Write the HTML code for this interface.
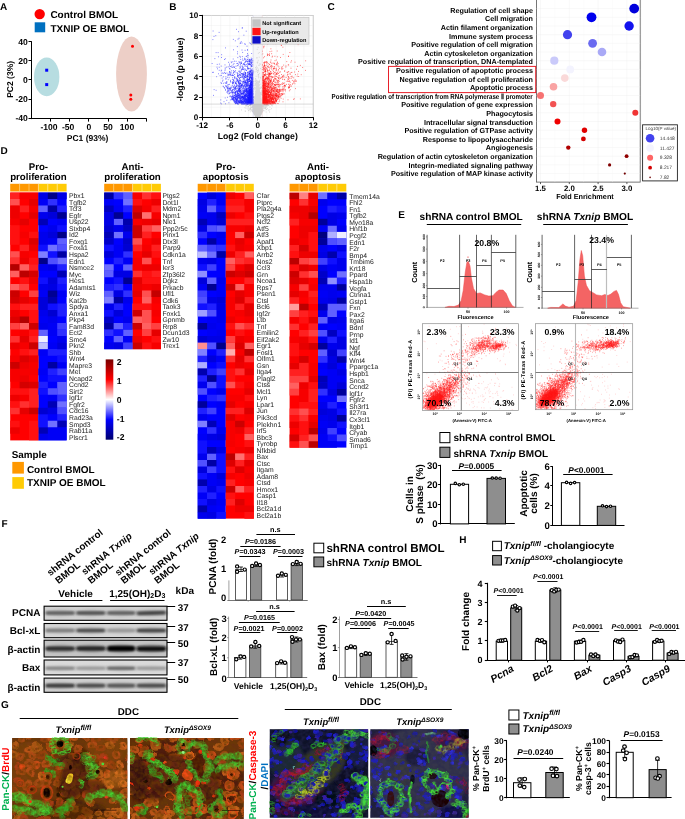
<!DOCTYPE html>
<html lang="en"><head><meta charset="utf-8"><title>Figure</title>
<style>
html,body{margin:0;padding:0;background:#fff;}
body{width:685px;height:819px;overflow:hidden;}
svg{display:block;font-family:"Liberation Sans",Arial,sans-serif;font-weight:bold;}
</style></head><body>
<svg width="685" height="819" viewBox="0 0 685 819" font-family="'Liberation Sans',Arial,sans-serif" font-weight="bold" text-rendering="geometricPrecision">
<rect width="685" height="819" fill="#fff"/>
<text x="0.0" y="10.0" font-size="10">A</text>
<circle cx="39.7" cy="14.1" r="5.2" fill="#FF0000"/>
<text x="50.4" y="17.9" font-size="10">Control BMOL</text>
<rect x="34.7" y="22.3" width="10.5" height="10.0" fill="#0070C0"/>
<text x="50.4" y="31.8" font-size="10">TXNIP OE BMOL</text>
<ellipse cx="46.7" cy="76.9" rx="12.7" ry="19.4" fill="#B7DDE1"/>
<ellipse cx="131.5" cy="74.0" rx="15.4" ry="37.6" fill="#EDCFC7"/>
<line x1="31.5" y1="41.2" x2="31.5" y2="119.1" stroke="#000" stroke-width="1"/>
<line x1="31.0" y1="118.5" x2="146.7" y2="118.5" stroke="#000" stroke-width="1"/>
<line x1="28.5" y1="41.5" x2="31.5" y2="41.5" stroke="#000" stroke-width="1"/>
<text x="27.8" y="44.7" font-size="8.6" text-anchor="end">40</text>
<line x1="28.5" y1="60.5" x2="31.5" y2="60.5" stroke="#000" stroke-width="1"/>
<text x="27.8" y="63.8" font-size="8.6" text-anchor="end">20</text>
<line x1="28.5" y1="79.5" x2="31.5" y2="79.5" stroke="#000" stroke-width="1"/>
<text x="27.8" y="82.9" font-size="8.6" text-anchor="end">0</text>
<line x1="28.5" y1="99.5" x2="31.5" y2="99.5" stroke="#000" stroke-width="1"/>
<text x="27.8" y="102.0" font-size="8.6" text-anchor="end">-20</text>
<line x1="28.5" y1="118.5" x2="31.5" y2="118.5" stroke="#000" stroke-width="1"/>
<text x="27.8" y="121.1" font-size="8.6" text-anchor="end">-40</text>
<line x1="50.5" y1="118.6" x2="50.5" y2="121.6" stroke="#000" stroke-width="1"/>
<text x="49.0" y="130.4" font-size="8.6" text-anchor="middle">-100</text>
<line x1="69.5" y1="118.6" x2="69.5" y2="121.6" stroke="#000" stroke-width="1"/>
<text x="68.1" y="130.4" font-size="8.6" text-anchor="middle">-50</text>
<line x1="88.5" y1="118.6" x2="88.5" y2="121.6" stroke="#000" stroke-width="1"/>
<text x="88.9" y="130.4" font-size="8.6" text-anchor="middle">0</text>
<line x1="108.5" y1="118.6" x2="108.5" y2="121.6" stroke="#000" stroke-width="1"/>
<text x="108.0" y="130.4" font-size="8.6" text-anchor="middle">50</text>
<line x1="127.5" y1="118.6" x2="127.5" y2="121.6" stroke="#000" stroke-width="1"/>
<text x="127.0" y="130.4" font-size="8.6" text-anchor="middle">100</text>
<line x1="146.5" y1="118.6" x2="146.5" y2="121.6" stroke="#000" stroke-width="1"/>
<text x="87.6" y="140.7" font-size="8.5" text-anchor="middle">PC1 (93%)</text>
<text x="12.8" y="79.4" font-size="8.5" text-anchor="middle" transform="rotate(-90 12.8 79.4)">PC2 (3%)</text>
<rect x="45.2" y="68.7" width="3.0" height="3.0" fill="#0000FF"/>
<rect x="45.2" y="83.1" width="3.0" height="3.0" fill="#0000FF"/>
<circle cx="132.5" cy="46.2" r="1.5" fill="#FF0000"/>
<circle cx="130.8" cy="95.1" r="1.5" fill="#FF0000"/>
<circle cx="130.8" cy="99.3" r="1.5" fill="#FF0000"/>
<text x="169.3" y="10.0" font-size="10">B</text>
<rect x="202.2" y="15.4" width="111.0" height="102.0" fill="#FFFFFF" stroke="#A8A8A8" stroke-width="0.7"/>
<line x1="202.2" y1="15.4" x2="202.2" y2="117.4" stroke="#EBEBEB" stroke-width="0.4"/>
<line x1="211.4" y1="15.4" x2="211.4" y2="117.4" stroke="#EBEBEB" stroke-width="0.4"/>
<line x1="220.7" y1="15.4" x2="220.7" y2="117.4" stroke="#EBEBEB" stroke-width="0.4"/>
<line x1="229.9" y1="15.4" x2="229.9" y2="117.4" stroke="#EBEBEB" stroke-width="0.4"/>
<line x1="239.2" y1="15.4" x2="239.2" y2="117.4" stroke="#EBEBEB" stroke-width="0.4"/>
<line x1="248.4" y1="15.4" x2="248.4" y2="117.4" stroke="#EBEBEB" stroke-width="0.4"/>
<line x1="257.7" y1="15.4" x2="257.7" y2="117.4" stroke="#EBEBEB" stroke-width="0.4"/>
<line x1="266.9" y1="15.4" x2="266.9" y2="117.4" stroke="#EBEBEB" stroke-width="0.4"/>
<line x1="276.2" y1="15.4" x2="276.2" y2="117.4" stroke="#EBEBEB" stroke-width="0.4"/>
<line x1="285.4" y1="15.4" x2="285.4" y2="117.4" stroke="#EBEBEB" stroke-width="0.4"/>
<line x1="294.7" y1="15.4" x2="294.7" y2="117.4" stroke="#EBEBEB" stroke-width="0.4"/>
<line x1="303.9" y1="15.4" x2="303.9" y2="117.4" stroke="#EBEBEB" stroke-width="0.4"/>
<line x1="313.2" y1="15.4" x2="313.2" y2="117.4" stroke="#EBEBEB" stroke-width="0.4"/>
<line x1="202.2" y1="117.4" x2="313.2" y2="117.4" stroke="#EBEBEB" stroke-width="0.4"/>
<line x1="202.2" y1="107.2" x2="313.2" y2="107.2" stroke="#EBEBEB" stroke-width="0.4"/>
<line x1="202.2" y1="97.0" x2="313.2" y2="97.0" stroke="#EBEBEB" stroke-width="0.4"/>
<line x1="202.2" y1="86.8" x2="313.2" y2="86.8" stroke="#EBEBEB" stroke-width="0.4"/>
<line x1="202.2" y1="76.6" x2="313.2" y2="76.6" stroke="#EBEBEB" stroke-width="0.4"/>
<line x1="202.2" y1="66.4" x2="313.2" y2="66.4" stroke="#EBEBEB" stroke-width="0.4"/>
<line x1="202.2" y1="56.2" x2="313.2" y2="56.2" stroke="#EBEBEB" stroke-width="0.4"/>
<line x1="202.2" y1="46.0" x2="313.2" y2="46.0" stroke="#EBEBEB" stroke-width="0.4"/>
<line x1="202.2" y1="35.8" x2="313.2" y2="35.8" stroke="#EBEBEB" stroke-width="0.4"/>
<line x1="202.2" y1="25.6" x2="313.2" y2="25.6" stroke="#EBEBEB" stroke-width="0.4"/>
<line x1="202.2" y1="15.4" x2="313.2" y2="15.4" stroke="#EBEBEB" stroke-width="0.4"/>
<rect x="253.1" y="15.4" width="9.2" height="102.0" fill="#F6F6F8"/>
<path d="M257.4 114.7h0M257.2 110.0h0M259.8 105.8h0M257.9 115.8h0M258.8 88.8h0M258.2 109.2h0M257.4 105.4h0M257.0 115.4h0M261.5 103.2h0M252.4 104.4h0M258.8 113.6h0M253.0 107.3h0M258.2 111.6h0M256.3 107.2h0M256.1 83.4h0M253.7 104.6h0M260.6 106.4h0M259.9 107.2h0M254.1 107.4h0M260.4 107.5h0M264.1 108.0h0M256.8 97.7h0M268.9 105.3h0M257.5 99.4h0M258.2 107.3h0M258.7 93.5h0M255.6 112.8h0M260.1 107.7h0M259.6 82.3h0M254.5 108.6h0M258.9 82.2h0M257.5 113.1h0M256.4 106.6h0M257.0 108.5h0M261.0 103.8h0M256.7 101.7h0M269.9 109.5h0M262.0 109.8h0M259.6 109.1h0M258.5 116.3h0M257.5 114.5h0M258.0 114.7h0M260.9 110.0h0M259.7 104.7h0M257.2 110.4h0M258.5 106.6h0M258.0 112.4h0M257.9 114.8h0M255.3 117.0h0M254.8 108.4h0M259.1 109.9h0M261.0 92.8h0M259.1 113.3h0M241.6 110.0h0M257.4 106.7h0M257.1 116.9h0M257.6 112.1h0M266.9 106.3h0M272.6 105.8h0M257.5 113.2h0M255.8 113.7h0M248.6 106.5h0M258.5 108.0h0M255.3 109.6h0M254.0 109.7h0M257.9 91.1h0M261.4 104.8h0M259.4 114.7h0M255.4 88.8h0M254.6 107.0h0M257.0 117.2h0M253.4 113.8h0M255.5 83.9h0M258.8 105.4h0M259.3 103.0h0M260.3 108.5h0M260.7 107.4h0M253.3 79.1h0M260.0 105.0h0M257.2 117.1h0M258.2 91.2h0M257.3 106.9h0M255.1 105.5h0M259.9 92.4h0M258.8 112.1h0M250.0 109.2h0M257.3 106.2h0M250.5 108.4h0M257.6 105.0h0M256.3 71.1h0M246.0 105.2h0M258.3 70.6h0M256.9 107.9h0M259.4 112.9h0M261.7 112.3h0M257.0 96.8h0M255.6 67.7h0M261.8 110.5h0M256.1 108.2h0M257.6 111.1h0M265.3 106.2h0M257.9 110.8h0M260.0 112.4h0M258.2 115.1h0M258.4 77.8h0M256.1 76.3h0M258.3 97.7h0M258.8 106.1h0M255.0 71.9h0M254.7 85.7h0M255.8 85.0h0M258.3 74.8h0M256.9 115.1h0M257.6 114.5h0M257.3 113.7h0M262.4 105.4h0M257.6 114.2h0M257.8 117.1h0M254.0 106.4h0M256.5 104.5h0M251.3 110.6h0M258.7 105.9h0M263.2 110.5h0M257.1 107.7h0M258.5 110.4h0M258.1 95.4h0M259.6 114.5h0M263.5 108.1h0M257.3 112.9h0M259.7 107.8h0M260.5 64.1h0M257.2 62.4h0M259.3 110.2h0M257.7 106.0h0M259.3 105.9h0M257.7 109.1h0M257.5 117.0h0M259.2 105.1h0M252.5 111.7h0M255.7 111.0h0M263.4 107.8h0M260.6 88.0h0M250.9 110.1h0M255.2 105.3h0M259.1 88.0h0M253.8 81.0h0M256.2 104.3h0M256.6 110.1h0M254.8 87.9h0M254.7 108.2h0M258.1 117.3h0M254.3 104.9h0M266.7 105.2h0M258.6 112.4h0M260.3 109.5h0M258.0 98.6h0M249.4 104.4h0M257.7 112.6h0M257.0 117.2h0M256.7 112.3h0M249.6 105.4h0M256.8 107.2h0M258.3 104.9h0M258.7 106.3h0M258.5 112.3h0M258.8 105.3h0M256.8 106.7h0M256.4 112.3h0M257.1 117.0h0M256.1 106.4h0M258.1 110.5h0M261.4 87.5h0M257.8 104.6h0M254.7 105.4h0M254.2 109.3h0M252.9 106.1h0M257.2 116.6h0M256.5 88.0h0M260.8 112.4h0M255.6 114.0h0M268.4 110.1h0M269.9 107.0h0M250.3 104.3h0M248.1 107.8h0M258.2 116.6h0M262.4 105.6h0M259.5 95.5h0M257.1 105.4h0M260.2 109.2h0M258.3 114.5h0M260.3 113.3h0M264.3 104.7h0M257.7 115.8h0M257.8 115.8h0M259.4 81.8h0M252.4 106.8h0M258.5 110.7h0M258.4 112.1h0M257.5 101.2h0M258.7 105.2h0M259.1 107.8h0M264.8 104.2h0M254.0 97.2h0M249.8 104.1h0M258.2 74.7h0M267.6 105.2h0M255.3 114.7h0M261.0 98.7h0M254.2 109.3h0M261.4 104.3h0M258.7 76.2h0M256.7 105.2h0M260.7 108.4h0M256.4 116.2h0M257.4 113.3h0M262.8 106.3h0M258.0 107.8h0M253.4 105.2h0M258.4 108.5h0M256.4 117.0h0M257.7 112.5h0M261.5 104.3h0M257.1 108.5h0M261.1 108.9h0M259.8 113.7h0M253.5 105.1h0M261.5 94.1h0M256.3 67.9h0M257.7 108.6h0M260.9 105.9h0M257.3 57.8h0M258.6 116.5h0M259.9 111.8h0M271.6 105.6h0M257.6 72.6h0M266.4 105.8h0M258.1 110.8h0M257.6 117.4h0M263.2 104.6h0M259.2 110.3h0M263.1 106.2h0M254.7 106.9h0M260.3 110.0h0M263.8 110.1h0M258.9 104.3h0M258.3 116.3h0M255.5 112.3h0M259.5 112.2h0M256.9 96.8h0M260.0 112.1h0M257.9 107.7h0M262.0 106.4h0M256.3 112.7h0M260.7 104.9h0M256.9 109.4h0M246.5 105.6h0M257.8 110.1h0M256.8 94.6h0M258.9 116.3h0M258.3 53.3h0M262.4 104.5h0M257.6 106.1h0M253.5 106.1h0M259.1 108.1h0M262.8 104.6h0M250.4 105.4h0M257.6 109.8h0M256.8 112.8h0M256.0 82.2h0M257.2 113.1h0M247.2 104.5h0M259.2 105.4h0M257.5 114.0h0M245.7 105.8h0M250.8 106.3h0M258.7 92.9h0M257.3 101.6h0M258.4 109.9h0M258.9 102.5h0M258.0 105.6h0M258.6 104.9h0M258.1 113.7h0M256.5 115.7h0M257.1 104.4h0M257.0 98.0h0M256.5 112.0h0M261.6 108.6h0M254.6 113.8h0M257.9 112.4h0M257.9 89.4h0M256.4 82.4h0M258.0 104.3h0M259.9 107.6h0M257.2 105.9h0M254.5 112.0h0M257.1 106.4h0M261.6 104.6h0M258.5 116.5h0M255.0 107.6h0M263.3 105.0h0M261.0 86.8h0M259.4 106.0h0M258.8 109.5h0M257.3 112.8h0M268.8 104.6h0M258.7 104.4h0M255.5 107.3h0M259.9 99.8h0M260.2 108.0h0M258.0 113.0h0M258.9 104.8h0M256.6 115.6h0M259.3 108.2h0M258.2 116.7h0M266.2 109.5h0M258.4 116.5h0M258.5 109.7h0M256.4 66.2h0M260.1 110.3h0M264.6 105.3h0M268.5 104.7h0M258.1 76.2h0M258.8 111.1h0M259.2 114.1h0M269.7 112.2h0M259.7 92.3h0M262.6 105.7h0M250.3 111.8h0M255.0 105.9h0M256.0 107.2h0M257.7 114.2h0M255.8 105.2h0M265.6 108.0h0M257.6 117.4h0M256.8 114.8h0M256.1 80.5h0M257.5 113.2h0M257.4 110.2h0M258.0 110.2h0M259.3 113.7h0M254.5 114.0h0M257.8 114.8h0M260.4 100.8h0M256.0 112.4h0M255.8 100.5h0M255.6 106.2h0M257.2 112.5h0M256.1 105.0h0M259.8 113.0h0M259.1 104.3h0M260.2 107.5h0M258.9 100.7h0M260.1 105.4h0M259.4 81.5h0M257.6 110.8h0M257.0 106.4h0M253.6 104.5h0M257.9 116.8h0M256.2 94.8h0M246.8 105.2h0M258.2 108.1h0M255.1 100.6h0M260.2 104.2h0M260.3 113.0h0M267.1 105.6h0M254.3 105.6h0M255.4 78.5h0M256.3 87.5h0M253.6 96.4h0M258.2 111.4h0M260.7 78.0h0M259.3 117.0h0M259.3 114.9h0M257.2 116.7h0M249.7 108.9h0M255.0 102.8h0M266.1 112.1h0M262.3 84.4h0M256.2 113.6h0M258.6 116.8h0M248.7 110.4h0M257.1 104.5h0M260.4 105.0h0M259.1 108.4h0M257.9 96.9h0M259.4 111.1h0M256.1 107.6h0M254.9 108.7h0M259.2 97.5h0M258.1 113.4h0M255.7 104.8h0M258.0 113.7h0M252.2 106.4h0M258.7 91.4h0M260.1 88.3h0M257.4 70.4h0M261.8 106.6h0M261.1 100.9h0M262.9 109.7h0M253.9 105.9h0M262.5 104.5h0M261.7 105.2h0M258.3 106.6h0M258.0 82.2h0M260.2 94.5h0M254.3 105.6h0M256.1 87.2h0M257.5 106.2h0M254.0 107.2h0M258.7 107.3h0M257.0 111.5h0M259.6 104.7h0M257.0 110.9h0M257.4 114.5h0M261.1 108.8h0M259.5 63.9h0M261.2 109.8h0M254.1 107.8h0M258.0 113.6h0M256.4 116.8h0M264.0 106.6h0M254.5 107.4h0M258.0 95.4h0M250.6 109.1h0M258.4 113.2h0M265.3 108.4h0M250.6 108.2h0M252.7 107.7h0M258.1 108.5h0M255.8 105.2h0M255.1 107.5h0M259.5 100.1h0M259.3 104.6h0M260.2 92.6h0M256.7 103.5h0M254.5 96.8h0M257.0 106.8h0M258.5 69.2h0M261.0 93.9h0M257.2 49.4h0M258.2 109.1h0M255.3 108.5h0M258.7 112.4h0M260.2 95.3h0M256.7 91.0h0M259.2 113.5h0M265.3 107.7h0M258.6 103.9h0M260.4 105.4h0M256.6 115.2h0M250.5 105.3h0M259.8 112.6h0M259.6 114.0h0M257.7 112.8h0M255.2 106.7h0M261.4 105.7h0M259.0 110.4h0M256.1 109.6h0M257.4 88.4h0M257.4 67.9h0M257.7 104.7h0M258.7 93.0h0M259.3 114.7h0M255.5 81.2h0M259.4 112.1h0M248.9 110.7h0M254.1 98.1h0M257.0 82.4h0M257.8 112.4h0M258.2 116.4h0M256.4 114.9h0M257.8 85.0h0M254.9 87.4h0M259.2 110.7h0M258.4 108.5h0M257.1 107.7h0M255.6 102.0h0M258.1 106.6h0M256.8 107.6h0M256.0 85.1h0M259.6 93.4h0M255.7 108.1h0M261.3 105.4h0M251.8 105.3h0M259.2 57.2h0M259.1 105.5h0M255.8 103.0h0M258.1 108.7h0M256.0 107.0h0M258.6 111.6h0M257.9 107.5h0M260.9 107.5h0M244.9 107.7h0M250.2 105.0h0M252.5 106.3h0M260.8 104.3h0M260.0 112.9h0M250.1 109.7h0M259.5 112.5h0M256.9 108.5h0M258.8 103.7h0M258.4 107.2h0M256.7 105.9h0M257.8 72.1h0M251.6 104.5h0M258.7 105.0h0M259.0 117.1h0M257.8 62.0h0M258.0 84.2h0M258.5 105.1h0M258.4 109.4h0M259.5 111.0h0M265.0 108.5h0M259.3 73.4h0M257.6 63.0h0M257.4 100.2h0M262.3 108.8h0M258.6 85.2h0M256.9 116.4h0M259.8 99.0h0M255.6 91.3h0M264.3 106.1h0M261.4 92.2h0M256.9 111.8h0M256.5 57.9h0M253.7 102.2h0M261.7 105.5h0M255.1 81.7h0M253.9 98.6h0M250.1 105.3h0M256.1 112.4h0M261.4 111.9h0M259.4 88.2h0M255.1 112.2h0M260.9 112.9h0M256.3 115.9h0M258.8 91.3h0M267.2 105.1h0M254.7 105.0h0M255.5 94.7h0M255.2 110.0h0M258.3 105.1h0M259.7 80.3h0M255.9 102.9h0M258.5 113.9h0M260.8 103.8h0M258.1 105.5h0M259.2 105.8h0M258.0 101.1h0M256.8 110.5h0M260.3 117.1h0M261.5 106.5h0M258.0 112.5h0M251.5 109.3h0M262.2 104.3h0M257.5 114.1h0M256.0 116.5h0M256.1 69.4h0M265.2 105.9h0M258.9 65.2h0M254.2 103.8h0M246.1 105.9h0M261.1 114.6h0M257.1 116.8h0M260.5 110.3h0M250.2 104.3h0M256.2 114.8h0M266.1 105.4h0M256.5 94.3h0M257.7 111.0h0M258.3 114.4h0M257.6 114.9h0M256.8 104.9h0M258.7 74.5h0M261.2 107.7h0M265.6 107.7h0M258.5 110.6h0M251.6 104.7h0M257.4 116.4h0M255.0 84.0h0M258.5 108.7h0M261.7 105.6h0M255.9 106.4h0M262.1 54.6h0M256.9 80.6h0M256.9 111.9h0M255.2 113.7h0M258.1 111.8h0M256.4 105.4h0M268.6 105.6h0M257.9 117.4h0M253.9 106.2h0M257.1 105.0h0M258.5 115.0h0M267.0 104.9h0M256.8 115.9h0M256.8 113.6h0M254.8 107.3h0M256.0 116.3h0M249.6 104.3h0M262.9 105.6h0M262.3 104.2h0M252.4 106.5h0M257.3 110.5h0M258.4 114.5h0M260.4 102.7h0M257.8 105.6h0M259.5 96.9h0M253.6 97.1h0M261.9 94.7h0M262.3 106.6h0M257.3 105.1h0M257.4 105.0h0M257.7 115.6h0M259.6 115.7h0M258.1 107.4h0M258.1 105.3h0M267.4 108.6h0M259.0 115.3h0M257.5 106.1h0M258.2 115.0h0M259.4 85.2h0M264.0 104.8h0M263.2 106.1h0M255.4 106.8h0M258.0 71.1h0M256.3 110.7h0M259.3 52.5h0M245.2 110.9h0M262.4 105.5h0M256.6 108.4h0M252.8 104.4h0M259.6 105.9h0M259.6 114.9h0M255.7 107.7h0M267.0 104.3h0M249.4 105.2h0M256.6 113.4h0M265.1 105.2h0M259.1 108.1h0M257.1 100.4h0M260.3 102.7h0M257.1 107.1h0M258.1 114.8h0M258.3 108.9h0M259.1 112.8h0M261.7 107.5h0M258.8 100.3h0M261.0 104.4h0M252.6 105.1h0M258.0 105.7h0M259.8 103.0h0M258.1 105.1h0M256.4 106.4h0M258.4 116.3h0M256.4 109.4h0M258.9 95.7h0M260.4 108.9h0M256.3 110.7h0M264.9 110.9h0M247.9 109.0h0M256.6 106.4h0M254.3 104.6h0M244.8 104.2h0M256.6 108.6h0M263.4 105.8h0M255.9 107.4h0M256.1 107.0h0M259.1 111.1h0M261.8 106.2h0M256.3 111.5h0M256.9 103.4h0M256.4 105.5h0M265.7 105.0h0M256.7 116.6h0M254.9 109.4h0M256.9 105.5h0M255.7 102.7h0M256.5 69.2h0M255.9 109.7h0M253.6 104.0h0M252.1 106.5h0M259.7 101.4h0M257.7 89.8h0M260.5 111.2h0M257.4 115.5h0M247.3 106.1h0M256.0 111.8h0M257.6 114.1h0M254.3 104.3h0M256.5 92.1h0M259.8 111.5h0M250.0 104.9h0M256.0 104.3h0M256.5 108.8h0M257.7 114.6h0M257.2 114.3h0M254.6 89.1h0M256.7 117.2h0M253.5 105.7h0M259.6 112.3h0M255.9 79.2h0M256.9 109.4h0M254.9 101.6h0M259.3 116.7h0M255.9 80.0h0M260.5 68.6h0M257.5 109.3h0M256.2 83.4h0M257.8 91.7h0M258.4 114.0h0M255.7 104.6h0M259.8 109.5h0M259.0 116.3h0M259.4 112.8h0M257.7 112.0h0M259.3 105.6h0M259.2 97.4h0M260.3 104.6h0M258.1 87.9h0M256.5 96.5h0M259.1 65.5h0M260.7 113.2h0M257.5 115.1h0M253.2 107.3h0M257.0 112.8h0M255.1 104.6h0M257.2 104.6h0M261.5 99.9h0M257.2 111.3h0M258.3 86.3h0M259.9 99.7h0M259.3 106.1h0M257.4 116.3h0M259.2 96.8h0M260.2 109.0h0M252.1 111.2h0M259.8 112.1h0M259.4 105.7h0M257.2 99.8h0M253.4 105.7h0M258.9 112.8h0M260.4 108.6h0M258.0 116.7h0M258.6 109.6h0M257.1 111.3h0M254.8 107.2h0M257.5 108.3h0M258.6 117.4h0M258.5 104.3h0M252.8 107.5h0M259.5 112.8h0M260.2 77.3h0M265.6 105.9h0M262.5 110.4h0M258.7 115.9h0M255.6 108.3h0M261.8 106.3h0M255.0 97.8h0M258.7 105.7h0M256.3 104.3h0M259.3 107.0h0M253.3 107.8h0M258.9 112.7h0M258.1 113.7h0M257.3 115.0h0M255.8 112.9h0M259.3 107.8h0M256.9 82.1h0M255.7 103.9h0M261.2 94.1h0M255.7 99.5h0M253.8 110.5h0M257.1 111.8h0M258.4 112.0h0M256.7 97.7h0M258.0 107.1h0M257.9 114.4h0M258.1 109.1h0M260.5 96.8h0M257.4 106.4h0M257.6 114.0h0M257.5 107.8h0M265.7 105.2h0M257.1 115.0h0M258.7 93.1h0M256.1 100.8h0M261.0 109.6h0M256.1 109.0h0M258.2 114.1h0M256.0 104.3h0M257.7 88.3h0M258.3 101.3h0M253.5 106.1h0M257.2 111.6h0M256.5 104.8h0M258.2 60.3h0M257.9 113.9h0M269.2 111.0h0M257.9 106.1h0M255.4 99.7h0M257.5 108.0h0M263.7 104.8h0M254.2 107.8h0M257.9 110.4h0M258.4 107.3h0M251.2 107.6h0M266.1 107.5h0M258.9 103.6h0M249.1 105.4h0M258.1 82.1h0M257.1 114.0h0M255.5 99.8h0M255.3 103.2h0M258.7 109.2h0M258.8 114.2h0M255.9 85.1h0M257.0 115.8h0M257.4 104.2h0M259.7 103.5h0M258.5 116.0h0M255.9 116.2h0M259.3 96.9h0M271.5 108.7h0M262.2 88.5h0M259.1 114.3h0M255.8 104.7h0M261.8 105.8h0M258.3 102.7h0M257.3 111.6h0M251.6 107.6h0M245.3 111.4h0M255.8 95.1h0M255.9 93.9h0M254.9 109.8h0M266.8 104.3h0M254.6 104.5h0M261.5 90.9h0M266.6 105.2h0M259.0 107.7h0M256.7 117.1h0M258.8 91.1h0M260.3 98.4h0M258.7 114.9h0M252.4 110.0h0M263.2 104.7h0M257.9 83.7h0M261.4 110.2h0M258.5 105.9h0M258.3 114.6h0M252.7 107.5h0M258.4 110.9h0M259.6 116.7h0M255.6 110.1h0M258.1 110.3h0M257.5 103.3h0M258.1 47.3h0M257.3 114.8h0M256.3 106.1h0M255.0 104.3h0M260.4 93.3h0M250.2 107.7h0M258.5 112.0h0M246.0 108.2h0M257.5 93.9h0M250.5 105.7h0M259.2 108.9h0M258.2 109.9h0M257.3 113.0h0M258.7 84.0h0M256.3 107.8h0M257.4 116.3h0M257.4 111.4h0M250.2 105.6h0M255.6 104.8h0M257.2 93.1h0M260.0 84.3h0M260.6 105.3h0M258.1 117.0h0M261.8 105.0h0M255.8 113.8h0M250.5 104.9h0M265.6 104.4h0M255.8 111.6h0M258.2 115.0h0M264.6 107.8h0M259.0 109.1h0M262.9 106.0h0M256.6 106.0h0M258.4 101.3h0M256.4 106.3h0M257.3 117.2h0M241.3 104.3h0M250.7 108.7h0M258.0 115.8h0M260.5 104.5h0M251.1 107.3h0M259.0 99.9h0M252.9 105.2h0M266.3 109.3h0" stroke="#CFCFCF" stroke-width="0.9" stroke-linecap="round" fill="none"/>
<path d="M253.1 104.1 L262.3 104.1 L263.2 111.3 L260.0 116.9 L255.4 116.9 L252.1 111.3Z" fill="#CDCDCD"/>
<path d="M254.0 104.1 L261.4 104.1 L258.9 80.7 L256.5 80.7Z" fill="#DADADC"/>
<path d="M234.4 97.3h0M249.0 91.7h0M245.0 85.8h0M234.5 95.9h0M249.8 80.6h0M251.9 103.7h0M251.3 103.1h0M244.4 90.1h0M251.1 100.9h0M252.7 79.5h0M240.5 96.7h0M232.9 92.7h0M248.2 64.7h0M251.7 82.4h0M252.2 87.1h0M246.7 70.2h0M252.3 90.5h0M246.5 61.3h0M249.5 99.1h0M246.0 99.6h0M250.2 80.5h0M240.2 97.9h0M250.0 90.1h0M250.9 71.2h0M231.5 97.9h0M248.0 92.9h0M241.7 93.5h0M242.3 66.6h0M250.1 68.3h0M247.5 78.5h0M248.7 103.7h0M251.8 101.1h0M238.7 102.4h0M247.9 61.8h0M237.3 65.6h0M252.7 99.8h0M233.5 82.5h0M252.6 92.6h0M249.8 94.7h0M251.7 103.8h0M248.3 68.6h0M251.5 93.1h0M251.3 94.9h0M250.6 85.0h0M251.1 82.0h0M244.4 102.1h0M247.6 92.5h0M226.3 78.8h0M249.1 100.9h0M249.2 102.9h0M252.5 92.5h0M246.5 90.3h0M247.5 104.0h0M238.5 85.2h0M243.3 90.3h0M238.4 31.7h0M237.3 94.9h0M248.3 95.0h0M247.0 95.9h0M246.5 101.5h0M253.0 88.9h0M247.2 99.5h0M250.3 102.1h0M229.9 75.2h0M248.2 86.6h0M243.1 97.5h0M253.1 81.8h0M229.1 90.6h0M249.7 87.6h0M236.1 95.5h0M237.5 95.1h0M243.7 87.7h0M239.0 97.2h0M240.7 90.3h0M249.9 88.3h0M249.2 64.1h0M245.1 82.1h0M243.9 92.9h0M250.0 101.6h0M243.7 75.0h0M249.7 101.0h0M231.5 92.6h0M240.3 73.0h0M225.0 64.9h0M252.5 96.3h0M230.8 72.2h0M251.4 101.4h0M249.5 102.3h0M247.6 76.6h0M243.9 93.7h0M251.9 95.9h0M238.2 93.4h0M244.9 76.6h0M235.3 101.2h0M238.8 96.0h0M243.9 99.4h0M247.3 97.1h0M247.1 103.8h0M250.3 90.1h0M252.3 100.9h0M237.3 98.3h0M248.2 99.5h0M233.4 86.4h0M247.3 103.4h0M245.8 96.3h0M237.5 97.8h0M246.5 86.3h0M232.3 96.1h0M247.0 89.5h0M220.8 99.9h0M237.5 95.7h0M239.4 97.0h0M252.2 81.0h0M247.1 91.5h0M244.5 64.2h0M235.4 103.7h0M241.9 93.2h0M245.3 72.7h0M246.4 93.2h0M244.1 74.0h0M239.2 80.1h0M246.7 103.4h0M238.9 89.7h0M234.8 77.2h0M251.5 100.0h0M252.1 76.2h0M251.7 102.6h0M235.6 89.0h0M252.4 85.4h0M237.6 92.3h0M252.4 84.9h0M246.3 89.2h0M231.9 65.8h0M251.1 97.4h0M244.0 104.0h0M249.1 99.0h0M248.4 99.2h0M228.6 88.7h0M244.1 94.7h0M252.4 98.2h0M227.9 73.2h0M252.4 91.5h0M247.2 93.6h0M244.7 89.0h0M247.4 76.7h0M250.3 62.3h0M242.9 103.2h0M248.4 91.3h0M246.5 90.0h0M248.2 98.8h0M233.2 97.8h0M237.6 74.9h0M241.9 93.5h0M252.3 94.8h0M240.3 103.3h0M250.6 61.7h0M242.8 76.0h0M244.5 84.8h0M239.0 97.9h0M250.1 73.8h0M251.1 62.8h0M250.2 102.4h0M251.8 78.9h0M249.4 64.6h0M238.6 101.1h0M252.3 84.6h0M252.5 74.5h0M248.7 99.7h0M242.2 97.4h0M242.8 101.2h0M251.0 77.6h0M246.9 103.6h0M247.1 86.8h0M249.9 91.0h0M251.8 93.9h0M236.8 94.0h0M238.9 102.0h0M247.7 80.7h0M244.5 58.3h0M251.9 93.2h0M228.2 86.8h0M243.4 102.5h0M251.2 98.9h0M225.2 67.9h0M249.9 61.0h0M252.7 89.2h0M247.8 55.3h0M252.4 97.5h0M245.6 99.3h0M236.1 100.6h0M233.7 97.6h0M252.2 90.7h0M251.8 90.9h0M233.7 87.4h0M245.3 103.6h0M244.1 102.4h0M240.1 101.6h0M242.3 96.5h0M247.2 85.7h0M250.8 101.1h0M227.3 91.6h0M251.1 102.5h0M243.5 102.0h0M245.2 101.1h0M243.5 91.9h0M247.4 100.4h0M246.6 100.3h0M251.4 99.6h0M227.5 90.8h0M225.4 103.8h0M244.7 77.1h0M242.5 83.7h0M249.8 81.0h0M251.0 99.1h0M252.7 96.0h0M244.0 98.2h0M249.7 89.0h0M233.9 81.3h0M252.3 99.5h0M241.0 83.4h0M232.0 96.3h0M232.3 92.6h0M221.4 103.9h0M246.4 95.2h0M251.9 99.5h0M236.5 83.5h0M251.0 97.2h0M251.2 100.5h0M250.0 97.4h0M233.5 92.1h0M244.5 78.1h0M223.3 76.8h0M240.4 100.2h0M240.8 71.1h0M247.7 101.1h0M239.1 79.7h0M251.3 75.0h0M218.5 56.8h0M230.8 73.7h0M241.9 94.1h0M231.3 75.4h0M227.5 97.3h0M233.7 98.8h0M245.4 99.5h0M244.6 62.9h0M238.6 81.9h0M246.9 78.1h0M233.4 82.9h0M217.6 68.8h0M246.6 102.6h0M239.9 72.0h0M247.9 88.9h0M230.5 74.5h0M253.0 93.2h0M252.9 102.2h0M232.2 94.0h0M241.5 93.4h0M248.0 100.1h0M247.6 72.6h0M241.0 98.0h0M251.9 98.9h0M238.0 93.6h0M239.6 74.8h0M251.5 85.2h0M252.5 75.8h0M250.5 98.9h0M225.5 85.9h0M214.1 89.6h0M250.5 74.6h0M250.9 91.7h0M253.1 101.0h0M249.5 96.9h0M251.7 90.9h0M228.3 90.4h0M247.2 59.3h0M225.1 82.8h0M252.1 88.1h0M239.6 86.3h0M247.2 91.6h0M239.0 61.7h0M244.5 96.3h0M252.3 74.6h0M238.7 89.5h0M245.7 80.3h0M225.4 78.9h0M235.8 103.5h0M248.2 101.7h0M214.9 58.6h0M251.1 89.5h0M242.3 103.3h0M246.9 80.7h0M240.3 98.3h0M235.1 97.8h0M243.3 94.6h0M240.0 75.1h0M239.0 95.6h0M249.0 101.2h0M242.4 73.6h0M233.4 96.3h0M251.2 92.1h0M250.7 97.9h0M252.4 98.3h0M247.0 46.2h0M250.5 98.0h0M245.9 102.2h0M249.3 95.8h0M250.2 64.3h0M245.6 73.0h0M240.4 77.4h0M248.4 101.4h0M235.4 92.5h0M242.9 84.8h0M235.6 98.3h0M247.4 61.9h0M243.7 98.2h0M240.7 98.8h0M242.6 96.5h0M252.2 91.1h0M235.6 83.5h0M246.4 76.0h0M251.6 98.1h0M240.2 43.4h0M238.4 77.4h0M246.8 56.2h0M247.9 95.7h0M232.6 96.1h0M250.5 70.1h0M243.6 91.4h0M239.3 62.8h0M251.3 97.3h0M252.2 95.4h0M244.4 71.1h0M239.3 88.8h0M246.6 89.6h0M249.1 72.9h0M233.7 70.5h0M251.0 85.7h0M235.6 91.5h0M224.5 59.5h0M236.1 72.8h0M240.0 66.7h0M251.3 84.0h0M237.9 87.1h0M249.1 103.0h0M241.5 73.6h0M249.1 100.1h0M249.9 102.5h0M239.0 38.3h0M247.5 83.8h0M252.1 74.2h0M248.2 104.1h0M240.7 101.5h0M249.1 103.1h0M245.7 90.3h0M251.6 100.0h0M240.7 96.8h0M248.1 90.0h0M250.0 77.9h0M250.1 73.7h0M232.4 89.8h0M252.7 79.5h0M252.7 92.6h0M246.2 103.0h0M240.7 81.3h0M242.1 95.2h0M244.1 88.8h0M249.9 70.4h0M252.2 93.5h0M251.3 94.1h0M238.7 82.1h0M245.5 97.0h0M250.4 95.6h0M248.9 100.5h0M236.4 91.0h0M245.9 100.4h0M237.9 100.2h0M249.2 90.4h0M238.0 39.2h0M216.1 52.6h0M237.2 103.0h0M250.2 103.9h0M228.2 79.7h0M240.7 98.7h0M247.6 101.1h0M248.5 103.4h0M250.7 96.9h0M224.4 72.4h0M245.5 102.3h0M251.7 101.4h0M234.3 92.4h0M222.8 73.0h0M245.0 74.4h0M251.4 102.2h0M242.7 91.8h0M250.1 99.3h0M252.8 65.0h0M237.6 51.8h0M245.9 81.6h0M247.0 75.8h0M250.1 89.5h0M247.1 104.0h0M230.9 75.2h0M245.3 103.4h0M225.6 89.4h0M252.2 97.7h0M240.8 65.9h0M244.8 86.6h0M250.2 99.5h0M241.9 101.8h0M250.3 94.0h0M242.1 86.4h0M237.7 93.7h0M252.2 83.0h0M252.4 93.7h0M246.7 85.1h0M237.5 99.2h0M240.0 83.2h0M245.1 101.5h0M223.1 86.2h0M252.3 99.7h0M249.8 95.8h0M233.7 72.1h0M240.5 80.2h0M252.6 102.5h0M249.6 59.6h0M250.0 85.6h0M249.3 101.4h0M252.8 81.0h0M251.7 44.6h0M250.5 76.8h0M250.9 92.3h0M251.7 78.7h0M229.3 88.8h0M231.6 91.1h0M241.0 88.2h0M243.2 98.2h0M246.8 104.0h0M236.0 103.7h0M231.0 72.8h0M245.4 101.9h0M240.0 100.0h0M246.1 102.1h0M243.2 96.6h0M251.8 82.6h0M229.4 68.4h0M251.7 96.6h0M248.6 80.0h0M251.1 88.7h0M251.6 84.7h0M241.7 91.2h0M245.5 95.2h0M241.3 85.7h0M222.1 78.1h0M233.2 59.0h0M230.4 80.4h0M252.7 85.5h0M229.4 93.5h0M226.8 100.3h0M245.8 83.2h0M249.4 98.2h0M247.7 97.5h0M251.8 94.5h0M239.8 56.3h0M235.6 98.3h0M249.5 95.3h0M252.8 99.9h0M234.7 76.8h0M225.5 73.5h0M243.6 102.2h0M231.3 97.1h0M240.8 96.1h0M243.6 85.9h0M222.5 81.1h0M251.9 100.2h0M248.8 64.4h0M252.9 99.2h0M250.7 94.6h0M238.6 83.1h0M236.0 78.7h0M249.5 99.2h0M252.7 84.9h0M250.1 99.1h0M239.7 87.9h0M238.3 97.6h0M252.2 103.0h0M252.9 96.8h0M251.2 102.2h0M244.6 43.9h0M249.1 79.5h0M250.6 102.4h0M248.6 95.3h0M238.5 93.6h0M236.8 102.3h0M252.7 75.3h0M249.9 71.9h0M232.8 83.5h0M249.0 104.0h0M250.4 65.1h0M250.9 86.3h0M242.0 85.2h0M250.6 101.6h0M239.9 89.2h0M249.9 103.0h0M252.9 72.9h0M237.1 101.4h0M233.7 98.8h0M247.4 91.6h0M251.6 99.4h0M233.2 97.9h0M247.1 79.6h0M249.9 100.5h0M250.0 96.1h0M247.4 86.8h0M245.1 69.1h0M252.4 86.3h0M245.9 102.0h0M245.4 82.8h0M251.8 102.1h0M244.9 100.9h0M249.8 94.5h0M251.5 103.0h0M247.5 93.4h0M249.9 81.4h0M242.7 68.5h0M212.1 63.5h0M249.7 101.0h0M249.2 61.0h0M245.4 81.6h0M252.1 94.2h0M248.3 100.3h0M239.5 96.2h0M250.6 104.0h0M239.9 91.3h0M252.8 93.7h0M236.2 90.1h0M249.7 92.6h0M241.5 85.6h0M251.1 77.2h0M216.7 76.7h0M250.6 99.9h0M241.7 63.4h0M252.0 100.1h0M252.6 94.7h0M251.2 100.6h0M235.8 88.2h0M245.0 91.8h0M216.1 90.3h0M241.0 99.8h0M230.7 99.9h0M245.5 99.7h0M247.8 85.5h0M252.8 96.5h0M250.9 75.0h0M253.1 88.9h0M249.4 94.0h0M242.8 82.4h0M251.2 99.6h0M251.2 91.9h0M242.2 66.0h0M252.3 99.8h0M250.8 89.5h0M245.6 95.1h0M225.7 83.2h0M248.8 98.4h0M229.5 73.0h0M239.8 91.4h0M251.5 99.5h0M239.7 88.4h0M232.9 61.7h0M224.6 87.7h0M250.6 84.6h0M249.4 99.6h0M247.4 91.6h0M238.9 102.8h0M236.2 86.3h0M245.1 85.0h0M238.9 82.1h0M240.1 100.6h0M213.3 72.3h0M249.8 94.7h0M236.5 96.0h0M239.5 78.2h0M251.4 100.0h0M250.1 99.0h0M252.6 101.7h0M246.6 94.8h0M252.1 89.8h0M237.9 93.8h0M250.7 93.2h0M252.9 85.7h0M250.9 96.5h0M240.2 86.3h0M234.9 97.6h0M249.4 75.3h0M241.6 70.8h0M227.1 87.1h0M250.3 103.9h0M243.5 81.7h0M249.1 102.9h0M253.0 101.0h0M238.2 104.1h0M249.8 99.0h0M251.6 59.2h0M251.1 97.4h0M243.8 97.4h0M246.3 93.0h0M249.3 103.2h0M252.0 101.2h0M251.9 88.0h0M238.2 98.7h0M233.5 80.0h0M247.9 92.7h0M250.5 60.2h0M242.8 103.2h0M251.0 84.6h0M247.0 82.7h0M249.8 77.5h0M250.4 83.7h0M232.7 75.1h0M249.8 102.5h0M239.5 89.3h0M251.2 100.6h0M242.2 102.1h0M240.5 99.3h0M249.3 94.9h0M243.6 81.8h0M252.7 83.1h0M250.0 98.4h0M240.3 83.3h0M241.2 63.2h0M250.2 97.9h0M239.5 98.8h0M250.9 99.9h0M234.7 71.9h0M237.3 46.6h0M248.4 97.8h0M237.1 103.1h0M241.3 102.5h0M252.4 92.3h0M251.0 59.7h0M226.9 92.2h0M250.3 102.0h0M244.2 91.4h0M247.4 82.8h0M243.7 78.2h0M251.7 102.9h0M247.0 92.9h0M249.4 85.7h0M249.9 97.8h0M245.0 82.7h0M234.7 95.6h0M245.7 59.2h0M245.5 86.8h0M249.0 103.5h0M241.0 97.8h0M252.2 81.3h0M234.7 93.6h0M252.0 95.9h0M248.8 79.6h0M251.3 102.3h0M252.2 101.2h0M243.6 73.1h0M250.8 101.0h0M235.0 94.0h0M247.9 101.9h0M249.3 81.6h0M225.3 58.7h0M245.1 50.3h0M248.8 93.6h0M237.4 80.2h0M251.3 100.6h0M247.9 99.3h0M249.4 93.5h0M251.1 72.3h0M248.2 100.9h0M236.0 96.5h0M250.5 95.1h0M231.5 67.0h0M242.4 104.0h0M235.1 87.1h0M229.5 71.8h0M249.2 96.5h0M247.2 96.8h0M247.1 102.2h0M249.9 64.1h0M246.5 86.9h0M225.8 76.9h0M249.6 62.0h0M236.8 78.7h0M232.1 98.7h0M239.8 95.6h0M248.0 75.1h0M247.8 72.8h0M229.6 64.2h0M251.2 58.1h0M239.0 85.2h0M252.5 70.7h0M243.2 93.5h0M247.9 78.3h0M234.0 66.6h0M250.1 97.2h0M249.5 102.4h0M248.1 103.7h0M233.2 99.4h0M252.2 103.0h0M236.2 100.1h0M245.3 95.3h0M240.6 64.3h0M245.1 64.6h0M236.6 97.4h0M227.2 87.8h0M251.7 89.6h0M231.0 90.4h0M244.8 94.9h0M226.6 83.1h0M250.2 96.7h0M247.4 50.2h0M251.4 63.6h0M252.6 89.5h0M246.0 82.5h0M246.1 102.5h0M243.8 74.4h0M233.7 96.0h0M249.9 81.4h0M232.9 99.6h0M246.0 95.9h0M248.6 97.4h0M236.6 100.4h0M243.2 92.1h0M239.3 101.4h0M242.8 76.5h0M250.5 64.1h0M243.1 79.3h0M250.2 103.7h0M244.4 64.6h0M240.6 75.4h0M246.2 88.4h0M249.3 98.7h0M246.3 91.8h0M245.2 102.5h0M253.0 97.4h0M237.3 79.2h0M249.7 99.2h0M244.0 100.8h0M241.5 62.9h0M250.3 89.5h0M237.1 79.1h0M237.5 81.8h0M249.1 73.6h0M220.7 103.1h0M245.8 102.6h0M252.2 78.0h0M238.9 101.4h0M245.4 86.7h0M248.0 79.6h0M249.6 100.4h0M250.9 95.4h0M241.1 97.8h0M250.9 100.1h0M252.0 100.6h0M248.3 92.3h0M250.5 93.3h0M241.9 101.4h0M250.8 102.9h0M247.6 94.8h0M247.7 84.3h0M246.9 101.3h0M228.1 87.9h0M253.0 73.2h0M236.8 96.2h0M240.7 59.4h0M246.7 94.5h0M248.7 90.6h0M239.5 80.5h0M229.3 74.5h0M241.9 84.3h0M246.6 100.7h0M251.5 66.6h0M244.9 92.4h0M247.4 65.9h0M247.7 91.3h0M248.0 95.9h0M241.3 77.0h0M249.3 96.4h0M246.9 96.5h0M248.0 75.1h0M250.9 84.7h0M252.8 100.6h0M252.3 77.3h0M251.1 99.9h0M252.3 99.1h0M236.6 81.0h0M246.0 100.5h0M235.9 68.5h0M247.0 102.5h0M227.3 77.3h0M252.4 102.0h0M252.8 84.0h0M240.7 102.0h0M250.9 100.8h0M241.3 84.5h0M246.9 99.2h0M249.8 42.9h0M237.8 100.7h0M250.6 101.4h0M247.7 81.5h0M252.3 91.7h0M238.8 103.5h0M245.8 77.4h0M242.4 93.6h0M226.5 86.4h0M247.9 95.6h0M217.2 64.4h0M250.7 96.1h0M238.4 104.1h0M232.8 75.5h0M244.0 104.0h0M233.1 94.2h0M239.3 89.1h0M236.8 94.6h0M212.9 39.6h0M241.1 97.4h0M247.2 98.8h0M223.8 73.4h0M233.7 72.4h0M238.5 97.3h0M235.4 98.6h0M241.3 101.1h0M228.7 91.4h0M249.1 61.2h0M252.0 60.4h0M235.4 101.2h0M235.2 88.6h0M223.4 86.8h0M234.3 102.1h0M249.0 102.1h0M227.5 93.0h0M236.9 98.8h0M236.7 85.2h0M251.8 92.9h0M237.1 99.8h0M239.8 98.4h0M247.3 61.3h0M246.1 89.6h0M232.4 77.7h0M245.5 70.0h0M251.5 81.3h0M251.1 85.3h0M236.2 101.6h0M240.4 95.8h0M249.5 75.9h0M252.7 93.5h0M251.9 72.8h0M245.2 82.3h0M236.8 96.5h0M244.4 97.1h0M250.8 60.1h0M245.1 77.6h0M249.5 63.4h0M250.0 64.7h0M241.2 41.7h0M240.6 90.7h0M229.0 93.0h0M251.8 63.8h0M232.6 82.9h0M236.0 99.3h0M245.3 74.4h0M238.7 89.7h0M246.6 101.0h0M251.2 93.6h0M244.6 98.8h0M247.4 90.5h0M235.2 87.9h0M250.9 68.2h0M247.4 49.7h0M251.2 89.7h0M247.0 90.7h0M248.4 103.7h0M250.2 101.9h0M248.9 87.5h0M242.7 52.4h0M247.5 53.6h0M243.3 69.6h0M239.2 96.2h0M241.5 97.9h0M253.0 91.0h0M250.2 92.4h0M251.5 74.2h0M239.3 83.6h0M238.9 81.8h0M253.1 103.3h0M242.6 104.0h0M246.4 64.4h0M242.0 73.6h0M252.9 100.4h0M250.6 74.5h0M251.7 59.9h0M249.2 68.6h0M244.0 97.4h0M246.6 83.8h0M252.2 75.0h0M251.6 81.5h0M249.1 101.5h0M247.4 85.8h0M240.9 85.4h0M250.9 82.7h0M243.1 96.4h0M250.9 101.5h0M242.0 75.8h0M250.9 92.6h0M242.4 89.8h0M246.4 90.8h0M252.9 103.2h0M246.2 99.5h0M235.4 99.1h0M245.0 95.7h0M248.0 79.7h0M249.9 85.7h0M230.6 92.8h0M244.3 59.7h0M241.5 100.6h0M252.2 102.7h0M248.0 102.6h0M240.0 94.4h0M248.5 92.1h0M248.5 97.5h0M223.0 80.1h0M246.1 101.0h0M252.5 102.0h0M229.6 84.4h0M250.9 87.9h0M252.3 92.5h0M248.0 102.3h0M236.1 81.2h0M244.2 101.0h0M239.2 94.0h0M239.6 102.4h0M246.7 100.4h0M251.9 85.0h0M248.0 98.9h0M239.2 99.6h0M246.7 84.3h0M246.0 101.2h0M252.2 91.3h0M244.7 100.4h0M239.2 91.9h0M232.4 97.7h0M219.2 70.3h0M245.1 101.5h0M244.8 101.8h0M238.6 82.7h0M237.4 75.0h0M251.6 97.7h0M252.4 89.8h0M237.0 96.4h0M238.2 95.9h0M237.5 98.3h0M245.9 104.1h0M251.9 82.8h0M228.1 84.8h0M251.0 70.1h0M237.3 101.9h0M247.1 85.2h0M253.0 103.4h0M247.6 69.0h0M248.3 63.8h0M233.8 67.2h0M242.0 43.0h0M243.9 92.7h0M247.9 96.2h0M244.2 88.8h0M249.9 98.7h0M244.3 92.0h0M246.3 85.5h0M250.5 91.5h0M249.0 79.5h0M237.9 76.8h0M244.0 99.2h0M248.8 95.5h0M237.7 73.4h0M244.8 81.5h0M250.1 94.1h0M247.5 97.9h0M247.5 80.3h0M236.6 99.9h0M249.7 78.5h0M239.8 84.1h0M240.5 83.2h0M249.1 103.1h0M247.5 103.6h0M232.7 99.3h0M247.9 102.2h0M233.2 79.4h0M244.7 96.2h0M249.1 93.0h0M237.5 63.4h0M229.5 65.9h0M245.9 94.8h0M250.9 98.7h0M221.2 66.1h0M248.0 71.9h0M234.6 95.5h0M251.5 65.7h0M245.8 95.5h0M241.8 99.0h0M252.8 96.1h0M247.1 104.0h0M247.3 79.8h0M248.0 84.9h0M240.8 100.5h0M252.8 85.8h0M241.3 98.0h0M250.3 72.0h0M242.4 97.3h0M252.6 97.7h0M240.2 87.8h0M244.2 101.9h0M250.1 97.9h0M246.3 96.4h0M224.0 101.7h0M249.6 71.7h0M249.6 89.4h0M247.2 103.5h0M233.2 73.4h0M249.2 79.1h0M247.1 99.8h0M240.8 77.6h0M230.0 89.1h0M247.0 76.8h0M251.7 99.2h0M235.6 93.5h0M251.9 93.9h0M250.1 104.1h0M251.8 102.6h0M247.3 94.5h0M244.2 98.2h0M238.0 91.1h0M250.8 92.3h0M244.6 96.1h0M247.5 97.2h0M241.2 89.5h0M248.9 102.7h0M239.7 90.6h0M248.1 97.4h0M229.8 96.3h0M246.7 101.1h0M239.5 84.7h0M245.7 95.2h0M249.8 78.1h0M245.4 73.5h0M247.2 81.7h0M252.7 100.1h0M244.5 93.1h0M250.3 101.0h0M240.1 83.1h0M249.3 86.8h0M251.2 88.5h0M250.7 92.3h0M248.4 90.7h0M251.3 93.2h0M241.1 101.6h0M248.5 85.0h0M243.2 87.4h0M234.2 88.5h0M249.9 94.4h0M230.9 88.5h0M235.6 95.9h0M245.6 44.2h0M239.9 102.1h0M241.3 103.5h0M219.1 32.4h0M249.2 72.8h0M250.6 75.0h0M243.9 103.9h0M238.5 90.5h0M247.9 103.7h0M248.0 103.0h0M252.1 88.1h0M251.5 101.3h0M248.8 98.7h0M221.5 57.5h0M245.8 76.9h0M249.0 60.4h0M232.3 79.6h0M249.8 102.5h0M245.3 77.6h0M245.5 100.4h0M246.8 99.8h0M244.2 92.1h0M252.7 81.2h0M236.0 66.2h0M247.6 100.2h0M247.7 81.9h0M239.7 94.9h0M243.8 101.2h0M233.8 100.1h0M237.1 96.3h0M240.5 92.5h0M247.2 89.5h0M250.0 94.6h0M253.1 78.0h0M249.4 74.4h0M243.0 88.1h0M240.8 101.8h0M234.3 97.8h0M228.3 74.7h0M238.9 74.0h0M245.9 85.0h0M246.4 92.0h0M251.1 100.0h0M250.6 89.8h0M250.4 93.4h0M243.4 94.1h0M244.3 72.8h0M252.9 60.7h0M250.3 103.5h0M234.9 88.7h0M243.4 99.9h0M234.1 97.4h0M236.9 99.4h0M242.5 85.9h0M247.3 93.1h0M252.2 87.2h0M238.4 101.2h0M243.1 81.1h0M251.7 74.1h0M252.0 99.4h0M251.9 93.1h0M249.5 98.2h0M245.3 96.2h0M233.7 80.5h0M251.6 100.0h0M253.0 97.6h0M251.6 84.5h0M250.1 103.5h0M235.4 94.4h0M245.8 94.3h0M234.8 71.6h0M245.0 100.8h0M246.6 66.3h0M246.5 85.7h0M242.8 93.3h0M242.4 99.2h0M242.9 69.2h0M252.0 96.6h0M240.8 86.5h0M229.9 92.2h0M251.3 98.2h0M237.5 80.6h0M250.2 87.0h0M239.7 85.1h0M252.8 94.6h0M248.2 88.8h0M247.9 101.8h0M239.2 98.1h0M233.5 97.4h0M243.2 75.4h0M251.5 82.5h0M252.2 58.9h0M252.8 83.1h0M247.3 100.8h0M246.8 92.3h0M246.4 101.9h0M243.8 98.0h0M247.0 94.4h0M240.1 72.4h0M246.8 80.2h0M249.0 102.2h0M252.5 94.4h0M235.1 98.2h0M251.0 92.0h0M246.2 56.5h0M249.7 90.4h0M246.4 103.6h0M245.7 61.8h0M248.6 89.3h0M237.6 103.0h0M237.4 103.8h0M247.2 101.8h0M245.1 103.9h0M251.0 100.0h0M252.0 102.6h0M250.4 92.0h0M251.2 75.7h0M246.3 99.2h0M249.6 73.6h0M252.5 81.9h0M241.7 69.2h0M251.8 103.1h0M238.3 88.2h0M237.1 98.3h0M244.5 100.6h0M245.9 98.5h0M242.1 97.9h0M249.1 86.9h0M252.0 77.6h0M244.5 99.7h0M251.6 92.4h0M244.3 82.2h0M247.2 95.1h0M225.2 97.9h0M241.3 100.1h0M240.0 74.7h0M242.9 102.7h0M241.1 100.3h0M245.3 82.7h0M251.8 86.4h0M251.7 93.5h0M240.0 83.5h0M252.5 100.7h0M247.2 83.9h0M236.2 85.0h0M246.6 89.8h0M244.0 100.5h0M215.8 35.7h0M245.3 72.7h0M249.6 81.5h0M237.4 53.8h0M245.0 97.7h0M247.3 76.9h0M230.0 69.0h0M239.3 100.8h0M251.0 90.2h0M250.1 97.3h0M251.7 101.4h0M237.3 99.6h0M248.6 98.9h0M246.8 103.9h0M245.9 96.0h0M252.9 71.8h0M247.2 104.1h0M252.8 102.4h0M237.6 88.4h0M244.3 99.3h0M252.8 83.8h0M232.4 82.0h0M243.1 74.9h0M251.0 91.3h0M249.2 95.6h0M250.4 83.7h0M242.4 77.7h0M240.7 88.0h0M221.2 70.9h0M242.6 97.2h0M248.0 83.5h0M218.5 73.8h0M245.7 93.5h0M235.3 97.2h0M251.6 88.2h0M232.4 98.8h0M238.7 64.2h0M251.4 101.7h0M244.6 97.1h0M245.7 77.1h0M240.6 100.8h0M250.7 102.8h0M245.6 103.8h0M244.9 95.0h0M234.2 87.9h0M249.7 98.1h0M244.6 95.5h0M240.1 91.6h0M248.2 88.4h0M250.2 97.3h0M252.9 102.5h0M252.4 95.1h0M230.5 81.6h0M230.4 87.6h0M242.2 103.9h0M247.0 99.0h0M241.0 102.9h0M243.3 95.9h0M244.6 95.2h0M251.7 82.5h0M233.0 87.2h0M251.5 89.1h0M235.3 103.3h0M226.8 83.1h0M249.0 61.8h0M231.2 61.9h0M249.5 89.8h0M247.1 98.2h0M235.2 86.6h0M248.0 90.9h0M252.7 94.1h0M243.0 81.5h0M240.9 92.7h0M240.5 90.6h0M248.3 68.9h0M252.3 78.5h0M252.7 87.0h0M233.0 99.1h0M247.1 99.8h0M237.8 90.6h0M241.5 97.2h0M242.0 50.0h0M247.0 96.9h0M249.1 92.8h0M246.8 90.6h0M251.0 101.8h0M248.6 83.8h0M242.2 101.9h0M232.9 91.0h0M251.1 75.7h0M231.6 99.6h0M232.3 99.3h0M253.1 71.2h0M234.6 85.7h0M238.7 83.5h0M229.5 88.3h0M249.0 99.3h0M243.3 101.6h0M228.6 62.3h0M249.6 84.2h0M239.1 101.8h0M234.3 77.4h0M248.5 102.4h0M248.9 79.4h0M245.2 75.1h0M250.9 102.3h0M247.7 68.3h0M250.9 102.9h0M235.6 102.4h0M239.3 102.6h0M249.5 85.9h0M252.7 97.3h0M249.6 78.2h0M237.4 76.5h0M243.6 83.3h0M251.4 96.1h0M248.7 98.6h0M236.3 99.8h0M248.2 98.5h0M228.2 84.7h0M244.9 95.9h0M242.6 69.5h0M249.4 99.1h0M251.7 92.7h0M234.8 101.0h0M247.1 73.1h0M240.4 80.3h0M221.0 82.7h0M248.5 92.0h0M248.8 94.2h0M245.2 62.3h0M251.2 62.2h0M240.3 67.6h0M229.6 71.8h0M247.2 74.2h0M250.1 80.9h0M245.2 95.0h0M250.3 77.4h0M236.7 102.5h0M250.0 96.3h0M246.4 89.5h0M225.5 47.9h0M247.4 102.2h0M252.2 92.1h0M242.1 93.8h0M246.4 96.8h0M246.3 100.9h0M246.1 99.2h0M248.3 92.7h0M250.2 103.2h0M250.9 97.1h0M234.0 63.6h0M249.7 78.8h0M245.8 90.9h0M243.6 103.4h0M252.2 86.1h0M238.5 95.6h0M221.7 70.2h0M248.6 103.0h0M243.0 85.6h0M249.9 103.4h0M244.7 103.5h0M236.4 86.3h0M249.0 94.2h0M249.8 100.7h0M250.6 76.1h0M245.5 82.6h0M247.7 76.3h0M241.8 85.5h0M246.8 90.1h0M250.4 43.7h0M243.6 86.5h0M251.8 97.4h0M249.8 73.2h0M252.9 94.5h0M227.7 75.0h0M237.2 97.7h0M249.8 83.8h0M248.6 82.6h0M247.7 80.0h0M242.4 74.6h0M246.9 79.2h0M248.3 100.2h0M233.9 89.4h0M235.5 91.9h0M252.6 80.0h0M250.0 93.5h0M253.1 99.2h0M239.4 78.4h0M240.4 93.8h0M236.6 84.1h0M250.2 91.4h0M241.7 81.2h0M250.3 98.0h0M247.8 102.4h0M247.7 82.0h0M242.3 100.8h0M236.6 101.9h0M235.7 101.2h0M251.8 99.4h0M244.0 98.7h0M235.8 82.5h0M242.8 99.0h0M248.1 97.6h0M250.3 94.8h0M248.5 103.9h0M251.5 96.6h0M251.5 100.9h0M249.5 89.7h0M245.7 97.9h0M243.8 78.3h0M237.0 96.5h0M221.8 73.2h0M242.8 92.9h0M248.1 101.7h0M226.0 86.0h0M251.8 61.4h0M249.7 91.3h0M230.6 96.0h0M244.5 85.2h0M250.4 87.8h0M237.6 103.4h0M249.1 102.0h0M251.1 91.7h0M250.7 77.9h0M251.8 88.1h0M235.0 92.5h0M213.6 95.4h0M234.5 78.7h0M241.6 102.3h0M237.0 97.2h0M238.7 94.7h0M235.7 103.3h0M245.1 75.4h0M248.6 90.9h0M252.8 93.2h0M252.0 71.9h0M239.0 94.2h0M237.9 80.7h0M241.4 103.9h0M232.0 98.1h0M252.7 62.1h0M249.1 103.4h0M236.3 99.9h0M251.1 66.4h0M239.4 88.5h0M251.3 95.3h0M251.7 53.5h0M236.6 103.4h0M238.2 91.9h0M244.6 101.4h0M244.1 76.1h0M251.3 69.7h0M246.3 98.9h0M249.7 93.9h0M240.1 89.2h0M225.5 90.3h0M252.9 97.6h0M248.4 101.9h0M246.3 103.5h0M238.1 80.6h0M235.3 97.6h0M236.8 100.0h0M243.0 88.4h0M234.4 100.8h0M247.8 74.8h0M250.1 102.3h0M237.0 79.4h0M240.0 77.3h0M244.0 89.8h0M221.4 83.4h0M239.7 88.3h0M244.6 79.7h0M242.5 101.7h0M246.1 94.8h0M246.0 90.1h0M247.5 95.7h0M246.1 96.2h0M251.9 103.9h0M237.1 95.0h0M245.6 88.8h0M247.4 99.5h0M252.9 70.3h0M248.2 103.1h0M225.2 69.0h0M249.6 99.2h0M238.1 75.5h0M245.2 95.7h0M249.8 77.4h0M228.2 66.9h0M251.6 89.3h0M237.4 93.0h0M251.1 103.1h0M236.6 102.9h0M232.4 83.8h0M245.1 65.9h0M242.0 94.6h0M249.5 60.0h0M236.7 101.8h0M249.8 97.1h0M242.5 97.3h0M245.8 75.4h0M250.6 83.0h0M248.1 55.3h0M248.1 88.4h0M251.6 95.4h0M240.9 86.2h0M247.8 103.6h0M251.4 90.6h0M250.7 98.1h0M241.0 63.4h0M244.0 99.1h0M242.1 98.5h0M234.0 101.0h0M249.3 94.5h0M251.3 100.2h0M248.0 95.7h0M235.3 94.7h0M245.0 95.5h0M234.5 61.2h0M246.2 60.7h0M238.8 95.5h0M249.1 101.7h0M245.4 91.3h0M250.2 100.9h0M248.0 84.8h0M243.3 104.1h0M237.6 93.9h0M252.2 99.2h0M250.1 75.3h0M243.1 97.2h0M249.5 98.4h0M249.0 97.0h0M233.5 75.4h0M238.1 65.3h0M239.8 102.0h0M252.5 101.2h0M249.3 91.6h0M231.5 87.7h0M246.1 99.4h0M235.6 96.5h0M247.6 66.9h0M248.7 102.4h0M250.3 76.9h0M240.2 83.8h0M248.9 98.8h0M241.2 96.5h0M250.5 94.6h0M240.7 85.2h0M244.2 100.7h0M249.6 92.1h0M245.0 90.3h0M236.9 63.5h0M245.2 103.4h0M251.1 88.9h0M234.1 101.6h0M248.7 72.1h0M238.5 102.1h0M238.6 75.8h0M246.5 101.3h0M239.6 97.3h0M251.3 101.2h0M246.6 101.8h0M247.0 90.5h0M243.0 95.1h0M219.3 64.1h0M221.4 75.4h0M243.5 77.2h0M242.5 102.0h0M249.4 102.4h0M243.4 102.3h0M237.8 75.6h0M233.2 64.7h0M248.3 101.5h0M235.2 82.5h0M247.3 97.0h0M251.0 74.6h0M245.4 75.4h0M247.9 97.6h0M244.1 80.4h0M246.6 70.5h0M235.2 89.3h0M247.5 98.7h0M226.1 73.0h0M248.5 102.7h0M232.3 90.1h0M243.0 90.6h0M246.5 90.2h0M251.9 62.6h0M251.7 101.7h0M239.1 85.9h0M232.6 82.2h0M249.7 78.9h0M251.0 91.6h0M234.7 101.0h0M243.7 64.1h0M235.9 94.9h0M244.9 98.5h0M212.7 72.4h0M238.8 97.7h0M236.6 92.0h0M233.1 95.8h0M226.4 81.9h0M245.6 90.0h0M232.7 90.2h0M237.4 92.0h0M237.4 72.9h0M240.0 103.3h0M251.4 102.8h0M242.5 97.3h0M249.3 94.2h0M252.1 64.8h0M230.3 88.7h0M245.7 97.8h0M241.5 96.6h0M252.1 102.0h0M247.8 101.9h0M246.2 31.2h0M252.8 98.9h0M252.3 91.8h0M248.6 85.3h0M242.8 88.3h0M248.6 81.8h0M238.5 81.7h0M245.1 93.4h0M248.9 103.5h0M245.2 87.7h0M250.5 71.5h0M226.7 67.2h0M231.9 91.6h0M250.7 98.9h0M253.0 97.0h0M247.7 88.7h0M251.6 73.5h0M247.9 63.7h0M248.1 98.0h0M236.6 29.3h0M251.7 96.4h0M242.8 96.3h0M242.3 56.6h0M252.8 95.3h0M242.2 99.4h0M237.7 85.1h0M251.8 62.6h0M252.1 84.6h0M247.7 101.5h0M233.0 92.8h0M233.3 39.4h0M243.6 98.6h0M243.9 35.2h0M239.2 71.1h0M246.5 90.2h0M252.8 91.5h0M242.4 101.4h0M246.5 88.9h0M246.1 104.1h0M251.9 83.6h0M251.3 99.3h0M232.5 67.4h0M235.5 87.5h0M247.4 103.8h0M246.0 99.5h0M252.1 84.7h0M251.7 100.0h0M248.3 93.3h0M250.9 95.6h0M238.0 97.1h0M233.2 100.4h0M251.7 87.9h0M245.5 61.2h0M251.7 81.5h0M239.2 95.9h0M251.4 88.5h0M235.3 92.4h0M245.1 84.2h0M241.3 94.4h0M250.5 93.8h0M243.1 64.6h0M242.9 97.2h0M249.9 87.5h0M236.3 99.0h0M239.9 68.3h0M250.2 97.1h0M252.2 98.1h0M245.0 80.6h0M240.6 57.1h0M253.1 102.9h0M252.6 94.9h0M252.7 91.9h0M240.6 100.1h0M228.9 94.0h0M243.3 98.8h0M248.2 68.1h0M244.4 103.5h0M248.6 88.3h0M246.9 91.5h0M246.2 94.3h0M221.7 54.7h0M238.0 101.4h0M252.6 75.0h0M239.1 86.4h0M248.4 98.9h0M247.9 96.9h0M252.2 41.4h0M251.6 82.8h0M232.4 75.2h0M251.9 73.7h0M231.0 90.5h0M249.7 71.7h0M251.5 97.7h0M234.7 74.5h0M242.2 28.1h0M235.7 99.5h0M248.2 97.1h0M252.3 94.8h0M244.5 83.2h0M243.9 78.9h0M248.0 95.1h0M236.0 82.1h0M236.4 88.7h0M246.5 89.9h0M252.1 102.5h0M248.4 101.9h0M252.5 83.5h0M236.7 86.8h0M250.2 82.8h0M231.2 86.1h0M249.9 90.3h0M246.8 98.8h0M251.1 71.0h0M249.2 92.2h0M252.3 98.2h0M243.4 92.7h0M242.1 77.2h0M247.4 104.1h0M249.9 86.3h0M251.3 103.8h0M244.6 104.0h0M249.3 96.1h0M250.2 104.1h0M249.3 99.5h0M248.2 95.1h0M247.5 97.5h0M252.8 74.5h0M236.3 91.8h0M253.0 99.8h0M231.7 62.7h0M251.4 92.7h0M242.8 102.0h0M248.3 87.9h0M239.1 86.5h0M241.0 95.8h0M252.2 103.9h0M230.4 66.5h0M250.7 97.1h0M250.3 71.5h0M231.7 70.8h0M242.4 84.6h0M249.8 96.1h0M251.8 77.9h0M250.5 101.7h0M249.0 87.0h0M240.4 91.0h0M229.1 77.7h0M250.1 91.4h0M250.8 99.6h0M251.1 102.8h0M247.7 67.3h0M239.7 102.5h0M250.0 89.2h0M243.7 103.7h0M251.8 90.4h0M241.6 102.7h0M234.6 99.1h0M242.0 90.9h0M246.2 90.9h0M234.7 90.0h0M237.3 85.8h0M213.1 31.0h0M250.0 90.1h0M245.8 99.6h0M234.1 99.5h0M237.6 92.0h0M246.1 83.2h0M233.0 98.5h0M239.3 91.9h0M252.7 93.8h0M243.6 97.7h0M251.7 93.2h0M252.2 101.0h0M245.7 96.8h0M244.4 91.1h0M246.9 101.7h0M252.8 90.7h0M249.0 96.9h0M248.3 81.3h0M244.6 76.7h0M253.0 101.8h0M250.2 96.5h0M246.7 95.9h0M245.9 89.5h0M231.1 96.5h0M242.2 102.9h0M236.0 95.6h0M240.2 98.2h0M250.1 77.7h0M252.1 95.4h0M234.0 81.2h0M247.6 75.6h0M245.1 66.0h0M245.0 99.0h0M251.0 92.8h0M252.4 101.2h0M227.1 87.8h0M245.2 102.2h0M249.3 61.5h0M237.0 91.3h0M241.3 69.4h0M251.2 92.3h0M242.2 93.3h0M245.1 101.5h0M237.3 90.2h0M248.5 74.0h0M218.1 52.6h0M252.2 96.1h0M245.6 99.1h0M236.1 61.3h0M251.2 92.5h0M245.5 91.6h0M233.8 100.3h0M241.3 102.4h0M235.7 94.1h0M249.9 103.3h0M251.9 102.8h0M237.3 103.5h0M244.0 90.7h0M251.8 89.9h0M245.7 97.3h0M230.9 82.1h0M251.5 102.3h0M252.4 99.1h0M240.4 42.9h0M235.1 92.4h0M241.7 101.9h0M250.0 101.8h0M241.3 86.9h0M249.3 99.0h0M224.7 88.1h0M241.4 104.0h0M241.4 87.4h0M234.7 90.8h0M251.6 100.0h0M239.9 102.7h0M251.7 99.4h0M233.2 89.5h0M249.7 90.2h0M242.3 27.8h0M250.6 89.7h0M248.2 93.3h0M237.5 103.8h0M244.2 97.6h0M241.7 73.9h0M245.2 87.1h0M248.8 99.2h0M244.2 91.0h0M249.9 80.0h0M244.4 96.6h0M249.4 73.8h0M252.2 87.7h0M252.8 72.4h0M238.9 96.8h0M245.8 84.5h0M250.9 96.6h0M233.8 83.1h0M242.1 102.2h0M250.0 99.2h0M252.7 87.4h0M242.5 59.0h0M243.0 60.5h0M245.2 91.6h0M249.0 93.7h0M247.6 100.4h0M240.9 91.6h0M245.0 59.1h0M235.1 102.5h0M252.7 84.4h0M241.7 85.6h0M244.4 103.5h0M245.6 73.2h0M241.6 103.3h0M251.4 65.3h0M243.2 101.0h0M237.8 57.6h0M240.1 74.9h0M251.9 93.9h0M232.3 96.4h0M251.1 70.9h0M237.8 104.0h0M252.3 90.8h0M251.7 90.0h0M250.6 97.4h0M251.1 93.8h0M252.5 86.6h0M240.1 62.4h0M234.8 102.7h0M227.7 89.2h0M237.9 100.7h0M243.4 63.7h0M244.6 97.3h0M239.5 82.1h0M245.4 98.6h0M246.3 82.7h0M249.8 101.3h0M244.8 85.7h0M252.2 98.9h0M249.2 79.4h0M248.5 102.6h0M244.8 69.0h0M241.0 92.5h0M239.4 91.0h0M250.6 84.4h0M251.4 98.0h0M229.3 88.2h0M244.1 82.7h0M244.6 95.8h0M243.0 103.7h0M247.7 103.5h0M223.3 83.3h0M250.9 72.2h0M248.9 76.7h0M239.9 87.6h0M236.2 98.5h0M230.6 89.4h0M235.4 70.7h0M249.4 95.3h0M247.5 102.8h0M227.0 81.9h0M244.7 90.5h0M238.6 90.4h0M244.5 99.0h0M249.9 85.6h0M247.9 57.3h0M249.0 92.0h0M251.7 96.8h0M252.1 92.7h0M249.0 59.2h0M252.4 73.6h0M228.9 102.8h0M240.1 95.4h0M246.2 88.1h0M243.7 69.0h0M234.2 84.9h0M239.8 102.8h0M252.1 66.5h0M247.4 93.3h0M250.4 87.4h0M252.3 90.6h0M236.3 101.0h0M235.3 40.8h0M233.6 49.8h0M243.2 73.9h0M232.6 85.7h0M239.3 100.6h0M247.9 97.5h0M228.6 75.2h0M252.3 103.1h0M248.1 102.8h0M229.0 89.7h0M240.6 93.9h0M243.8 92.8h0M251.2 101.5h0M244.3 76.4h0M246.0 103.1h0M252.5 87.0h0M251.1 99.2h0M246.2 80.1h0M245.9 94.9h0M246.6 91.6h0M251.3 91.0h0M247.7 82.5h0M252.6 85.7h0M247.4 59.7h0M248.6 94.6h0M248.3 91.3h0M249.0 85.6h0M246.5 83.1h0M248.8 93.9h0M242.9 82.0h0M239.9 94.2h0M252.0 102.2h0M251.1 100.8h0M250.5 86.1h0M247.9 63.8h0M249.7 99.4h0M250.6 101.6h0M238.8 88.7h0M249.5 76.3h0M239.0 94.1h0M241.4 85.3h0M245.8 102.5h0M240.4 102.5h0M234.5 67.5h0M247.2 96.2h0M244.1 99.1h0M250.1 101.8h0M238.6 91.4h0M214.0 36.4h0M217.0 67.2h0M252.8 101.9h0M227.2 85.8h0M241.0 94.0h0M246.2 101.4h0M243.2 98.5h0M251.5 70.4h0M242.4 67.6h0M248.7 89.7h0M249.0 74.4h0M250.1 86.8h0M243.0 97.3h0M252.0 93.2h0M243.8 74.6h0M250.2 100.7h0M248.5 76.9h0M249.8 87.4h0M252.7 102.7h0M237.7 91.8h0M251.6 93.6h0M246.3 92.1h0M252.5 69.0h0M242.3 96.7h0M248.9 100.7h0M219.2 67.3h0M247.1 88.5h0M243.0 100.2h0M252.7 82.4h0M250.9 90.4h0M252.9 103.8h0M250.8 86.6h0M239.6 91.0h0M245.0 99.9h0M246.6 102.8h0M242.2 99.8h0M238.0 100.7h0M238.5 86.9h0M238.7 95.1h0M225.0 70.3h0M235.1 87.4h0M249.3 64.2h0M238.9 71.4h0M232.8 92.9h0M246.8 77.1h0M239.8 90.3h0M245.3 102.4h0M249.9 101.7h0M235.6 83.5h0M246.5 88.7h0M243.4 93.4h0M246.4 84.2h0M251.6 84.7h0M220.1 75.6h0M243.3 96.6h0M251.8 102.5h0M243.4 67.3h0M232.5 92.0h0M244.1 81.7h0M245.6 98.0h0M249.9 93.1h0M237.8 96.1h0M239.5 92.0h0M252.2 100.4h0M251.0 72.6h0M244.0 103.4h0M249.1 92.1h0M250.7 98.1h0M241.7 102.0h0M243.9 86.1h0M251.9 91.1h0M248.5 81.2h0M241.1 61.8h0M241.4 100.6h0M250.5 83.9h0M248.9 93.6h0M227.4 88.4h0M236.0 77.8h0M249.0 88.0h0M247.2 93.2h0" stroke="#2222FF" stroke-width="0.85" stroke-linecap="round" fill="none" opacity="0.8"/>
<path d="M271.4 86.2h0M264.5 75.8h0M264.4 98.3h0M262.4 102.1h0M267.6 102.7h0M270.0 97.3h0M278.5 92.5h0M302.7 67.5h0M264.6 65.4h0M264.6 98.1h0M265.3 100.7h0M273.8 97.6h0M279.9 89.5h0M270.8 87.9h0M265.6 85.5h0M268.6 83.7h0M272.9 101.7h0M266.6 82.1h0M262.5 88.8h0M271.8 83.6h0M267.1 93.9h0M270.1 81.8h0M263.2 93.1h0M265.9 90.2h0M265.9 100.5h0M265.5 68.9h0M267.8 70.4h0M278.3 98.8h0M272.0 104.0h0M271.1 93.0h0M275.7 98.4h0M291.3 86.1h0M263.2 77.8h0M286.0 65.9h0M263.2 76.2h0M265.8 78.8h0M276.3 93.6h0M290.2 74.3h0M275.7 95.6h0M270.6 92.6h0M265.2 99.4h0M284.7 70.9h0M276.7 84.4h0M270.9 90.3h0M263.3 99.6h0M281.6 68.8h0M265.9 62.1h0M267.9 94.6h0M263.7 104.1h0M266.0 102.4h0M283.2 99.1h0M276.0 100.6h0M277.2 97.7h0M271.3 102.9h0M283.8 76.8h0M272.8 84.8h0M267.3 102.0h0M267.1 82.8h0M272.3 101.8h0M265.6 94.0h0M262.5 103.4h0M269.5 101.8h0M273.9 96.0h0M268.9 98.1h0M275.0 68.4h0M276.4 100.8h0M277.8 92.1h0M280.9 78.1h0M266.1 89.4h0M268.4 94.4h0M271.6 89.7h0M264.8 102.3h0M267.7 66.9h0M266.7 103.1h0M265.8 93.2h0M262.5 99.7h0M270.0 85.7h0M264.3 102.1h0M267.1 102.6h0M263.9 102.5h0M281.7 67.3h0M262.8 79.1h0M284.6 85.4h0M266.6 77.1h0M263.3 103.4h0M274.8 101.5h0M275.5 85.4h0M265.5 94.0h0M265.2 72.1h0M274.3 84.6h0M274.0 103.1h0M288.4 76.7h0M271.0 89.6h0M270.5 81.3h0M271.5 98.8h0M271.1 100.2h0M262.4 92.9h0M286.9 81.3h0M265.1 93.1h0M272.9 89.9h0M269.7 92.7h0M276.3 68.3h0M271.0 79.2h0M266.8 97.2h0M270.4 98.5h0M278.3 96.2h0M287.6 74.7h0M267.0 101.7h0M282.1 94.8h0M267.5 94.2h0M278.0 65.9h0M292.2 77.1h0M264.6 97.0h0M262.4 100.7h0M267.3 101.0h0M270.1 101.9h0M275.1 95.3h0M265.7 86.0h0M267.1 103.8h0M284.2 79.3h0M276.7 101.5h0M275.1 90.9h0M263.0 99.0h0M273.1 102.8h0M262.8 91.8h0M263.3 100.9h0M264.6 64.8h0M281.1 98.3h0M264.4 101.8h0M268.1 78.0h0M263.6 80.1h0M271.8 78.0h0M267.3 103.5h0M263.6 84.3h0M270.8 80.7h0M265.0 99.0h0M265.2 74.4h0M262.8 94.5h0M265.9 81.4h0M277.6 84.6h0M265.0 103.5h0M274.6 84.4h0M262.4 76.2h0M275.0 60.7h0M271.0 80.3h0M270.4 103.6h0M271.9 95.4h0M267.2 96.2h0M265.3 98.3h0M278.9 67.0h0M269.7 74.0h0M263.9 92.9h0M278.7 78.1h0M268.2 101.2h0M267.4 102.2h0M272.5 95.6h0M288.9 84.3h0M279.3 89.7h0M279.1 101.7h0M272.8 89.2h0M264.9 102.7h0M277.0 82.2h0M275.5 99.2h0M270.3 80.5h0M274.6 64.1h0M263.4 81.1h0M262.5 89.1h0M271.5 102.9h0M268.9 86.5h0M264.2 100.3h0M268.9 84.5h0M295.5 88.6h0M269.0 87.0h0M262.3 95.8h0M262.6 102.0h0M271.3 92.0h0M262.7 102.3h0M275.9 95.4h0M263.5 94.1h0M262.9 101.1h0M263.3 91.8h0M301.2 74.7h0M263.8 92.2h0M267.7 44.0h0M273.5 99.2h0M269.2 92.1h0M268.0 90.9h0M263.5 95.7h0M268.5 92.9h0M279.2 75.4h0M278.4 95.9h0M262.5 100.9h0M264.6 97.4h0M263.5 57.8h0M273.8 73.7h0M262.8 80.8h0M274.9 79.1h0M264.3 102.8h0M271.2 89.0h0M276.3 100.8h0M282.9 47.2h0M269.3 95.4h0M269.9 102.0h0M263.3 99.1h0M264.6 68.4h0M267.7 71.0h0M272.3 66.7h0M289.6 81.4h0M269.5 99.6h0M272.3 98.0h0M267.3 95.5h0M271.7 38.2h0M267.6 54.0h0M271.3 90.6h0M265.0 79.9h0M270.3 80.9h0M271.9 101.8h0M269.7 103.1h0M264.1 95.3h0M263.1 89.8h0M265.4 100.3h0M277.4 89.3h0M270.3 95.3h0M262.5 97.5h0M271.2 97.5h0M267.3 74.5h0M282.3 76.4h0M270.5 92.9h0M262.5 93.8h0M269.6 53.9h0M268.6 93.2h0M263.7 82.5h0M271.1 101.2h0M264.1 99.3h0M262.6 100.0h0M266.8 74.4h0M263.6 86.8h0M288.5 37.6h0M262.9 94.0h0M265.3 102.1h0M265.7 83.3h0M272.6 101.8h0M266.4 103.1h0M293.7 77.8h0M270.0 51.6h0M265.1 99.6h0M264.9 88.7h0M273.2 92.1h0M280.2 91.1h0M266.9 86.7h0M264.1 82.8h0M269.1 74.8h0M273.2 43.7h0M267.3 102.4h0M294.9 83.7h0M273.6 81.5h0M273.2 100.0h0M263.3 83.2h0M269.5 102.0h0M272.2 99.1h0M266.0 71.3h0M273.9 81.3h0M282.7 94.1h0M269.5 95.0h0M267.6 80.2h0M265.2 104.0h0M276.2 78.9h0M277.6 97.6h0M279.5 72.2h0M264.1 66.5h0M269.2 99.0h0M268.0 92.2h0M271.3 98.5h0M263.1 88.8h0M277.5 84.0h0M268.4 73.0h0M262.5 102.0h0M262.5 91.8h0M271.2 99.9h0M271.3 104.1h0M262.8 53.8h0M263.2 87.7h0M270.9 91.6h0M284.4 86.0h0M263.8 77.4h0M267.0 64.0h0M281.2 45.2h0M268.3 92.3h0M272.4 83.4h0M267.4 89.4h0M278.3 95.9h0M276.1 64.8h0M267.9 92.3h0M270.3 74.6h0M266.1 98.8h0M268.3 87.3h0M278.1 95.1h0M262.7 96.7h0M272.5 102.6h0M273.0 94.0h0M262.7 99.8h0M267.3 87.5h0M264.6 93.8h0M266.1 91.1h0M276.3 91.9h0M279.0 87.4h0M263.4 87.7h0M270.3 81.1h0M265.5 87.7h0M262.4 77.5h0M269.4 94.4h0M270.6 96.6h0M265.5 85.7h0M274.2 103.2h0M266.1 62.0h0M266.3 98.7h0M272.7 96.5h0M264.0 100.2h0M264.6 95.0h0M266.3 86.5h0M263.8 98.4h0M264.1 95.4h0M267.8 83.5h0M268.9 87.6h0M264.0 89.5h0M288.2 64.9h0M264.1 101.3h0M290.2 82.2h0M262.6 83.7h0M274.0 96.6h0M267.1 77.7h0M269.0 94.8h0M266.8 83.8h0M269.9 73.0h0M268.5 95.4h0M281.8 42.4h0M277.0 74.4h0M268.2 104.0h0M271.3 97.0h0M266.7 61.7h0M262.5 97.3h0M280.7 84.8h0M275.8 92.9h0M263.5 76.7h0M279.5 93.0h0M272.3 77.4h0M270.5 93.7h0M270.3 82.6h0M278.3 97.2h0M280.3 96.0h0M275.8 96.2h0M289.9 52.5h0M268.1 97.2h0M269.2 89.2h0M262.7 92.0h0M277.8 82.6h0M279.1 94.8h0M263.8 74.3h0M287.5 81.0h0M265.3 93.3h0M271.0 96.8h0M270.4 94.2h0M274.2 42.0h0M264.7 81.2h0M268.1 89.6h0M272.3 82.1h0M266.6 86.3h0M267.9 79.9h0M270.5 87.4h0M266.3 104.1h0M283.7 65.1h0M268.3 83.4h0M267.8 97.5h0M268.7 74.0h0M281.1 89.9h0M274.7 98.2h0M279.7 68.5h0M268.1 93.1h0M265.3 99.6h0M285.3 85.8h0M269.5 87.7h0M264.8 104.1h0M267.6 90.5h0M264.8 92.0h0M267.1 99.3h0M278.5 96.5h0M278.6 80.5h0M268.0 103.6h0M284.6 89.9h0M272.8 85.1h0M271.9 65.3h0M262.4 51.2h0M268.6 66.1h0M289.5 87.5h0M262.4 89.2h0M268.7 90.5h0M266.8 99.6h0M262.8 102.4h0M266.1 92.3h0M267.9 87.9h0M267.6 86.5h0M264.3 103.4h0M272.7 83.0h0M264.1 103.4h0M263.0 102.7h0M267.5 70.8h0M291.2 78.3h0M274.5 89.5h0M270.9 86.8h0M270.6 95.9h0M269.2 95.9h0M265.2 97.3h0M266.3 90.6h0M264.8 87.9h0M275.9 99.9h0M265.5 98.5h0M267.1 68.8h0M287.2 75.9h0M268.3 94.4h0M265.0 94.5h0M264.9 75.1h0M266.6 93.6h0M263.0 86.1h0M271.0 77.9h0M277.7 81.0h0M266.0 99.6h0M273.3 103.3h0M295.5 80.0h0M270.5 96.9h0M263.3 91.7h0M276.2 93.5h0M281.2 94.9h0M273.0 94.3h0M282.8 82.7h0M271.8 89.8h0M262.5 78.5h0M269.5 101.4h0M285.5 89.6h0M278.5 81.1h0M274.0 63.4h0M263.0 97.9h0M264.5 88.4h0M265.3 103.7h0M264.1 101.2h0M271.7 94.2h0M269.8 103.9h0M271.4 99.4h0M263.5 103.2h0M264.3 96.2h0M264.5 94.5h0M264.5 83.5h0M279.3 92.8h0M290.9 62.2h0M262.7 100.6h0M264.1 63.1h0M266.8 97.3h0M276.4 94.5h0M263.7 97.1h0M273.2 98.6h0M283.9 94.2h0M272.1 57.0h0M268.0 85.4h0M278.0 86.0h0M262.6 86.3h0M263.2 92.0h0M263.7 75.1h0M278.2 94.6h0M264.7 95.5h0M273.6 71.5h0M275.5 84.7h0M274.9 77.0h0M282.4 86.9h0M283.0 101.8h0M274.7 98.1h0M289.1 80.7h0M272.4 56.2h0M279.0 90.6h0M262.9 100.3h0M275.0 102.1h0M274.7 97.0h0M268.2 76.5h0M284.4 79.7h0M269.4 91.8h0M275.3 100.5h0M279.2 84.2h0M264.5 67.0h0M275.2 36.8h0M270.0 76.0h0M295.8 81.5h0M263.4 97.0h0M277.0 96.4h0M264.5 94.7h0M264.2 94.2h0M263.6 84.1h0M274.3 87.0h0M265.0 88.8h0M271.9 88.5h0M264.8 94.1h0M284.1 87.1h0M265.7 97.8h0M271.0 95.0h0M262.4 102.4h0M269.5 103.3h0M263.3 76.9h0M263.3 98.2h0M271.2 81.4h0M270.8 73.6h0M272.4 103.4h0M264.1 86.8h0M264.0 68.6h0M263.0 103.3h0M268.6 91.2h0M273.2 102.1h0M267.2 96.8h0M278.4 78.1h0M276.6 100.8h0M269.8 64.3h0M264.6 97.5h0M262.6 86.1h0M269.8 92.0h0M266.9 81.9h0M277.4 95.0h0M264.3 81.7h0M276.8 90.1h0M276.4 76.4h0M266.0 67.5h0M305.7 60.8h0M267.9 94.4h0M273.0 77.2h0M268.8 67.4h0M265.3 92.6h0M264.2 101.2h0M266.5 103.4h0M272.5 88.2h0M268.4 78.6h0M271.8 85.3h0M263.4 98.0h0M262.6 101.5h0M268.0 86.4h0M287.0 72.3h0M271.2 73.7h0M263.6 69.9h0M275.7 89.1h0M268.6 96.5h0M268.6 84.0h0M269.4 84.0h0M268.6 100.1h0M262.5 95.6h0M273.3 103.2h0M262.5 99.0h0M287.9 79.0h0M265.9 96.0h0M268.8 84.4h0M266.4 97.2h0M270.8 99.7h0M269.1 82.0h0M270.8 103.2h0M267.5 90.7h0M265.5 96.5h0M272.2 96.7h0M264.8 71.8h0M263.1 67.7h0M263.5 91.7h0M271.8 95.5h0M274.1 68.5h0M266.9 103.2h0M265.0 71.3h0M273.3 81.0h0M268.3 97.9h0M276.4 90.0h0M276.5 64.1h0M269.9 79.1h0M263.7 88.4h0M267.1 85.4h0M266.6 100.9h0M266.1 83.9h0M277.3 62.8h0M268.7 103.1h0M270.4 94.6h0M262.7 100.2h0M278.9 93.6h0M288.0 74.3h0M268.5 92.0h0M263.0 72.6h0M264.3 90.7h0M266.1 96.6h0M269.9 98.6h0M264.6 87.0h0M274.2 102.7h0M266.3 97.0h0M270.4 66.3h0M263.6 91.0h0M274.1 99.2h0M267.6 94.8h0M288.5 76.9h0M270.2 103.0h0M267.7 77.2h0M269.2 96.2h0M267.4 91.4h0M268.3 97.4h0M293.4 82.0h0M267.2 94.2h0M267.8 72.1h0M267.8 86.0h0M264.7 92.0h0M266.1 65.6h0M267.3 91.4h0M294.5 81.9h0M283.2 89.4h0M273.9 101.6h0M283.8 86.1h0M274.9 98.1h0M279.6 91.3h0M280.1 84.5h0M284.4 83.0h0M268.2 54.6h0M275.7 94.6h0M270.7 103.4h0M288.8 71.8h0M273.2 93.8h0M265.8 89.5h0M267.6 89.3h0M262.5 76.5h0M269.9 94.7h0M262.7 102.5h0M262.3 69.5h0M262.9 98.2h0M270.0 90.4h0M265.3 87.9h0M263.5 98.7h0M263.6 98.9h0M265.2 103.7h0M282.5 76.3h0M262.6 90.6h0M285.2 86.3h0M273.5 95.0h0M283.1 90.7h0M267.5 93.3h0M270.0 100.8h0M275.8 74.0h0M276.2 91.3h0M267.1 103.9h0M271.3 83.2h0M263.8 47.8h0M268.0 85.0h0M276.7 95.3h0M267.2 69.5h0M264.2 102.1h0M273.1 99.6h0M269.3 100.6h0M277.8 81.4h0M272.8 102.7h0M277.5 90.7h0M294.7 72.0h0M275.1 74.8h0M270.8 98.6h0M263.1 85.4h0M275.5 87.4h0M270.9 94.3h0M298.7 76.5h0M269.2 101.4h0M270.5 93.2h0M268.2 79.5h0M266.3 76.3h0M265.5 83.9h0M266.2 95.9h0M270.0 99.6h0M283.2 54.4h0M264.4 103.7h0M269.3 82.5h0M271.8 51.2h0M276.1 99.0h0M268.5 103.1h0M268.3 81.9h0M266.9 100.9h0M271.6 67.2h0M274.8 102.2h0M269.1 100.0h0M282.4 94.6h0M269.4 70.4h0M266.6 94.8h0M266.7 91.9h0M274.9 97.3h0M274.2 95.0h0M283.7 89.8h0M277.9 89.7h0M276.7 95.8h0M264.2 97.1h0M267.1 103.9h0M280.0 91.3h0M270.2 84.4h0M263.2 102.1h0M270.9 48.8h0M268.6 97.4h0M269.2 80.6h0M269.8 83.6h0M278.9 91.8h0M278.6 92.5h0M272.8 95.2h0M272.4 90.7h0M263.6 91.3h0M265.9 84.5h0M266.3 89.9h0M271.2 99.6h0M266.7 91.4h0M265.5 88.4h0M268.5 81.1h0M277.9 96.3h0M273.0 101.5h0M273.6 86.9h0M265.6 86.9h0M293.0 83.5h0M265.2 83.6h0M273.8 96.3h0M276.5 80.1h0M276.0 100.0h0M267.4 100.8h0M265.7 93.6h0M264.2 99.9h0M268.6 84.3h0M265.9 93.9h0M265.2 103.9h0M264.1 95.9h0M287.4 72.7h0M263.0 102.0h0M275.0 91.0h0M267.9 84.3h0M265.3 89.5h0M268.8 101.7h0M279.5 94.3h0M269.6 100.4h0M264.1 85.7h0M267.9 91.0h0M267.8 99.2h0M264.5 81.8h0M269.1 101.5h0M264.4 91.4h0M276.9 74.1h0M268.9 94.9h0M263.5 99.4h0M268.9 75.4h0M266.8 99.7h0M262.6 92.5h0M271.9 100.2h0M265.9 88.4h0M264.6 80.2h0M272.5 98.4h0M263.7 85.1h0M272.2 99.0h0M265.7 84.0h0M265.3 94.4h0M272.8 98.2h0M273.5 91.2h0M262.9 102.2h0M268.8 101.6h0M271.8 89.4h0M274.1 68.2h0M273.6 79.7h0M263.8 72.2h0M271.9 94.8h0M264.4 94.0h0M277.4 77.3h0M289.3 90.8h0M267.9 103.8h0M269.0 91.7h0M272.4 101.7h0M271.2 80.1h0M264.3 90.1h0M275.9 88.7h0M271.6 97.1h0M268.4 96.1h0M272.4 98.7h0M264.9 85.3h0M276.5 96.5h0M263.8 90.1h0M267.3 91.5h0M282.9 68.6h0M263.4 100.2h0M269.0 75.5h0M267.5 54.8h0M266.2 80.9h0M280.0 89.4h0M264.5 99.2h0M281.9 89.4h0M266.6 104.1h0M263.8 76.9h0M291.1 72.5h0M276.0 98.5h0M263.7 101.0h0M266.0 100.8h0M272.5 97.9h0M265.2 71.4h0M267.9 104.1h0M262.4 91.9h0M262.7 91.6h0M262.6 94.4h0M273.9 91.3h0M265.3 75.7h0M305.5 70.4h0M271.8 95.4h0M269.5 91.5h0M267.2 104.1h0M268.2 70.7h0M263.5 92.9h0M273.3 74.0h0M267.1 89.3h0M272.3 97.4h0M275.0 82.3h0M276.0 85.2h0M268.2 84.1h0M267.5 99.9h0M263.6 91.7h0M264.6 99.0h0M266.6 96.8h0M271.9 95.8h0M271.9 76.6h0M271.2 92.4h0M267.5 100.9h0M265.2 102.7h0M266.4 103.5h0M268.8 90.5h0M263.8 82.3h0M269.6 88.4h0M269.1 78.8h0M266.0 82.6h0M267.9 100.1h0M265.8 62.2h0M263.0 96.0h0M269.1 85.8h0M263.4 100.4h0M262.4 99.3h0M274.0 66.9h0M263.6 99.3h0M288.8 88.0h0M268.5 102.9h0M263.0 100.4h0M273.8 103.2h0M270.7 76.5h0M262.4 99.0h0M268.7 89.1h0M278.3 84.8h0M269.2 97.5h0M274.2 93.9h0M275.5 93.1h0M270.5 86.5h0M266.7 93.4h0M282.6 90.0h0M266.7 101.0h0M268.8 95.2h0M269.1 99.4h0M270.2 90.4h0M263.6 87.5h0M262.8 94.3h0M275.8 95.2h0M273.0 88.8h0M262.9 103.3h0M270.8 62.2h0M277.0 94.2h0M265.9 101.9h0M274.8 80.0h0M268.3 102.7h0M266.2 84.8h0M280.0 95.3h0M265.1 69.7h0M268.4 93.7h0M262.6 65.1h0M271.4 99.1h0M262.7 91.1h0M294.8 80.2h0M285.9 67.1h0M272.8 95.3h0M265.3 103.0h0M286.5 84.4h0M266.6 94.1h0M265.5 67.3h0M270.8 97.8h0M267.5 55.5h0M276.4 101.1h0M265.9 100.8h0M263.7 67.2h0M283.0 91.8h0M278.8 84.3h0M269.3 92.3h0M264.0 99.9h0M267.4 97.1h0M275.3 99.5h0M265.6 71.6h0M280.6 57.5h0M264.9 93.7h0M283.9 75.1h0M265.4 93.8h0M273.0 104.0h0M265.7 82.9h0M275.5 94.2h0M272.5 91.8h0M267.4 102.7h0M278.6 78.8h0M269.2 80.6h0M283.5 83.4h0M263.4 83.8h0M267.3 96.7h0M266.2 78.1h0M274.6 98.2h0M273.5 80.1h0M276.6 93.6h0M273.1 90.3h0M266.4 98.4h0M281.6 74.5h0M268.4 84.6h0M274.9 56.3h0M268.1 98.9h0M262.9 80.9h0M269.0 96.1h0M263.0 93.6h0M279.4 85.6h0M273.2 99.4h0M275.8 89.4h0M290.8 86.1h0M267.3 87.5h0M264.3 100.9h0M265.2 94.2h0M265.6 78.8h0M273.3 95.9h0M268.2 100.4h0M265.2 85.8h0M266.8 102.4h0M268.2 94.5h0M268.2 95.9h0M268.4 100.1h0M264.3 94.2h0M274.6 102.3h0M270.1 101.1h0M273.4 97.2h0M275.5 78.6h0M268.6 96.4h0M263.3 100.5h0M274.0 76.9h0M264.1 46.2h0M267.8 91.8h0M275.8 97.4h0M267.8 83.8h0M270.3 94.8h0M272.3 102.1h0M270.0 98.5h0M264.5 92.6h0M276.9 91.5h0M270.6 86.2h0M262.4 91.3h0M276.6 96.0h0M268.4 97.4h0M265.7 79.6h0M269.7 101.9h0M278.2 91.2h0M263.7 78.5h0M263.7 86.2h0M264.6 85.1h0M263.0 102.7h0M277.0 95.9h0M269.8 98.1h0M265.4 98.5h0M266.2 100.8h0M282.4 84.3h0M264.4 56.7h0M276.7 90.9h0M297.8 74.1h0M267.4 66.3h0M262.4 79.6h0M263.4 93.5h0M269.3 102.9h0M274.5 78.4h0M265.4 99.7h0M280.0 91.2h0M262.5 98.5h0M269.5 69.1h0M262.7 103.1h0M267.9 88.1h0M264.1 103.5h0M263.4 102.9h0M266.4 90.5h0M275.2 98.5h0M271.0 97.6h0M272.8 102.2h0M265.1 91.5h0M264.8 95.0h0M266.0 88.1h0M280.5 71.9h0M269.6 91.3h0M267.5 98.7h0M278.9 97.5h0M273.3 99.0h0M277.6 92.5h0M266.8 94.8h0M262.4 102.6h0M275.6 103.5h0M272.9 88.9h0M263.4 93.3h0M279.0 77.4h0M278.3 84.7h0M264.0 96.0h0M270.9 103.5h0M266.1 101.3h0M273.5 90.4h0M265.3 90.0h0M268.4 63.7h0M265.5 99.2h0M292.3 80.4h0M269.1 96.6h0M265.4 78.5h0M263.2 66.3h0M291.9 72.4h0M266.5 78.7h0M272.8 99.5h0M276.3 95.1h0M264.2 74.6h0M277.5 99.4h0M269.0 85.7h0M267.9 99.4h0M265.8 93.8h0M262.4 88.4h0M264.1 100.5h0M264.1 93.4h0M264.8 93.7h0M279.5 90.2h0M271.5 65.9h0M264.0 83.5h0M273.3 68.7h0M267.2 94.3h0M284.9 85.5h0M270.4 103.9h0M279.7 94.9h0M265.6 96.5h0M264.1 75.7h0M281.5 45.3h0M264.4 95.6h0M262.3 97.7h0M264.3 101.2h0M266.2 89.0h0M263.2 73.1h0M269.1 101.1h0M263.6 92.7h0M267.5 93.1h0M263.7 97.4h0M270.8 102.7h0M270.7 74.3h0M273.0 101.9h0M274.3 102.7h0M264.2 104.0h0M271.4 101.0h0M266.3 102.1h0M282.1 93.7h0M272.8 97.5h0M282.9 83.8h0M263.3 85.4h0M264.1 94.0h0M264.8 93.8h0M275.1 82.0h0M267.1 103.3h0M269.5 64.6h0M272.0 88.3h0M279.8 86.6h0M298.1 44.6h0M277.2 89.4h0M286.1 77.5h0M267.2 101.2h0M275.2 102.2h0M270.5 98.9h0M268.5 87.2h0M274.4 88.2h0M263.1 69.6h0M277.0 63.9h0M273.7 86.9h0M288.7 79.2h0M277.5 72.3h0M268.2 100.4h0M269.3 74.6h0M265.1 82.8h0M265.8 69.7h0M268.7 100.7h0M268.8 101.7h0M268.0 103.5h0M291.0 68.2h0M277.9 89.9h0M270.9 83.7h0M289.8 78.3h0M269.4 73.8h0M266.4 96.3h0M284.9 85.1h0M288.7 64.9h0M276.7 73.2h0M274.4 90.8h0M264.9 92.8h0M265.6 75.2h0M264.7 81.6h0M265.0 97.7h0M266.2 82.0h0M263.2 86.7h0M275.6 103.7h0M274.4 63.3h0M268.1 100.6h0M288.9 84.3h0M267.5 103.0h0M262.9 101.2h0M278.9 98.8h0M266.3 78.9h0M278.3 86.5h0M273.5 101.6h0M264.8 102.7h0M266.3 92.4h0M262.7 80.2h0M290.0 73.7h0M279.7 100.1h0M274.6 103.6h0M276.7 100.7h0M288.9 87.6h0M263.2 90.7h0M264.1 80.4h0M269.6 79.6h0M267.8 79.0h0M274.2 99.2h0M277.8 98.5h0M268.9 83.6h0M265.2 81.4h0M275.8 82.9h0M262.4 97.5h0M273.4 99.2h0M276.2 99.9h0M275.4 95.6h0M262.9 102.4h0M275.0 75.3h0M276.0 70.7h0M275.5 78.9h0M284.2 88.1h0M271.4 101.3h0M265.6 102.7h0M263.7 96.5h0M266.5 91.1h0M265.0 103.1h0M265.3 100.6h0M262.4 103.7h0M282.1 69.1h0M276.8 91.4h0M267.1 101.6h0M263.8 84.9h0M271.3 99.1h0M270.4 92.9h0M266.0 102.2h0M268.9 77.4h0M264.1 92.2h0M282.3 89.3h0M267.4 62.3h0M266.6 93.7h0M269.5 74.6h0M274.0 90.9h0M271.0 68.1h0M267.6 101.9h0M264.7 99.8h0M281.6 93.6h0M271.2 100.0h0M278.6 69.4h0M270.2 95.2h0M270.1 98.2h0M265.9 80.9h0M267.5 88.6h0M266.7 102.2h0M280.6 78.3h0M277.0 88.2h0M264.6 93.3h0M283.9 77.0h0M273.1 87.7h0M264.6 103.3h0M268.5 84.9h0M276.7 70.1h0M263.9 97.9h0M270.4 103.2h0M265.1 99.2h0M264.1 92.3h0M266.3 90.8h0M277.4 99.8h0M264.0 92.9h0M268.5 94.7h0M267.9 101.3h0M263.9 84.0h0M274.4 84.8h0M274.6 92.2h0M265.0 65.9h0M271.5 94.1h0M266.0 96.7h0M268.6 78.1h0M263.9 90.0h0M266.1 99.9h0M266.7 96.2h0M274.7 95.4h0M269.2 78.9h0M268.4 99.4h0M289.4 85.6h0M277.7 91.6h0M277.2 51.0h0M288.2 71.6h0M264.6 98.5h0M268.8 96.4h0M269.7 103.6h0M267.4 92.9h0M263.0 94.0h0M290.7 84.6h0M297.4 66.4h0M270.5 103.8h0M263.1 90.9h0M279.4 90.8h0M269.9 101.9h0M272.0 90.2h0M277.2 64.8h0M263.3 76.7h0M267.0 95.6h0M267.4 78.0h0M269.3 102.9h0M270.1 101.5h0M262.5 103.3h0M268.1 94.6h0M262.3 101.9h0M290.2 89.7h0M271.7 53.7h0M268.2 103.3h0M264.2 79.8h0M275.4 98.2h0M264.5 88.3h0M294.3 98.8h0M271.5 100.3h0M264.7 84.8h0M264.2 100.5h0M265.4 95.7h0M265.6 87.1h0M265.6 99.3h0M268.8 101.2h0M263.0 102.7h0M262.4 87.0h0M262.9 94.1h0M288.8 86.8h0M266.7 96.0h0M269.0 97.9h0M263.0 101.5h0M264.2 100.5h0M267.2 102.4h0M273.8 100.4h0M270.9 84.9h0M270.6 82.2h0M280.5 93.9h0M265.2 103.5h0M276.5 96.4h0M266.5 102.8h0M264.7 69.6h0M270.0 73.8h0M300.3 65.4h0M293.8 81.1h0M265.4 103.4h0M262.6 64.8h0M271.7 69.1h0M300.3 98.9h0M266.2 101.0h0M283.2 75.5h0M271.0 60.0h0M282.1 93.9h0M276.4 84.3h0M269.3 92.3h0M282.3 66.8h0M267.8 86.2h0M271.9 72.9h0M265.6 94.3h0M265.9 78.6h0M264.2 90.3h0M280.3 96.9h0M263.3 90.6h0M273.8 94.8h0M266.1 97.4h0M265.5 77.9h0M268.1 84.2h0M271.9 99.9h0M266.3 86.7h0M265.9 102.5h0M264.8 96.5h0M277.6 62.1h0M273.1 101.5h0M268.0 101.7h0M266.3 90.7h0M270.7 101.1h0M266.2 68.5h0M274.3 88.8h0M267.0 98.5h0M262.7 80.6h0M264.8 95.6h0M275.0 85.4h0M266.4 86.1h0M276.2 69.4h0M276.3 60.0h0M265.2 102.2h0M266.8 62.9h0M279.4 96.7h0M263.1 97.9h0M265.6 73.4h0M269.4 73.5h0M270.4 96.6h0M267.3 103.4h0M269.6 55.5h0M265.1 102.8h0M278.5 82.8h0M262.9 85.5h0M275.2 101.0h0M269.2 101.5h0M263.5 93.9h0M271.7 73.5h0M262.4 97.4h0M263.2 91.8h0M264.5 97.9h0M273.5 100.4h0M275.1 72.3h0M264.5 100.7h0M270.7 100.4h0M262.6 95.6h0M265.0 101.3h0M272.2 84.5h0M264.7 65.5h0M273.5 68.7h0M264.2 80.0h0M263.8 102.0h0M263.9 97.2h0M268.8 87.0h0M268.7 96.4h0M266.0 104.1h0M265.9 84.0h0M281.6 84.0h0M269.3 95.6h0M264.8 99.8h0M273.0 95.6h0M271.5 93.1h0M266.5 95.6h0M269.1 67.4h0M270.2 103.9h0M269.8 94.2h0M262.5 101.6h0M270.7 93.7h0M266.7 103.3h0M267.0 97.4h0M263.6 90.0h0M265.3 92.3h0M274.5 66.8h0M276.4 73.5h0M275.4 99.9h0M282.5 79.4h0M270.3 62.1h0M262.9 67.5h0M267.6 91.7h0M262.5 103.6h0M263.9 62.5h0M270.8 72.8h0M266.1 94.4h0M265.7 90.2h0M277.1 89.7h0M272.9 98.0h0M275.6 43.7h0M272.5 87.0h0M273.9 69.1h0M266.9 85.9h0M264.4 88.4h0M275.5 95.9h0M263.6 88.6h0M271.7 102.0h0M266.0 101.5h0M267.1 103.6h0M265.0 93.5h0M268.3 81.3h0M264.2 100.6h0M271.2 85.2h0M266.9 100.5h0M263.9 97.1h0M268.1 78.7h0M265.6 97.6h0M266.3 94.4h0M265.2 80.0h0M288.3 81.5h0M268.5 74.9h0M264.6 37.6h0M268.7 82.5h0M266.5 103.1h0M271.0 102.9h0M269.7 73.3h0M272.7 99.1h0M265.2 91.4h0M270.9 66.1h0M264.6 94.4h0M269.5 96.5h0M264.8 96.6h0M271.7 100.6h0M267.0 92.3h0M262.7 92.9h0M267.4 102.2h0M270.1 88.7h0M267.5 83.0h0M274.3 103.1h0M262.9 92.7h0M273.5 90.7h0M265.5 97.5h0M277.5 95.6h0M271.4 99.9h0M274.2 93.3h0M262.4 82.7h0M296.6 81.0h0M269.9 99.2h0M276.9 95.0h0M267.0 102.2h0M273.5 83.6h0M274.5 101.8h0M288.5 56.4h0M266.0 91.2h0M279.8 96.9h0M274.9 88.8h0M291.1 76.5h0M275.6 90.9h0M288.9 87.3h0M276.4 97.9h0M263.7 91.5h0M272.7 97.7h0M273.9 102.4h0M266.8 102.3h0M270.5 92.0h0M266.9 86.5h0M269.4 76.6h0M276.0 99.1h0M263.5 68.6h0M262.6 85.6h0M281.3 95.7h0M288.9 77.6h0M270.6 98.8h0M264.4 102.9h0M271.7 92.0h0M264.8 92.4h0M263.3 98.6h0M275.6 101.4h0M271.2 101.8h0M288.0 99.8h0M276.1 102.9h0M263.7 97.5h0M295.6 74.6h0M267.1 77.9h0M262.5 92.1h0M268.3 102.9h0M292.6 84.2h0M274.6 88.0h0M264.0 94.1h0M269.7 97.0h0M262.5 100.4h0M264.8 102.6h0M263.0 82.5h0M276.7 74.2h0M265.2 74.6h0M268.1 73.4h0M265.6 98.6h0M271.3 100.0h0M265.9 83.8h0M275.1 96.9h0M269.9 89.9h0M273.1 63.0h0M269.4 103.7h0M267.0 93.7h0M262.5 95.3h0M263.8 99.3h0M273.0 93.2h0M263.0 98.7h0M271.5 95.1h0M272.5 103.0h0M273.7 88.5h0M264.9 91.1h0M295.0 62.2h0M273.9 92.0h0M279.0 93.8h0M277.1 96.2h0M272.1 82.5h0M272.9 88.9h0M268.2 97.3h0M275.1 94.3h0M269.3 96.5h0M266.5 88.6h0M271.4 87.6h0M275.4 95.6h0M262.5 97.2h0M271.2 88.0h0M267.5 79.0h0M264.0 70.6h0M270.4 94.4h0M276.5 90.9h0M263.9 103.1h0M273.2 99.9h0M271.4 98.5h0M267.8 100.1h0M265.8 101.9h0M278.3 96.5h0M263.7 46.8h0M263.5 72.8h0M269.3 95.0h0M262.4 91.0h0M265.6 70.8h0M265.4 70.6h0M267.2 78.1h0M267.7 99.3h0M265.5 102.4h0M266.6 98.1h0M270.8 101.3h0M276.5 100.2h0M266.8 102.6h0M264.3 100.6h0M264.0 98.3h0M264.8 83.0h0M268.4 84.3h0M269.8 100.5h0M266.9 97.6h0M265.8 79.4h0M263.5 96.6h0M278.3 103.6h0M273.8 86.6h0M264.9 100.6h0M273.2 102.5h0M284.4 71.2h0M266.4 101.7h0M271.0 81.6h0M262.8 85.4h0M263.9 96.8h0M264.5 102.8h0M271.5 98.3h0M291.4 60.8h0M270.9 87.2h0M267.2 94.1h0M271.9 95.2h0M269.4 73.4h0M278.3 70.8h0M266.7 102.9h0M265.4 93.3h0M279.7 81.3h0M292.0 76.1h0M266.6 103.2h0M270.2 97.7h0M286.8 61.6h0M271.6 79.9h0M277.9 91.7h0M269.3 55.0h0M264.3 81.4h0M271.9 97.8h0M264.0 90.7h0M264.9 91.6h0M270.3 97.5h0M263.9 99.3h0M296.5 69.2h0M263.1 95.6h0M263.1 87.7h0M276.6 87.2h0M265.1 94.5h0M268.9 101.0h0M268.4 103.1h0M268.5 92.6h0M264.2 83.3h0M263.9 85.5h0M262.5 72.8h0M263.1 76.4h0M264.9 92.4h0M277.3 56.8h0M264.3 84.6h0M269.1 101.2h0M276.8 90.9h0M266.5 103.3h0M264.5 74.6h0M264.4 65.2h0M264.2 63.3h0M263.0 87.6h0M271.5 89.3h0M293.5 99.3h0M272.5 77.0h0M277.7 93.3h0M265.3 71.2h0M288.2 79.1h0M263.6 100.3h0M279.7 79.0h0M276.6 96.4h0M269.3 99.3h0M278.3 73.4h0M278.7 97.5h0M272.8 97.9h0M271.9 91.8h0M264.3 75.2h0M282.5 77.8h0M263.5 100.0h0M279.0 75.9h0M265.4 94.1h0M266.6 96.6h0M273.1 103.8h0M270.9 71.4h0M274.9 72.4h0M262.8 95.6h0M265.0 82.1h0M266.5 86.9h0M267.1 99.5h0M274.8 87.5h0M265.2 84.8h0M263.3 103.3h0M288.6 56.2h0M278.6 89.8h0M271.4 91.7h0M265.0 92.1h0M268.9 77.6h0M271.5 101.9h0M271.6 76.3h0M275.8 93.6h0M264.4 62.6h0M275.9 95.5h0M268.4 96.5h0M266.2 101.8h0M275.0 91.9h0M269.1 81.9h0M270.7 101.3h0M266.1 91.3h0M275.5 87.3h0M278.8 96.6h0M279.8 89.1h0M265.9 102.0h0M274.1 72.9h0M298.5 71.4h0M283.1 88.5h0M265.7 98.6h0M271.9 103.8h0M263.7 100.7h0M281.4 77.4h0M263.4 101.4h0M264.5 79.1h0M272.9 70.3h0M277.4 103.4h0M266.5 94.3h0M271.3 90.9h0M272.5 103.0h0M285.4 90.9h0M263.6 93.4h0M264.8 95.3h0M277.6 80.3h0M264.4 98.9h0M273.6 99.4h0M263.3 87.6h0M263.8 101.8h0M262.5 103.8h0M278.1 63.6h0M262.5 101.6h0M262.9 96.1h0M267.0 100.8h0M264.2 87.7h0M264.0 100.7h0M266.1 94.7h0M271.9 102.1h0M275.6 84.9h0M272.9 96.1h0M271.8 63.3h0M273.2 96.2h0M269.6 101.7h0M264.3 103.9h0M297.2 76.2h0M273.1 98.6h0M275.8 76.5h0M265.1 100.1h0M268.7 89.5h0M288.8 87.8h0M266.1 83.8h0M264.3 102.4h0M262.4 91.0h0M272.7 93.9h0M272.0 100.7h0M265.2 90.4h0M268.5 93.1h0M263.1 93.8h0M263.0 100.7h0M264.8 96.6h0M264.4 61.9h0M266.6 98.4h0M263.2 97.0h0M280.8 90.4h0M289.3 86.6h0M274.7 94.9h0M284.0 93.6h0M264.1 100.2h0M274.2 85.1h0M269.9 87.1h0M268.9 89.9h0M262.8 96.0h0M268.8 76.5h0M266.6 97.3h0M270.3 71.5h0M264.0 96.1h0M262.7 74.2h0M264.1 65.2h0M281.8 91.1h0M278.0 73.4h0M274.8 100.6h0M265.4 86.3h0M263.8 87.2h0M270.7 103.5h0M264.4 98.5h0M274.0 80.8h0M273.5 90.8h0" stroke="#FF1A1A" stroke-width="0.85" stroke-linecap="round" fill="none" opacity="0.8"/>
<path d="M253.1 104.1 L253.1 70.5 L250.3 80.7 L247.1 104.1Z" fill="#1010FF" opacity="0.7"/>
<path d="M262.3 104.1 L262.3 74.6 L264.6 82.7 L267.9 104.1Z" fill="#FF1010" opacity="0.7"/>
<line x1="202.2" y1="104.1" x2="313.2" y2="104.1" stroke="#B5B5B5" stroke-width="0.5"/>
<line x1="253.1" y1="15.4" x2="253.1" y2="117.4" stroke="#C9C9E6" stroke-width="0.5"/>
<line x1="262.3" y1="15.4" x2="262.3" y2="117.4" stroke="#E6C9C9" stroke-width="0.5"/>
<line x1="202.5" y1="14.9" x2="202.5" y2="117.9" stroke="#000" stroke-width="1"/>
<line x1="201.7" y1="117.5" x2="313.7" y2="117.5" stroke="#000" stroke-width="1"/>
<line x1="199.2" y1="117.5" x2="202.2" y2="117.5" stroke="#000" stroke-width="1"/>
<text x="198.2" y="120.3" font-size="8.1" text-anchor="end">0</text>
<line x1="199.2" y1="97.5" x2="202.2" y2="97.5" stroke="#000" stroke-width="1"/>
<text x="198.2" y="99.9" font-size="8.1" text-anchor="end">2</text>
<line x1="199.2" y1="76.5" x2="202.2" y2="76.5" stroke="#000" stroke-width="1"/>
<text x="198.2" y="79.5" font-size="8.1" text-anchor="end">4</text>
<line x1="199.2" y1="56.5" x2="202.2" y2="56.5" stroke="#000" stroke-width="1"/>
<text x="198.2" y="59.1" font-size="8.1" text-anchor="end">6</text>
<line x1="199.2" y1="35.5" x2="202.2" y2="35.5" stroke="#000" stroke-width="1"/>
<text x="198.2" y="38.7" font-size="8.1" text-anchor="end">8</text>
<line x1="199.2" y1="15.5" x2="202.2" y2="15.5" stroke="#000" stroke-width="1"/>
<text x="198.2" y="18.3" font-size="8.1" text-anchor="end">10</text>
<line x1="202.5" y1="117.4" x2="202.5" y2="120.4" stroke="#000" stroke-width="1"/>
<text x="202.2" y="128.2" font-size="8.1" text-anchor="middle">-12</text>
<line x1="229.5" y1="117.4" x2="229.5" y2="120.4" stroke="#000" stroke-width="1"/>
<text x="229.9" y="128.2" font-size="8.1" text-anchor="middle">-6</text>
<line x1="257.5" y1="117.4" x2="257.5" y2="120.4" stroke="#000" stroke-width="1"/>
<text x="257.7" y="128.2" font-size="8.1" text-anchor="middle">0</text>
<line x1="285.5" y1="117.4" x2="285.5" y2="120.4" stroke="#000" stroke-width="1"/>
<text x="285.4" y="128.2" font-size="8.1" text-anchor="middle">6</text>
<line x1="313.5" y1="117.4" x2="313.5" y2="120.4" stroke="#000" stroke-width="1"/>
<text x="313.2" y="128.2" font-size="8.1" text-anchor="middle">12</text>
<text x="257.8" y="138.5" font-size="8.7" text-anchor="middle">Log2 (Fold change)</text>
<text x="183.0" y="69.5" font-size="8.7" text-anchor="middle" transform="rotate(-90 183.0 69.5)">-log10 (p value)</text>
<rect x="251.4" y="17.4" width="57.6" height="26.8" fill="#E9E9E9" stroke="#BDBDBD" stroke-width="0.6"/>
<rect x="252.4" y="19.4" width="8.2" height="7.4" fill="#C4C4C4"/>
<text x="262.3" y="25.4" font-size="5.6">Not significant</text>
<rect x="252.4" y="27.8" width="8.2" height="7.4" fill="#FF1515"/>
<text x="262.3" y="33.8" font-size="5.6">Up-regulation</text>
<rect x="252.4" y="36.2" width="8.2" height="7.4" fill="#1010C8"/>
<text x="262.3" y="42.2" font-size="5.6">Down-regulation</text>
<text x="327.6" y="10.0" font-size="10">C</text>
<rect x="536.5" y="-1.0" width="103.7" height="183.1" fill="#FFFFFF" stroke="#555555" stroke-width="0.8"/>
<line x1="536.5" y1="8.6" x2="640.2" y2="8.6" stroke="#EEEEEE" stroke-width="0.4"/>
<line x1="536.5" y1="17.3" x2="640.2" y2="17.3" stroke="#EEEEEE" stroke-width="0.4"/>
<line x1="536.5" y1="26.0" x2="640.2" y2="26.0" stroke="#EEEEEE" stroke-width="0.4"/>
<line x1="536.5" y1="34.7" x2="640.2" y2="34.7" stroke="#EEEEEE" stroke-width="0.4"/>
<line x1="536.5" y1="43.3" x2="640.2" y2="43.3" stroke="#EEEEEE" stroke-width="0.4"/>
<line x1="536.5" y1="52.0" x2="640.2" y2="52.0" stroke="#EEEEEE" stroke-width="0.4"/>
<line x1="536.5" y1="60.7" x2="640.2" y2="60.7" stroke="#EEEEEE" stroke-width="0.4"/>
<line x1="536.5" y1="69.4" x2="640.2" y2="69.4" stroke="#EEEEEE" stroke-width="0.4"/>
<line x1="536.5" y1="78.1" x2="640.2" y2="78.1" stroke="#EEEEEE" stroke-width="0.4"/>
<line x1="536.5" y1="86.8" x2="640.2" y2="86.8" stroke="#EEEEEE" stroke-width="0.4"/>
<line x1="536.5" y1="95.5" x2="640.2" y2="95.5" stroke="#EEEEEE" stroke-width="0.4"/>
<line x1="536.5" y1="104.1" x2="640.2" y2="104.1" stroke="#EEEEEE" stroke-width="0.4"/>
<line x1="536.5" y1="112.8" x2="640.2" y2="112.8" stroke="#EEEEEE" stroke-width="0.4"/>
<line x1="536.5" y1="121.5" x2="640.2" y2="121.5" stroke="#EEEEEE" stroke-width="0.4"/>
<line x1="536.5" y1="130.2" x2="640.2" y2="130.2" stroke="#EEEEEE" stroke-width="0.4"/>
<line x1="536.5" y1="138.9" x2="640.2" y2="138.9" stroke="#EEEEEE" stroke-width="0.4"/>
<line x1="536.5" y1="147.6" x2="640.2" y2="147.6" stroke="#EEEEEE" stroke-width="0.4"/>
<line x1="536.5" y1="156.2" x2="640.2" y2="156.2" stroke="#EEEEEE" stroke-width="0.4"/>
<line x1="536.5" y1="164.9" x2="640.2" y2="164.9" stroke="#EEEEEE" stroke-width="0.4"/>
<line x1="536.5" y1="173.6" x2="640.2" y2="173.6" stroke="#EEEEEE" stroke-width="0.4"/>
<line x1="540.5" y1="0.0" x2="540.5" y2="182.1" stroke="#EEEEEE" stroke-width="0.4"/>
<line x1="569.3" y1="0.0" x2="569.3" y2="182.1" stroke="#EEEEEE" stroke-width="0.4"/>
<line x1="598.1" y1="0.0" x2="598.1" y2="182.1" stroke="#EEEEEE" stroke-width="0.4"/>
<line x1="626.9" y1="0.0" x2="626.9" y2="182.1" stroke="#EEEEEE" stroke-width="0.4"/>
<line x1="554.9" y1="0.0" x2="554.9" y2="182.1" stroke="#F5F5F5" stroke-width="0.3"/>
<line x1="583.7" y1="0.0" x2="583.7" y2="182.1" stroke="#F5F5F5" stroke-width="0.3"/>
<line x1="612.5" y1="0.0" x2="612.5" y2="182.1" stroke="#F5F5F5" stroke-width="0.3"/>
<line x1="641.3" y1="0.0" x2="641.3" y2="182.1" stroke="#F5F5F5" stroke-width="0.3"/>
<text x="533.0" y="12.8" font-size="7.2" text-anchor="end">Regulation of cell shape</text>
<circle cx="634.2" cy="8.6" r="4.9" fill="#0000DC"/>
<text x="533.0" y="21.4" font-size="7.2" text-anchor="end">Cell migration</text>
<circle cx="591.5" cy="17.3" r="4.9" fill="#0000EE"/>
<text x="533.0" y="30.0" font-size="7.2" text-anchor="end">Actin filament organization</text>
<circle cx="629.1" cy="26.0" r="4.7" fill="#1212EE"/>
<text x="533.0" y="38.6" font-size="7.2" text-anchor="end">Immune system process</text>
<circle cx="567.5" cy="34.7" r="4.6" fill="#4242EE"/>
<text x="533.0" y="47.2" font-size="7.2" text-anchor="end">Positive regulation of cell migration</text>
<circle cx="592.6" cy="43.3" r="4.4" fill="#6A6AF0"/>
<text x="533.0" y="55.8" font-size="7.2" text-anchor="end">Actin cytoskeleton organization</text>
<circle cx="602.0" cy="52.0" r="4.3" fill="#A9A9F6"/>
<text x="533.0" y="64.4" font-size="7.2" text-anchor="end">Positive regulation of transcription, DNA-templated</text>
<circle cx="554.3" cy="60.7" r="4.1" fill="#CACAFA"/>
<text x="533.0" y="73.0" font-size="7.2" text-anchor="end">Positive regulation of apoptotic process</text>
<circle cx="570.2" cy="69.4" r="3.9" fill="#F3F3FE"/>
<text x="533.0" y="81.6" font-size="7.2" text-anchor="end">Negative regulation of cell proliferation</text>
<circle cx="564.8" cy="78.1" r="3.8" fill="#FAD9D9"/>
<text x="533.0" y="90.2" font-size="7.2" text-anchor="end">Apoptotic process</text>
<circle cx="553.5" cy="86.8" r="3.8" fill="#F9A3A3"/>
<text x="532.6" y="98.8" font-size="7.2" text-anchor="end" textLength="201" lengthAdjust="spacingAndGlyphs">Positive regulation of transcription from RNA polymerase Ⅱ promoter</text>
<circle cx="540.5" cy="95.5" r="3.5" fill="#F77272"/>
<text x="533.0" y="107.4" font-size="7.2" text-anchor="end">Positive regulation of gene expression</text>
<circle cx="553.2" cy="104.1" r="3.2" fill="#F25252"/>
<text x="533.0" y="116.0" font-size="7.2" text-anchor="end">Phagocytosis</text>
<circle cx="635.3" cy="112.8" r="3.0" fill="#F03434"/>
<text x="533.0" y="124.6" font-size="7.2" text-anchor="end">Intracellular signal transduction</text>
<circle cx="557.5" cy="121.5" r="3.0" fill="#F00000"/>
<text x="533.0" y="133.2" font-size="7.2" text-anchor="end">Positive regulation of GTPase activity</text>
<circle cx="584.5" cy="130.2" r="2.7" fill="#E00000"/>
<text x="533.0" y="141.8" font-size="7.2" text-anchor="end">Response to lipopolysaccharide</text>
<circle cx="583.4" cy="138.9" r="2.4" fill="#D40000"/>
<text x="533.0" y="150.4" font-size="7.2" text-anchor="end">Angiogenesis</text>
<circle cx="568.3" cy="147.6" r="2.2" fill="#B00000"/>
<text x="533.0" y="159.0" font-size="7.2" text-anchor="end">Regulation of actin cytoskeleton organization</text>
<circle cx="626.6" cy="156.2" r="1.9" fill="#900000"/>
<text x="533.0" y="167.6" font-size="7.2" text-anchor="end">Integrin-mediated signaling pathway</text>
<circle cx="609.6" cy="164.9" r="1.6" fill="#800000"/>
<text x="533.0" y="176.2" font-size="7.2" text-anchor="end">Positive regulation of MAP kinase activity</text>
<circle cx="624.8" cy="173.6" r="1.1" fill="#700000"/>
<rect x="388.5" y="66.4" width="147.2" height="26.2" fill="none" stroke="#E8202A" stroke-width="1"/>
<line x1="540.5" y1="182.1" x2="540.5" y2="184.1" stroke="#333" stroke-width="0.8"/>
<text x="540.5" y="191.0" font-size="7.8" text-anchor="middle">1.5</text>
<line x1="569.3" y1="182.1" x2="569.3" y2="184.1" stroke="#333" stroke-width="0.8"/>
<text x="569.3" y="191.0" font-size="7.8" text-anchor="middle">2.0</text>
<line x1="598.1" y1="182.1" x2="598.1" y2="184.1" stroke="#333" stroke-width="0.8"/>
<text x="598.1" y="191.0" font-size="7.8" text-anchor="middle">2.5</text>
<line x1="626.9" y1="182.1" x2="626.9" y2="184.1" stroke="#333" stroke-width="0.8"/>
<text x="626.9" y="191.0" font-size="7.8" text-anchor="middle">3.0</text>
<text x="585.0" y="199.4" font-size="7.3" text-anchor="middle">Fold Enrichment</text>
<rect x="642.6" y="124.8" width="34.8" height="56.1" fill="#FFFFFF" stroke="#222" stroke-width="0.9"/>
<text x="660.7" y="130.0" font-size="4.5" text-anchor="middle" font-weight="normal" fill="#333">Log10(P value)</text>
<circle cx="650.1" cy="138.3" r="4.3" fill="#4242EE"/>
<text x="659.8" y="139.9" font-size="4.9" font-weight="normal" fill="#333">14.448</text>
<circle cx="650.1" cy="148.0" r="3.8" fill="#F3F3FE"/>
<text x="659.8" y="149.6" font-size="4.9" font-weight="normal" fill="#333">11.427</text>
<circle cx="650.1" cy="157.7" r="3.0" fill="#F66"/>
<text x="659.8" y="159.3" font-size="4.9" font-weight="normal" fill="#333">9.328</text>
<circle cx="650.1" cy="167.7" r="1.9" fill="#D40000"/>
<text x="659.8" y="169.3" font-size="4.9" font-weight="normal" fill="#333">8.217</text>
<circle cx="650.1" cy="177.4" r="0.8" fill="#700000"/>
<text x="659.8" y="179.0" font-size="4.9" font-weight="normal" fill="#333">7.82</text>
<text x="0.6" y="154.0" font-size="10">D</text>
<text x="38.4" y="170.0" font-size="9.7" text-anchor="middle">Pro-</text>
<text x="38.4" y="180.1" font-size="9.7" text-anchor="middle">proliferation</text>
<text x="132.5" y="170.0" font-size="9.7" text-anchor="middle">Anti-</text>
<text x="132.5" y="180.1" font-size="9.7" text-anchor="middle">proliferation</text>
<text x="225.7" y="170.0" font-size="9.7" text-anchor="middle">Pro-</text>
<text x="225.7" y="180.1" font-size="9.7" text-anchor="middle">apoptosis</text>
<text x="318.0" y="170.0" font-size="9.7" text-anchor="middle">Anti-</text>
<text x="318.0" y="180.1" font-size="9.7" text-anchor="middle">apoptosis</text>
<rect x="10.2" y="192.6" width="28.2" height="247.8" fill="#FF0000"/>
<rect x="38.4" y="192.6" width="28.2" height="247.8" fill="#0000FF"/>
<path fill="#FF2020" d="M10.2 192.6h9.45v6.57h-9.45zM19.6 205.6h9.45v6.57h-9.45zM19.6 244.8h9.45v6.57h-9.45zM29.0 264.3h9.45v6.57h-9.45zM19.6 303.4h9.45v6.57h-9.45zM29.0 303.4h9.45v6.57h-9.45zM29.0 336.0h9.45v6.57h-9.45zM29.0 349.1h9.45v6.57h-9.45zM29.0 388.2h9.45v6.57h-9.45zM29.0 394.7h9.45v6.57h-9.45zM29.0 401.2h9.45v6.57h-9.45z"/>
<path fill="#F70000" d="M19.6 192.6h9.45v6.57h-9.45zM29.0 192.6h9.45v6.57h-9.45zM29.0 205.6h9.45v6.57h-9.45zM10.2 218.7h9.45v6.57h-9.45zM19.6 231.7h9.45v6.57h-9.45zM19.6 251.3h9.45v6.57h-9.45zM29.0 296.9h9.45v6.57h-9.45zM19.6 329.5h9.45v6.57h-9.45zM19.6 342.6h9.45v6.57h-9.45zM10.2 355.6h9.45v6.57h-9.45zM29.0 362.1h9.45v6.57h-9.45zM10.2 368.6h9.45v6.57h-9.45zM19.6 368.6h9.45v6.57h-9.45zM29.0 368.6h9.45v6.57h-9.45zM10.2 375.2h9.45v6.57h-9.45zM19.6 394.7h9.45v6.57h-9.45z"/>
<path fill="#0000E4" d="M38.4 192.6h9.45v6.57h-9.45zM57.2 192.6h9.45v6.57h-9.45zM47.8 264.3h9.45v6.57h-9.45zM47.8 283.9h9.45v6.57h-9.45zM47.8 407.8h9.45v6.57h-9.45z"/>
<path fill="#000089" d="M47.8 192.6h9.45v6.57h-9.45zM57.2 231.7h9.45v6.57h-9.45zM38.4 257.8h9.45v6.57h-9.45z"/>
<path fill="#FF5050" d="M10.2 199.1h9.45v6.57h-9.45zM10.2 251.3h9.45v6.57h-9.45z"/>
<path fill="#E60000" d="M29.0 199.1h9.45v6.57h-9.45zM29.0 212.2h9.45v6.57h-9.45zM19.6 218.7h9.45v6.57h-9.45zM19.6 296.9h9.45v6.57h-9.45zM19.6 336.0h9.45v6.57h-9.45zM19.6 407.8h9.45v6.57h-9.45z"/>
<path fill="#0000F6" d="M38.4 199.1h9.45v6.57h-9.45zM57.2 218.7h9.45v6.57h-9.45zM47.8 238.2h9.45v6.57h-9.45zM38.4 290.4h9.45v6.57h-9.45zM57.2 290.4h9.45v6.57h-9.45zM38.4 316.5h9.45v6.57h-9.45zM47.8 323.0h9.45v6.57h-9.45zM47.8 329.5h9.45v6.57h-9.45zM47.8 342.6h9.45v6.57h-9.45zM38.4 349.1h9.45v6.57h-9.45zM57.2 362.1h9.45v6.57h-9.45zM38.4 368.6h9.45v6.57h-9.45zM47.8 394.7h9.45v6.57h-9.45zM47.8 427.3h9.45v6.57h-9.45zM57.2 427.3h9.45v6.57h-9.45zM47.8 433.8h9.45v6.57h-9.45zM57.2 433.8h9.45v6.57h-9.45z"/>
<path fill="#3030FF" d="M47.8 199.1h9.45v6.57h-9.45zM57.2 329.5h9.45v6.57h-9.45zM57.2 394.7h9.45v6.57h-9.45z"/>
<path fill="#EE0000" d="M10.2 205.6h9.45v6.57h-9.45zM10.2 212.2h9.45v6.57h-9.45zM29.0 244.8h9.45v6.57h-9.45zM19.6 257.8h9.45v6.57h-9.45zM29.0 277.4h9.45v6.57h-9.45zM10.2 310.0h9.45v6.57h-9.45zM10.2 342.6h9.45v6.57h-9.45zM29.0 355.6h9.45v6.57h-9.45zM19.6 362.1h9.45v6.57h-9.45zM19.6 375.2h9.45v6.57h-9.45zM10.2 394.7h9.45v6.57h-9.45zM10.2 427.3h9.45v6.57h-9.45z"/>
<path fill="#6060FF" d="M38.4 205.6h9.45v6.57h-9.45zM57.2 238.2h9.45v6.57h-9.45zM38.4 329.5h9.45v6.57h-9.45zM57.2 381.7h9.45v6.57h-9.45zM57.2 388.2h9.45v6.57h-9.45z"/>
<path fill="#0000A4" d="M47.8 205.6h9.45v6.57h-9.45zM57.2 251.3h9.45v6.57h-9.45zM47.8 362.1h9.45v6.57h-9.45z"/>
<path fill="#2020FF" d="M57.2 205.6h9.45v6.57h-9.45zM57.2 264.3h9.45v6.57h-9.45zM57.2 277.4h9.45v6.57h-9.45zM57.2 303.4h9.45v6.57h-9.45zM57.2 310.0h9.45v6.57h-9.45zM47.8 349.1h9.45v6.57h-9.45zM57.2 349.1h9.45v6.57h-9.45zM47.8 368.6h9.45v6.57h-9.45zM38.4 381.7h9.45v6.57h-9.45zM57.2 414.3h9.45v6.57h-9.45z"/>
<path fill="#0000ED" d="M38.4 212.2h9.45v6.57h-9.45zM47.8 225.2h9.45v6.57h-9.45zM38.4 231.7h9.45v6.57h-9.45zM38.4 238.2h9.45v6.57h-9.45zM38.4 264.3h9.45v6.57h-9.45zM38.4 283.9h9.45v6.57h-9.45zM38.4 310.0h9.45v6.57h-9.45zM47.8 316.5h9.45v6.57h-9.45zM38.4 323.0h9.45v6.57h-9.45zM57.2 336.0h9.45v6.57h-9.45zM38.4 433.8h9.45v6.57h-9.45z"/>
<path fill="#0000DB" d="M47.8 212.2h9.45v6.57h-9.45zM47.8 231.7h9.45v6.57h-9.45zM47.8 277.4h9.45v6.57h-9.45zM38.4 296.9h9.45v6.57h-9.45zM38.4 303.4h9.45v6.57h-9.45zM57.2 342.6h9.45v6.57h-9.45z"/>
<path fill="#000092" d="M57.2 212.2h9.45v6.57h-9.45zM47.8 290.4h9.45v6.57h-9.45z"/>
<path fill="#0000B6" d="M38.4 218.7h9.45v6.57h-9.45zM57.2 270.8h9.45v6.57h-9.45zM47.8 401.2h9.45v6.57h-9.45zM57.2 420.8h9.45v6.57h-9.45zM38.4 427.3h9.45v6.57h-9.45z"/>
<path fill="#FF1010" d="M10.2 225.2h9.45v6.57h-9.45zM10.2 231.7h9.45v6.57h-9.45zM29.0 231.7h9.45v6.57h-9.45zM10.2 238.2h9.45v6.57h-9.45zM29.0 257.8h9.45v6.57h-9.45zM19.6 277.4h9.45v6.57h-9.45zM10.2 303.4h9.45v6.57h-9.45zM29.0 310.0h9.45v6.57h-9.45zM29.0 316.5h9.45v6.57h-9.45zM29.0 329.5h9.45v6.57h-9.45zM19.6 349.1h9.45v6.57h-9.45zM10.2 388.2h9.45v6.57h-9.45zM19.6 388.2h9.45v6.57h-9.45zM10.2 401.2h9.45v6.57h-9.45zM10.2 420.8h9.45v6.57h-9.45zM29.0 420.8h9.45v6.57h-9.45zM29.0 427.3h9.45v6.57h-9.45zM29.0 433.8h9.45v6.57h-9.45z"/>
<path fill="#1010FF" d="M57.2 225.2h9.45v6.57h-9.45zM38.4 244.8h9.45v6.57h-9.45zM47.8 251.3h9.45v6.57h-9.45zM38.4 277.4h9.45v6.57h-9.45zM57.2 283.9h9.45v6.57h-9.45zM47.8 303.4h9.45v6.57h-9.45zM57.2 355.6h9.45v6.57h-9.45zM47.8 375.2h9.45v6.57h-9.45zM57.2 375.2h9.45v6.57h-9.45zM38.4 388.2h9.45v6.57h-9.45zM38.4 414.3h9.45v6.57h-9.45zM38.4 420.8h9.45v6.57h-9.45z"/>
<path fill="#DD0000" d="M29.0 238.2h9.45v6.57h-9.45zM10.2 316.5h9.45v6.57h-9.45zM19.6 355.6h9.45v6.57h-9.45zM29.0 381.7h9.45v6.57h-9.45z"/>
<path fill="#7070FF" d="M47.8 244.8h9.45v6.57h-9.45zM57.2 257.8h9.45v6.57h-9.45zM57.2 401.2h9.45v6.57h-9.45zM47.8 420.8h9.45v6.57h-9.45z"/>
<path fill="#5050FF" d="M57.2 244.8h9.45v6.57h-9.45zM47.8 257.8h9.45v6.57h-9.45zM47.8 388.2h9.45v6.57h-9.45zM57.2 407.8h9.45v6.57h-9.45z"/>
<path fill="#8080FF" d="M38.4 251.3h9.45v6.57h-9.45z"/>
<path fill="#FF3030" d="M10.2 257.8h9.45v6.57h-9.45zM10.2 336.0h9.45v6.57h-9.45zM19.6 401.2h9.45v6.57h-9.45zM10.2 407.8h9.45v6.57h-9.45z"/>
<path fill="#B30000" d="M10.2 264.3h9.45v6.57h-9.45zM19.6 316.5h9.45v6.57h-9.45z"/>
<path fill="#FF6060" d="M19.6 264.3h9.45v6.57h-9.45zM10.2 270.8h9.45v6.57h-9.45zM10.2 283.9h9.45v6.57h-9.45zM19.6 323.0h9.45v6.57h-9.45z"/>
<path fill="#BC0000" d="M19.6 270.8h9.45v6.57h-9.45z"/>
<path fill="#D50000" d="M29.0 270.8h9.45v6.57h-9.45zM10.2 296.9h9.45v6.57h-9.45zM19.6 381.7h9.45v6.57h-9.45z"/>
<path fill="#FF4040" d="M19.6 283.9h9.45v6.57h-9.45zM29.0 290.4h9.45v6.57h-9.45zM10.2 323.0h9.45v6.57h-9.45z"/>
<path fill="#CC0000" d="M10.2 290.4h9.45v6.57h-9.45zM29.0 323.0h9.45v6.57h-9.45zM29.0 342.6h9.45v6.57h-9.45zM10.2 362.1h9.45v6.57h-9.45zM29.0 407.8h9.45v6.57h-9.45z"/>
<path fill="#0000AD" d="M47.8 296.9h9.45v6.57h-9.45z"/>
<path fill="#0000D2" d="M47.8 310.0h9.45v6.57h-9.45zM38.4 407.8h9.45v6.57h-9.45z"/>
<path fill="#4040FF" d="M57.2 323.0h9.45v6.57h-9.45zM57.2 368.6h9.45v6.57h-9.45z"/>
<path fill="#EFEFFF" d="M38.4 336.0h9.45v6.57h-9.45z"/>
<path fill="#BFBFFF" d="M38.4 342.6h9.45v6.57h-9.45z"/>
<rect x="10.20" y="183.8" width="9.40" height="7.7" fill="#FF9800"/>
<rect x="19.60" y="183.8" width="9.40" height="7.7" fill="#FF9800"/>
<rect x="29.00" y="183.8" width="9.40" height="7.7" fill="#FF9800"/>
<rect x="38.40" y="183.8" width="9.40" height="7.7" fill="#FFCB05"/>
<rect x="47.80" y="183.8" width="9.40" height="7.7" fill="#FFCB05"/>
<rect x="57.20" y="183.8" width="9.40" height="7.7" fill="#FFCB05"/>
<line x1="19.6" y1="183.8" x2="19.6" y2="191.5" stroke="#FFC766" stroke-width="0.8"/>
<line x1="29.0" y1="183.8" x2="29.0" y2="191.5" stroke="#FFC766" stroke-width="0.8"/>
<line x1="38.4" y1="183.8" x2="38.4" y2="191.5" stroke="#FFD98A" stroke-width="0.8"/>
<line x1="47.8" y1="183.8" x2="47.8" y2="191.5" stroke="#FFE78C" stroke-width="0.8"/>
<line x1="57.2" y1="183.8" x2="57.2" y2="191.5" stroke="#FFE78C" stroke-width="0.8"/>
<g font-size="6.8" font-weight="normal" fill="#222"><text x="69.0" y="198.3">Pbx1</text><text x="69.0" y="204.8">Tgfb2</text><text x="69.0" y="211.3">Tcf3</text><text x="69.0" y="217.8">Egfr</text><text x="69.0" y="224.3">Usp22</text><text x="69.0" y="230.9">Stxbp4</text><text x="69.0" y="237.4">Id2</text><text x="69.0" y="243.9">Foxg1</text><text x="69.0" y="250.4">Foxa1</text><text x="69.0" y="256.9">Hspa2</text><text x="69.0" y="263.5">Edn1</text><text x="69.0" y="270.0">Nsmce2</text><text x="69.0" y="276.5">Myc</text><text x="69.0" y="283.0">Hes1</text><text x="69.0" y="289.5">Adamts1</text><text x="69.0" y="296.1">Wiz</text><text x="69.0" y="302.6">Kat2b</text><text x="69.0" y="309.1">Spdya</text><text x="69.0" y="315.6">Anxa1</text><text x="69.0" y="322.1">Pkp4</text><text x="69.0" y="328.7">Fam83d</text><text x="69.0" y="335.2">Ect2</text><text x="69.0" y="341.7">Smc4</text><text x="69.0" y="348.2">Pkn2</text><text x="69.0" y="354.7">Shb</text><text x="69.0" y="361.3">Wnt4</text><text x="69.0" y="367.8">Mapre3</text><text x="69.0" y="374.3">Met</text><text x="69.0" y="380.8">Ncapd2</text><text x="69.0" y="387.3">Ccnd2</text><text x="69.0" y="393.9">Sirt2</text><text x="69.0" y="400.4">Igf1r</text><text x="69.0" y="406.9">Fgfr2</text><text x="69.0" y="413.4">Cdc16</text><text x="69.0" y="419.9">Rad23a</text><text x="69.0" y="426.5">Smpd3</text><text x="69.0" y="433.0">Rab11a</text><text x="69.0" y="439.5">Plscr1</text></g>
<rect x="104.2" y="192.6" width="28.4" height="156.5" fill="#0000FF"/>
<rect x="132.6" y="192.6" width="28.4" height="156.5" fill="#FF0000"/>
<path fill="#0000A4" d="M104.2 192.6h9.50v6.57h-9.50zM113.7 296.9h9.50v6.57h-9.50zM104.2 323.0h9.50v6.57h-9.50z"/>
<path fill="#3030FF" d="M113.7 192.6h9.50v6.57h-9.50zM123.1 251.3h9.50v6.57h-9.50zM113.7 283.9h9.50v6.57h-9.50zM123.1 290.4h9.50v6.57h-9.50zM104.2 329.5h9.50v6.57h-9.50z"/>
<path fill="#6060FF" d="M123.1 192.6h9.50v6.57h-9.50zM113.7 218.7h9.50v6.57h-9.50zM123.1 264.3h9.50v6.57h-9.50zM104.2 270.8h9.50v6.57h-9.50zM104.2 290.4h9.50v6.57h-9.50zM113.7 323.0h9.50v6.57h-9.50zM123.1 329.5h9.50v6.57h-9.50zM113.7 336.0h9.50v6.57h-9.50z"/>
<path fill="#F70000" d="M132.6 192.6h9.50v6.57h-9.50zM142.0 205.6h9.50v6.57h-9.50zM151.5 212.2h9.50v6.57h-9.50zM132.6 218.7h9.50v6.57h-9.50zM142.0 244.8h9.50v6.57h-9.50zM132.6 257.8h9.50v6.57h-9.50zM132.6 264.3h9.50v6.57h-9.50zM142.0 283.9h9.50v6.57h-9.50zM151.5 296.9h9.50v6.57h-9.50zM151.5 310.0h9.50v6.57h-9.50zM151.5 342.6h9.50v6.57h-9.50z"/>
<path fill="#FF3030" d="M142.0 192.6h9.50v6.57h-9.50zM132.6 270.8h9.50v6.57h-9.50z"/>
<path fill="#FF1010" d="M151.5 192.6h9.50v6.57h-9.50zM132.6 199.1h9.50v6.57h-9.50zM151.5 251.3h9.50v6.57h-9.50zM142.0 270.8h9.50v6.57h-9.50zM142.0 277.4h9.50v6.57h-9.50zM151.5 277.4h9.50v6.57h-9.50zM132.6 303.4h9.50v6.57h-9.50zM142.0 303.4h9.50v6.57h-9.50zM151.5 336.0h9.50v6.57h-9.50zM142.0 342.6h9.50v6.57h-9.50z"/>
<path fill="#0000F6" d="M104.2 199.1h9.50v6.57h-9.50zM113.7 205.6h9.50v6.57h-9.50zM113.7 244.8h9.50v6.57h-9.50zM113.7 251.3h9.50v6.57h-9.50zM123.1 257.8h9.50v6.57h-9.50zM123.1 336.0h9.50v6.57h-9.50z"/>
<path fill="#7070FF" d="M123.1 199.1h9.50v6.57h-9.50zM113.7 231.7h9.50v6.57h-9.50zM104.2 264.3h9.50v6.57h-9.50z"/>
<path fill="#EE0000" d="M151.5 199.1h9.50v6.57h-9.50zM142.0 218.7h9.50v6.57h-9.50zM151.5 238.2h9.50v6.57h-9.50zM142.0 264.3h9.50v6.57h-9.50zM151.5 264.3h9.50v6.57h-9.50zM132.6 283.9h9.50v6.57h-9.50zM151.5 283.9h9.50v6.57h-9.50zM132.6 336.0h9.50v6.57h-9.50z"/>
<path fill="#0000C0" d="M104.2 205.6h9.50v6.57h-9.50zM123.1 225.2h9.50v6.57h-9.50z"/>
<path fill="#2020FF" d="M123.1 205.6h9.50v6.57h-9.50zM113.7 257.8h9.50v6.57h-9.50zM104.2 283.9h9.50v6.57h-9.50zM113.7 303.4h9.50v6.57h-9.50zM123.1 323.0h9.50v6.57h-9.50z"/>
<path fill="#DD0000" d="M132.6 205.6h9.50v6.57h-9.50z"/>
<path fill="#FF2020" d="M151.5 205.6h9.50v6.57h-9.50zM142.0 231.7h9.50v6.57h-9.50zM132.6 244.8h9.50v6.57h-9.50zM151.5 244.8h9.50v6.57h-9.50zM151.5 270.8h9.50v6.57h-9.50z"/>
<path fill="#0000E4" d="M104.2 212.2h9.50v6.57h-9.50zM104.2 218.7h9.50v6.57h-9.50zM113.7 270.8h9.50v6.57h-9.50zM123.1 270.8h9.50v6.57h-9.50zM113.7 290.4h9.50v6.57h-9.50zM113.7 342.6h9.50v6.57h-9.50z"/>
<path fill="#000092" d="M113.7 212.2h9.50v6.57h-9.50zM123.1 277.4h9.50v6.57h-9.50z"/>
<path fill="#BC0000" d="M132.6 212.2h9.50v6.57h-9.50z"/>
<path fill="#FF7070" d="M142.0 212.2h9.50v6.57h-9.50z"/>
<path fill="#0000AD" d="M123.1 218.7h9.50v6.57h-9.50z"/>
<path fill="#E60000" d="M151.5 218.7h9.50v6.57h-9.50zM142.0 251.3h9.50v6.57h-9.50zM132.6 277.4h9.50v6.57h-9.50zM132.6 290.4h9.50v6.57h-9.50zM151.5 329.5h9.50v6.57h-9.50z"/>
<path fill="#0000D2" d="M104.2 225.2h9.50v6.57h-9.50zM123.1 244.8h9.50v6.57h-9.50z"/>
<path fill="#0000ED" d="M113.7 225.2h9.50v6.57h-9.50zM123.1 231.7h9.50v6.57h-9.50zM123.1 296.9h9.50v6.57h-9.50zM104.2 303.4h9.50v6.57h-9.50zM123.1 316.5h9.50v6.57h-9.50zM104.2 342.6h9.50v6.57h-9.50z"/>
<path fill="#CC0000" d="M132.6 225.2h9.50v6.57h-9.50zM132.6 231.7h9.50v6.57h-9.50zM132.6 310.0h9.50v6.57h-9.50zM132.6 323.0h9.50v6.57h-9.50zM132.6 342.6h9.50v6.57h-9.50z"/>
<path fill="#FF4040" d="M142.0 225.2h9.50v6.57h-9.50zM151.5 323.0h9.50v6.57h-9.50zM142.0 329.5h9.50v6.57h-9.50z"/>
<path fill="#FF6060" d="M151.5 225.2h9.50v6.57h-9.50zM142.0 296.9h9.50v6.57h-9.50zM132.6 316.5h9.50v6.57h-9.50zM142.0 323.0h9.50v6.57h-9.50z"/>
<path fill="#0000B6" d="M104.2 231.7h9.50v6.57h-9.50z"/>
<path fill="#0000C9" d="M104.2 238.2h9.50v6.57h-9.50zM123.1 238.2h9.50v6.57h-9.50zM104.2 316.5h9.50v6.57h-9.50z"/>
<path fill="#FF5050" d="M132.6 238.2h9.50v6.57h-9.50zM142.0 257.8h9.50v6.57h-9.50zM142.0 290.4h9.50v6.57h-9.50zM142.0 310.0h9.50v6.57h-9.50zM142.0 316.5h9.50v6.57h-9.50z"/>
<path fill="#1010FF" d="M104.2 244.8h9.50v6.57h-9.50zM113.7 277.4h9.50v6.57h-9.50zM104.2 310.0h9.50v6.57h-9.50zM113.7 329.5h9.50v6.57h-9.50z"/>
<path fill="#0000DB" d="M104.2 251.3h9.50v6.57h-9.50zM113.7 310.0h9.50v6.57h-9.50z"/>
<path fill="#C40000" d="M151.5 290.4h9.50v6.57h-9.50z"/>
<path fill="#8080FF" d="M104.2 296.9h9.50v6.57h-9.50z"/>
<path fill="#4040FF" d="M123.1 342.6h9.50v6.57h-9.50z"/>
<rect x="104.20" y="183.8" width="9.45" height="7.7" fill="#FF9800"/>
<rect x="113.65" y="183.8" width="9.45" height="7.7" fill="#FF9800"/>
<rect x="123.10" y="183.8" width="9.45" height="7.7" fill="#FF9800"/>
<rect x="132.55" y="183.8" width="9.45" height="7.7" fill="#FFCB05"/>
<rect x="142.00" y="183.8" width="9.45" height="7.7" fill="#FFCB05"/>
<rect x="151.45" y="183.8" width="9.45" height="7.7" fill="#FFCB05"/>
<line x1="113.7" y1="183.8" x2="113.7" y2="191.5" stroke="#FFC766" stroke-width="0.8"/>
<line x1="123.1" y1="183.8" x2="123.1" y2="191.5" stroke="#FFC766" stroke-width="0.8"/>
<line x1="132.6" y1="183.8" x2="132.6" y2="191.5" stroke="#FFD98A" stroke-width="0.8"/>
<line x1="142.0" y1="183.8" x2="142.0" y2="191.5" stroke="#FFE78C" stroke-width="0.8"/>
<line x1="151.5" y1="183.8" x2="151.5" y2="191.5" stroke="#FFE78C" stroke-width="0.8"/>
<g font-size="6.8" font-weight="normal" fill="#222"><text x="162.4" y="198.3">Ptgs2</text><text x="162.4" y="204.8">Dot1l</text><text x="162.4" y="211.3">Mdm2</text><text x="162.4" y="217.8">Npm1</text><text x="162.4" y="224.3">Nle1</text><text x="162.4" y="230.9">Ppp2r5c</text><text x="162.4" y="237.4">Pinx1</text><text x="162.4" y="243.9">Dtx3l</text><text x="162.4" y="250.4">Parp9</text><text x="162.4" y="256.9">Cdkn1a</text><text x="162.4" y="263.5">Tnf</text><text x="162.4" y="270.0">Ier3</text><text x="162.4" y="276.5">Zfp36l2</text><text x="162.4" y="283.0">Dgkz</text><text x="162.4" y="289.5">Prkacb</text><text x="162.4" y="296.1">Ufl1</text><text x="162.4" y="302.6">Cdk6</text><text x="162.4" y="309.1">Taok3</text><text x="162.4" y="315.6">Foxk1</text><text x="162.4" y="322.1">Gpnmb</text><text x="162.4" y="328.7">Rrp8</text><text x="162.4" y="335.2">Dcun1d3</text><text x="162.4" y="341.7">Zw10</text><text x="162.4" y="348.2">Trex1</text></g>
<rect x="197.7" y="192.6" width="28.1" height="326.0" fill="#0000FF"/>
<rect x="225.8" y="192.6" width="28.1" height="326.0" fill="#FF0000"/>
<path fill="#0000DB" d="M207.0 192.6h9.40v6.57h-9.40zM197.7 277.4h9.40v6.57h-9.40zM216.4 296.9h9.40v6.57h-9.40zM207.0 355.6h9.40v6.57h-9.40zM216.4 433.8h9.40v6.57h-9.40zM197.7 466.4h9.40v6.57h-9.40zM216.4 473.0h9.40v6.57h-9.40z"/>
<path fill="#0000F6" d="M216.4 192.6h9.40v6.57h-9.40zM216.4 199.1h9.40v6.57h-9.40zM197.7 212.2h9.40v6.57h-9.40zM216.4 238.2h9.40v6.57h-9.40zM197.7 283.9h9.40v6.57h-9.40zM216.4 283.9h9.40v6.57h-9.40zM216.4 290.4h9.40v6.57h-9.40zM207.0 316.5h9.40v6.57h-9.40zM216.4 323.0h9.40v6.57h-9.40zM207.0 329.5h9.40v6.57h-9.40zM216.4 355.6h9.40v6.57h-9.40zM216.4 401.2h9.40v6.57h-9.40zM197.7 433.8h9.40v6.57h-9.40zM207.0 473.0h9.40v6.57h-9.40zM207.0 479.5h9.40v6.57h-9.40zM197.7 492.5h9.40v6.57h-9.40zM216.4 499.0h9.40v6.57h-9.40zM207.0 505.6h9.40v6.57h-9.40z"/>
<path fill="#EE0000" d="M225.8 192.6h9.40v6.57h-9.40zM225.8 212.2h9.40v6.57h-9.40zM244.4 225.2h9.40v6.57h-9.40zM235.1 244.8h9.40v6.57h-9.40zM225.8 251.3h9.40v6.57h-9.40zM225.8 316.5h9.40v6.57h-9.40zM235.1 336.0h9.40v6.57h-9.40zM235.1 362.1h9.40v6.57h-9.40zM235.1 427.3h9.40v6.57h-9.40zM244.4 446.9h9.40v6.57h-9.40zM244.4 473.0h9.40v6.57h-9.40zM235.1 505.6h9.40v6.57h-9.40zM244.4 505.6h9.40v6.57h-9.40z"/>
<path fill="#FF6060" d="M244.4 192.6h9.40v6.57h-9.40zM235.1 231.7h9.40v6.57h-9.40zM244.4 251.3h9.40v6.57h-9.40zM225.8 257.8h9.40v6.57h-9.40zM235.1 283.9h9.40v6.57h-9.40zM225.8 342.6h9.40v6.57h-9.40zM244.4 342.6h9.40v6.57h-9.40zM244.4 433.8h9.40v6.57h-9.40zM235.1 486.0h9.40v6.57h-9.40z"/>
<path fill="#0000E4" d="M197.7 199.1h9.40v6.57h-9.40zM197.7 225.2h9.40v6.57h-9.40zM207.0 257.8h9.40v6.57h-9.40zM207.0 296.9h9.40v6.57h-9.40zM216.4 303.4h9.40v6.57h-9.40zM207.0 336.0h9.40v6.57h-9.40zM216.4 336.0h9.40v6.57h-9.40zM207.0 433.8h9.40v6.57h-9.40zM216.4 446.9h9.40v6.57h-9.40zM207.0 486.0h9.40v6.57h-9.40zM207.0 499.0h9.40v6.57h-9.40zM207.0 512.1h9.40v6.57h-9.40z"/>
<path fill="#2020FF" d="M207.0 199.1h9.40v6.57h-9.40zM207.0 303.4h9.40v6.57h-9.40zM216.4 349.1h9.40v6.57h-9.40zM197.7 355.6h9.40v6.57h-9.40zM207.0 368.6h9.40v6.57h-9.40zM197.7 375.2h9.40v6.57h-9.40zM207.0 394.7h9.40v6.57h-9.40zM197.7 407.8h9.40v6.57h-9.40zM197.7 486.0h9.40v6.57h-9.40zM207.0 492.5h9.40v6.57h-9.40z"/>
<path fill="#FF1010" d="M225.8 199.1h9.40v6.57h-9.40zM235.1 199.1h9.40v6.57h-9.40zM244.4 212.2h9.40v6.57h-9.40zM225.8 244.8h9.40v6.57h-9.40zM225.8 323.0h9.40v6.57h-9.40zM235.1 329.5h9.40v6.57h-9.40zM225.8 368.6h9.40v6.57h-9.40zM225.8 375.2h9.40v6.57h-9.40zM235.1 381.7h9.40v6.57h-9.40zM244.4 394.7h9.40v6.57h-9.40zM244.4 440.4h9.40v6.57h-9.40zM225.8 466.4h9.40v6.57h-9.40zM225.8 492.5h9.40v6.57h-9.40zM244.4 512.1h9.40v6.57h-9.40z"/>
<path fill="#F70000" d="M244.4 199.1h9.40v6.57h-9.40zM244.4 205.6h9.40v6.57h-9.40zM225.8 225.2h9.40v6.57h-9.40zM235.1 225.2h9.40v6.57h-9.40zM244.4 244.8h9.40v6.57h-9.40zM235.1 264.3h9.40v6.57h-9.40zM244.4 283.9h9.40v6.57h-9.40zM244.4 290.4h9.40v6.57h-9.40zM225.8 296.9h9.40v6.57h-9.40zM225.8 303.4h9.40v6.57h-9.40zM235.1 310.0h9.40v6.57h-9.40zM244.4 316.5h9.40v6.57h-9.40zM244.4 336.0h9.40v6.57h-9.40zM235.1 349.1h9.40v6.57h-9.40zM244.4 362.1h9.40v6.57h-9.40zM244.4 381.7h9.40v6.57h-9.40zM225.8 394.7h9.40v6.57h-9.40zM235.1 394.7h9.40v6.57h-9.40zM244.4 401.2h9.40v6.57h-9.40zM244.4 414.3h9.40v6.57h-9.40zM225.8 420.8h9.40v6.57h-9.40zM225.8 427.3h9.40v6.57h-9.40zM225.8 433.8h9.40v6.57h-9.40zM225.8 440.4h9.40v6.57h-9.40zM235.1 446.9h9.40v6.57h-9.40zM244.4 466.4h9.40v6.57h-9.40zM225.8 473.0h9.40v6.57h-9.40zM244.4 479.5h9.40v6.57h-9.40z"/>
<path fill="#0000ED" d="M197.7 205.6h9.40v6.57h-9.40zM207.0 212.2h9.40v6.57h-9.40zM207.0 218.7h9.40v6.57h-9.40zM216.4 231.7h9.40v6.57h-9.40zM197.7 257.8h9.40v6.57h-9.40zM216.4 277.4h9.40v6.57h-9.40zM216.4 310.0h9.40v6.57h-9.40zM216.4 316.5h9.40v6.57h-9.40zM207.0 323.0h9.40v6.57h-9.40zM216.4 329.5h9.40v6.57h-9.40zM197.7 381.7h9.40v6.57h-9.40zM216.4 388.2h9.40v6.57h-9.40zM197.7 414.3h9.40v6.57h-9.40zM216.4 427.3h9.40v6.57h-9.40zM197.7 453.4h9.40v6.57h-9.40zM216.4 479.5h9.40v6.57h-9.40zM197.7 512.1h9.40v6.57h-9.40z"/>
<path fill="#6060FF" d="M207.0 205.6h9.40v6.57h-9.40zM216.4 225.2h9.40v6.57h-9.40zM197.7 244.8h9.40v6.57h-9.40zM207.0 277.4h9.40v6.57h-9.40zM207.0 453.4h9.40v6.57h-9.40z"/>
<path fill="#1010FF" d="M216.4 205.6h9.40v6.57h-9.40zM197.7 264.3h9.40v6.57h-9.40zM197.7 303.4h9.40v6.57h-9.40zM216.4 362.1h9.40v6.57h-9.40zM216.4 375.2h9.40v6.57h-9.40zM216.4 381.7h9.40v6.57h-9.40zM197.7 440.4h9.40v6.57h-9.40zM197.7 446.9h9.40v6.57h-9.40zM216.4 453.4h9.40v6.57h-9.40zM216.4 459.9h9.40v6.57h-9.40zM216.4 466.4h9.40v6.57h-9.40zM197.7 473.0h9.40v6.57h-9.40zM216.4 486.0h9.40v6.57h-9.40zM197.7 499.0h9.40v6.57h-9.40zM216.4 512.1h9.40v6.57h-9.40z"/>
<path fill="#FF2020" d="M225.8 205.6h9.40v6.57h-9.40zM235.1 205.6h9.40v6.57h-9.40zM225.8 218.7h9.40v6.57h-9.40zM235.1 218.7h9.40v6.57h-9.40zM244.4 218.7h9.40v6.57h-9.40zM235.1 251.3h9.40v6.57h-9.40zM244.4 257.8h9.40v6.57h-9.40zM244.4 277.4h9.40v6.57h-9.40zM244.4 296.9h9.40v6.57h-9.40zM235.1 303.4h9.40v6.57h-9.40zM225.8 407.8h9.40v6.57h-9.40zM235.1 407.8h9.40v6.57h-9.40zM244.4 427.3h9.40v6.57h-9.40zM244.4 453.4h9.40v6.57h-9.40zM235.1 459.9h9.40v6.57h-9.40zM225.8 479.5h9.40v6.57h-9.40zM244.4 486.0h9.40v6.57h-9.40zM225.8 499.0h9.40v6.57h-9.40z"/>
<path fill="#0000C0" d="M216.4 212.2h9.40v6.57h-9.40z"/>
<path fill="#0000B6" d="M197.7 218.7h9.40v6.57h-9.40zM207.0 420.8h9.40v6.57h-9.40zM207.0 446.9h9.40v6.57h-9.40z"/>
<path fill="#0000D2" d="M216.4 218.7h9.40v6.57h-9.40zM197.7 336.0h9.40v6.57h-9.40z"/>
<path fill="#5050FF" d="M207.0 225.2h9.40v6.57h-9.40zM197.7 296.9h9.40v6.57h-9.40zM207.0 310.0h9.40v6.57h-9.40zM207.0 342.6h9.40v6.57h-9.40zM207.0 381.7h9.40v6.57h-9.40zM197.7 388.2h9.40v6.57h-9.40zM197.7 459.9h9.40v6.57h-9.40z"/>
<path fill="#3030FF" d="M197.7 231.7h9.40v6.57h-9.40zM216.4 244.8h9.40v6.57h-9.40zM216.4 394.7h9.40v6.57h-9.40zM207.0 427.3h9.40v6.57h-9.40z"/>
<path fill="#CC0000" d="M244.4 231.7h9.40v6.57h-9.40zM225.8 270.8h9.40v6.57h-9.40zM244.4 270.8h9.40v6.57h-9.40zM225.8 283.9h9.40v6.57h-9.40zM235.1 420.8h9.40v6.57h-9.40zM225.8 486.0h9.40v6.57h-9.40z"/>
<path fill="#0000A4" d="M207.0 238.2h9.40v6.57h-9.40zM216.4 251.3h9.40v6.57h-9.40zM207.0 459.9h9.40v6.57h-9.40z"/>
<path fill="#E60000" d="M235.1 238.2h9.40v6.57h-9.40zM235.1 290.4h9.40v6.57h-9.40zM244.4 303.4h9.40v6.57h-9.40zM244.4 310.0h9.40v6.57h-9.40zM235.1 355.6h9.40v6.57h-9.40zM244.4 368.6h9.40v6.57h-9.40zM244.4 388.2h9.40v6.57h-9.40zM225.8 401.2h9.40v6.57h-9.40zM244.4 459.9h9.40v6.57h-9.40z"/>
<path fill="#4040FF" d="M207.0 244.8h9.40v6.57h-9.40zM207.0 264.3h9.40v6.57h-9.40zM197.7 290.4h9.40v6.57h-9.40zM216.4 368.6h9.40v6.57h-9.40zM207.0 407.8h9.40v6.57h-9.40zM207.0 466.4h9.40v6.57h-9.40z"/>
<path fill="#BFBFFF" d="M197.7 251.3h9.40v6.57h-9.40z"/>
<path fill="#7070FF" d="M207.0 251.3h9.40v6.57h-9.40z"/>
<path fill="#FF3030" d="M235.1 257.8h9.40v6.57h-9.40zM244.4 323.0h9.40v6.57h-9.40zM225.8 355.6h9.40v6.57h-9.40zM244.4 355.6h9.40v6.57h-9.40zM235.1 368.6h9.40v6.57h-9.40z"/>
<path fill="#FF4040" d="M225.8 264.3h9.40v6.57h-9.40zM225.8 336.0h9.40v6.57h-9.40z"/>
<path fill="#DD0000" d="M244.4 264.3h9.40v6.57h-9.40zM235.1 270.8h9.40v6.57h-9.40zM235.1 296.9h9.40v6.57h-9.40zM235.1 342.6h9.40v6.57h-9.40zM244.4 407.8h9.40v6.57h-9.40zM225.8 414.3h9.40v6.57h-9.40zM225.8 459.9h9.40v6.57h-9.40zM235.1 466.4h9.40v6.57h-9.40zM235.1 499.0h9.40v6.57h-9.40z"/>
<path fill="#8F8FFF" d="M197.7 270.8h9.40v6.57h-9.40z"/>
<path fill="#000092" d="M207.0 283.9h9.40v6.57h-9.40zM207.0 375.2h9.40v6.57h-9.40z"/>
<path fill="#9F9FFF" d="M197.7 310.0h9.40v6.57h-9.40z"/>
<path fill="#00009B" d="M197.7 323.0h9.40v6.57h-9.40zM197.7 401.2h9.40v6.57h-9.40z"/>
<path fill="#FF5050" d="M235.1 323.0h9.40v6.57h-9.40zM225.8 381.7h9.40v6.57h-9.40z"/>
<path fill="#FF8F8F" d="M197.7 342.6h9.40v6.57h-9.40z"/>
<path fill="#000089" d="M216.4 342.6h9.40v6.57h-9.40z"/>
<path fill="#8080FF" d="M197.7 349.1h9.40v6.57h-9.40zM197.7 420.8h9.40v6.57h-9.40z"/>
<path fill="#FFAFAF" d="M225.8 349.1h9.40v6.57h-9.40z"/>
<path fill="#BC0000" d="M244.4 349.1h9.40v6.57h-9.40zM225.8 453.4h9.40v6.57h-9.40z"/>
<path fill="#AFAFFF" d="M197.7 362.1h9.40v6.57h-9.40z"/>
<path fill="#0000AD" d="M197.7 368.6h9.40v6.57h-9.40zM197.7 479.5h9.40v6.57h-9.40zM197.7 505.6h9.40v6.57h-9.40z"/>
<path fill="#FF7070" d="M235.1 453.4h9.40v6.57h-9.40z"/>
<rect x="197.70" y="183.8" width="9.35" height="7.7" fill="#FF9800"/>
<rect x="207.05" y="183.8" width="9.35" height="7.7" fill="#FF9800"/>
<rect x="216.40" y="183.8" width="9.35" height="7.7" fill="#FF9800"/>
<rect x="225.75" y="183.8" width="9.35" height="7.7" fill="#FFCB05"/>
<rect x="235.10" y="183.8" width="9.35" height="7.7" fill="#FFCB05"/>
<rect x="244.45" y="183.8" width="9.35" height="7.7" fill="#FFCB05"/>
<line x1="207.0" y1="183.8" x2="207.0" y2="191.5" stroke="#FFC766" stroke-width="0.8"/>
<line x1="216.4" y1="183.8" x2="216.4" y2="191.5" stroke="#FFC766" stroke-width="0.8"/>
<line x1="225.8" y1="183.8" x2="225.8" y2="191.5" stroke="#FFD98A" stroke-width="0.8"/>
<line x1="235.1" y1="183.8" x2="235.1" y2="191.5" stroke="#FFE78C" stroke-width="0.8"/>
<line x1="244.4" y1="183.8" x2="244.4" y2="191.5" stroke="#FFE78C" stroke-width="0.8"/>
<g font-size="6.8" font-weight="normal" fill="#222"><text x="256.6" y="198.3">Cfar</text><text x="256.6" y="204.8">Ptprc</text><text x="256.6" y="211.3">Pla2g4a</text><text x="256.6" y="217.8">Ptgs2</text><text x="256.6" y="224.3">Ncf2</text><text x="256.6" y="230.9">Atf5</text><text x="256.6" y="237.4">Atf3</text><text x="256.6" y="243.9">Apaf1</text><text x="256.6" y="250.4">Xbp1</text><text x="256.6" y="256.9">Arrb2</text><text x="256.6" y="263.5">Nos2</text><text x="256.6" y="270.0">Ccl3</text><text x="256.6" y="276.5">Grn</text><text x="256.6" y="283.0">Ncoa1</text><text x="256.6" y="289.5">Rps7</text><text x="256.6" y="296.1">Psen1</text><text x="256.6" y="302.6">Ctsl</text><text x="256.6" y="309.1">Bcl6</text><text x="256.6" y="315.6">Igf2r</text><text x="256.6" y="322.1">Ltb</text><text x="256.6" y="328.7">Tnf</text><text x="256.6" y="335.2">Emilin2</text><text x="256.6" y="341.7">Eif2ak2</text><text x="256.6" y="348.2">Egr1</text><text x="256.6" y="354.7">Fosl1</text><text x="256.6" y="361.3">Olfm1</text><text x="256.6" y="367.8">Gsn</text><text x="256.6" y="374.3">Itga4</text><text x="256.6" y="380.8">Plagl2</text><text x="256.6" y="387.3">Ctss</text><text x="256.6" y="393.9">Mcl1</text><text x="256.6" y="400.4">Lyn</text><text x="256.6" y="406.9">Lpar1</text><text x="256.6" y="413.4">Jun</text><text x="256.6" y="419.9">Pik3cd</text><text x="256.6" y="426.5">Plekhn1</text><text x="256.6" y="433.0">Irf5</text><text x="256.6" y="439.5">Bbc3</text><text x="256.6" y="446.0">Tyrobp</text><text x="256.6" y="452.5">Nfkbid</text><text x="256.6" y="459.1">Bax</text><text x="256.6" y="465.6">Ctsc</text><text x="256.6" y="472.1">Itgam</text><text x="256.6" y="478.6">Adam8</text><text x="256.6" y="485.1">Ctsd</text><text x="256.6" y="491.7">Hmox1</text><text x="256.6" y="498.2">Casp1</text><text x="256.6" y="504.7">Il18</text><text x="256.6" y="511.2">Bcl2a1d</text><text x="256.6" y="517.7">Bcl2a1b</text></g>
<rect x="289.6" y="192.7" width="28.4" height="254.9" fill="#FF0000"/>
<rect x="318.0" y="192.7" width="28.4" height="254.9" fill="#0000FF"/>
<path fill="#BC0000" d="M289.6 192.7h9.50v6.59h-9.50zM289.6 258.1h9.50v6.59h-9.50zM299.1 303.8h9.50v6.59h-9.50zM308.5 428.0h9.50v6.59h-9.50zM308.5 441.1h9.50v6.59h-9.50z"/>
<path fill="#FF8080" d="M299.1 192.7h9.50v6.59h-9.50z"/>
<path fill="#E60000" d="M308.5 192.7h9.50v6.59h-9.50zM308.5 205.8h9.50v6.59h-9.50zM299.1 277.7h9.50v6.59h-9.50zM289.6 290.8h9.50v6.59h-9.50zM308.5 316.9h9.50v6.59h-9.50zM299.1 343.1h9.50v6.59h-9.50zM289.6 362.7h9.50v6.59h-9.50zM308.5 375.7h9.50v6.59h-9.50zM308.5 421.5h9.50v6.59h-9.50z"/>
<path fill="#7070FF" d="M318.0 192.7h9.50v6.59h-9.50zM327.4 225.4h9.50v6.59h-9.50zM336.9 271.1h9.50v6.59h-9.50zM336.9 395.3h9.50v6.59h-9.50z"/>
<path fill="#0000E4" d="M327.4 192.7h9.50v6.59h-9.50zM327.4 212.3h9.50v6.59h-9.50zM327.4 218.8h9.50v6.59h-9.50zM336.9 245.0h9.50v6.59h-9.50zM318.0 251.5h9.50v6.59h-9.50zM318.0 264.6h9.50v6.59h-9.50zM327.4 297.3h9.50v6.59h-9.50zM327.4 316.9h9.50v6.59h-9.50zM336.9 336.5h9.50v6.59h-9.50zM336.9 343.1h9.50v6.59h-9.50zM327.4 356.1h9.50v6.59h-9.50zM336.9 369.2h9.50v6.59h-9.50zM327.4 388.8h9.50v6.59h-9.50zM327.4 408.4h9.50v6.59h-9.50zM327.4 415.0h9.50v6.59h-9.50z"/>
<path fill="#0000A4" d="M336.9 192.7h9.50v6.59h-9.50zM336.9 297.3h9.50v6.59h-9.50z"/>
<path fill="#FF3030" d="M299.1 199.2h9.50v6.59h-9.50zM299.1 271.1h9.50v6.59h-9.50zM289.6 323.4h9.50v6.59h-9.50zM289.6 408.4h9.50v6.59h-9.50zM299.1 415.0h9.50v6.59h-9.50z"/>
<path fill="#F70000" d="M308.5 199.2h9.50v6.59h-9.50zM289.6 212.3h9.50v6.59h-9.50zM299.1 218.8h9.50v6.59h-9.50zM308.5 218.8h9.50v6.59h-9.50zM299.1 238.5h9.50v6.59h-9.50zM289.6 284.2h9.50v6.59h-9.50zM308.5 284.2h9.50v6.59h-9.50zM299.1 290.8h9.50v6.59h-9.50zM289.6 316.9h9.50v6.59h-9.50zM289.6 336.5h9.50v6.59h-9.50zM289.6 356.1h9.50v6.59h-9.50zM308.5 362.7h9.50v6.59h-9.50zM308.5 369.2h9.50v6.59h-9.50zM299.1 388.8h9.50v6.59h-9.50zM299.1 395.3h9.50v6.59h-9.50zM308.5 415.0h9.50v6.59h-9.50z"/>
<path fill="#0000ED" d="M318.0 199.2h9.50v6.59h-9.50zM336.9 212.3h9.50v6.59h-9.50zM336.9 225.4h9.50v6.59h-9.50zM318.0 245.0h9.50v6.59h-9.50zM336.9 258.1h9.50v6.59h-9.50zM336.9 264.6h9.50v6.59h-9.50zM318.0 284.2h9.50v6.59h-9.50zM327.4 284.2h9.50v6.59h-9.50zM327.4 290.8h9.50v6.59h-9.50zM318.0 297.3h9.50v6.59h-9.50zM318.0 310.4h9.50v6.59h-9.50zM336.9 316.9h9.50v6.59h-9.50zM318.0 336.5h9.50v6.59h-9.50zM327.4 343.1h9.50v6.59h-9.50zM318.0 401.9h9.50v6.59h-9.50zM318.0 415.0h9.50v6.59h-9.50zM327.4 421.5h9.50v6.59h-9.50zM318.0 428.0h9.50v6.59h-9.50z"/>
<path fill="#EE0000" d="M289.6 205.8h9.50v6.59h-9.50zM299.1 205.8h9.50v6.59h-9.50zM299.1 212.3h9.50v6.59h-9.50zM299.1 225.4h9.50v6.59h-9.50zM308.5 225.4h9.50v6.59h-9.50zM299.1 231.9h9.50v6.59h-9.50zM289.6 238.5h9.50v6.59h-9.50zM299.1 251.5h9.50v6.59h-9.50zM308.5 251.5h9.50v6.59h-9.50zM308.5 264.6h9.50v6.59h-9.50zM299.1 336.5h9.50v6.59h-9.50zM299.1 382.3h9.50v6.59h-9.50zM289.6 421.5h9.50v6.59h-9.50z"/>
<path fill="#2020FF" d="M327.4 205.8h9.50v6.59h-9.50zM336.9 277.7h9.50v6.59h-9.50zM327.4 336.5h9.50v6.59h-9.50zM327.4 401.9h9.50v6.59h-9.50z"/>
<path fill="#1010FF" d="M336.9 205.8h9.50v6.59h-9.50zM336.9 251.5h9.50v6.59h-9.50zM327.4 258.1h9.50v6.59h-9.50zM336.9 330.0h9.50v6.59h-9.50zM336.9 408.4h9.50v6.59h-9.50zM336.9 421.5h9.50v6.59h-9.50zM327.4 434.6h9.50v6.59h-9.50z"/>
<path fill="#B30000" d="M308.5 212.3h9.50v6.59h-9.50z"/>
<path fill="#FF2020" d="M289.6 218.8h9.50v6.59h-9.50zM289.6 245.0h9.50v6.59h-9.50zM308.5 290.8h9.50v6.59h-9.50zM289.6 297.3h9.50v6.59h-9.50zM299.1 310.4h9.50v6.59h-9.50zM308.5 323.4h9.50v6.59h-9.50zM299.1 330.0h9.50v6.59h-9.50zM299.1 362.7h9.50v6.59h-9.50zM289.6 369.2h9.50v6.59h-9.50zM299.1 369.2h9.50v6.59h-9.50zM308.5 388.8h9.50v6.59h-9.50zM308.5 395.3h9.50v6.59h-9.50zM308.5 408.4h9.50v6.59h-9.50zM299.1 434.6h9.50v6.59h-9.50z"/>
<path fill="#00009B" d="M318.0 218.8h9.50v6.59h-9.50zM318.0 238.5h9.50v6.59h-9.50zM336.9 284.2h9.50v6.59h-9.50zM318.0 343.1h9.50v6.59h-9.50zM336.9 388.8h9.50v6.59h-9.50zM336.9 415.0h9.50v6.59h-9.50z"/>
<path fill="#0000F6" d="M318.0 225.4h9.50v6.59h-9.50zM327.4 264.6h9.50v6.59h-9.50zM318.0 290.8h9.50v6.59h-9.50zM336.9 290.8h9.50v6.59h-9.50zM318.0 323.4h9.50v6.59h-9.50zM336.9 323.4h9.50v6.59h-9.50zM318.0 362.7h9.50v6.59h-9.50zM327.4 369.2h9.50v6.59h-9.50zM327.4 375.7h9.50v6.59h-9.50zM336.9 375.7h9.50v6.59h-9.50zM327.4 382.3h9.50v6.59h-9.50zM318.0 421.5h9.50v6.59h-9.50zM318.0 434.6h9.50v6.59h-9.50zM318.0 441.1h9.50v6.59h-9.50zM327.4 441.1h9.50v6.59h-9.50z"/>
<path fill="#FF1010" d="M308.5 231.9h9.50v6.59h-9.50zM308.5 238.5h9.50v6.59h-9.50zM308.5 245.0h9.50v6.59h-9.50zM289.6 251.5h9.50v6.59h-9.50zM289.6 264.6h9.50v6.59h-9.50zM308.5 297.3h9.50v6.59h-9.50zM308.5 310.4h9.50v6.59h-9.50zM299.1 316.9h9.50v6.59h-9.50zM308.5 336.5h9.50v6.59h-9.50zM289.6 343.1h9.50v6.59h-9.50zM289.6 349.6h9.50v6.59h-9.50zM308.5 382.3h9.50v6.59h-9.50zM299.1 401.9h9.50v6.59h-9.50zM308.5 401.9h9.50v6.59h-9.50zM289.6 415.0h9.50v6.59h-9.50zM299.1 421.5h9.50v6.59h-9.50zM299.1 428.0h9.50v6.59h-9.50zM289.6 441.1h9.50v6.59h-9.50z"/>
<path fill="#000080" d="M318.0 231.9h9.50v6.59h-9.50z"/>
<path fill="#AFAFFF" d="M327.4 231.9h9.50v6.59h-9.50z"/>
<path fill="#EFEFFF" d="M336.9 231.9h9.50v6.59h-9.50z"/>
<path fill="#5050FF" d="M327.4 238.5h9.50v6.59h-9.50zM318.0 330.0h9.50v6.59h-9.50zM336.9 434.6h9.50v6.59h-9.50z"/>
<path fill="#6060FF" d="M336.9 238.5h9.50v6.59h-9.50zM327.4 303.8h9.50v6.59h-9.50zM336.9 303.8h9.50v6.59h-9.50zM327.4 310.4h9.50v6.59h-9.50zM318.0 316.9h9.50v6.59h-9.50zM318.0 349.6h9.50v6.59h-9.50z"/>
<path fill="#D50000" d="M299.1 245.0h9.50v6.59h-9.50zM308.5 343.1h9.50v6.59h-9.50zM299.1 356.1h9.50v6.59h-9.50zM289.6 434.6h9.50v6.59h-9.50z"/>
<path fill="#0000AD" d="M327.4 251.5h9.50v6.59h-9.50zM336.9 356.1h9.50v6.59h-9.50z"/>
<path fill="#FF4040" d="M299.1 258.1h9.50v6.59h-9.50zM299.1 284.2h9.50v6.59h-9.50zM289.6 310.4h9.50v6.59h-9.50zM308.5 330.0h9.50v6.59h-9.50zM289.6 375.7h9.50v6.59h-9.50zM299.1 375.7h9.50v6.59h-9.50zM289.6 388.8h9.50v6.59h-9.50z"/>
<path fill="#FF5050" d="M308.5 258.1h9.50v6.59h-9.50zM308.5 271.1h9.50v6.59h-9.50zM299.1 408.4h9.50v6.59h-9.50zM308.5 434.6h9.50v6.59h-9.50zM299.1 441.1h9.50v6.59h-9.50z"/>
<path fill="#4040FF" d="M318.0 258.1h9.50v6.59h-9.50zM336.9 349.6h9.50v6.59h-9.50zM327.4 428.0h9.50v6.59h-9.50z"/>
<path fill="#DD0000" d="M299.1 264.6h9.50v6.59h-9.50zM289.6 277.7h9.50v6.59h-9.50z"/>
<path fill="#CC0000" d="M289.6 271.1h9.50v6.59h-9.50z"/>
<path fill="#0000C9" d="M318.0 271.1h9.50v6.59h-9.50z"/>
<path fill="#0000B6" d="M318.0 277.7h9.50v6.59h-9.50zM318.0 303.8h9.50v6.59h-9.50zM318.0 375.7h9.50v6.59h-9.50z"/>
<path fill="#8F8FFF" d="M327.4 277.7h9.50v6.59h-9.50z"/>
<path fill="#FF9F9F" d="M289.6 303.8h9.50v6.59h-9.50z"/>
<path fill="#0000C0" d="M327.4 330.0h9.50v6.59h-9.50zM318.0 382.3h9.50v6.59h-9.50z"/>
<path fill="#0000D2" d="M327.4 349.6h9.50v6.59h-9.50z"/>
<path fill="#3030FF" d="M318.0 356.1h9.50v6.59h-9.50zM318.0 388.8h9.50v6.59h-9.50z"/>
<path fill="#0000DB" d="M327.4 362.7h9.50v6.59h-9.50zM336.9 382.3h9.50v6.59h-9.50zM318.0 408.4h9.50v6.59h-9.50z"/>
<path fill="#FF6060" d="M289.6 382.3h9.50v6.59h-9.50z"/>
<rect x="289.60" y="183.8" width="9.45" height="7.7" fill="#FF9800"/>
<rect x="299.05" y="183.8" width="9.45" height="7.7" fill="#FF9800"/>
<rect x="308.50" y="183.8" width="9.45" height="7.7" fill="#FF9800"/>
<rect x="317.95" y="183.8" width="9.45" height="7.7" fill="#FFCB05"/>
<rect x="327.40" y="183.8" width="9.45" height="7.7" fill="#FFCB05"/>
<rect x="336.85" y="183.8" width="9.45" height="7.7" fill="#FFCB05"/>
<line x1="299.1" y1="183.8" x2="299.1" y2="191.5" stroke="#FFC766" stroke-width="0.8"/>
<line x1="308.5" y1="183.8" x2="308.5" y2="191.5" stroke="#FFC766" stroke-width="0.8"/>
<line x1="318.0" y1="183.8" x2="318.0" y2="191.5" stroke="#FFD98A" stroke-width="0.8"/>
<line x1="327.4" y1="183.8" x2="327.4" y2="191.5" stroke="#FFE78C" stroke-width="0.8"/>
<line x1="336.9" y1="183.8" x2="336.9" y2="191.5" stroke="#FFE78C" stroke-width="0.8"/>
<g font-size="6.8" font-weight="normal" fill="#222"><text x="349.2" y="198.5">Tmem14a</text><text x="349.2" y="205.1">Fhl2</text><text x="349.2" y="211.6">Fn1</text><text x="349.2" y="218.2">Tgfb2</text><text x="349.2" y="224.8">Myo18a</text><text x="349.2" y="231.4">Hnf1b</text><text x="349.2" y="237.9">Pcgf2</text><text x="349.2" y="244.5">Edn1</text><text x="349.2" y="251.1">F2r</text><text x="349.2" y="257.7">Bmp4</text><text x="349.2" y="264.2">Tmbim6</text><text x="349.2" y="270.8">Krt18</text><text x="349.2" y="277.4">Ppard</text><text x="349.2" y="284.0">Hspa1b</text><text x="349.2" y="290.5">Vegfa</text><text x="349.2" y="297.1">Ctnna1</text><text x="349.2" y="303.7">Gstp1</text><text x="349.2" y="310.3">Fxn</text><text x="349.2" y="316.8">Pax2</text><text x="349.2" y="323.4">Itga6</text><text x="349.2" y="330.0">Bdnf</text><text x="349.2" y="336.6">Prnp</text><text x="349.2" y="343.1">Id1</text><text x="349.2" y="349.7">Ngf</text><text x="349.2" y="356.3">Klf4</text><text x="349.2" y="362.8">Wnt4</text><text x="349.2" y="369.4">Ppargc1a</text><text x="349.2" y="376.0">Hspb1</text><text x="349.2" y="382.6">Snca</text><text x="349.2" y="389.1">Ccnd2</text><text x="349.2" y="395.7">Igf1r</text><text x="349.2" y="402.3">Fgfr2</text><text x="349.2" y="408.9">Sh3rf1</text><text x="349.2" y="415.4">Il27ra</text><text x="349.2" y="422.0">Cx3cl1</text><text x="349.2" y="428.6">Itgb1</text><text x="349.2" y="435.2">Cryab</text><text x="349.2" y="441.7">Smad6</text><text x="349.2" y="448.3">Timp1</text></g>
<defs><linearGradient id="cs" x1="0" y1="0" x2="0" y2="1"><stop offset="0" stop-color="#780000"/><stop offset="0.25" stop-color="#FF0000"/><stop offset="0.5" stop-color="#FFFFFF"/><stop offset="0.75" stop-color="#0000FF"/><stop offset="1" stop-color="#00006E"/></linearGradient></defs>
<rect x="105.7" y="359.4" width="7.6" height="80.3" fill="url(#cs)"/>
<text x="116.8" y="365.3" font-size="8.6">2</text>
<text x="116.8" y="384.3" font-size="8.6">1</text>
<text x="116.8" y="402.7" font-size="8.6">0</text>
<text x="116.8" y="421.7" font-size="8.6">-1</text>
<text x="116.8" y="440.4" font-size="8.6">-2</text>
<text x="11.7" y="457.8" font-size="9.9">Sample</text>
<rect x="12.3" y="461.9" width="11.6" height="11.7" fill="#FF9800"/>
<text x="26.9" y="473.2" font-size="10">Control BMOL</text>
<rect x="12.3" y="477.1" width="11.6" height="11.7" fill="#FFCB05"/>
<text x="26.9" y="485.8" font-size="10">TXNIP OE BMOL</text>
<text x="398.2" y="217.5" font-size="10">E</text>
<text x="419.6" y="220.4" font-size="10.15">shRNA control BMOL</text>
<line x1="426.8" y1="224.5" x2="521.2" y2="224.5" stroke="#000" stroke-width="1.2"/>
<text x="536.8" y="220.4" font-size="10.2">shRNA <tspan font-style="italic">Txnip</tspan> BMOL</text>
<line x1="543.2" y1="224.5" x2="627.9" y2="224.5" stroke="#000" stroke-width="1.2"/>
<polygon points="444.9,307.4 448.9,306.3 454.0,306.5 458.5,305.1 461.2,300.6 463.2,290.4 465.3,272.0 466.9,262.2 468.4,261.4 470.0,265.9 471.4,278.1 473.5,288.4 476.5,293.5 480.2,292.9 484.7,294.9 488.8,296.1 492.9,295.7 495.9,292.4 499.0,290.0 503.1,290.0 506.2,293.5 509.2,300.6 512.3,305.7 515.4,307.4" fill="#F46464" stroke="#EE4A4A" stroke-width="0.5"/>
<line x1="427.1" y1="307.4" x2="523.5" y2="307.4" stroke="#777" stroke-width="0.6"/>
<line x1="459.6" y1="234.8" x2="459.6" y2="307.4" stroke="#222" stroke-width="0.7"/>
<line x1="476.5" y1="234.8" x2="476.5" y2="307.4" stroke="#222" stroke-width="0.7"/>
<line x1="491.4" y1="234.8" x2="491.4" y2="307.4" stroke="#222" stroke-width="0.7"/>
<line x1="515.8" y1="234.8" x2="515.8" y2="307.4" stroke="#222" stroke-width="0.7"/>
<line x1="427.1" y1="234.8" x2="427.1" y2="307.7" stroke="#222" stroke-width="0.7"/>
<line x1="427.1" y1="288.5" x2="459.6" y2="288.5" stroke="#333" stroke-width="0.8"/>
<line x1="459.6" y1="276.5" x2="476.5" y2="276.5" stroke="#333" stroke-width="0.8"/>
<line x1="476.5" y1="265.5" x2="491.4" y2="265.5" stroke="#333" stroke-width="0.8"/>
<line x1="491.4" y1="252.5" x2="515.8" y2="252.5" stroke="#333" stroke-width="0.8"/>
<text x="486.8" y="245.8" font-size="8.7" text-anchor="middle">20.8%</text>
<text x="442.2" y="262.4" font-size="3.8" text-anchor="middle">P2</text>
<text x="468.0" y="262.4" font-size="3.8" text-anchor="middle">P3</text>
<text x="484.3" y="262.4" font-size="3.8" text-anchor="middle">P4</text>
<text x="502.7" y="262.4" font-size="3.8" text-anchor="middle">P5</text>
<text x="468.0" y="312.7" font-size="3.6" text-anchor="middle">50</text>
<line x1="468.0" y1="307.4" x2="468.0" y2="308.6" stroke="#555" stroke-width="0.5"/>
<text x="506.6" y="312.7" font-size="3.6" text-anchor="middle">100</text>
<line x1="506.6" y1="307.4" x2="506.6" y2="308.6" stroke="#555" stroke-width="0.5"/>
<text x="475.5" y="318.6" font-size="5.6" text-anchor="middle">Fluorescence</text>
<text x="416.7" y="272.3" font-size="7.3" text-anchor="middle" transform="rotate(-90 416.7 272.3)">Count</text>
<text x="425.0" y="307.4" font-size="3.2" text-anchor="middle" transform="rotate(-90 425.0 307.4)">0</text>
<line x1="425.9" y1="307.4" x2="427.1" y2="307.4" stroke="#555" stroke-width="0.5"/>
<text x="425.0" y="296.5" font-size="3.2" text-anchor="middle" transform="rotate(-90 425.0 296.5)">100</text>
<line x1="425.9" y1="296.5" x2="427.1" y2="296.5" stroke="#555" stroke-width="0.5"/>
<text x="425.0" y="285.7" font-size="3.2" text-anchor="middle" transform="rotate(-90 425.0 285.7)">200</text>
<line x1="425.9" y1="285.7" x2="427.1" y2="285.7" stroke="#555" stroke-width="0.5"/>
<text x="425.0" y="273.6" font-size="3.2" text-anchor="middle" transform="rotate(-90 425.0 273.6)">300</text>
<line x1="425.9" y1="273.6" x2="427.1" y2="273.6" stroke="#555" stroke-width="0.5"/>
<text x="425.0" y="261.4" font-size="3.2" text-anchor="middle" transform="rotate(-90 425.0 261.4)">400</text>
<line x1="425.9" y1="261.4" x2="427.1" y2="261.4" stroke="#555" stroke-width="0.5"/>
<text x="425.0" y="249.1" font-size="3.2" text-anchor="middle" transform="rotate(-90 425.0 249.1)">500</text>
<line x1="425.9" y1="249.1" x2="427.1" y2="249.1" stroke="#555" stroke-width="0.5"/>
<text x="425.0" y="236.9" font-size="3.2" text-anchor="middle" transform="rotate(-90 425.0 236.9)">600</text>
<line x1="425.9" y1="236.9" x2="427.1" y2="236.9" stroke="#555" stroke-width="0.5"/>
<circle cx="468.0" cy="257.1" r="0.6" fill="#F03030"/>
<polygon points="547.6,308.2 550.7,307.4 558.8,307.6 560.9,305.7 562.9,303.9 565.4,306.1 569.0,307.2 573.5,306.3 576.2,300.6 578.2,282.2 579.9,259.7 581.3,250.5 582.7,255.7 584.4,276.1 586.4,285.3 589.5,290.8 592.6,292.4 596.6,294.9 601.7,295.7 604.8,294.5 607.9,295.5 610.9,294.1 614.0,291.4 616.5,290.4 618.5,294.5 620.6,302.7 623.2,306.7 630.4,308.2" fill="#F46464" stroke="#EE4A4A" stroke-width="0.5"/>
<line x1="542.1" y1="308.2" x2="638.5" y2="308.2" stroke="#777" stroke-width="0.6"/>
<line x1="574.6" y1="234.8" x2="574.6" y2="308.2" stroke="#222" stroke-width="0.7"/>
<line x1="591.5" y1="234.8" x2="591.5" y2="308.2" stroke="#222" stroke-width="0.7"/>
<line x1="606.5" y1="234.8" x2="606.5" y2="308.2" stroke="#BDBDBD" stroke-width="1.2"/>
<line x1="631.4" y1="234.8" x2="631.4" y2="308.2" stroke="#222" stroke-width="0.7"/>
<line x1="542.1" y1="234.8" x2="542.1" y2="308.5" stroke="#222" stroke-width="0.7"/>
<line x1="542.1" y1="291.5" x2="574.6" y2="291.5" stroke="#333" stroke-width="0.8"/>
<line x1="574.6" y1="279.5" x2="591.5" y2="279.5" stroke="#333" stroke-width="0.8"/>
<line x1="591.5" y1="269.5" x2="606.9" y2="269.5" stroke="#333" stroke-width="0.8"/>
<line x1="606.9" y1="257.5" x2="631.4" y2="257.5" stroke="#333" stroke-width="0.8"/>
<text x="601.6" y="243.4" font-size="8.7" text-anchor="middle">23.4%</text>
<text x="558.2" y="265.9" font-size="3.8" text-anchor="middle">P2</text>
<text x="581.9" y="265.9" font-size="3.8" text-anchor="middle">P3</text>
<text x="599.3" y="265.9" font-size="3.8" text-anchor="middle">P4</text>
<text x="619.1" y="265.9" font-size="3.8" text-anchor="middle">P5</text>
<text x="583.0" y="313.5" font-size="3.6" text-anchor="middle">50</text>
<line x1="583.0" y1="308.2" x2="583.0" y2="309.4" stroke="#555" stroke-width="0.5"/>
<text x="621.6" y="313.5" font-size="3.6" text-anchor="middle">100</text>
<line x1="621.6" y1="308.2" x2="621.6" y2="309.4" stroke="#555" stroke-width="0.5"/>
<text x="590.9" y="319.4" font-size="5.6" text-anchor="middle">Fluorescence</text>
<text x="531.7" y="272.3" font-size="7.3" text-anchor="middle" transform="rotate(-90 531.7 272.3)">Count</text>
<text x="540.0" y="308.2" font-size="3.2" text-anchor="middle" transform="rotate(-90 540.0 308.2)">0</text>
<line x1="540.9" y1="308.2" x2="542.1" y2="308.2" stroke="#555" stroke-width="0.5"/>
<text x="540.0" y="297.5" font-size="3.2" text-anchor="middle" transform="rotate(-90 540.0 297.5)">100</text>
<line x1="540.9" y1="297.5" x2="542.1" y2="297.5" stroke="#555" stroke-width="0.5"/>
<text x="540.0" y="287.3" font-size="3.2" text-anchor="middle" transform="rotate(-90 540.0 287.3)">200</text>
<line x1="540.9" y1="287.3" x2="542.1" y2="287.3" stroke="#555" stroke-width="0.5"/>
<text x="540.0" y="276.1" font-size="3.2" text-anchor="middle" transform="rotate(-90 540.0 276.1)">300</text>
<line x1="540.9" y1="276.1" x2="542.1" y2="276.1" stroke="#555" stroke-width="0.5"/>
<text x="540.0" y="265.3" font-size="3.2" text-anchor="middle" transform="rotate(-90 540.0 265.3)">400</text>
<line x1="540.9" y1="265.3" x2="542.1" y2="265.3" stroke="#555" stroke-width="0.5"/>
<text x="540.0" y="254.6" font-size="3.2" text-anchor="middle" transform="rotate(-90 540.0 254.6)">500</text>
<line x1="540.9" y1="254.6" x2="542.1" y2="254.6" stroke="#555" stroke-width="0.5"/>
<text x="540.0" y="244.4" font-size="3.2" text-anchor="middle" transform="rotate(-90 540.0 244.4)">600</text>
<line x1="540.9" y1="244.4" x2="542.1" y2="244.4" stroke="#555" stroke-width="0.5"/>
<rect x="422.4" y="323.7" width="96.2" height="86.7" fill="#FFFFFF"/>
<path d="M435.0 374.2h0M446.0 336.1h0M467.7 381.5h0M508.4 337.5h0M516.4 345.6h0M507.9 337.0h0M468.5 326.6h0M506.4 328.3h0M451.9 371.3h0M462.8 335.2h0M425.1 341.7h0M442.1 360.9h0M501.4 341.4h0M471.6 377.3h0M494.5 385.6h0M429.9 397.1h0M482.6 331.2h0M500.9 397.3h0M432.7 387.6h0M467.9 340.7h0M477.1 350.9h0M430.0 408.6h0M427.6 348.7h0M500.3 360.4h0M440.1 360.1h0M438.6 403.4h0M450.3 329.3h0M495.8 328.3h0M429.1 326.2h0M458.3 333.7h0M423.2 397.8h0M475.0 364.0h0M473.1 407.6h0M467.5 359.0h0M463.4 373.3h0M493.0 397.8h0M512.2 409.5h0M456.5 326.7h0M503.7 390.6h0M516.0 344.4h0M459.7 370.8h0M442.7 366.5h0M452.4 339.2h0M505.2 364.0h0M490.9 352.6h0M474.7 389.8h0M459.9 326.5h0M453.6 354.7h0M478.1 363.8h0M487.5 346.4h0M479.0 357.7h0M476.6 366.2h0M458.4 376.1h0M489.5 396.6h0M503.3 356.2h0M426.9 373.7h0M490.6 343.9h0M490.3 408.0h0M484.1 324.2h0M446.2 380.2h0M424.6 393.7h0M459.1 394.0h0M478.2 372.1h0M506.9 399.5h0M432.9 404.0h0M499.9 361.2h0M462.3 389.4h0M509.8 342.7h0M512.0 387.3h0M464.1 362.4h0M467.7 362.3h0M431.4 399.3h0M465.5 377.3h0M509.6 352.1h0M427.1 396.7h0M452.5 396.6h0M504.0 354.0h0M497.4 358.7h0M424.7 399.1h0M424.0 341.2h0M505.5 364.7h0M502.9 391.2h0M476.8 361.3h0M464.4 378.3h0M443.4 390.9h0M443.8 384.9h0M455.6 378.6h0M439.8 398.5h0M440.8 332.9h0M464.5 379.8h0M436.3 343.7h0M470.5 389.1h0M461.5 397.6h0M431.6 398.5h0M477.9 361.5h0M483.8 396.2h0M513.6 394.9h0M445.4 374.4h0M465.4 384.4h0M453.7 369.6h0M495.6 374.4h0M471.3 399.3h0M482.3 394.9h0M479.9 376.4h0M475.8 385.5h0M485.6 393.0h0M492.8 393.6h0M480.7 376.4h0M469.0 379.8h0M478.9 402.2h0M475.5 390.8h0M473.1 401.5h0M474.2 398.4h0M465.3 389.5h0M499.7 383.9h0M493.6 401.7h0M473.6 389.0h0M497.9 395.5h0M491.5 379.8h0M497.1 391.4h0M468.8 385.9h0M464.2 398.9h0M471.8 402.1h0M487.6 387.0h0M497.3 378.0h0M478.3 396.9h0M475.9 393.1h0M465.7 392.9h0M499.3 386.4h0M462.9 377.6h0M471.1 376.3h0M472.3 393.6h0M478.0 387.4h0M498.9 386.2h0M488.2 384.6h0M489.3 389.1h0M495.4 373.6h0M481.5 407.8h0M467.6 396.5h0M466.5 403.1h0M474.6 406.4h0M495.7 383.3h0M498.1 404.9h0M490.1 383.3h0M482.1 401.8h0M468.2 398.0h0M473.2 403.2h0M466.7 378.3h0M497.4 393.8h0M489.2 393.0h0M499.7 408.8h0M479.1 388.2h0M488.8 390.8h0M485.3 398.6h0M498.3 379.3h0M483.5 402.4h0M472.3 392.8h0M490.2 391.4h0M485.2 387.6h0M469.2 393.1h0M463.3 386.0h0M469.4 404.8h0M463.6 394.6h0M467.9 375.8h0M490.7 396.5h0M466.2 392.1h0M480.7 396.0h0M477.1 407.0h0M481.8 383.6h0M493.8 404.1h0M487.0 373.2h0M486.7 387.9h0M467.4 388.8h0M483.6 381.8h0M484.3 389.2h0M484.3 399.5h0M494.7 383.3h0M482.8 396.7h0M476.2 376.1h0M488.7 402.0h0M477.0 376.8h0M466.4 376.7h0M484.0 407.9h0M462.1 398.6h0M496.9 392.3h0M469.4 398.4h0M495.3 393.4h0M484.1 400.5h0M499.7 403.7h0M465.6 398.5h0" stroke="#FF4040" stroke-width="0.5" stroke-linecap="round" fill="none" opacity="0.5"/>
<ellipse cx="435.0" cy="401" rx="10.5" ry="5.6" fill="#FF1010" transform="rotate(-40 435.0 401)" filter="url(#bl0)" opacity="0.9"/>
<path d="M448.7 399.2h0M428.3 398.8h0M447.3 403.8h0M436.3 389.9h0M431.8 402.6h0M445.0 391.9h0M434.2 399.2h0M436.2 393.4h0M438.9 399.2h0M449.9 387.4h0M441.1 387.1h0M444.9 393.3h0M433.7 401.2h0M443.4 390.8h0M451.5 398.6h0M456.4 395.3h0M429.7 407.5h0M436.5 406.6h0M439.3 398.5h0M439.1 392.3h0M435.8 394.0h0M451.8 382.7h0M431.1 389.6h0M423.5 403.4h0M446.9 396.5h0M437.5 393.2h0M447.8 381.5h0M433.4 405.6h0M431.5 405.5h0M444.9 391.5h0M441.1 395.5h0M428.7 405.6h0M423.3 405.7h0M444.7 402.9h0M425.5 404.1h0M441.7 399.0h0M436.0 408.2h0M438.0 401.1h0M453.3 390.7h0M434.9 392.4h0M427.4 395.4h0M447.1 377.9h0M446.2 388.1h0M441.0 388.8h0M435.5 404.0h0M439.1 393.3h0M453.1 391.1h0M434.3 391.5h0M437.7 395.6h0M440.5 402.2h0M434.6 402.8h0M445.3 394.5h0M448.4 375.1h0M432.7 392.8h0M424.3 407.0h0M443.2 394.2h0M438.7 384.8h0M441.5 387.2h0M430.8 408.4h0M438.6 391.5h0M430.8 402.2h0M437.1 397.2h0M448.5 390.4h0M430.8 400.4h0M439.7 393.7h0M441.3 396.8h0M446.4 391.9h0M453.5 397.2h0M433.6 397.8h0M430.1 402.5h0M432.2 402.7h0M442.2 398.6h0M434.9 399.4h0M425.8 391.8h0M432.6 388.0h0M446.3 391.1h0M452.1 391.1h0M448.6 400.1h0M443.4 405.5h0M437.7 400.0h0M434.7 404.9h0M440.8 391.3h0M427.7 406.0h0M440.2 394.5h0M427.3 400.8h0M425.2 387.3h0M438.9 408.5h0M427.0 405.2h0M453.3 390.5h0M444.1 391.4h0M440.9 397.2h0M453.3 391.3h0M433.7 392.4h0M435.8 398.3h0M429.0 398.2h0M429.5 403.8h0M434.7 403.7h0M446.6 393.0h0M443.9 405.2h0M436.7 386.8h0M432.9 403.5h0M433.9 407.2h0M447.4 394.5h0M425.7 408.6h0M443.4 384.1h0M423.7 399.8h0M423.2 396.1h0M428.1 394.2h0M446.9 408.2h0M433.1 409.0h0M437.3 379.6h0M438.3 397.2h0M438.1 403.9h0M435.6 402.5h0M434.0 399.8h0M432.7 393.1h0M458.7 393.0h0M433.4 396.2h0M436.8 408.6h0M432.2 396.7h0M442.9 391.3h0M444.8 407.5h0M449.1 398.4h0M445.8 401.4h0M440.1 403.6h0M443.9 389.3h0M429.8 408.8h0M439.0 401.6h0M435.0 404.3h0M454.2 403.0h0M452.7 388.4h0M446.0 385.8h0M447.0 391.1h0M449.0 391.1h0M432.9 396.1h0M447.3 390.2h0M444.9 395.7h0M436.2 402.2h0M434.0 386.4h0M434.9 399.7h0M444.2 400.0h0M431.4 401.3h0M435.0 385.3h0M447.9 381.7h0M448.1 390.3h0M456.0 390.9h0M430.5 390.2h0M439.8 398.7h0M436.7 388.6h0M428.1 399.6h0M436.2 392.1h0M440.3 403.1h0M439.6 407.1h0M438.8 394.9h0M447.8 393.3h0M433.0 397.1h0M438.5 399.9h0M447.3 392.0h0M427.5 395.7h0M441.0 398.2h0M444.1 388.3h0M431.4 393.4h0M453.7 391.6h0M439.1 398.9h0M435.8 407.4h0M432.4 398.6h0M430.8 394.5h0M452.0 399.3h0M435.2 383.4h0M432.7 396.9h0M431.9 385.5h0M444.2 390.8h0M451.0 379.9h0M437.2 397.0h0M435.6 408.5h0M423.3 401.5h0M432.9 398.1h0M444.0 388.3h0M439.5 392.6h0M447.2 389.7h0M433.1 388.6h0M440.3 390.5h0M446.3 394.7h0M446.1 399.8h0M436.9 391.4h0M439.4 397.8h0M431.0 408.4h0M449.7 389.8h0M440.2 399.4h0M443.7 388.4h0M441.8 388.4h0M443.6 397.0h0M430.4 409.3h0M432.6 388.7h0M431.6 397.9h0M432.4 405.6h0M431.7 403.3h0M428.2 403.7h0M453.0 388.3h0M430.0 391.2h0M444.8 391.6h0M437.2 398.7h0M427.8 397.0h0M442.0 399.7h0M428.9 390.5h0M435.1 400.3h0M429.0 405.2h0M432.8 409.2h0M424.4 401.8h0M441.0 385.0h0M435.5 404.0h0M433.3 387.5h0M440.9 392.8h0M439.9 382.0h0M444.9 395.0h0M433.0 398.4h0M437.7 392.3h0M431.8 396.6h0M441.2 400.3h0M425.5 408.3h0M445.8 403.1h0M436.8 408.7h0M436.0 403.1h0M440.2 397.9h0M431.0 395.6h0M454.5 395.4h0M435.9 397.9h0M430.6 393.1h0M430.7 407.0h0M443.8 390.9h0M426.1 398.9h0M435.5 405.2h0M432.2 391.0h0M429.9 407.0h0M446.7 404.4h0M449.1 389.7h0M433.1 403.3h0M426.1 402.0h0M447.5 394.5h0M450.6 399.5h0M437.5 404.4h0M439.2 399.0h0M441.3 399.1h0M440.1 399.7h0M433.4 400.6h0M446.9 402.2h0M434.0 400.1h0M443.4 404.0h0M443.3 396.3h0M425.5 406.5h0M444.2 392.8h0M447.3 391.8h0M443.4 384.3h0M432.0 400.1h0M439.6 394.8h0M448.9 385.3h0M430.9 393.8h0M444.2 398.7h0M426.7 396.9h0M444.5 394.3h0M445.1 395.5h0M434.5 387.5h0M444.1 398.0h0M449.9 395.3h0M433.3 403.6h0M428.2 399.2h0M429.4 402.2h0M444.8 400.9h0M438.6 403.9h0M452.2 402.2h0M434.1 403.3h0M443.3 394.3h0M439.5 390.9h0M432.2 397.3h0M429.1 397.9h0M431.8 392.9h0M435.4 404.4h0M430.1 395.6h0M438.1 393.8h0M425.6 395.4h0M439.6 392.0h0M444.3 392.2h0M444.8 398.9h0M430.9 398.9h0M443.1 407.6h0M423.6 401.0h0M433.5 385.4h0M444.1 383.1h0M445.8 389.8h0M430.2 394.9h0M447.4 387.5h0M429.7 409.6h0M438.4 401.3h0M435.8 402.3h0M440.9 395.2h0M449.6 391.3h0M447.6 395.8h0M439.3 404.9h0M431.6 394.8h0M445.3 396.5h0M425.9 393.0h0M443.0 392.6h0M430.4 399.0h0M425.7 392.9h0M444.9 397.4h0M442.6 390.8h0M442.0 408.2h0M444.6 392.2h0M444.2 398.8h0M438.8 398.7h0M436.7 393.9h0M426.5 402.6h0M439.9 383.2h0M432.5 398.8h0M435.9 395.7h0M441.9 391.3h0M440.2 401.4h0M440.1 385.3h0M433.8 395.1h0M437.7 404.0h0M440.7 395.3h0M452.3 381.6h0M427.6 409.4h0M436.1 394.1h0M443.8 380.5h0M451.2 393.0h0M446.7 399.1h0M452.5 395.5h0M436.2 397.1h0M438.0 401.7h0M426.2 398.9h0M458.6 387.9h0M444.6 390.1h0M429.3 401.4h0M428.9 400.1h0M443.1 399.6h0M435.1 394.2h0M456.5 389.5h0M445.2 398.6h0M438.0 403.4h0M435.7 407.5h0M447.8 396.0h0M441.0 396.1h0M442.0 400.0h0M436.8 404.2h0M438.3 387.2h0M431.7 396.4h0M423.7 400.7h0M423.6 406.8h0M442.4 405.9h0M446.1 389.4h0M439.3 394.4h0M433.4 395.2h0M433.3 393.0h0M431.2 402.0h0M444.8 408.1h0M426.4 398.4h0M444.5 396.6h0M442.0 393.1h0M424.6 405.9h0M427.4 405.8h0M449.3 385.4h0M442.4 402.5h0M432.0 397.0h0M430.7 395.7h0M444.2 393.1h0M435.7 403.2h0M445.0 387.0h0M439.4 389.0h0M445.6 394.0h0M435.2 405.2h0M435.7 400.7h0M440.5 400.6h0M446.2 404.4h0M447.0 399.6h0M429.6 392.7h0M459.1 390.1h0M438.8 389.3h0M439.9 387.5h0M444.8 399.0h0M437.2 390.1h0M442.6 395.0h0M446.3 400.5h0M428.9 398.3h0M436.2 409.2h0M444.7 401.3h0M440.9 398.8h0M437.2 401.7h0M433.3 409.6h0M434.6 400.9h0M432.4 394.2h0M426.8 384.9h0M431.3 402.3h0M435.5 407.1h0M437.7 401.2h0M432.0 409.7h0M436.6 386.3h0M443.0 383.7h0M431.2 409.5h0M452.7 390.0h0M432.9 395.7h0M432.0 403.7h0M435.7 391.3h0M432.0 384.6h0M435.0 392.3h0M440.1 392.8h0M434.5 393.9h0M444.4 395.7h0M444.2 389.4h0M432.3 381.4h0M437.4 403.2h0M443.6 407.0h0M447.5 397.4h0M441.0 392.7h0M427.5 399.2h0M445.5 389.3h0M435.3 395.3h0M436.3 391.3h0M454.8 379.4h0M429.7 404.9h0M441.6 401.0h0M441.1 399.7h0M435.9 396.7h0M426.0 401.3h0M431.5 392.6h0M441.7 391.6h0M448.9 394.4h0M444.9 385.9h0M437.8 392.5h0M430.4 404.7h0M436.5 405.3h0M427.3 408.2h0M447.7 391.0h0M459.0 395.3h0M426.1 404.1h0M438.5 408.8h0M424.8 391.4h0M430.7 400.6h0M434.9 398.3h0M433.8 394.1h0M434.6 396.2h0M432.3 399.5h0M444.0 393.9h0M438.7 390.5h0M423.1 408.0h0M443.0 392.6h0M426.4 394.1h0M435.9 392.2h0M442.0 403.5h0M443.8 404.7h0M440.7 399.9h0M427.4 408.2h0M446.5 399.0h0M432.0 403.4h0M440.1 393.6h0M438.5 399.5h0M426.0 398.4h0M449.2 406.2h0M432.1 398.5h0M448.7 382.9h0M445.0 397.1h0M439.0 404.4h0M448.4 403.3h0M450.6 401.4h0M436.5 407.4h0M439.6 391.8h0M425.8 405.8h0M428.7 401.5h0M430.7 398.1h0M438.5 398.0h0M426.4 400.8h0M436.7 394.2h0M429.7 396.7h0M428.9 404.2h0M433.1 398.1h0M440.5 388.5h0M447.2 392.3h0M453.8 376.8h0M433.5 404.2h0M442.0 391.6h0M443.6 393.6h0M427.3 408.8h0M445.3 394.5h0M432.9 394.5h0M448.5 400.1h0M436.4 387.0h0M427.3 407.2h0M436.4 401.2h0M443.1 383.6h0M431.3 387.3h0M445.9 394.8h0M423.2 408.2h0M433.7 409.9h0M435.3 389.3h0M449.4 389.6h0M444.0 392.5h0M451.7 395.1h0M449.0 399.6h0M443.4 395.5h0M423.1 392.8h0M449.4 392.9h0M432.3 409.1h0M439.1 397.4h0M455.7 390.8h0M427.3 407.2h0M449.8 396.8h0M440.1 392.7h0M432.7 386.6h0M447.1 389.4h0M430.3 398.2h0M435.4 392.9h0M425.9 399.8h0M450.5 386.2h0M442.8 396.4h0M435.8 405.8h0M433.2 395.4h0M428.1 402.7h0M439.1 407.5h0M455.0 395.9h0M428.6 398.6h0M450.0 393.0h0M436.3 391.9h0M430.5 394.2h0M454.5 392.3h0M438.4 405.8h0M430.5 387.4h0M438.9 390.7h0M438.1 393.6h0M428.4 402.9h0M440.9 385.5h0M423.8 397.1h0M436.3 406.2h0M445.4 395.9h0M447.5 402.1h0M455.6 395.9h0M428.2 400.6h0M446.6 396.4h0M432.7 400.3h0M444.1 391.3h0M433.1 404.4h0M435.5 404.3h0M438.1 395.0h0M434.7 408.5h0M431.2 404.2h0M434.9 400.5h0M438.6 405.2h0M434.1 392.3h0M430.8 409.6h0M440.9 405.3h0M446.3 401.2h0M425.3 405.4h0M442.1 383.9h0M442.9 393.1h0M444.2 389.8h0M435.1 406.6h0M449.5 378.3h0M436.5 392.4h0M443.1 397.0h0M426.4 396.2h0M438.2 397.7h0M444.3 392.0h0M446.9 392.4h0M453.2 393.4h0M426.1 405.5h0M440.1 393.9h0M447.3 403.7h0M428.4 400.2h0M435.3 408.7h0M451.7 379.3h0M450.5 376.0h0M439.4 397.8h0M437.6 392.5h0M428.4 404.4h0M445.0 390.3h0M442.9 397.5h0M444.9 383.3h0M458.0 396.8h0M435.7 399.6h0M431.9 405.2h0M436.2 403.6h0M444.1 399.5h0M429.0 401.3h0M453.3 385.6h0M449.5 396.6h0M443.4 392.2h0M440.2 402.9h0M443.4 397.8h0M440.5 391.6h0M425.9 396.5h0M439.3 396.5h0M429.6 386.6h0M430.4 395.4h0M447.9 395.1h0M445.0 396.3h0M447.5 391.7h0M432.0 403.9h0M439.5 399.3h0M441.8 395.1h0M439.4 396.2h0M431.4 394.4h0M430.2 400.6h0M450.4 385.4h0M433.2 406.5h0M440.2 393.4h0M441.0 387.0h0M426.9 402.8h0M433.7 399.2h0M441.3 402.4h0M439.7 399.5h0M431.6 394.7h0M433.1 393.6h0M441.8 392.2h0M429.2 404.3h0M436.5 394.7h0M428.2 403.3h0M431.5 398.9h0M460.2 391.9h0M444.8 390.1h0M447.6 394.1h0M437.8 397.7h0M430.8 389.5h0M448.9 395.8h0M441.1 398.0h0M430.7 402.8h0M428.3 397.4h0M448.6 406.7h0M451.5 386.8h0M428.1 400.3h0M448.4 404.5h0M441.8 378.3h0M442.8 386.2h0M436.6 408.1h0M443.3 384.6h0M443.0 400.4h0M445.3 395.2h0M443.9 398.4h0M436.6 394.8h0M448.1 380.1h0M435.3 393.9h0M439.6 404.9h0M440.9 395.6h0M437.5 396.5h0M439.8 392.9h0M445.4 390.0h0M437.3 390.6h0M440.6 402.3h0M442.4 381.7h0M437.6 391.4h0M437.1 401.5h0M437.6 395.7h0M439.0 398.4h0M444.1 395.1h0M442.3 406.5h0M436.5 402.8h0M423.6 393.4h0M440.1 398.3h0M442.2 395.7h0M424.2 398.3h0M435.6 400.3h0M433.6 400.1h0M440.5 396.8h0M440.1 394.4h0M443.6 400.6h0M435.2 389.9h0M445.4 400.8h0M451.4 385.8h0M438.9 396.4h0M447.6 392.9h0M457.9 382.6h0M439.8 405.9h0M440.4 389.7h0M435.6 394.9h0M433.2 402.6h0M439.2 390.7h0M441.4 391.1h0M437.5 394.3h0M429.0 399.1h0M456.0 379.9h0M437.3 393.0h0M449.4 394.0h0M440.4 397.7h0M443.0 408.3h0M452.9 380.4h0M442.1 396.2h0M453.7 378.6h0M442.0 398.7h0M434.9 396.6h0M442.5 396.7h0M429.2 401.3h0M438.0 393.7h0M444.0 383.9h0M434.0 408.8h0M433.9 397.3h0M443.2 389.6h0M443.9 393.5h0M451.0 389.2h0M446.1 403.4h0M444.6 399.6h0M435.3 391.3h0M448.0 400.0h0M435.6 391.1h0M435.9 402.2h0M435.6 406.8h0M431.9 385.1h0M438.5 390.1h0M434.3 402.0h0M443.2 399.8h0M447.0 393.6h0M444.1 400.7h0M435.1 397.0h0M425.4 403.3h0M443.0 394.3h0M436.2 394.4h0M429.1 398.6h0M437.1 389.0h0M445.2 395.9h0M442.4 392.1h0M431.7 399.9h0M430.2 391.9h0M442.0 387.3h0M452.5 394.6h0M430.3 403.1h0M430.1 407.9h0M428.7 394.5h0M439.9 388.4h0M449.3 403.5h0M434.1 396.2h0M433.1 399.8h0M440.9 385.3h0M447.1 401.7h0M440.1 387.8h0M444.9 388.5h0M449.2 389.1h0M438.0 381.8h0M428.6 386.2h0M436.1 390.5h0M442.7 395.4h0M456.9 387.3h0M435.3 383.4h0M434.6 391.7h0M435.5 398.9h0M445.0 398.6h0M445.0 394.1h0M432.7 401.5h0M440.4 398.6h0M428.2 409.9h0M427.6 392.1h0M435.6 390.5h0M442.7 395.1h0M439.8 403.3h0M427.5 400.9h0M438.7 401.7h0M434.1 396.6h0M426.1 393.9h0M425.6 405.3h0M439.7 389.1h0M433.9 396.3h0M438.2 388.4h0M446.6 400.9h0M437.4 390.2h0M438.7 408.8h0M456.7 381.3h0M438.5 405.8h0M436.0 402.4h0M430.5 402.0h0M441.4 399.7h0M451.0 391.7h0M439.0 402.3h0M427.9 385.8h0M444.0 388.4h0M446.6 403.9h0M439.6 399.3h0M429.2 398.8h0M442.6 397.3h0M427.5 400.8h0M423.6 406.1h0M443.3 388.4h0M435.3 407.2h0M440.0 400.9h0M431.7 394.3h0M445.6 392.3h0M437.6 400.5h0M448.7 390.1h0M435.3 385.3h0M431.4 399.8h0M431.2 398.4h0M441.9 401.5h0M441.4 397.7h0M440.6 395.1h0M448.0 387.0h0M435.4 395.9h0M432.9 396.9h0M428.9 404.8h0M439.3 394.3h0M447.9 389.8h0M425.7 406.1h0M445.8 395.1h0M430.0 393.8h0M437.6 398.9h0M455.3 387.7h0M438.6 400.2h0M438.8 402.3h0M434.8 399.6h0M425.4 405.3h0M426.2 405.0h0M441.9 402.4h0M434.2 394.2h0M437.5 393.3h0M431.6 397.4h0M435.8 404.4h0M433.8 393.4h0M438.4 386.6h0M437.8 389.1h0M441.1 407.1h0M435.7 400.5h0M433.6 402.9h0M444.3 395.1h0M446.8 386.8h0M430.4 408.3h0M433.4 408.3h0M444.3 408.1h0M435.6 391.1h0M429.2 402.2h0M431.9 387.5h0M439.9 394.2h0M440.5 392.4h0M446.2 396.1h0M433.6 398.0h0M432.8 387.0h0M444.3 398.4h0M441.5 402.4h0M447.8 371.4h0M441.7 404.8h0M434.5 401.8h0M442.3 396.6h0M434.4 401.1h0M433.3 396.6h0M451.0 390.1h0M429.0 401.4h0M454.4 390.6h0M432.1 396.8h0M449.7 393.4h0M446.1 385.1h0M453.1 372.9h0M442.7 397.3h0M434.3 401.5h0M443.9 407.5h0M444.4 407.1h0M441.8 396.2h0M448.7 391.7h0M450.0 389.2h0M433.7 393.3h0M434.1 390.1h0M428.4 400.9h0M446.8 398.3h0M428.9 404.2h0M441.9 393.8h0M443.1 387.8h0M448.5 394.8h0M445.2 400.3h0M439.2 394.9h0M443.8 379.4h0M440.7 398.1h0M435.8 399.9h0M447.4 396.6h0M445.4 402.0h0M446.2 402.3h0M434.2 398.5h0M439.7 396.1h0M431.7 396.3h0M432.3 406.8h0M449.5 391.4h0M453.5 396.2h0M449.4 394.7h0M435.3 399.2h0M447.3 396.0h0M435.5 402.6h0M443.7 396.3h0M437.1 394.3h0M435.7 395.5h0M436.6 386.1h0M440.4 390.1h0M444.7 390.7h0M439.8 398.0h0M432.9 396.4h0M443.8 402.0h0M443.2 398.9h0M440.1 399.2h0M436.4 384.6h0M432.3 393.7h0M443.6 388.1h0M435.7 398.9h0M436.4 403.4h0M430.3 398.9h0M437.6 395.0h0M437.2 396.0h0M448.6 385.7h0M445.8 390.2h0M429.9 397.5h0M432.6 392.1h0M442.1 391.8h0M436.9 405.1h0M430.5 401.9h0M432.5 404.0h0M429.8 385.8h0M441.7 391.8h0M433.6 389.1h0M428.0 399.3h0M443.7 387.8h0M440.1 394.3h0M436.6 402.1h0M431.6 394.1h0M437.8 404.4h0M431.3 403.9h0M427.0 407.2h0M443.2 393.9h0M425.4 406.3h0M423.5 402.5h0M433.8 391.6h0M439.5 402.8h0M428.4 405.7h0M447.6 392.6h0M447.0 382.1h0M424.4 405.8h0M436.6 401.0h0M437.2 389.2h0M425.9 400.6h0M443.4 392.0h0M423.4 404.1h0M422.9 393.8h0M452.5 389.1h0M444.8 393.5h0M441.7 387.9h0M424.8 404.5h0M445.4 392.6h0M435.6 400.4h0M438.3 403.5h0M442.8 397.3h0M434.0 409.6h0M438.7 391.3h0M434.1 388.4h0M443.2 396.5h0M439.0 393.6h0M426.6 399.5h0M435.6 386.4h0M437.2 394.2h0M426.4 390.3h0M447.2 394.4h0M443.2 391.8h0M436.7 404.3h0M434.8 406.4h0M431.5 402.8h0M436.6 403.8h0M444.8 385.5h0M433.4 384.1h0M443.6 392.1h0M450.1 387.5h0M430.1 397.4h0M444.9 383.6h0M425.6 403.2h0M434.5 403.0h0M440.3 408.2h0M428.4 406.0h0M441.2 397.3h0M435.4 394.2h0M427.2 402.6h0M427.2 396.5h0M432.3 408.9h0M447.9 383.1h0M447.5 389.8h0M430.5 386.1h0M427.4 404.0h0M423.2 401.5h0M434.0 409.2h0M439.0 400.0h0M442.9 395.8h0M435.3 402.2h0M433.8 389.0h0M435.6 403.0h0M438.3 386.7h0M430.3 403.6h0M443.3 386.1h0M440.7 396.3h0M430.7 407.5h0M448.4 397.1h0M433.4 405.6h0M445.1 402.1h0M437.7 389.1h0M426.7 400.7h0M428.6 393.4h0M458.0 382.1h0M435.1 400.1h0M428.7 391.9h0M434.6 408.6h0M451.3 389.7h0M424.7 395.7h0M437.0 398.8h0M445.1 395.4h0M441.2 400.7h0M449.9 393.9h0M445.0 379.7h0M435.8 407.0h0M426.4 405.6h0M432.2 393.9h0M444.6 392.9h0M449.5 388.8h0M446.3 388.6h0M429.1 395.3h0M441.6 393.7h0M429.7 401.4h0M433.0 403.2h0M435.3 392.7h0M443.6 408.7h0M442.7 394.2h0M445.1 386.4h0M440.8 399.4h0M424.1 395.7h0M455.6 382.5h0M435.9 396.0h0M435.3 391.4h0M435.7 399.2h0M447.1 390.8h0M431.3 398.1h0M440.0 395.3h0M443.5 379.7h0M453.7 392.4h0M428.5 399.8h0M430.5 407.8h0M446.1 384.7h0M429.9 405.9h0M446.3 399.7h0M440.1 387.0h0M428.1 400.7h0M451.6 384.6h0M425.6 406.6h0M436.7 392.9h0M430.8 398.8h0M434.7 393.5h0M447.5 386.7h0M426.8 405.1h0M430.7 400.5h0M446.5 391.8h0M439.5 405.1h0M441.4 400.1h0M444.4 391.2h0M435.3 395.4h0M450.7 393.4h0M447.0 391.3h0M431.4 399.8h0M433.8 395.8h0M442.4 396.8h0M446.1 393.1h0M436.1 394.3h0M439.6 403.4h0M448.2 405.1h0M437.7 394.3h0M445.6 391.9h0M444.7 393.2h0M446.6 396.6h0M447.2 402.5h0M436.3 401.3h0M428.0 403.0h0M430.1 390.8h0M441.5 402.6h0M423.5 388.8h0M425.8 404.3h0M437.1 405.8h0M438.1 406.1h0M439.4 403.3h0M441.0 395.7h0M439.5 390.8h0M442.4 392.5h0M428.7 409.5h0M434.8 392.3h0M438.4 398.4h0M440.1 387.8h0M430.8 381.2h0M440.7 387.5h0M448.6 395.5h0M434.2 401.2h0M444.9 392.6h0M454.4 383.1h0M434.7 405.6h0M435.0 399.0h0M435.0 397.6h0M423.2 402.9h0M449.9 391.9h0M430.2 403.7h0M435.4 392.8h0M444.2 400.2h0M443.4 400.9h0M434.7 391.5h0M437.1 402.2h0M435.8 407.4h0M428.7 377.5h0M427.7 404.2h0M433.5 392.3h0M443.3 405.6h0M437.7 392.8h0M438.1 395.3h0M443.8 400.0h0M442.2 388.8h0M436.7 403.6h0M428.9 407.3h0M450.6 396.0h0M446.4 387.9h0M427.1 392.6h0M440.3 391.0h0M445.7 398.6h0M444.2 390.7h0M431.9 406.2h0M446.9 395.8h0M438.8 391.6h0M449.8 388.7h0M444.2 393.1h0M425.8 398.2h0M431.8 398.4h0M440.7 405.2h0M435.4 386.3h0M438.9 394.8h0M431.8 393.9h0M433.0 409.4h0M435.4 383.4h0M433.8 383.1h0M439.8 388.7h0M423.2 393.3h0M434.2 399.1h0M441.4 395.2h0M438.9 386.6h0M451.5 387.8h0M429.2 399.8h0M434.0 398.1h0M449.6 397.3h0M428.1 395.7h0M433.9 403.1h0M456.6 395.7h0M439.5 404.4h0M436.9 398.5h0M437.7 402.7h0M457.1 392.9h0M443.4 399.1h0M442.8 407.7h0M440.6 386.8h0M426.5 399.2h0M449.7 390.0h0M450.3 382.5h0M439.8 393.8h0M441.0 401.7h0M442.7 392.8h0M449.0 398.3h0M437.7 407.9h0M440.2 401.5h0M428.3 401.1h0M428.3 396.8h0M440.5 401.0h0M441.0 396.6h0M432.4 395.3h0M439.4 396.4h0M439.7 387.2h0M447.4 403.6h0M438.7 395.3h0M447.6 400.6h0M435.3 393.5h0M431.0 404.3h0M425.3 402.9h0M446.8 380.3h0M435.6 397.7h0M435.8 399.8h0M428.4 396.6h0M431.1 393.2h0M439.8 403.8h0M445.9 397.1h0M433.3 401.3h0M449.6 391.5h0M423.7 399.0h0M434.7 401.1h0M430.7 402.8h0M440.4 392.4h0M436.2 388.3h0M439.7 406.6h0M444.4 394.9h0M435.8 397.2h0M448.7 385.4h0M437.5 391.7h0M436.1 404.0h0M441.1 396.3h0M443.5 394.9h0M437.2 405.1h0M435.1 406.8h0M436.2 390.8h0M423.7 388.5h0M440.5 391.5h0M439.3 381.0h0M440.2 400.3h0M430.2 392.3h0M454.3 405.9h0M425.3 408.3h0M452.1 396.9h0M433.5 403.4h0M430.1 409.6h0M443.0 384.5h0M445.4 384.6h0M435.9 402.9h0M442.0 389.5h0M446.9 386.8h0M434.9 389.8h0M444.6 400.9h0M433.9 397.6h0M438.4 398.5h0M443.1 401.8h0M440.4 405.2h0M440.7 403.9h0M446.4 383.0h0M433.7 392.5h0M443.0 400.7h0M446.3 397.4h0M438.9 408.1h0M434.6 409.3h0M426.0 402.7h0M432.1 406.2h0M449.4 396.3h0M437.7 403.8h0M441.4 389.7h0M449.3 395.2h0M433.7 405.9h0M427.4 400.6h0M440.6 391.3h0M436.1 384.8h0M438.1 398.9h0M446.9 398.4h0M439.9 389.2h0M443.5 403.7h0M433.0 383.9h0M431.9 400.9h0M427.4 403.2h0M440.1 399.4h0M439.6 391.6h0M440.6 387.8h0M454.2 384.3h0M442.0 393.6h0M435.6 397.4h0M439.5 393.6h0M423.6 400.6h0M456.1 402.0h0M433.8 397.9h0M443.3 394.5h0M445.7 396.5h0M444.4 396.9h0M439.8 386.1h0M438.7 401.0h0M444.9 395.6h0M442.2 395.8h0M444.2 392.1h0M437.6 395.5h0M440.0 398.1h0M438.8 390.7h0M435.9 391.6h0M430.8 402.7h0M437.1 408.4h0M435.4 403.3h0M437.3 400.1h0M430.7 401.4h0M429.0 406.8h0M447.3 397.8h0M438.9 400.7h0M442.1 401.4h0M435.8 396.9h0M428.0 407.1h0M438.1 393.8h0M435.3 392.7h0M449.8 396.3h0M443.2 405.8h0M444.5 388.5h0M434.2 396.9h0M439.4 404.2h0M440.8 399.0h0M434.3 409.2h0M428.1 405.6h0M424.1 407.9h0M433.4 394.2h0M442.1 396.8h0M435.8 406.0h0M434.7 396.9h0M446.7 403.2h0M438.5 392.0h0M426.7 403.6h0M441.9 403.8h0M457.7 387.7h0M446.8 407.8h0M441.0 389.8h0M443.5 398.8h0M439.2 395.3h0M440.1 402.2h0M436.6 398.0h0M436.0 405.0h0M442.3 399.4h0M448.7 405.1h0M428.2 402.5h0M439.9 406.9h0M437.2 399.7h0M450.9 399.3h0M427.3 395.0h0M430.1 408.9h0M449.0 389.9h0M438.2 387.8h0M425.0 406.7h0M435.1 391.9h0M449.5 395.4h0M448.3 390.7h0M438.8 395.6h0M427.6 395.8h0M437.5 389.1h0M425.4 395.2h0M438.4 398.5h0M434.1 396.2h0M441.5 397.3h0M444.8 381.4h0M426.3 409.5h0M438.5 401.1h0M430.8 399.4h0M451.2 390.6h0M448.8 388.7h0M443.0 399.5h0M434.3 398.1h0M438.2 406.7h0M444.3 390.0h0M436.0 385.4h0M434.7 394.2h0M451.4 397.6h0M443.6 402.2h0M430.9 408.9h0M441.7 392.6h0M452.4 391.6h0M444.0 402.8h0M443.6 408.9h0M436.5 403.2h0M432.9 397.3h0M463.2 386.0h0M438.0 394.6h0M435.6 401.3h0M449.1 392.4h0M433.2 381.9h0M441.5 390.0h0M449.8 390.1h0M433.7 401.5h0M440.2 400.5h0M442.2 391.1h0M446.6 388.8h0M428.3 392.0h0M447.4 405.2h0M439.8 394.6h0M438.0 403.4h0M440.2 389.0h0M448.2 388.4h0M431.8 394.1h0M426.4 399.9h0M435.8 390.2h0M437.4 403.8h0M436.2 404.1h0M443.3 392.8h0M431.9 408.3h0M437.2 400.9h0M449.1 404.0h0M435.5 400.4h0M431.1 400.0h0M443.4 385.1h0M444.6 393.2h0M444.7 395.7h0M434.9 385.7h0M441.1 389.0h0M426.2 402.7h0M454.2 400.7h0M447.5 403.2h0M435.2 400.2h0M434.9 390.0h0M469.9 390.3h0M440.0 387.1h0M455.2 391.8h0M458.6 385.6h0M432.5 388.0h0M444.0 386.5h0M434.5 406.4h0M432.8 407.6h0M427.9 395.4h0M425.1 409.4h0M455.2 385.6h0M441.0 402.0h0M431.8 393.5h0M436.8 401.4h0M431.2 394.4h0M438.3 405.0h0M430.3 398.8h0M444.2 397.0h0M441.9 399.1h0M433.5 393.4h0M437.7 402.2h0M427.5 389.2h0M432.7 396.0h0M434.4 401.7h0M438.6 401.2h0M426.1 407.8h0M423.8 407.5h0M440.4 384.5h0M430.3 409.2h0M424.4 401.4h0M431.8 387.5h0M457.3 395.7h0M463.2 384.7h0M435.7 395.9h0M438.8 403.1h0M433.6 403.6h0M446.2 399.3h0M432.9 394.5h0M440.3 396.7h0M459.5 381.6h0M433.0 396.2h0M438.1 396.7h0M438.9 396.3h0M439.9 398.9h0M435.5 394.1h0M433.9 405.8h0M432.9 399.6h0M450.5 391.8h0M430.7 407.0h0M443.8 396.7h0M449.1 377.6h0M437.1 405.7h0M443.8 383.8h0M437.6 409.2h0M438.5 401.3h0M441.8 390.3h0M450.7 383.1h0M432.0 407.4h0M438.5 398.1h0M434.7 402.3h0M434.6 407.1h0M435.1 391.0h0M429.1 405.1h0M436.1 397.1h0M439.5 401.6h0M435.8 399.3h0M432.2 388.7h0M430.4 404.7h0M446.2 395.6h0M437.6 394.5h0M427.6 405.2h0M433.7 406.7h0M444.2 390.7h0M432.0 408.2h0M442.8 387.0h0M444.3 391.4h0M433.4 386.7h0M452.7 372.0h0M430.8 402.2h0M425.5 405.7h0M450.8 394.3h0M433.7 394.9h0M439.5 408.1h0M454.5 384.3h0M431.7 393.1h0M430.0 402.2h0M436.9 392.9h0M436.8 397.8h0M456.4 386.3h0M440.7 395.4h0M432.7 392.0h0M453.5 397.0h0M446.8 395.8h0M424.2 396.5h0M429.6 395.9h0M443.6 397.0h0M427.3 403.2h0M429.1 386.6h0M450.1 406.4h0M445.0 388.7h0M452.2 377.3h0M441.3 392.2h0M439.4 399.0h0M439.3 393.6h0M436.0 399.2h0M432.3 386.3h0M441.1 391.8h0M447.5 401.4h0M433.3 400.7h0M429.2 399.7h0M428.3 393.1h0M435.9 403.2h0M456.5 386.4h0M448.2 389.2h0M447.1 387.7h0M434.4 400.6h0M437.2 400.8h0M429.1 402.2h0M447.3 381.6h0M432.9 400.8h0M422.9 407.8h0M439.3 392.0h0M450.2 388.9h0M437.9 400.0h0M440.0 404.8h0M448.7 400.8h0M428.9 396.2h0M433.4 405.6h0M431.0 403.8h0M433.3 395.4h0M430.3 407.1h0M435.0 401.5h0M436.4 392.7h0M441.9 408.6h0M439.7 387.2h0M437.9 395.5h0M456.4 390.9h0M433.0 395.4h0M448.9 385.9h0M439.0 390.4h0M437.1 395.8h0M441.1 394.7h0M440.0 402.5h0M439.8 389.0h0M450.3 385.2h0M445.9 398.0h0M441.5 399.3h0M441.0 405.4h0M450.9 385.3h0M435.8 405.8h0M433.8 404.4h0M431.2 395.5h0M434.4 404.3h0M451.0 407.9h0M460.5 382.0h0M428.8 395.1h0M426.8 394.9h0M439.1 399.6h0M446.4 388.5h0M431.1 386.6h0M439.1 399.4h0M441.8 385.8h0M434.4 401.4h0M437.1 396.8h0M432.3 383.6h0M435.3 405.0h0M437.0 395.0h0M445.7 407.0h0M440.6 406.6h0M424.3 402.3h0M442.2 400.9h0M449.5 397.4h0M430.9 381.8h0M441.5 397.8h0M425.0 398.7h0M426.5 407.2h0M449.5 390.7h0M442.8 397.0h0M441.6 392.2h0M445.8 381.0h0M448.6 397.7h0M441.0 395.8h0M436.7 397.8h0M448.5 408.7h0M435.7 397.9h0M440.0 402.3h0M443.3 401.7h0M449.2 396.5h0M433.1 393.6h0M449.6 393.7h0M436.9 404.1h0M429.9 391.8h0M451.6 393.0h0M443.9 387.0h0M438.3 403.1h0M433.8 406.7h0M448.5 395.8h0M426.6 399.4h0M436.6 399.1h0M428.7 403.8h0M453.6 391.4h0M437.2 398.6h0M427.1 401.1h0M440.5 407.1h0M442.7 402.1h0M429.5 404.0h0M425.4 402.6h0M436.6 391.7h0M435.3 392.1h0M436.1 400.0h0M436.8 389.7h0M443.6 387.3h0M429.3 405.8h0M430.5 398.1h0M447.7 403.7h0M452.3 397.7h0M434.0 394.7h0M427.4 399.0h0M426.0 396.4h0M429.5 407.0h0M439.5 402.8h0M446.3 392.7h0M429.2 389.7h0M430.7 397.5h0M453.4 390.1h0M446.1 386.9h0M437.5 396.2h0M439.3 387.7h0M457.0 385.0h0M452.2 388.0h0M459.9 388.7h0M444.5 389.1h0M434.0 392.6h0M446.5 402.6h0M426.9 408.4h0M434.9 403.9h0M435.1 387.9h0M435.2 399.6h0M440.9 400.8h0M453.2 380.6h0M443.3 400.8h0M439.0 401.0h0M439.4 392.4h0M433.7 392.2h0M434.5 403.0h0M442.1 399.0h0M440.1 399.7h0M434.2 396.2h0M435.9 404.0h0M435.7 404.0h0M443.5 391.8h0M444.0 390.1h0M434.2 388.5h0M443.2 393.6h0M456.2 390.9h0M444.1 408.1h0M447.7 394.5h0M426.5 394.5h0M435.2 404.8h0M427.3 386.7h0M437.5 399.4h0M445.4 401.1h0M436.4 405.7h0M443.0 398.9h0M428.3 400.3h0M438.3 398.7h0M431.2 408.5h0M442.3 406.7h0M433.4 397.8h0M433.4 405.3h0M437.4 400.1h0M439.2 397.4h0M431.6 396.2h0M442.1 389.9h0M445.3 393.2h0M440.2 396.7h0M437.4 405.7h0M424.6 407.8h0M454.8 385.3h0M439.1 408.6h0M448.0 396.3h0M451.7 398.8h0M437.4 392.6h0M443.0 407.1h0M438.0 403.1h0M453.4 387.2h0M432.3 396.7h0M442.6 393.3h0M440.9 402.9h0M438.8 398.2h0M447.7 406.1h0M444.8 400.1h0M437.2 395.6h0M453.9 393.3h0M430.2 397.7h0M444.4 386.9h0M444.9 382.9h0M438.9 401.4h0M441.9 395.4h0M452.3 392.8h0M446.1 402.1h0M442.1 394.7h0M442.7 396.5h0M429.2 405.9h0M451.4 405.2h0M437.6 394.1h0M429.6 399.0h0M433.6 396.0h0M438.6 401.8h0M428.5 401.7h0M439.2 394.4h0M449.0 394.2h0M437.6 402.1h0M423.6 400.4h0M453.3 396.9h0M426.5 400.8h0M430.3 393.8h0M436.0 403.5h0M425.8 401.8h0M437.3 392.1h0M432.8 402.4h0M424.5 407.0h0M439.3 401.5h0M437.2 391.8h0M450.0 392.0h0M451.0 375.8h0M440.2 387.4h0M456.1 382.3h0M449.9 381.2h0M453.4 397.8h0M450.0 389.5h0M457.6 380.2h0M463.7 386.0h0M453.6 378.3h0M447.5 389.2h0M451.3 384.5h0M453.6 382.6h0M453.0 386.8h0M451.4 381.4h0M444.2 385.0h0M450.4 384.7h0M454.7 378.3h0M461.0 379.9h0M446.4 385.3h0M447.4 382.8h0M444.7 390.3h0M448.5 377.8h0M448.4 396.8h0M450.9 377.6h0M446.5 384.0h0M440.6 390.7h0M447.7 382.5h0M458.0 378.9h0M451.2 389.2h0M449.8 391.0h0M441.0 394.1h0M448.0 382.6h0M452.9 380.3h0M442.4 387.2h0M445.8 394.4h0M456.3 375.6h0M449.2 387.9h0M445.7 383.3h0M449.3 386.4h0M453.8 382.7h0M469.6 372.9h0M443.4 397.5h0M445.0 396.4h0M454.7 382.0h0M447.1 382.0h0M451.5 386.7h0M453.1 377.9h0M443.9 390.4h0M451.1 382.2h0M452.3 388.4h0M447.4 388.3h0M451.2 386.9h0M450.7 384.6h0M454.0 383.8h0M451.5 382.0h0M448.4 392.5h0M446.1 384.5h0M448.8 387.6h0M468.2 373.3h0M441.8 393.3h0M458.8 383.0h0M448.2 381.1h0M462.2 368.3h0M455.0 384.3h0M448.8 388.3h0M446.7 389.0h0M454.6 383.5h0M455.6 381.3h0M446.7 393.3h0M462.5 377.5h0M449.1 378.6h0M449.1 387.7h0M455.2 385.0h0M431.7 389.8h0M458.2 388.2h0M456.4 374.4h0M453.1 390.8h0M447.6 378.6h0M449.0 372.2h0M449.3 381.1h0M452.1 386.5h0M447.7 395.2h0M463.9 380.7h0M450.5 382.8h0M450.2 378.6h0M454.1 388.0h0M445.4 388.2h0M449.0 387.1h0M450.2 393.5h0M440.8 383.7h0M446.1 392.6h0M450.0 396.2h0M447.5 380.9h0M453.5 390.4h0M453.1 378.6h0M456.5 381.4h0M450.9 386.0h0M455.7 383.8h0M438.0 383.2h0M456.8 377.9h0M455.1 377.1h0M455.0 388.4h0M444.6 398.2h0M451.0 386.0h0M459.4 381.4h0M444.3 388.8h0M451.2 377.0h0M447.9 383.8h0M442.7 386.2h0M452.6 384.1h0M444.8 393.5h0M453.3 387.0h0M454.5 388.6h0M452.0 383.1h0M447.4 390.0h0M449.3 387.1h0M447.1 380.6h0M449.1 386.2h0M455.8 382.8h0M455.5 382.0h0M437.4 390.6h0M454.4 382.9h0M444.8 394.8h0M456.7 383.8h0M468.0 377.6h0M445.8 391.9h0M454.7 384.5h0M447.2 387.7h0M452.2 385.0h0M458.1 383.6h0M449.4 389.6h0M450.3 387.3h0M454.0 391.0h0M440.3 393.2h0M462.6 387.1h0M453.6 381.8h0M451.2 394.8h0M455.6 387.2h0M449.5 384.6h0M440.4 396.4h0M438.7 390.6h0M451.3 379.4h0M461.4 380.6h0M456.2 375.2h0M448.8 378.8h0M448.7 389.7h0M457.9 383.9h0M445.3 379.6h0M441.3 388.0h0M450.1 388.4h0M446.7 390.9h0M451.9 391.0h0M447.4 388.2h0M456.0 375.3h0M449.3 385.4h0M435.1 392.6h0M466.6 378.7h0M457.8 382.2h0M461.1 384.8h0M446.1 397.0h0M449.4 387.4h0M447.8 387.3h0M450.4 389.5h0M455.9 383.7h0M449.9 381.4h0M462.7 370.7h0M459.5 378.0h0M449.2 383.0h0M453.8 385.9h0M450.4 383.2h0M442.7 389.1h0M459.4 377.5h0M446.6 383.9h0M446.1 394.2h0M449.2 391.2h0M460.3 375.3h0M445.5 391.9h0M456.3 379.9h0M453.8 385.3h0M442.9 396.9h0M453.0 380.6h0M452.1 384.6h0M441.2 395.8h0M458.7 374.9h0M458.7 376.5h0M448.7 389.6h0M436.9 396.5h0M451.1 387.9h0M458.1 376.8h0M446.8 382.1h0M451.4 384.4h0M441.8 397.1h0M445.0 388.8h0M452.4 380.4h0M450.1 377.6h0M447.8 378.9h0M455.4 383.4h0M450.1 397.5h0M453.1 376.8h0M456.8 381.0h0M453.4 390.4h0M452.9 380.1h0M446.6 389.1h0M458.4 378.5h0M466.3 375.2h0M450.4 392.9h0M441.8 388.7h0M450.3 386.3h0M454.3 388.7h0M446.8 385.6h0M447.1 381.9h0M442.1 382.8h0M439.5 399.8h0M455.9 381.2h0M459.8 379.7h0M457.3 380.7h0M462.0 375.4h0M441.3 388.9h0M448.9 388.6h0M454.8 388.9h0M450.7 379.0h0M450.3 390.2h0M448.8 375.8h0M448.7 385.4h0M449.2 391.6h0M450.9 390.2h0M450.8 386.6h0M448.9 396.7h0M461.0 379.6h0M457.4 386.0h0M457.3 382.5h0M449.3 392.5h0M459.6 380.8h0M447.5 384.8h0M464.4 374.9h0M446.8 390.0h0M449.8 382.7h0M458.4 375.7h0M451.4 384.7h0M449.5 387.9h0M443.0 396.0h0M445.7 392.6h0M456.4 379.7h0M452.8 377.1h0M456.4 382.6h0M450.6 387.4h0M439.5 390.6h0M449.3 374.9h0M460.1 377.6h0M446.0 387.8h0M452.3 383.9h0M455.9 386.3h0M451.2 387.1h0M449.5 378.8h0M451.2 385.2h0M442.2 388.6h0M447.9 378.6h0M445.0 398.4h0M458.7 383.5h0M461.8 384.1h0M462.6 383.0h0M450.2 383.0h0M443.1 384.4h0M446.6 382.3h0M462.1 376.0h0M452.7 386.9h0M447.3 383.8h0M454.0 383.8h0M452.9 381.6h0M457.4 386.9h0M449.0 385.4h0M444.6 386.6h0M445.9 393.5h0M453.9 385.9h0M444.0 389.7h0M448.8 385.5h0M459.2 385.8h0M444.5 387.2h0M454.1 378.4h0M453.2 388.2h0M456.6 384.6h0M450.0 383.3h0M450.7 390.3h0M452.2 387.4h0M447.2 385.9h0M465.4 376.7h0M442.8 382.0h0M455.9 381.5h0M440.8 391.8h0M461.5 376.8h0M434.2 396.1h0M450.0 386.0h0M448.8 394.3h0M446.5 392.3h0M443.9 389.9h0M454.9 383.1h0M452.7 377.4h0M450.1 387.7h0M451.0 382.9h0M487.7 347.7h0M480.7 348.1h0M481.6 348.1h0M493.4 339.2h0M488.8 342.0h0M489.0 343.6h0M476.6 350.2h0M470.7 344.2h0M479.9 345.9h0M470.3 344.9h0M488.1 346.2h0M481.0 342.9h0M475.4 348.7h0M480.8 347.0h0M485.7 348.0h0M484.1 345.3h0M491.8 340.2h0M488.0 349.6h0M485.2 335.9h0M487.7 340.0h0M484.8 348.1h0M476.4 350.5h0M478.2 351.4h0M478.1 345.0h0M483.2 346.1h0M490.9 343.5h0M484.7 343.2h0M473.6 348.7h0M484.3 353.4h0M494.8 343.5h0M471.7 339.4h0M471.6 352.7h0M487.3 346.2h0M484.6 340.8h0M474.8 349.5h0M471.4 343.5h0M475.5 347.8h0M481.8 345.8h0M483.0 343.3h0M480.3 345.0h0M479.7 342.5h0M483.4 347.4h0M473.9 353.0h0M484.3 341.9h0M483.8 351.3h0M479.8 344.6h0M480.9 345.4h0M482.4 347.1h0M483.1 346.1h0M479.1 347.4h0M488.5 340.0h0M481.3 342.9h0M487.3 346.1h0M473.6 344.9h0M484.5 344.0h0M473.9 349.0h0M471.0 348.5h0M479.7 346.7h0M482.5 340.0h0M489.4 344.3h0M478.5 345.7h0M475.5 353.8h0M472.2 343.4h0M474.8 343.0h0M485.6 337.7h0M473.5 347.7h0M478.7 345.2h0M482.3 346.1h0M488.1 346.2h0M485.9 345.7h0M480.2 346.8h0M472.8 339.8h0M477.9 348.4h0M487.4 344.9h0M490.4 336.6h0M485.0 338.0h0M488.9 342.4h0M480.2 348.2h0M488.3 338.3h0M481.6 342.9h0M469.2 348.3h0M476.1 350.1h0M491.2 342.1h0M474.7 349.6h0M475.9 342.8h0M472.6 350.9h0M483.9 344.2h0M484.7 345.7h0M477.3 349.0h0M491.2 348.7h0M478.8 344.3h0M487.2 339.3h0M484.7 341.7h0M478.3 343.2h0M476.6 338.0h0M490.0 340.8h0M491.9 345.4h0M487.5 340.9h0M479.9 349.4h0M484.7 347.1h0M479.1 350.0h0M473.3 347.9h0M469.5 348.8h0M496.9 340.9h0M494.0 342.2h0M473.5 342.8h0M477.7 345.5h0M472.2 351.8h0M479.7 346.9h0M478.0 350.2h0M486.6 343.9h0M479.9 346.3h0M481.8 345.7h0M488.5 348.2h0M490.1 342.9h0M484.5 349.4h0M485.3 348.9h0M481.5 340.6h0M482.3 345.9h0M479.1 340.3h0M482.5 346.1h0M495.9 341.0h0M478.9 342.4h0M476.2 343.7h0M486.3 340.9h0M486.2 345.3h0M481.8 344.4h0M473.9 344.9h0M481.1 350.1h0M481.6 344.7h0M482.5 346.8h0M478.3 350.4h0M485.4 351.3h0M483.4 346.5h0M489.8 340.1h0M490.2 337.1h0M477.3 350.6h0M489.9 338.9h0M485.0 345.0h0M476.7 344.7h0M479.1 345.1h0M484.5 345.0h0M467.2 346.0h0M478.6 338.9h0M473.0 348.6h0M479.5 345.7h0M485.7 349.2h0M492.7 338.5h0M483.1 349.6h0M487.5 344.6h0M495.8 342.3h0M486.5 345.9h0M487.5 341.6h0M487.1 346.7h0M478.5 346.8h0M481.1 342.9h0M488.5 343.5h0M481.8 352.8h0M472.0 353.4h0M476.5 349.7h0M483.3 340.3h0M482.8 352.3h0M486.5 338.2h0M488.4 341.2h0M482.1 343.5h0M491.3 343.7h0M481.3 343.6h0M478.2 346.1h0M488.6 346.0h0M470.0 345.2h0M489.9 346.4h0M483.4 351.3h0M475.5 348.2h0M501.3 344.5h0M474.7 348.6h0M480.6 349.4h0M486.0 347.2h0M481.3 348.1h0M481.5 344.3h0M480.5 345.0h0M475.1 346.6h0M488.4 338.2h0M478.7 346.6h0M476.7 346.5h0M466.7 352.5h0M474.5 346.5h0M487.5 343.6h0M486.0 345.1h0M474.9 344.9h0M478.2 345.7h0M492.0 346.1h0M481.8 345.2h0M476.5 348.2h0M483.2 350.0h0M479.8 338.9h0M485.2 338.4h0M481.0 338.1h0M487.9 342.5h0M472.5 341.3h0M477.9 342.3h0M493.2 343.3h0M482.0 349.1h0M476.9 352.5h0M470.0 344.2h0M481.7 338.3h0M474.0 347.0h0M484.2 345.7h0M486.1 342.6h0M475.0 355.9h0M489.3 342.0h0M495.5 337.4h0M486.3 343.9h0M487.3 339.3h0M489.5 343.2h0M490.7 344.1h0M487.4 350.7h0M488.9 336.4h0M473.2 349.3h0M480.0 347.1h0M488.5 337.6h0M483.6 340.1h0M482.4 342.9h0M477.0 345.4h0M472.2 355.6h0M477.6 348.0h0M493.1 343.0h0M471.9 351.6h0M482.7 342.8h0M483.5 342.9h0M483.1 350.1h0M489.8 342.7h0M486.9 342.1h0M493.8 340.9h0M482.0 342.5h0M487.5 345.9h0M475.0 346.0h0M483.3 345.2h0M490.7 343.4h0M482.5 344.1h0M476.1 349.4h0M477.7 346.0h0M478.0 344.5h0M483.8 345.2h0M482.5 347.4h0M465.9 352.9h0M479.5 342.6h0M473.7 346.5h0M491.1 334.5h0M483.7 344.7h0M489.9 338.4h0M483.8 347.2h0M470.7 349.4h0M476.5 352.2h0M478.7 344.1h0M476.3 348.9h0M479.1 345.3h0M481.5 345.8h0M487.4 343.1h0M471.5 348.6h0M486.8 345.3h0M473.6 352.7h0M475.0 341.3h0M477.5 347.3h0M486.1 345.9h0M495.3 342.8h0M479.1 345.9h0M484.6 347.5h0M481.2 346.1h0M488.3 341.4h0M490.2 339.8h0M482.9 337.4h0M475.6 348.1h0M484.2 345.8h0M477.4 344.7h0M480.7 348.4h0M488.0 335.8h0M478.5 349.8h0M485.2 349.5h0M480.4 344.8h0M486.0 340.7h0M485.0 346.3h0M488.2 339.0h0M481.8 349.8h0M482.8 340.4h0M479.6 343.6h0M494.6 337.3h0M487.3 343.9h0M485.2 341.2h0M486.7 341.3h0M493.7 345.0h0M476.9 354.3h0M478.5 340.2h0M484.8 341.3h0M478.2 351.0h0M485.3 345.5h0M487.7 343.8h0M481.4 353.9h0M487.9 347.0h0M480.8 349.9h0M480.7 349.7h0M489.2 344.0h0M477.2 338.4h0M472.5 349.3h0M480.6 342.9h0M481.0 338.7h0M476.0 343.3h0M490.8 333.4h0M483.5 336.8h0M480.7 346.6h0M484.3 338.2h0M483.4 342.0h0M484.5 341.2h0M478.6 344.9h0M474.8 348.4h0M472.0 353.2h0M488.8 346.8h0M488.3 336.1h0M483.3 346.9h0M490.6 341.9h0M484.7 344.2h0M483.6 343.2h0M486.3 341.1h0M486.9 343.7h0M482.3 339.8h0M489.5 343.3h0M475.8 346.9h0M484.4 345.0h0M488.9 337.5h0M476.6 340.5h0M472.9 345.3h0M484.3 338.2h0M483.7 350.7h0M480.4 342.3h0M475.5 349.0h0M487.6 338.3h0M482.2 341.6h0M493.3 337.8h0M472.9 343.7h0M485.7 339.0h0M475.7 349.6h0M486.1 344.6h0M472.4 346.5h0M489.0 341.2h0M486.2 338.2h0M470.5 342.5h0M482.4 341.5h0M486.1 341.7h0M485.7 346.8h0M469.9 352.6h0M480.7 351.3h0M483.1 342.4h0M484.8 340.6h0M481.4 347.1h0M481.6 344.4h0M481.9 338.0h0M486.3 344.1h0M480.2 341.6h0M495.4 343.9h0M487.8 341.6h0M483.5 345.0h0M474.2 340.1h0M489.5 342.1h0M479.6 348.5h0M493.2 345.1h0M471.4 349.0h0M487.4 342.3h0M492.0 340.1h0M483.1 338.1h0M475.0 348.4h0M479.4 342.9h0M474.5 353.7h0M487.4 346.2h0M479.6 347.6h0M483.9 341.9h0M479.6 342.2h0M483.3 348.2h0M487.8 345.2h0M482.5 347.8h0M486.1 340.6h0M488.0 347.3h0M472.9 343.3h0M487.7 340.7h0M472.8 341.5h0M476.6 342.0h0M473.7 347.8h0M480.1 344.7h0M482.8 333.2h0M488.6 343.5h0M479.1 340.7h0M465.4 350.5h0M490.5 333.6h0M487.7 336.0h0M484.1 347.5h0M492.3 340.1h0M486.0 343.3h0M478.7 342.7h0M473.2 345.2h0M467.3 351.2h0M488.2 345.9h0M486.0 348.1h0M482.0 347.6h0M481.9 342.1h0M486.5 346.8h0M482.5 345.3h0M481.0 344.4h0M476.4 348.0h0M486.6 346.0h0M483.7 344.4h0M484.7 347.2h0M482.8 340.9h0M472.7 354.5h0M481.5 342.0h0M476.7 346.9h0M474.9 342.1h0M484.3 349.3h0M484.3 343.9h0M473.1 351.3h0M480.4 347.7h0M483.3 337.2h0M489.9 345.9h0M495.5 329.0h0M489.7 340.2h0M488.2 346.4h0M493.1 341.0h0M488.8 340.7h0M470.7 355.4h0M473.8 354.8h0M488.4 346.1h0M480.1 345.5h0M486.1 345.5h0M478.5 345.1h0M485.2 347.0h0M473.2 347.7h0M490.5 346.2h0M488.2 337.5h0M480.0 347.9h0M481.6 345.1h0M478.6 353.4h0M478.0 347.7h0M479.5 348.4h0M474.4 350.9h0M474.4 354.6h0M483.4 344.3h0M478.5 348.3h0M482.9 342.1h0M486.1 341.6h0M478.6 343.3h0M482.5 342.2h0M476.6 345.7h0M479.9 343.8h0M479.9 346.0h0M482.1 341.0h0M482.6 343.0h0M482.3 346.6h0M484.2 342.1h0M479.1 348.8h0M484.1 339.7h0M477.4 351.5h0M479.7 347.3h0M480.6 347.3h0M475.3 346.8h0M495.2 332.6h0M477.4 343.8h0M485.5 349.0h0M482.2 342.9h0M472.4 349.3h0M485.6 348.2h0M479.9 345.4h0M489.6 340.8h0M475.2 352.4h0M492.4 338.8h0M476.5 349.4h0M471.3 347.3h0M474.8 343.2h0M469.2 347.5h0M469.8 347.0h0M467.3 354.5h0M487.3 341.1h0M480.9 348.1h0M485.3 338.5h0M499.2 345.2h0M493.4 348.2h0M493.4 347.6h0M498.2 345.3h0M488.2 345.6h0M499.7 341.3h0M492.7 350.7h0M503.3 348.5h0M499.8 343.6h0M493.8 348.5h0M503.1 345.9h0M501.7 346.8h0M498.5 348.1h0M498.6 343.6h0M496.1 348.2h0M494.8 345.7h0M497.5 346.1h0M493.8 347.3h0M496.8 345.2h0M506.0 345.6h0M497.5 344.2h0M495.0 347.7h0M500.0 345.1h0M485.7 347.3h0M492.3 346.7h0M499.3 345.7h0M492.9 350.8h0M503.7 345.6h0M497.4 346.3h0M497.2 347.0h0M495.1 349.4h0M505.6 344.7h0M503.5 344.5h0M498.6 344.5h0M498.6 348.8h0M488.8 348.7h0M495.4 345.1h0M496.2 345.2h0M500.3 345.3h0M496.0 344.9h0M497.6 347.1h0M492.5 348.3h0M501.6 342.4h0M499.5 344.4h0M495.4 342.9h0M506.3 346.5h0M499.4 345.4h0M495.4 345.2h0M496.8 347.0h0M492.8 345.1h0M495.8 345.4h0M491.9 345.6h0M495.6 351.6h0M496.1 347.0h0M499.8 345.2h0M501.4 345.2h0M500.4 346.0h0M490.6 348.3h0M496.4 346.7h0M501.9 345.6h0M500.3 347.3h0M491.0 346.5h0M502.2 344.5h0M499.6 345.6h0M503.1 345.2h0M495.9 342.8h0M500.4 345.5h0M489.7 350.5h0M492.3 346.0h0M500.2 346.3h0M493.0 346.0h0M498.1 345.6h0M508.6 347.8h0M493.6 346.8h0M492.1 346.1h0M500.2 345.8h0M489.2 345.1h0M496.3 347.9h0M499.1 345.5h0M498.3 343.9h0M490.2 347.7h0M494.8 351.7h0M496.6 347.0h0M490.7 347.6h0M494.7 345.0h0M500.9 347.0h0M494.0 348.7h0M504.2 347.4h0M498.0 351.3h0M494.6 344.2h0M496.7 346.4h0M495.6 348.3h0M501.6 342.0h0M493.1 345.6h0M497.1 346.3h0M490.0 348.6h0M493.9 348.5h0M496.8 345.1h0M491.3 348.5h0M489.7 346.9h0M501.2 345.2h0M490.8 347.3h0M498.8 345.1h0M505.7 345.9h0M497.7 345.4h0M500.2 344.3h0M491.7 347.4h0M495.4 348.6h0M498.4 346.4h0M489.5 344.0h0M496.7 343.5h0M493.7 347.7h0M498.0 345.6h0M490.7 347.3h0M495.3 348.2h0M496.9 346.0h0M496.9 345.7h0M498.5 346.5h0M498.9 349.3h0M501.1 349.2h0M496.7 347.0h0M492.4 346.6h0M493.7 346.7h0M498.9 349.4h0M495.7 345.3h0M497.8 343.0h0M505.3 347.2h0M489.7 350.2h0M491.5 343.9h0M505.5 346.2h0M493.7 345.8h0M502.7 343.2h0M496.1 346.1h0M495.4 344.8h0M492.0 349.6h0M493.1 343.7h0M500.6 349.2h0M495.8 346.9h0M498.8 344.9h0M491.8 346.7h0M500.3 346.3h0M502.5 345.4h0M500.0 346.0h0M500.8 344.4h0M495.5 347.0h0M501.9 343.8h0M495.9 349.2h0M491.4 349.3h0M493.9 348.2h0M495.4 350.2h0M497.5 343.0h0M500.6 344.3h0M499.0 343.3h0M496.5 347.1h0M496.5 345.5h0M492.4 347.9h0M505.9 346.3h0M490.3 351.2h0M498.4 345.5h0M494.1 349.3h0M489.3 348.8h0M495.7 347.7h0M499.0 344.4h0M497.3 346.4h0M501.1 345.7h0M497.2 345.0h0M497.5 348.0h0M505.3 342.4h0M497.4 344.6h0M494.9 346.1h0M498.2 343.6h0M500.6 345.7h0M493.3 347.7h0M494.3 352.7h0M485.9 346.5h0M493.9 350.3h0M498.4 349.5h0M500.3 344.6h0M504.3 345.1h0M495.8 341.6h0M504.1 349.3h0M500.3 347.8h0M502.7 345.1h0M499.4 344.1h0M501.2 346.0h0M489.9 345.8h0M496.4 349.8h0M502.5 344.1h0M490.0 349.8h0M494.2 348.4h0M492.8 347.5h0M493.0 350.2h0M496.7 343.1h0M491.6 350.4h0M496.9 344.3h0M494.9 349.1h0M482.9 344.8h0M499.0 346.6h0M500.1 345.2h0M496.0 345.0h0M495.5 346.8h0M491.1 345.9h0M499.7 347.1h0M495.8 346.5h0M497.7 347.6h0M499.7 346.4h0M499.2 346.4h0M496.3 349.1h0M499.0 348.7h0M496.4 347.3h0M494.6 346.6h0M503.5 349.8h0M494.1 345.7h0M492.6 345.6h0M497.6 345.1h0M503.6 342.4h0M492.4 346.6h0M502.5 344.2h0M498.7 350.1h0M498.9 345.2h0M500.5 346.0h0M499.1 347.6h0M507.6 341.1h0M498.0 347.1h0M493.7 346.5h0M505.0 343.8h0M490.9 348.3h0M500.1 345.7h0M491.5 348.0h0M490.3 344.6h0M495.8 349.1h0M497.0 346.4h0M495.3 347.5h0M500.9 344.9h0M499.5 346.7h0M495.3 346.0h0M499.5 345.6h0M494.9 348.3h0M498.5 346.6h0M489.7 347.5h0M500.0 346.6h0M495.6 347.2h0M501.0 343.2h0M494.0 346.0h0M502.7 344.9h0M489.5 348.3h0M496.6 345.4h0M494.6 342.9h0M503.1 346.9h0M492.4 344.6h0M495.2 341.3h0M504.8 344.5h0M502.2 344.7h0M494.7 346.9h0M507.2 343.0h0M498.9 345.7h0M498.3 346.5h0M497.2 349.0h0M496.8 346.3h0M503.9 341.2h0M498.6 346.0h0M496.8 348.4h0M496.8 344.3h0M494.1 348.7h0M501.1 344.9h0M496.7 344.0h0M499.5 344.8h0M500.9 344.3h0M493.1 345.6h0M499.3 349.1h0M496.0 343.5h0M500.1 347.5h0M499.2 347.2h0M502.9 343.3h0M500.5 343.8h0M496.5 345.1h0M494.4 350.3h0M496.8 345.0h0M498.1 344.6h0M502.7 341.8h0M497.4 348.1h0M501.8 349.5h0M496.7 347.3h0M504.7 348.4h0M493.5 347.4h0M501.3 340.2h0M502.4 345.2h0M505.4 342.6h0M491.7 346.7h0M494.3 348.6h0M494.3 347.1h0M496.8 348.2h0M493.7 344.9h0M493.2 343.7h0M502.6 346.8h0M498.9 350.3h0M495.9 346.8h0M493.1 348.6h0M498.2 345.0h0M496.6 348.4h0M443.2 369.5h0M467.7 360.2h0M463.2 361.8h0M451.7 357.4h0M460.2 362.6h0M463.3 355.2h0M452.0 358.9h0M465.7 373.4h0M462.3 359.6h0M478.3 337.9h0M457.8 372.2h0M467.1 360.0h0M465.4 341.7h0M466.7 347.6h0M455.7 360.2h0M452.4 364.6h0M470.7 357.6h0M467.4 366.9h0M456.4 353.7h0M465.5 349.9h0M441.2 354.1h0M456.9 340.8h0M440.7 356.1h0M467.8 350.9h0M472.3 345.3h0M444.8 372.4h0M444.6 368.7h0M459.5 352.3h0M457.7 367.8h0M455.9 344.3h0M448.6 362.0h0M452.4 358.6h0M461.9 358.8h0M461.5 371.0h0M445.1 363.3h0M453.1 370.1h0M457.1 354.6h0M464.8 359.4h0M450.4 354.5h0M472.0 357.1h0M452.5 354.2h0M457.7 358.6h0M461.9 371.5h0M462.2 371.8h0M458.4 359.7h0M453.7 354.4h0M479.1 337.8h0M454.6 353.3h0M463.2 346.8h0M438.5 362.1h0M465.6 334.4h0M451.2 351.2h0M462.6 351.6h0M464.9 365.7h0M452.0 345.7h0M469.9 356.2h0M471.3 350.8h0M454.3 367.5h0M459.8 369.0h0M475.8 351.6h0M452.4 354.7h0M478.7 340.8h0M478.1 348.6h0M461.9 353.2h0M481.8 358.7h0M459.1 359.6h0M459.1 362.7h0M457.5 356.9h0M448.2 367.3h0M472.9 338.6h0M456.4 354.5h0M489.3 353.6h0M465.2 352.2h0M458.8 353.8h0M466.5 367.9h0M482.3 348.6h0M472.6 348.2h0M481.5 342.0h0M461.4 374.2h0M451.1 344.6h0M466.3 345.3h0M466.2 359.0h0M450.8 336.4h0M458.1 341.7h0M439.7 372.2h0M482.7 349.5h0M467.4 360.0h0M463.6 353.2h0M463.4 339.8h0M448.5 355.6h0M466.0 360.9h0M462.5 356.4h0M457.1 357.2h0M462.8 370.1h0M465.7 351.2h0M448.4 356.5h0M487.4 346.9h0M464.2 343.7h0M445.3 368.8h0M467.0 348.8h0M449.5 378.4h0M479.3 353.3h0M478.8 346.6h0M445.0 376.5h0M486.1 355.8h0M459.2 357.4h0M467.9 356.9h0M467.3 371.0h0M451.9 359.4h0M462.5 356.0h0M474.5 351.7h0M448.0 359.5h0M471.3 355.7h0M478.9 351.5h0M463.0 364.3h0M466.6 343.5h0M473.7 357.4h0M477.4 361.4h0M473.6 375.1h0M476.3 360.9h0M475.8 350.3h0M476.5 347.0h0M455.1 357.1h0M466.1 351.2h0M448.2 361.9h0M459.4 350.0h0M477.0 344.9h0M452.4 354.6h0M465.7 362.1h0M473.7 368.2h0M460.0 359.6h0M451.3 355.8h0M459.1 363.7h0M465.5 350.0h0M469.4 359.8h0M464.1 362.1h0M459.2 355.2h0M457.5 353.9h0M457.6 356.3h0M446.3 363.3h0M477.0 361.2h0M469.1 349.8h0M463.2 356.0h0M439.3 356.0h0M469.2 358.8h0M462.0 352.9h0M476.9 345.4h0M449.0 364.1h0M455.7 355.9h0M471.4 340.4h0M468.1 345.9h0M464.9 357.9h0M454.0 351.9h0M471.0 362.8h0M446.0 356.4h0M453.4 356.4h0M481.4 353.0h0M489.9 351.4h0M455.8 366.5h0M468.9 351.5h0M458.1 367.5h0M461.8 353.1h0M467.6 353.2h0M457.2 355.9h0M459.4 359.4h0M453.7 359.1h0M460.2 363.3h0M476.1 348.6h0M457.0 365.6h0M456.6 344.0h0M454.0 359.4h0M453.5 362.8h0M467.3 355.1h0M470.9 342.3h0M469.6 342.8h0M462.6 350.6h0M461.9 355.5h0M458.4 376.2h0M468.2 353.3h0M467.2 351.4h0M444.1 350.8h0M476.6 365.7h0M474.2 354.3h0M465.7 360.1h0M449.9 383.2h0M470.1 362.4h0M463.5 359.3h0M444.6 379.9h0M464.2 350.0h0M455.5 364.1h0M467.3 346.0h0M471.5 355.4h0M451.2 370.3h0M454.1 341.6h0M484.7 344.0h0M470.5 345.4h0M458.9 374.6h0M450.2 372.1h0M475.1 338.0h0M455.6 362.8h0M457.6 383.4h0M459.5 376.2h0M469.2 374.6h0M466.3 384.2h0M452.4 397.7h0M458.7 377.3h0M448.6 398.6h0M462.5 377.6h0M452.6 377.0h0M463.4 387.3h0M458.4 373.1h0M451.7 393.7h0M479.3 375.2h0M447.8 388.1h0M450.9 391.5h0M455.2 383.7h0M450.3 374.8h0M452.3 384.0h0M447.6 384.7h0M464.0 374.8h0M448.5 394.9h0M464.9 371.6h0M446.8 380.6h0M439.7 385.2h0M447.0 383.7h0M453.4 378.3h0M439.4 408.0h0M461.0 391.1h0M455.2 392.5h0M452.8 385.5h0M453.3 382.5h0M448.3 384.8h0M458.1 379.3h0M460.2 387.3h0M447.0 379.4h0M468.4 389.0h0M448.9 380.8h0M448.1 400.4h0M453.1 384.9h0M444.8 402.4h0M440.3 392.3h0M465.3 368.8h0M454.2 387.2h0M471.9 368.7h0M450.8 392.0h0M467.7 382.5h0M455.1 374.7h0M449.8 394.8h0M445.1 380.0h0M464.8 375.2h0M462.2 380.7h0M449.6 383.0h0M451.0 386.5h0M450.7 377.3h0M469.5 378.4h0M444.1 381.3h0M457.2 365.7h0M456.8 395.7h0M462.5 377.3h0M458.5 392.3h0M456.8 385.2h0M450.0 385.9h0M463.0 379.6h0M456.1 371.4h0M454.8 379.1h0M460.2 373.7h0M449.1 382.5h0M443.7 384.1h0M436.1 386.7h0M447.5 397.9h0M443.4 388.9h0M455.5 383.9h0M449.5 382.7h0M478.9 383.4h0M456.5 389.1h0M453.9 385.2h0M449.3 383.9h0M469.6 373.5h0M466.7 387.9h0M445.0 385.5h0M449.3 384.3h0M445.9 384.6h0M460.7 380.1h0M467.0 378.8h0M463.9 382.0h0M454.6 374.6h0M466.0 378.5h0M455.6 393.0h0M455.6 382.1h0M455.9 385.1h0M458.8 388.7h0M438.6 381.4h0M458.7 388.4h0M460.3 388.3h0M449.1 386.5h0M446.7 380.8h0M452.2 380.3h0M466.7 393.7h0M451.3 398.1h0M458.7 399.6h0M464.5 375.8h0M449.6 379.8h0M466.9 377.1h0M468.0 368.3h0M460.5 380.1h0M458.0 381.6h0M449.5 392.5h0M455.0 385.7h0M464.5 391.3h0M469.2 383.3h0M448.9 386.9h0M453.9 401.5h0M467.4 375.9h0M467.0 384.2h0M463.9 378.7h0M465.2 383.0h0M457.7 384.0h0M454.7 370.2h0M461.3 373.9h0M468.0 372.6h0" stroke="#FF1A1A" stroke-width="0.55" stroke-linecap="round" fill="none" opacity="0.8"/>
<line x1="461.3" y1="323.7" x2="461.3" y2="410.4" stroke="#444" stroke-width="0.7"/>
<line x1="422.4" y1="372.5" x2="518.6" y2="372.5" stroke="#444" stroke-width="0.7"/>
<rect x="422.4" y="323.7" width="96.2" height="86.7" fill="none" stroke="#8E8E8E" stroke-width="0.7"/>
<rect x="535.5" y="323.7" width="97.2" height="86.0" fill="#FFFFFF"/>
<path d="M567.6 398.5h0M624.7 341.7h0M617.0 364.1h0M545.6 342.6h0M616.4 338.6h0M586.4 372.6h0M627.8 408.9h0M602.2 367.1h0M612.3 329.7h0M602.7 374.4h0M551.1 363.9h0M589.0 324.8h0M589.0 358.7h0M545.0 388.4h0M615.6 394.1h0M578.5 399.9h0M618.1 346.6h0M554.9 369.8h0M592.9 387.6h0M539.6 364.8h0M602.4 382.7h0M592.9 346.3h0M618.7 388.8h0M619.5 389.3h0M587.8 324.1h0M564.8 405.8h0M610.6 350.0h0M629.8 392.3h0M581.7 404.9h0M543.8 343.5h0M582.8 339.3h0M555.4 327.1h0M538.0 349.6h0M604.8 404.6h0M591.6 385.1h0M609.0 364.3h0M597.5 376.5h0M616.8 355.5h0M618.8 366.5h0M557.6 374.9h0M541.7 341.5h0M553.7 346.1h0M624.0 341.5h0M567.2 383.0h0M548.0 369.7h0M551.8 368.6h0M623.4 326.3h0M616.7 327.8h0M630.2 341.6h0M610.2 325.9h0M544.0 350.7h0M590.3 325.5h0M544.1 346.9h0M627.2 362.1h0M577.7 349.9h0M551.7 349.5h0M598.2 329.8h0M623.4 324.3h0M586.9 330.1h0M603.0 333.0h0M605.3 327.5h0M556.2 335.7h0M611.3 374.2h0M586.8 356.7h0M570.9 386.1h0M549.3 358.1h0M597.2 357.9h0M598.6 335.8h0M628.2 397.0h0M626.2 405.3h0M595.4 408.6h0M604.1 399.7h0M600.1 400.0h0M584.2 385.3h0M577.8 379.1h0M597.0 402.8h0M610.3 385.2h0M590.3 381.4h0M607.9 386.0h0M594.8 376.4h0M590.9 381.3h0M598.5 391.0h0M604.6 401.0h0M583.6 399.0h0M599.2 402.6h0M576.2 405.2h0M595.6 404.5h0M602.2 377.6h0M603.9 402.1h0M592.9 407.8h0M609.6 406.5h0M605.6 390.0h0M584.7 401.0h0M608.0 388.2h0M597.4 390.2h0M604.4 376.4h0M611.9 400.1h0M607.5 377.0h0M585.0 408.6h0M604.7 386.1h0M605.3 400.8h0M598.6 386.0h0M609.3 398.2h0M580.6 391.7h0M598.1 402.4h0M589.3 397.3h0M608.8 406.0h0M604.8 381.2h0M592.2 389.1h0M584.7 396.1h0M582.5 403.4h0M601.5 394.3h0M595.1 406.1h0M609.5 395.0h0M592.3 389.2h0M606.8 392.2h0M599.7 377.8h0M604.9 407.4h0M596.1 377.6h0M576.6 382.7h0" stroke="#FF4040" stroke-width="0.5" stroke-linecap="round" fill="none" opacity="0.5"/>
<ellipse cx="548.5" cy="398" rx="12" ry="6.0" fill="#FF1010" transform="rotate(-40 548.5 398)" filter="url(#bl0)" opacity="0.9"/>
<path d="M554.9 390.5h0M583.5 372.2h0M554.6 395.8h0M543.4 395.1h0M553.8 388.8h0M557.2 387.9h0M549.1 394.1h0M555.5 383.6h0M551.4 399.7h0M553.1 384.3h0M561.7 380.5h0M560.3 384.6h0M541.9 391.7h0M560.2 408.2h0M552.0 407.6h0M561.1 383.2h0M566.9 393.9h0M546.0 394.5h0M562.4 388.5h0M571.7 381.5h0M540.6 403.3h0M543.8 407.6h0M555.5 387.7h0M547.1 406.2h0M553.0 404.1h0M541.2 400.9h0M541.7 393.7h0M582.4 383.4h0M548.9 403.7h0M559.2 385.2h0M549.0 398.9h0M553.6 389.7h0M542.4 400.0h0M550.7 402.2h0M552.9 395.6h0M545.4 395.2h0M548.8 394.3h0M557.1 385.5h0M552.7 385.5h0M539.1 403.3h0M564.5 382.9h0M538.7 407.6h0M543.1 395.5h0M546.9 383.3h0M561.4 387.4h0M543.1 395.9h0M562.7 396.5h0M546.2 401.7h0M575.1 380.5h0M550.1 399.1h0M555.4 397.5h0M552.6 389.7h0M552.2 397.7h0M545.9 400.4h0M548.9 408.1h0M561.7 378.8h0M559.9 389.4h0M551.4 392.9h0M558.4 398.1h0M544.6 391.2h0M554.0 398.5h0M552.2 397.1h0M546.4 394.6h0M556.5 382.6h0M562.0 389.2h0M548.3 395.8h0M549.0 396.8h0M550.7 394.5h0M552.0 389.1h0M546.0 398.2h0M551.0 394.0h0M546.3 407.2h0M564.5 397.1h0M556.1 384.1h0M545.4 399.3h0M552.5 398.6h0M552.2 385.6h0M538.7 390.8h0M556.0 389.9h0M547.6 389.7h0M545.7 394.9h0M553.6 395.1h0M548.6 401.2h0M561.5 395.0h0M554.3 383.7h0M572.7 379.6h0M538.2 391.8h0M551.1 391.5h0M556.9 392.2h0M556.0 386.1h0M536.4 397.7h0M561.3 381.5h0M559.0 379.5h0M543.8 395.1h0M552.8 399.6h0M572.3 383.9h0M551.3 396.5h0M551.2 398.4h0M545.1 402.5h0M559.5 396.3h0M546.2 403.0h0M550.5 388.8h0M557.9 387.2h0M573.5 381.2h0M544.9 399.6h0M557.5 394.0h0M551.4 398.9h0M580.9 378.1h0M550.9 391.3h0M536.9 408.7h0M547.8 397.6h0M550.0 402.8h0M557.8 383.6h0M541.0 406.4h0M565.1 387.0h0M549.7 384.4h0M549.2 401.8h0M554.6 392.2h0M560.0 395.1h0M549.2 390.7h0M540.2 406.1h0M549.2 395.3h0M558.2 383.6h0M551.8 400.1h0M550.1 402.9h0M545.2 398.0h0M558.0 405.9h0M549.3 390.5h0M537.3 404.1h0M538.3 400.7h0M556.9 400.7h0M544.3 397.7h0M548.3 399.5h0M549.5 393.7h0M543.1 397.2h0M549.6 391.9h0M539.5 392.7h0M553.6 397.2h0M546.8 407.2h0M551.5 395.7h0M570.1 395.6h0M545.9 399.0h0M559.9 392.3h0M546.2 399.8h0M562.0 390.7h0M555.2 400.5h0M540.5 407.7h0M544.3 397.8h0M565.5 397.8h0M555.8 392.3h0M568.5 386.9h0M543.0 396.3h0M541.4 408.8h0M560.2 402.3h0M549.6 397.5h0M549.4 405.3h0M569.2 394.2h0M557.8 384.8h0M558.1 381.8h0M545.6 398.3h0M566.4 376.6h0M544.3 403.1h0M564.0 389.2h0M552.9 386.9h0M553.7 403.9h0M550.0 391.0h0M554.3 403.9h0M568.0 384.7h0M551.7 408.8h0M546.8 399.9h0M555.3 391.9h0M557.0 404.0h0M548.7 385.6h0M552.3 405.4h0M546.2 391.1h0M561.5 390.8h0M554.6 397.3h0M549.5 398.4h0M554.5 388.0h0M558.1 380.9h0M569.6 380.6h0M550.1 386.3h0M555.1 385.3h0M556.1 391.5h0M552.4 409.2h0M551.2 391.1h0M550.2 398.9h0M555.9 398.6h0M548.1 399.9h0M545.0 394.8h0M555.4 385.2h0M550.0 401.2h0M558.4 393.6h0M559.0 401.8h0M548.0 407.9h0M552.0 397.3h0M552.0 402.0h0M554.3 389.3h0M554.5 396.8h0M561.0 407.8h0M555.3 388.9h0M561.7 389.0h0M546.5 396.8h0M564.5 383.8h0M538.5 392.0h0M542.0 403.3h0M546.2 398.5h0M544.5 399.9h0M551.0 397.3h0M553.7 395.1h0M544.2 399.1h0M540.0 400.9h0M553.6 397.1h0M537.1 399.6h0M542.8 392.7h0M548.9 395.9h0M552.7 407.7h0M549.5 399.0h0M555.5 393.6h0M548.1 401.5h0M549.6 392.5h0M553.1 404.0h0M554.2 378.9h0M550.8 401.0h0M549.8 399.2h0M555.9 405.0h0M557.2 388.9h0M566.4 388.1h0M564.1 380.9h0M542.7 409.2h0M545.1 386.2h0M549.2 390.5h0M548.4 398.7h0M541.2 404.1h0M549.9 392.4h0M548.9 404.4h0M538.4 406.0h0M562.1 379.9h0M537.0 403.2h0M538.6 399.0h0M546.6 404.0h0M547.8 389.7h0M558.4 381.1h0M561.9 382.2h0M542.0 399.1h0M564.0 385.5h0M544.5 387.0h0M550.0 393.6h0M545.2 393.7h0M545.8 404.7h0M556.9 391.7h0M555.2 397.1h0M548.2 397.0h0M555.0 393.6h0M537.8 384.0h0M546.1 389.1h0M566.3 392.8h0M554.5 394.5h0M541.6 386.2h0M565.7 381.2h0M559.0 397.7h0M536.2 403.7h0M557.8 400.2h0M552.4 399.0h0M542.3 399.7h0M556.0 398.6h0M547.5 401.8h0M551.5 400.2h0M553.5 404.9h0M538.6 397.1h0M559.3 382.4h0M559.9 393.7h0M536.2 405.3h0M547.0 397.7h0M539.7 406.3h0M548.7 388.1h0M552.5 395.8h0M536.8 406.6h0M562.1 392.2h0M539.1 398.8h0M553.2 396.8h0M558.6 389.6h0M555.4 386.0h0M566.0 381.1h0M540.9 398.9h0M550.6 399.5h0M557.1 382.9h0M547.8 403.6h0M562.9 391.4h0M548.5 387.5h0M540.1 391.2h0M550.3 406.0h0M563.0 382.6h0M561.6 397.3h0M536.4 395.8h0M536.8 389.3h0M556.3 389.7h0M548.6 397.3h0M554.8 391.5h0M543.1 406.8h0M547.4 400.2h0M545.0 400.0h0M538.1 406.7h0M552.5 402.4h0M540.2 396.4h0M548.4 380.5h0M555.4 390.2h0M547.0 398.8h0M544.4 392.6h0M552.8 385.7h0M550.6 393.3h0M541.6 397.2h0M551.3 391.4h0M565.2 389.8h0M550.7 403.1h0M553.0 379.4h0M545.5 401.9h0M555.0 385.3h0M559.1 380.4h0M564.0 387.0h0M550.5 393.0h0M546.4 407.2h0M540.4 403.4h0M558.3 392.4h0M553.5 387.2h0M540.6 405.2h0M553.4 401.5h0M551.7 390.0h0M536.8 406.6h0M556.2 384.4h0M538.4 396.7h0M575.7 371.9h0M565.1 392.5h0M548.0 401.9h0M571.3 388.7h0M556.0 384.5h0M545.3 399.8h0M560.7 380.7h0M561.1 396.0h0M557.5 389.4h0M548.2 403.0h0M549.6 399.2h0M544.4 396.0h0M542.8 393.4h0M553.0 381.8h0M552.2 390.2h0M548.2 383.5h0M551.1 395.3h0M566.9 390.0h0M553.8 392.0h0M555.5 399.7h0M564.4 388.7h0M555.0 379.1h0M567.2 398.0h0M549.8 391.3h0M555.2 376.1h0M556.5 380.8h0M550.6 385.9h0M564.0 384.8h0M546.2 399.0h0M569.1 392.7h0M552.5 392.2h0M564.7 385.0h0M554.6 408.3h0M539.6 407.7h0M567.0 385.7h0M557.9 397.6h0M543.9 401.6h0M555.9 400.0h0M556.4 392.0h0M568.2 392.5h0M553.7 389.8h0M556.8 370.8h0M543.6 404.6h0M542.3 393.7h0M556.5 403.9h0M556.5 398.4h0M558.9 389.4h0M550.5 391.2h0M558.0 397.0h0M551.2 395.8h0M557.2 391.6h0M548.0 383.6h0M549.5 384.1h0M557.5 389.5h0M544.2 391.9h0M558.7 386.3h0M541.6 388.6h0M563.4 381.4h0M550.6 406.1h0M547.4 379.0h0M557.9 402.7h0M547.7 392.9h0M562.5 392.6h0M542.7 397.6h0M545.9 396.1h0M539.4 400.2h0M551.8 382.7h0M562.9 390.1h0M561.8 393.2h0M539.5 392.9h0M561.7 386.7h0M559.9 396.4h0M541.5 403.4h0M548.2 390.4h0M545.2 400.8h0M560.3 398.3h0M565.4 395.5h0M549.5 399.2h0M550.6 393.7h0M553.3 404.8h0M564.7 384.8h0M552.1 408.6h0M560.2 386.0h0M559.6 391.3h0M551.0 394.9h0M540.5 396.3h0M546.6 390.7h0M554.0 390.8h0M546.5 402.3h0M544.5 398.4h0M546.9 404.4h0M552.3 393.0h0M552.3 398.6h0M540.9 389.4h0M566.4 383.6h0M554.8 385.5h0M555.1 388.9h0M548.5 393.8h0M540.1 396.7h0M543.8 404.2h0M562.6 387.3h0M554.2 390.8h0M563.8 386.8h0M551.0 387.0h0M564.5 389.8h0M545.1 394.9h0M550.4 385.9h0M549.5 390.3h0M547.6 407.3h0M536.0 393.4h0M561.3 381.7h0M560.7 387.4h0M537.5 393.8h0M551.2 397.6h0M544.9 397.5h0M544.6 399.7h0M551.8 392.9h0M546.2 395.3h0M550.6 387.8h0M564.6 392.5h0M536.5 409.0h0M540.6 408.2h0M565.2 394.1h0M555.6 379.8h0M546.9 386.1h0M557.8 395.8h0M553.0 400.1h0M542.1 398.4h0M551.7 394.4h0M539.0 398.1h0M541.3 408.8h0M553.5 388.6h0M545.9 395.6h0M545.1 402.8h0M550.7 378.6h0M554.4 384.8h0M542.2 390.7h0M546.0 398.0h0M546.4 396.5h0M549.9 399.4h0M559.7 393.5h0M551.3 396.3h0M543.7 403.1h0M548.3 401.7h0M550.8 400.0h0M539.0 405.1h0M543.1 402.6h0M555.8 383.6h0M556.9 396.7h0M545.8 406.1h0M548.5 401.7h0M541.7 386.2h0M553.3 390.3h0M536.3 404.3h0M541.1 404.1h0M538.7 396.6h0M553.5 395.4h0M551.8 396.6h0M551.2 397.0h0M564.4 391.2h0M561.6 398.5h0M545.1 403.9h0M559.8 382.1h0M543.5 389.4h0M569.9 382.2h0M552.7 394.5h0M550.4 400.2h0M556.3 400.2h0M538.1 405.5h0M554.9 382.1h0M553.7 386.1h0M564.1 394.5h0M556.1 390.6h0M542.0 397.1h0M553.0 393.1h0M543.7 402.2h0M546.5 408.9h0M557.8 389.3h0M559.2 386.2h0M563.1 385.8h0M559.7 374.2h0M553.9 399.8h0M544.9 392.9h0M550.1 397.4h0M554.5 396.3h0M546.5 408.1h0M556.6 396.8h0M560.6 391.2h0M538.4 399.7h0M540.6 395.5h0M539.0 390.9h0M551.0 394.7h0M557.7 385.3h0M565.0 382.7h0M548.8 397.4h0M567.0 389.8h0M553.8 392.8h0M542.0 391.7h0M548.2 394.5h0M562.8 381.5h0M562.3 386.3h0M550.8 400.5h0M567.4 384.2h0M553.5 391.4h0M551.7 393.5h0M551.0 396.6h0M555.5 395.8h0M541.0 400.0h0M563.5 381.7h0M554.6 393.4h0M555.6 406.2h0M548.7 381.8h0M555.1 381.4h0M551.1 381.1h0M555.1 384.5h0M564.1 390.1h0M541.9 384.9h0M555.5 387.3h0M558.4 383.9h0M544.5 404.2h0M542.4 402.4h0M546.7 392.2h0M542.1 407.2h0M563.2 382.3h0M542.0 399.8h0M559.7 388.6h0M554.9 405.8h0M550.4 394.9h0M555.3 386.2h0M554.9 394.6h0M558.1 391.8h0M565.6 389.2h0M560.2 394.1h0M542.3 394.8h0M553.0 402.2h0M541.6 405.6h0M542.9 397.9h0M536.7 392.1h0M561.3 384.0h0M551.1 395.2h0M563.8 383.4h0M555.6 396.4h0M559.7 395.1h0M555.7 389.4h0M550.6 385.7h0M554.5 401.2h0M564.2 387.8h0M555.1 387.4h0M557.2 388.5h0M548.2 407.6h0M552.6 395.9h0M541.2 403.2h0M555.9 395.3h0M556.9 393.6h0M563.0 394.7h0M556.3 383.4h0M557.6 399.9h0M557.5 387.3h0M550.5 394.6h0M544.5 384.0h0M543.0 402.2h0M554.8 402.5h0M550.2 393.5h0M549.0 394.8h0M537.6 395.8h0M558.6 382.5h0M538.5 395.2h0M539.4 393.3h0M536.9 392.1h0M553.1 395.6h0M562.7 388.5h0M552.0 390.8h0M555.3 384.9h0M546.3 394.7h0M560.2 386.9h0M557.5 401.2h0M564.4 387.2h0M551.5 390.9h0M554.2 399.0h0M560.4 398.1h0M550.5 386.9h0M536.4 390.1h0M550.8 387.8h0M553.6 389.5h0M551.0 391.8h0M551.1 398.5h0M546.4 397.2h0M545.5 396.5h0M542.1 393.8h0M551.3 399.0h0M548.6 391.6h0M556.4 381.4h0M552.5 380.2h0M546.9 389.8h0M547.3 389.8h0M548.9 396.1h0M563.1 395.3h0M555.3 393.4h0M557.4 377.0h0M564.4 381.2h0M552.7 404.4h0M547.3 397.7h0M562.1 395.4h0M543.7 406.2h0M553.1 391.7h0M573.2 395.7h0M559.6 393.1h0M543.7 399.0h0M548.9 400.1h0M550.5 389.9h0M544.9 391.0h0M547.5 397.8h0M551.6 393.5h0M551.5 393.4h0M547.3 404.2h0M543.9 396.8h0M558.7 388.4h0M560.2 400.7h0M540.0 394.7h0M565.3 378.1h0M552.3 392.1h0M546.9 402.8h0M563.8 385.2h0M544.4 395.3h0M537.6 395.3h0M566.3 392.7h0M538.7 398.8h0M539.5 395.3h0M555.7 394.9h0M558.4 388.9h0M558.7 399.6h0M555.9 393.4h0M548.3 397.6h0M558.4 384.1h0M559.6 380.7h0M559.6 379.1h0M542.5 385.3h0M554.2 389.8h0M540.7 393.2h0M548.8 398.6h0M550.3 396.1h0M559.6 395.8h0M541.8 406.8h0M561.2 388.6h0M561.4 381.2h0M552.6 374.4h0M560.3 395.4h0M554.2 387.5h0M545.3 399.2h0M571.5 385.8h0M542.7 387.5h0M556.3 384.0h0M552.9 381.2h0M543.1 404.1h0M557.8 397.9h0M551.3 392.9h0M555.5 389.4h0M543.8 400.8h0M563.7 386.9h0M558.4 396.5h0M551.7 386.5h0M550.3 399.3h0M567.1 383.2h0M544.2 401.4h0M546.5 388.6h0M564.3 405.0h0M546.6 402.7h0M559.2 387.1h0M544.7 395.2h0M554.4 393.1h0M564.9 394.2h0M547.3 405.4h0M551.6 396.8h0M562.9 383.9h0M541.1 392.4h0M568.3 385.3h0M553.0 388.9h0M556.4 373.7h0M567.7 397.2h0M566.4 386.0h0M555.3 390.7h0M549.7 396.7h0M548.0 397.0h0M545.7 399.7h0M561.3 397.9h0M553.7 397.5h0M553.0 401.2h0M541.1 393.5h0M536.6 400.9h0M555.5 403.8h0M555.2 392.9h0M537.4 401.5h0M567.5 391.2h0M538.6 402.3h0M549.0 398.0h0M541.5 407.7h0M542.7 386.6h0M552.5 403.3h0M560.6 393.0h0M554.0 394.0h0M565.3 388.7h0M567.2 394.7h0M545.2 395.6h0M552.8 392.8h0M548.0 399.2h0M568.8 375.5h0M558.6 404.7h0M557.2 396.3h0M536.1 405.0h0M547.4 398.7h0M556.3 391.5h0M554.3 404.1h0M566.4 399.0h0M543.8 395.2h0M556.5 402.7h0M548.2 394.8h0M552.7 389.2h0M546.4 396.2h0M547.3 383.0h0M549.5 384.1h0M557.2 384.4h0M552.5 388.3h0M557.3 394.3h0M548.6 390.0h0M544.8 382.5h0M544.8 408.1h0M552.7 401.6h0M556.5 397.5h0M560.3 391.2h0M550.0 390.7h0M563.8 401.9h0M549.8 401.1h0M553.1 395.2h0M556.0 381.4h0M566.1 378.5h0M557.5 403.0h0M550.6 390.9h0M565.8 372.0h0M554.5 397.0h0M556.9 393.4h0M555.0 397.6h0M537.8 392.4h0M566.1 382.8h0M544.6 393.8h0M548.4 397.7h0M550.5 395.6h0M546.0 389.2h0M556.2 395.8h0M543.3 398.0h0M546.4 387.8h0M549.5 392.1h0M566.1 401.5h0M545.1 391.3h0M553.9 392.6h0M546.2 396.4h0M551.5 399.9h0M549.7 397.8h0M562.1 397.1h0M559.9 396.0h0M564.3 381.5h0M566.1 390.3h0M539.3 399.7h0M547.5 377.9h0M559.1 398.4h0M557.3 380.0h0M549.7 387.4h0M550.1 399.3h0M552.9 390.5h0M559.0 391.8h0M557.3 394.3h0M545.1 393.0h0M552.9 386.9h0M555.9 379.3h0M555.4 402.0h0M546.4 394.2h0M569.5 383.3h0M556.7 390.7h0M567.7 392.7h0M541.1 395.2h0M562.5 400.5h0M552.4 400.2h0M543.8 393.0h0M536.6 400.9h0M560.2 390.0h0M548.4 388.4h0M549.5 393.7h0M549.6 380.7h0M554.3 404.4h0M544.9 400.9h0M562.7 389.3h0M545.7 390.9h0M545.6 395.4h0M551.8 382.4h0M547.1 398.4h0M559.6 387.8h0M552.2 396.4h0M537.6 404.8h0M546.0 402.2h0M561.1 395.8h0M542.7 392.5h0M541.3 405.7h0M566.0 401.1h0M552.4 390.0h0M554.4 382.0h0M566.7 384.9h0M550.6 388.9h0M558.6 397.7h0M556.2 391.8h0M544.8 392.4h0M549.8 389.3h0M553.6 393.5h0M541.0 394.3h0M561.1 385.8h0M540.8 402.9h0M548.5 404.7h0M543.7 391.9h0M546.9 390.3h0M541.7 396.8h0M553.3 394.4h0M555.1 397.5h0M561.8 394.4h0M543.4 404.0h0M549.5 392.1h0M560.7 380.1h0M557.4 403.6h0M551.1 394.5h0M548.8 407.7h0M550.6 399.8h0M552.8 400.2h0M544.4 390.8h0M549.5 405.1h0M564.1 370.3h0M545.6 403.4h0M539.9 397.5h0M539.3 401.9h0M555.1 396.3h0M544.2 398.5h0M549.0 397.2h0M549.8 399.9h0M556.3 395.6h0M550.4 401.5h0M554.9 393.6h0M536.5 392.4h0M565.7 383.5h0M548.5 383.9h0M549.3 392.7h0M554.1 408.1h0M558.5 405.0h0M553.5 389.8h0M557.8 391.2h0M558.3 381.7h0M549.7 400.0h0M552.4 392.4h0M553.3 393.0h0M550.3 404.1h0M550.9 402.1h0M558.2 388.5h0M547.9 397.7h0M549.4 386.7h0M554.3 382.6h0M549.3 397.7h0M549.2 404.4h0M547.3 404.3h0M554.4 398.1h0M560.6 379.8h0M564.4 389.6h0M553.1 400.0h0M540.0 404.2h0M552.2 400.1h0M562.3 377.1h0M537.7 384.6h0M569.9 383.6h0M550.3 397.2h0M563.2 400.8h0M547.7 394.8h0M572.2 376.6h0M560.2 375.3h0M554.8 385.4h0M555.8 401.4h0M562.6 387.9h0M552.7 399.2h0M542.3 407.6h0M547.1 398.7h0M556.5 389.6h0M543.1 393.4h0M552.6 391.2h0M546.3 398.0h0M543.8 400.9h0M551.6 386.5h0M555.4 396.0h0M561.3 393.3h0M556.1 376.5h0M549.4 392.9h0M544.4 395.8h0M555.2 394.3h0M549.9 392.8h0M553.3 387.6h0M558.8 396.4h0M553.6 383.4h0M553.2 397.0h0M550.7 384.7h0M555.2 389.8h0M554.5 404.7h0M551.6 398.5h0M547.5 398.1h0M542.4 394.9h0M536.3 393.9h0M574.5 382.6h0M555.6 386.1h0M561.0 399.2h0M546.4 397.6h0M540.0 398.2h0M548.9 395.7h0M540.9 400.9h0M554.7 381.8h0M543.5 390.7h0M560.5 402.6h0M560.0 408.4h0M541.7 401.2h0M546.3 404.7h0M546.0 399.0h0M549.5 397.5h0M546.4 397.3h0M552.2 395.8h0M548.8 396.8h0M539.5 406.2h0M559.1 393.6h0M552.4 402.4h0M551.6 402.0h0M551.5 393.3h0M562.9 376.4h0M536.5 396.5h0M545.7 390.8h0M554.8 395.3h0M537.1 399.0h0M553.3 404.0h0M556.5 407.0h0M563.8 388.8h0M553.0 388.8h0M559.0 387.0h0M558.1 388.9h0M555.4 386.9h0M551.1 378.4h0M542.3 384.1h0M550.3 384.7h0M543.6 390.4h0M551.8 396.0h0M553.8 390.7h0M547.5 400.5h0M554.2 397.5h0M546.3 397.8h0M554.1 383.7h0M556.9 394.1h0M539.3 383.4h0M550.0 396.8h0M556.2 401.5h0M546.7 408.6h0M577.7 380.7h0M564.5 389.8h0M545.5 403.0h0M544.4 393.4h0M545.9 403.3h0M574.2 388.0h0M556.2 374.4h0M548.1 397.2h0M557.5 392.7h0M544.3 401.6h0M566.4 378.1h0M545.3 402.3h0M548.4 403.9h0M548.3 398.9h0M552.4 382.6h0M558.0 389.1h0M547.3 391.2h0M544.9 391.3h0M555.3 389.0h0M554.9 399.0h0M555.8 393.0h0M553.1 384.8h0M548.2 383.7h0M542.4 395.9h0M553.6 387.6h0M552.5 391.8h0M542.4 400.7h0M542.7 403.2h0M559.3 395.6h0M558.4 398.0h0M539.1 402.2h0M549.9 394.5h0M560.0 391.2h0M566.8 388.2h0M547.0 392.8h0M543.5 399.4h0M549.1 406.6h0M547.5 398.2h0M563.3 388.5h0M553.1 383.8h0M539.8 402.3h0M536.7 406.7h0M541.4 400.6h0M554.5 400.3h0M541.5 404.5h0M560.4 390.0h0M557.2 386.1h0M546.1 387.2h0M560.5 384.9h0M562.9 391.3h0M569.4 373.5h0M543.1 395.0h0M547.4 395.2h0M547.9 383.4h0M551.6 407.8h0M560.9 377.2h0M553.0 382.7h0M540.6 403.8h0M545.1 401.9h0M547.8 398.3h0M540.2 407.4h0M555.1 408.2h0M560.5 374.8h0M556.4 393.5h0M559.7 392.9h0M559.2 388.9h0M555.4 384.7h0M562.6 391.3h0M537.2 398.4h0M557.4 395.0h0M546.4 405.4h0M551.2 386.2h0M542.0 393.1h0M549.3 398.9h0M563.9 377.5h0M543.6 390.3h0M550.5 390.0h0M562.1 389.1h0M550.2 399.6h0M549.8 393.3h0M556.7 404.7h0M545.1 394.4h0M571.6 379.1h0M552.0 399.6h0M542.3 403.8h0M557.5 394.2h0M545.9 392.8h0M561.3 390.5h0M539.2 394.8h0M555.9 383.2h0M538.1 400.6h0M564.7 394.0h0M558.2 398.8h0M550.3 397.1h0M549.7 385.7h0M551.9 404.6h0M552.4 390.9h0M554.6 407.3h0M567.6 380.5h0M551.2 400.9h0M554.7 395.3h0M559.5 396.5h0M550.4 394.9h0M561.3 401.0h0M548.8 390.2h0M556.1 389.7h0M557.6 397.3h0M561.3 402.9h0M555.1 376.2h0M538.4 396.8h0M543.5 402.2h0M546.8 394.6h0M567.1 402.9h0M544.9 404.3h0M542.9 396.8h0M558.7 401.9h0M542.6 400.7h0M546.6 407.2h0M571.4 388.0h0M562.9 396.0h0M562.7 386.4h0M562.2 397.8h0M563.6 404.4h0M547.4 389.2h0M549.2 387.9h0M546.5 408.8h0M550.5 387.5h0M547.6 393.4h0M555.9 375.2h0M558.6 387.0h0M542.6 389.4h0M554.5 395.3h0M542.2 392.0h0M555.4 389.6h0M554.4 391.2h0M550.8 389.5h0M547.1 389.9h0M558.9 384.6h0M549.2 391.9h0M553.4 388.1h0M548.6 390.8h0M556.2 392.8h0M550.1 395.9h0M552.4 396.4h0M557.7 398.9h0M562.5 396.2h0M553.9 400.7h0M540.2 405.2h0M548.4 397.9h0M541.7 394.1h0M561.2 396.1h0M562.7 385.5h0M553.0 405.0h0M563.9 390.4h0M550.8 395.4h0M546.7 398.0h0M552.7 388.0h0M558.1 396.9h0M540.5 395.9h0M542.2 390.7h0M562.5 384.8h0M545.1 401.6h0M564.5 384.2h0M546.1 396.5h0M554.8 390.3h0M538.6 399.3h0M545.2 403.3h0M540.3 396.2h0M549.9 402.3h0M542.1 402.4h0M563.2 398.3h0M543.0 397.0h0M544.2 399.1h0M554.7 406.5h0M555.8 393.4h0M540.8 392.9h0M553.3 386.1h0M553.2 405.6h0M560.7 391.5h0M541.9 404.4h0M568.6 384.1h0M562.8 382.0h0M549.8 378.8h0M565.7 379.8h0M548.4 398.9h0M549.9 397.9h0M553.6 388.9h0M544.5 395.0h0M550.1 390.6h0M562.7 391.8h0M558.9 386.4h0M536.0 400.3h0M542.0 399.8h0M542.6 404.9h0M557.6 394.4h0M563.2 394.7h0M541.7 406.0h0M544.8 408.9h0M550.0 392.5h0M568.6 385.1h0M568.0 405.6h0M550.5 401.3h0M563.1 387.9h0M547.9 396.1h0M549.4 393.7h0M569.6 383.1h0M548.1 390.2h0M545.7 396.1h0M550.8 396.6h0M559.5 388.9h0M559.8 378.9h0M536.3 398.1h0M546.4 395.6h0M549.9 388.2h0M572.3 395.5h0M550.7 391.7h0M548.6 396.6h0M550.6 388.4h0M540.9 407.7h0M549.4 393.8h0M542.1 397.7h0M539.6 392.1h0M554.6 400.2h0M540.5 402.8h0M554.4 396.2h0M539.5 403.7h0M552.0 388.4h0M556.2 390.4h0M545.3 402.3h0M556.8 395.6h0M548.6 400.9h0M561.2 399.6h0M550.7 397.1h0M565.9 397.2h0M545.7 402.7h0M545.4 404.5h0M540.2 383.0h0M540.0 389.6h0M550.6 403.6h0M569.1 380.4h0M558.5 381.4h0M550.0 402.3h0M542.4 398.4h0M545.8 400.1h0M549.8 378.6h0M537.2 389.6h0M558.0 385.1h0M565.0 386.1h0M545.1 402.9h0M555.4 402.1h0M553.0 387.7h0M540.8 399.3h0M551.7 385.7h0M553.7 392.0h0M557.2 387.8h0M548.3 388.5h0M555.6 408.1h0M545.6 396.4h0M540.0 397.4h0M560.4 385.8h0M537.2 399.0h0M560.6 387.6h0M559.1 384.8h0M553.9 398.9h0M550.7 403.6h0M553.6 402.7h0M554.5 395.2h0M560.6 390.4h0M557.0 396.0h0M557.4 397.4h0M549.7 394.7h0M553.6 408.4h0M573.7 381.6h0M559.2 392.9h0M561.3 380.5h0M555.2 400.5h0M549.6 405.4h0M566.4 385.3h0M556.5 394.0h0M551.4 383.6h0M545.7 407.6h0M558.0 391.1h0M571.8 396.2h0M561.1 376.1h0M552.4 400.7h0M557.5 379.1h0M548.0 384.9h0M549.3 394.8h0M551.9 401.6h0M552.4 388.3h0M537.7 397.5h0M544.9 403.3h0M551.4 402.7h0M545.4 399.4h0M551.0 389.2h0M549.8 397.3h0M552.8 405.3h0M543.7 394.9h0M565.1 381.2h0M540.2 385.9h0M548.9 387.9h0M559.9 386.5h0M547.8 400.6h0M559.0 397.3h0M546.5 390.4h0M548.0 391.6h0M580.8 372.4h0M560.4 397.0h0M548.4 401.7h0M564.4 390.4h0M543.2 401.0h0M550.6 406.2h0M548.9 392.7h0M542.9 388.3h0M550.7 393.3h0M559.3 384.5h0M541.9 404.5h0M551.4 389.5h0M553.7 394.6h0M550.8 395.8h0M544.8 395.6h0M544.3 395.2h0M555.7 398.7h0M561.8 390.7h0M559.9 396.4h0M556.3 395.0h0M546.5 396.4h0M538.5 407.6h0M536.2 392.9h0M539.8 385.1h0M557.8 398.1h0M549.2 396.2h0M557.1 391.3h0M552.6 407.7h0M558.2 400.2h0M556.2 393.8h0M558.1 394.1h0M551.0 401.3h0M549.3 399.3h0M556.7 391.6h0M549.1 385.7h0M546.9 394.7h0M541.3 402.1h0M547.2 383.1h0M545.3 389.7h0M543.4 400.7h0M548.9 397.4h0M542.8 399.9h0M562.5 374.4h0M563.6 391.2h0M551.6 406.6h0M564.4 374.9h0M553.5 400.1h0M561.1 390.1h0M553.0 383.4h0M541.7 396.2h0M546.1 390.0h0M545.2 408.2h0M550.2 377.9h0M538.6 397.5h0M573.1 386.2h0M567.7 385.8h0M562.9 387.6h0M562.5 388.4h0M542.6 397.3h0M557.3 381.1h0M542.2 393.6h0M536.8 393.4h0M553.0 394.1h0M558.2 385.4h0M552.4 399.2h0M558.8 397.5h0M557.2 391.0h0M565.8 378.6h0M554.4 388.3h0M553.3 409.1h0M549.8 389.4h0M551.0 390.5h0M563.4 384.1h0M537.6 393.7h0M549.0 394.2h0M557.6 370.7h0M572.4 389.6h0M566.6 376.3h0M551.0 382.7h0M570.8 393.2h0M554.3 408.5h0M561.1 386.9h0M554.9 383.0h0M549.4 388.8h0M536.5 398.5h0M550.1 391.7h0M562.9 387.5h0M540.6 397.9h0M557.1 397.3h0M548.9 393.8h0M539.5 400.8h0M567.8 374.5h0M554.6 378.3h0M540.4 388.0h0M559.7 379.1h0M554.7 403.0h0M561.7 388.9h0M536.9 409.1h0M549.6 399.9h0M561.3 405.4h0M544.5 388.7h0M564.8 391.6h0M551.1 407.2h0M551.6 380.7h0M549.4 396.5h0M553.9 388.9h0M546.8 395.9h0M545.2 394.1h0M557.3 399.5h0M538.3 409.1h0M557.9 386.7h0M560.6 404.5h0M556.6 389.2h0M553.2 401.8h0M539.4 407.7h0M540.5 400.7h0M551.7 395.0h0M551.3 407.8h0M544.6 396.6h0M555.1 387.4h0M554.5 389.7h0M574.9 378.3h0M550.6 398.2h0M557.8 393.1h0M551.5 387.7h0M557.8 390.9h0M553.2 388.9h0M555.0 383.7h0M555.6 389.1h0M555.5 390.3h0M571.3 391.0h0M550.7 389.7h0M545.8 390.9h0M538.8 401.5h0M558.9 384.6h0M555.5 396.6h0M550.7 397.9h0M556.3 391.0h0M560.0 398.8h0M562.0 393.5h0M552.9 391.7h0M564.9 389.2h0M556.3 389.2h0M538.3 402.6h0M555.6 392.6h0M550.6 387.2h0M552.2 385.7h0M557.3 395.7h0M554.9 392.6h0M540.9 396.5h0M560.8 386.0h0M554.1 403.5h0M556.8 386.8h0M546.0 398.4h0M543.6 390.2h0M546.0 392.9h0M553.9 398.1h0M546.1 398.3h0M552.8 392.8h0M545.2 390.8h0M549.6 386.0h0M552.2 395.9h0M563.3 392.5h0M554.2 399.2h0M554.2 400.6h0M544.1 386.7h0M563.5 383.7h0M538.3 396.1h0M559.5 396.6h0M565.0 396.9h0M543.6 391.4h0M541.8 386.0h0M571.6 388.9h0M557.5 375.3h0M557.9 392.4h0M551.7 395.0h0M548.4 400.8h0M540.4 398.8h0M537.0 403.0h0M558.5 400.6h0M548.3 399.4h0M556.8 398.6h0M544.3 402.2h0M557.1 391.2h0M553.7 391.0h0M566.4 386.4h0M541.3 403.5h0M550.4 398.9h0M552.3 397.5h0M551.8 393.8h0M559.2 392.9h0M567.4 376.9h0M547.1 404.4h0M558.2 395.3h0M567.9 387.9h0M546.9 390.1h0M546.7 400.9h0M554.6 387.9h0M557.1 397.3h0M550.1 379.2h0M545.4 395.6h0M550.4 378.0h0M540.2 407.9h0M541.6 402.5h0M547.7 391.6h0M545.9 392.1h0M544.8 402.9h0M551.0 391.9h0M563.9 396.4h0M561.0 399.4h0M541.2 405.3h0M551.3 395.3h0M568.0 377.0h0M564.4 390.9h0M547.6 408.0h0M544.8 399.8h0M541.4 398.8h0M551.3 393.1h0M550.3 396.2h0M549.2 393.3h0M541.8 390.8h0M558.6 404.4h0M564.2 381.5h0M563.7 382.8h0M543.5 395.5h0M548.9 399.9h0M548.3 391.9h0M559.8 387.5h0M537.4 395.1h0M550.1 388.6h0M567.0 392.8h0M558.2 399.4h0M557.5 393.4h0M541.3 404.4h0M560.3 385.5h0M570.3 380.2h0M552.8 389.6h0M557.1 380.3h0M553.0 396.7h0M561.0 382.7h0M558.9 398.4h0M556.5 402.4h0M549.1 395.6h0M537.3 402.8h0M560.0 384.3h0M551.5 393.6h0M555.0 395.8h0M551.5 406.9h0M554.1 398.1h0M564.2 387.3h0M550.5 391.4h0M540.2 409.1h0M545.4 404.3h0M549.5 392.7h0M551.1 391.0h0M541.6 376.0h0M537.0 404.7h0M538.4 385.2h0M542.5 397.9h0M555.3 392.2h0M559.5 394.8h0M564.4 394.5h0M540.0 400.8h0M565.4 378.8h0M547.9 392.1h0M559.9 386.9h0M549.1 400.8h0M564.9 380.7h0M552.3 395.3h0M550.2 404.8h0M553.4 401.5h0M547.3 394.2h0M557.2 399.4h0M546.4 396.2h0M539.4 399.0h0M555.9 387.3h0M545.1 406.4h0M558.3 397.5h0M547.4 408.4h0M557.0 388.5h0M557.8 393.5h0M560.6 391.3h0M544.4 394.1h0M563.0 382.3h0M558.1 396.1h0M540.7 401.8h0M548.6 398.6h0M544.5 399.9h0M548.6 385.8h0M537.3 391.0h0M550.8 387.0h0M548.3 400.0h0M548.9 401.7h0M542.1 398.5h0M564.9 394.3h0M550.4 392.5h0M558.1 398.5h0M552.6 402.1h0M550.9 388.9h0M544.3 396.9h0M551.9 393.2h0M554.1 397.6h0M545.8 384.6h0M545.6 392.1h0M554.7 399.3h0M560.7 404.0h0M546.1 392.9h0M547.6 391.9h0M546.3 390.0h0M560.1 400.3h0M555.6 393.8h0M561.1 377.3h0M541.9 390.3h0M559.4 394.4h0M557.2 380.5h0M567.8 396.3h0M546.0 390.1h0M546.1 398.5h0M550.9 407.7h0M560.8 396.4h0M548.4 396.2h0M542.6 397.7h0M548.0 392.7h0M556.4 404.0h0M556.2 392.3h0M544.2 404.1h0M552.2 381.7h0M551.3 396.9h0M554.8 394.0h0M558.9 389.5h0M553.1 397.3h0M544.6 403.7h0M549.9 383.2h0M557.4 390.0h0M557.6 389.8h0M549.6 394.3h0M551.9 385.4h0M543.8 390.1h0M544.2 382.8h0M558.9 390.4h0M543.8 386.6h0M552.0 385.7h0M539.5 403.1h0M554.4 387.5h0M547.1 390.2h0M538.8 402.0h0M547.0 388.7h0M547.1 377.9h0M553.5 392.7h0M540.3 400.7h0M537.0 404.6h0M544.5 398.6h0M567.3 396.4h0M559.6 384.4h0M554.5 396.1h0M551.3 398.5h0M559.8 397.3h0M562.5 391.9h0M545.0 388.3h0M565.4 401.7h0M556.0 396.3h0M542.4 402.6h0M547.8 397.6h0M564.4 388.3h0M546.4 400.7h0M564.0 377.9h0M562.7 382.8h0M554.3 401.0h0M561.0 393.6h0M565.1 395.2h0M550.5 391.6h0M546.0 406.7h0M562.4 392.9h0M547.8 391.6h0M550.8 390.4h0M537.6 407.3h0M538.2 407.8h0M553.6 405.1h0M539.8 399.3h0M564.5 384.1h0M544.8 405.0h0M560.3 400.0h0M548.4 400.2h0M536.1 404.2h0M549.1 375.9h0M554.3 390.5h0M544.5 389.2h0M546.0 390.9h0M554.7 398.9h0M557.8 383.6h0M550.1 398.5h0M555.7 392.7h0M563.6 384.3h0M543.0 394.8h0M552.0 388.6h0M574.4 378.0h0M554.1 399.0h0M558.2 391.0h0M556.4 408.9h0M552.6 378.7h0M544.1 398.2h0M565.5 391.0h0M543.2 401.4h0M562.1 403.1h0M550.4 389.5h0M552.8 400.5h0M555.1 384.4h0M546.0 408.9h0M542.8 399.6h0M564.2 396.3h0M563.6 379.1h0M566.2 384.4h0M560.5 396.8h0M562.3 384.5h0M559.4 401.0h0M545.1 398.4h0M548.3 393.6h0M547.0 392.1h0M556.0 401.1h0M543.3 407.4h0M550.1 396.6h0M567.4 386.6h0M550.9 380.9h0M556.1 388.4h0M557.5 392.6h0M558.9 401.4h0M541.7 394.7h0M556.2 395.2h0M558.1 400.8h0M575.4 372.3h0M547.0 393.8h0M564.0 386.8h0M552.2 392.9h0M545.6 394.1h0M552.9 404.0h0M566.4 406.2h0M550.3 395.7h0M555.5 380.5h0M553.0 391.9h0M551.5 400.2h0M556.0 394.4h0M544.1 402.1h0M548.9 402.8h0M556.7 383.0h0M553.7 403.8h0M551.7 391.5h0M551.1 394.0h0M559.4 390.7h0M554.3 394.0h0M562.5 382.1h0M556.9 390.6h0M548.5 400.9h0M552.8 384.8h0M565.0 391.5h0M560.0 394.6h0M560.5 400.7h0M552.5 401.7h0M562.2 396.1h0M551.2 389.7h0M554.2 381.1h0M544.7 386.9h0M551.5 385.3h0M556.8 383.6h0M553.7 392.1h0M540.8 406.1h0M544.3 400.9h0M549.1 395.3h0M562.3 403.6h0M554.4 402.6h0M548.9 398.7h0M558.1 393.8h0M570.6 388.2h0M559.2 391.7h0M556.9 394.8h0M556.5 403.9h0M555.5 399.0h0M567.4 396.4h0M556.0 398.8h0M550.4 390.7h0M561.3 379.9h0M554.8 396.6h0M556.9 382.3h0M568.7 397.2h0M550.9 401.8h0M558.6 390.9h0M564.4 387.8h0M546.1 394.0h0M542.8 395.4h0M550.2 382.1h0M558.5 393.6h0M542.9 400.9h0M537.7 405.2h0M562.6 385.0h0M543.3 396.5h0M554.6 400.4h0M563.4 383.7h0M560.7 387.5h0M560.1 405.8h0M551.2 396.0h0M564.1 393.9h0M551.9 395.4h0M551.6 404.0h0M548.4 393.0h0M555.1 390.7h0M554.4 394.0h0M551.6 399.8h0M560.4 387.1h0M565.2 379.9h0M573.2 382.2h0M558.6 385.4h0M553.8 388.4h0M560.6 386.7h0M563.7 384.0h0M559.2 375.3h0M558.5 381.7h0M557.6 376.1h0M557.2 386.5h0M562.2 386.2h0M557.4 386.9h0M570.5 379.0h0M570.2 381.3h0M584.1 363.2h0M564.5 377.7h0M568.0 380.2h0M568.7 376.1h0M574.8 387.8h0M553.5 381.4h0M558.2 386.2h0M567.3 384.0h0M574.5 372.1h0M568.2 377.2h0M559.0 389.5h0M577.1 371.1h0M556.2 391.4h0M565.6 374.0h0M559.0 383.1h0M562.1 394.4h0M576.1 375.4h0M574.4 373.7h0M577.7 375.2h0M549.9 393.1h0M566.3 379.9h0M568.5 383.0h0M565.2 383.4h0M560.9 384.9h0M580.1 373.7h0M562.1 385.3h0M564.7 382.7h0M565.9 381.9h0M565.3 381.5h0M570.1 366.1h0M559.1 375.4h0M551.1 387.2h0M577.3 369.3h0M562.3 388.3h0M561.3 384.1h0M567.6 382.9h0M573.0 372.4h0M567.0 383.4h0M566.8 385.1h0M562.4 380.9h0M566.7 376.3h0M568.7 384.2h0M566.9 381.2h0M567.0 379.1h0M570.3 386.5h0M567.0 377.2h0M568.3 380.4h0M561.4 385.9h0M560.3 376.5h0M572.3 381.8h0M561.6 376.3h0M561.3 374.3h0M570.4 372.0h0M564.8 381.4h0M564.0 379.2h0M573.3 382.2h0M567.4 376.5h0M569.7 376.6h0M555.5 390.1h0M561.7 385.7h0M571.3 381.4h0M564.0 381.0h0M567.0 377.5h0M562.2 384.5h0M568.4 377.1h0M546.9 394.9h0M560.5 376.4h0M559.8 384.6h0M567.1 388.0h0M559.3 388.0h0M564.8 382.1h0M554.6 391.2h0M561.6 389.9h0M561.4 382.4h0M564.9 386.0h0M558.5 389.0h0M568.8 374.5h0M574.0 380.2h0M565.9 377.6h0M565.9 378.9h0M565.1 371.1h0M574.3 375.2h0M572.0 374.3h0M573.0 379.2h0M568.2 382.8h0M563.0 390.0h0M560.1 381.2h0M566.9 379.2h0M561.2 392.2h0M570.3 378.3h0M562.9 390.6h0M563.7 382.5h0M565.1 384.5h0M564.5 379.7h0M562.4 388.0h0M563.1 377.1h0M574.5 381.4h0M568.7 380.4h0M571.4 375.7h0M563.7 381.9h0M563.6 371.5h0M561.8 379.0h0M569.1 380.6h0M569.1 377.6h0M565.0 382.9h0M559.3 383.9h0M562.6 379.6h0M566.3 382.1h0M553.0 388.0h0M568.7 383.9h0M568.0 388.1h0M554.6 396.2h0M568.7 373.1h0M554.7 392.8h0M567.6 382.6h0M574.1 380.0h0M577.8 374.9h0M572.6 377.8h0M570.1 380.6h0M578.0 370.9h0M571.7 383.5h0M569.7 379.8h0M548.0 383.7h0M565.2 377.2h0M551.7 380.4h0M562.7 384.9h0M568.3 378.5h0M560.1 377.1h0M572.7 366.0h0M561.8 377.4h0M572.0 379.9h0M566.4 379.3h0M562.2 380.5h0M565.4 388.5h0M569.0 379.7h0M574.8 382.0h0M557.9 384.1h0M562.8 389.2h0M569.9 374.4h0M567.8 382.0h0M575.8 369.3h0M565.8 386.2h0M580.2 372.4h0M581.2 368.7h0M555.3 389.0h0M574.7 381.1h0M570.8 377.9h0M563.8 385.6h0M563.5 377.4h0M566.7 383.0h0M577.2 371.9h0M561.0 387.1h0M561.4 388.7h0M554.8 382.2h0M562.2 384.5h0M564.4 384.9h0M566.5 379.9h0M569.5 376.9h0M576.2 378.9h0M569.3 373.4h0M572.1 369.1h0M566.9 376.2h0M559.9 380.9h0M565.6 380.0h0M573.4 379.5h0M557.1 385.8h0M557.1 382.1h0M561.4 379.9h0M561.8 392.3h0M567.3 372.7h0M575.1 374.9h0M557.1 380.8h0M571.7 386.1h0M577.7 377.1h0M572.6 374.8h0M559.9 387.9h0M565.8 377.8h0M567.4 381.6h0M565.1 380.1h0M577.6 361.3h0M563.8 390.6h0M561.5 383.9h0M576.6 376.3h0M562.9 387.1h0M572.9 386.0h0M573.1 375.9h0M562.5 382.0h0M561.7 385.3h0M567.0 377.9h0M563.5 380.9h0M561.8 386.9h0M565.1 378.6h0M561.1 383.0h0M572.2 375.3h0M557.5 387.8h0M564.1 386.1h0M557.1 390.4h0M564.1 388.0h0M563.4 378.1h0M569.0 382.3h0M562.3 382.2h0M565.1 370.3h0M569.7 373.8h0M563.4 374.8h0M572.5 373.8h0M557.3 384.3h0M560.4 380.4h0M570.9 376.4h0M567.0 387.9h0M562.1 378.4h0M563.3 379.3h0M563.4 376.5h0M574.7 380.0h0M567.2 381.0h0M566.2 380.6h0M575.1 369.1h0M570.8 378.9h0M554.9 385.3h0M567.5 383.2h0M567.5 384.0h0M570.9 384.0h0M563.7 383.2h0M569.9 382.8h0M558.8 387.9h0M565.7 386.3h0M568.2 373.2h0M577.0 374.2h0M577.1 372.0h0M557.0 387.5h0M566.5 376.2h0M562.9 397.6h0M555.5 385.3h0M559.3 378.7h0M558.9 392.8h0M563.0 379.5h0M575.7 386.4h0M577.1 373.9h0M562.8 381.8h0M566.3 379.5h0M565.4 378.7h0M565.0 372.4h0M553.5 390.1h0M573.9 372.8h0M566.1 383.7h0M563.6 386.4h0M562.3 383.5h0M560.4 389.7h0M558.6 382.2h0M565.1 375.0h0M560.5 385.5h0M571.7 373.7h0M571.1 377.6h0M556.9 381.4h0M557.3 382.1h0M567.4 380.2h0M559.1 390.9h0M567.5 376.4h0M562.6 380.3h0M557.1 392.3h0M561.8 387.7h0M565.6 384.4h0M567.7 385.1h0M574.4 378.5h0M570.9 368.0h0M568.1 372.5h0M560.9 393.3h0M567.3 384.7h0M574.4 379.2h0M567.0 386.1h0M565.9 376.8h0M567.2 383.6h0M559.5 387.3h0M561.0 392.0h0M564.9 379.9h0M579.3 370.5h0M558.0 385.7h0M569.0 378.0h0M560.0 390.7h0M564.8 380.1h0M563.8 386.5h0M566.8 380.8h0M558.7 387.7h0M571.4 374.7h0M569.6 378.9h0M568.9 382.9h0M554.7 386.4h0M555.1 386.3h0M565.5 376.2h0M565.3 376.8h0M570.8 370.5h0M554.4 394.3h0M566.4 383.1h0M570.6 367.8h0M559.1 384.8h0M565.7 382.1h0M569.6 387.9h0M574.4 378.2h0M567.6 373.7h0M556.8 390.0h0M566.4 387.5h0M563.3 380.7h0M563.1 386.4h0M559.3 391.5h0M566.3 384.7h0M567.7 366.4h0M558.1 385.8h0M598.2 345.5h0M587.6 344.5h0M604.7 343.4h0M603.1 343.3h0M608.1 342.9h0M596.2 347.2h0M592.3 345.0h0M595.4 350.5h0M598.9 341.0h0M601.3 349.5h0M601.6 345.1h0M576.7 344.5h0M584.2 343.0h0M590.0 350.2h0M595.9 341.3h0M582.7 342.9h0M596.8 349.6h0M600.2 345.5h0M587.1 348.2h0M594.0 345.9h0M578.9 345.1h0M598.1 345.1h0M600.2 346.7h0M596.7 346.0h0M604.5 341.5h0M609.6 344.2h0M604.7 346.6h0M601.5 344.0h0M597.4 349.5h0M599.0 345.8h0M592.8 344.1h0M607.4 346.5h0M611.3 340.0h0M599.7 350.7h0M592.1 346.6h0M603.9 344.9h0M584.1 347.6h0M579.2 348.4h0M598.7 345.0h0M601.7 347.5h0M587.0 341.5h0M593.8 344.8h0M595.3 347.9h0M584.2 341.2h0M606.8 342.0h0M606.8 342.4h0M600.1 350.7h0M603.6 342.8h0M593.6 345.1h0M595.3 347.1h0M584.3 347.8h0M603.8 344.3h0M602.8 346.0h0M601.1 348.3h0M603.6 341.0h0M596.9 349.6h0M593.1 348.3h0M600.3 342.3h0M596.0 344.9h0M590.7 345.4h0M583.7 347.9h0M618.3 343.7h0M592.0 343.0h0M599.0 347.2h0M595.9 346.2h0M596.7 346.0h0M613.4 341.7h0M589.2 346.8h0M583.0 347.2h0M598.6 349.4h0M601.5 349.1h0M588.8 345.6h0M607.8 342.0h0M593.1 345.9h0M598.9 348.2h0M600.5 348.1h0M609.4 345.4h0M605.9 345.9h0M591.3 347.8h0M597.4 341.9h0M599.6 340.4h0M602.5 344.4h0M601.6 344.2h0M592.7 345.8h0M606.3 343.5h0M591.7 347.1h0M602.0 344.2h0M609.1 344.5h0M582.2 345.1h0M606.3 346.7h0M602.8 337.5h0M606.5 349.1h0M593.7 351.0h0M600.1 343.6h0M603.2 345.2h0M600.4 341.7h0M599.7 351.8h0M601.8 342.2h0M596.1 350.4h0M600.2 340.1h0M610.9 341.7h0M607.2 345.2h0M613.0 345.7h0M593.0 349.3h0M590.0 344.8h0M601.6 347.4h0M569.5 350.2h0M594.2 345.2h0M602.1 337.7h0M606.4 345.3h0M607.6 342.5h0M600.2 342.2h0M607.3 345.9h0M591.9 343.5h0M616.9 346.3h0M595.5 352.7h0M594.2 349.1h0M612.8 346.6h0M584.3 346.3h0M601.8 342.4h0M610.0 345.2h0M595.9 345.2h0M592.1 345.1h0M598.5 347.6h0M608.1 340.7h0M595.3 344.8h0M596.9 343.2h0M599.7 347.4h0M578.7 347.1h0M588.7 344.7h0M597.4 350.4h0M591.4 346.3h0M600.2 342.8h0M595.1 351.2h0M597.6 346.2h0M605.8 341.0h0M591.9 340.3h0M587.4 347.9h0M581.9 347.6h0M593.0 343.2h0M598.3 349.9h0M589.5 348.9h0M597.8 347.1h0M586.9 347.1h0M592.6 344.3h0M587.2 347.5h0M595.9 344.8h0M624.0 343.1h0M580.8 346.8h0M615.0 338.0h0M590.4 346.1h0M603.8 345.7h0M605.7 337.5h0M611.2 342.0h0M606.9 348.5h0M611.3 345.3h0M589.0 342.5h0M596.3 343.0h0M565.3 348.9h0M605.6 343.0h0M611.8 346.3h0M584.8 342.5h0M608.2 339.5h0M607.6 339.0h0M603.0 344.5h0M590.8 343.6h0M598.2 348.9h0M599.9 340.4h0M590.6 342.1h0M589.6 345.3h0M597.3 342.0h0M594.2 344.0h0M608.3 347.4h0M584.5 347.7h0M590.4 341.2h0M582.2 347.0h0M597.7 343.3h0M600.1 349.4h0M610.7 345.5h0M592.6 349.1h0M600.5 348.0h0M603.7 347.5h0M600.0 340.1h0M606.5 346.2h0M596.9 341.8h0M587.6 343.3h0M582.1 348.1h0M592.2 343.4h0M606.2 341.9h0M601.8 347.2h0M597.5 343.0h0M601.4 341.9h0M594.0 343.5h0M594.9 343.1h0M591.4 344.8h0M596.0 349.5h0M593.2 341.7h0M590.6 345.3h0M586.5 344.7h0M594.2 348.9h0M590.7 351.5h0M587.5 341.3h0M601.5 341.6h0M607.1 347.9h0M596.3 344.8h0M598.0 342.8h0M595.9 346.7h0M584.2 349.2h0M585.8 347.4h0M602.5 348.5h0M586.6 340.9h0M565.8 352.7h0M583.9 343.9h0M611.9 337.7h0M600.7 345.6h0M599.9 347.5h0M590.4 348.0h0M611.7 344.8h0M604.0 344.9h0M584.4 348.2h0M596.1 346.6h0M589.8 345.1h0M595.5 348.0h0M595.6 346.2h0M591.7 345.7h0M589.2 344.7h0M614.1 343.8h0M604.1 345.4h0M618.1 340.5h0M595.8 346.8h0M591.6 348.7h0M588.2 345.8h0M603.8 349.6h0M576.2 343.8h0M577.3 346.5h0M584.2 346.4h0M586.0 345.4h0M603.2 345.6h0M611.6 340.2h0M607.1 341.6h0M596.8 344.7h0M591.6 343.1h0M595.1 347.0h0M595.4 346.9h0M624.3 340.9h0M577.3 345.9h0M578.6 346.2h0M598.8 346.6h0M607.2 341.9h0M606.5 342.2h0M592.6 341.6h0M601.2 347.4h0M611.4 341.3h0M589.9 348.2h0M585.4 349.7h0M597.0 346.9h0M604.6 345.2h0M588.4 347.5h0M605.4 349.3h0M593.9 348.2h0M590.1 345.5h0M586.3 347.9h0M580.1 348.3h0M607.4 348.4h0M588.0 346.4h0M576.6 347.1h0M601.1 344.4h0M594.3 346.3h0M576.0 349.8h0M600.7 346.4h0M599.5 343.9h0M600.8 348.6h0M621.4 348.2h0M600.8 341.5h0M611.1 346.2h0M596.0 344.9h0M591.4 344.9h0M590.6 343.6h0M591.3 346.8h0M603.6 347.5h0M588.1 337.7h0M596.9 346.7h0M600.1 345.1h0M599.6 347.3h0M613.0 349.1h0M579.9 349.4h0M596.9 347.0h0M614.0 344.7h0M589.8 347.6h0M616.8 343.0h0M596.3 343.3h0M592.4 345.8h0M598.5 345.1h0M585.8 348.4h0M585.9 347.3h0M594.2 343.6h0M616.9 345.8h0M600.5 348.0h0M592.5 352.3h0M578.7 341.9h0M595.8 348.9h0M590.3 349.3h0M593.7 347.4h0M596.7 348.4h0M598.0 342.7h0M606.5 344.2h0M604.5 342.5h0M589.6 345.8h0M583.5 346.9h0M607.8 340.7h0M602.5 344.1h0M601.3 342.1h0M603.6 338.2h0M596.8 340.1h0M575.9 347.7h0M593.9 346.5h0M591.6 344.3h0M605.2 343.6h0M596.7 346.9h0M588.6 347.8h0M604.8 346.6h0M589.6 345.9h0M608.0 345.0h0M602.2 341.1h0M602.6 345.3h0M598.4 346.8h0M593.9 347.4h0M596.2 346.0h0M595.9 347.5h0M603.2 344.3h0M596.7 348.6h0M589.2 344.9h0M598.3 347.2h0M592.5 342.0h0M586.9 347.5h0M595.7 341.3h0M602.3 347.3h0M601.3 344.5h0M598.9 345.7h0M603.0 352.7h0M583.8 346.5h0M581.0 349.5h0M587.8 343.4h0M608.7 345.3h0M586.9 345.5h0M595.9 345.9h0M577.1 349.7h0M589.5 345.6h0M604.9 343.4h0M599.4 345.4h0M612.9 346.3h0M603.3 347.6h0M618.9 339.8h0M612.4 346.6h0M607.4 345.1h0M598.5 346.0h0M597.6 349.6h0M603.6 344.9h0M610.0 343.5h0M600.0 344.9h0M603.7 346.7h0M590.9 344.0h0M593.0 342.8h0M607.4 338.3h0M592.7 346.2h0M603.0 345.2h0M611.3 343.0h0M593.7 342.7h0M587.3 341.6h0M595.4 349.2h0M589.8 347.6h0M588.7 347.9h0M594.1 350.1h0M617.4 340.0h0M603.0 345.7h0M605.9 343.2h0M582.8 341.7h0M596.9 347.2h0M582.9 347.5h0M585.7 344.9h0M599.0 342.5h0M602.5 339.5h0M560.9 348.7h0M585.4 349.9h0M585.2 346.8h0M600.8 342.2h0M587.8 346.6h0M588.5 348.3h0M594.0 345.3h0M619.1 345.9h0M580.0 350.5h0M616.3 346.0h0M584.5 350.7h0M578.2 344.8h0M587.8 346.4h0M584.9 341.2h0M609.6 346.5h0M602.9 347.9h0M587.6 347.4h0M608.2 342.8h0M613.0 345.9h0M615.7 344.2h0M611.3 346.9h0M609.9 346.5h0M610.4 343.5h0M603.8 342.6h0M610.5 343.5h0M610.6 344.1h0M617.9 343.1h0M609.3 344.8h0M608.5 342.9h0M618.0 342.7h0M616.4 341.9h0M599.5 346.0h0M615.5 345.9h0M618.2 341.4h0M603.6 343.5h0M610.3 339.6h0M608.7 347.0h0M608.4 342.1h0M613.5 345.4h0M610.6 345.6h0M612.1 344.8h0M606.5 341.8h0M617.5 343.4h0M605.1 342.7h0M616.7 344.7h0M611.3 344.1h0M614.7 345.6h0M603.3 346.5h0M605.9 342.7h0M609.3 345.2h0M617.8 346.6h0M607.5 345.3h0M613.3 344.0h0M613.3 343.6h0M608.3 346.5h0M615.1 345.6h0M602.3 346.7h0M610.8 345.8h0M612.8 343.9h0M613.5 344.5h0M609.5 344.7h0M611.8 344.4h0M624.5 341.1h0M602.7 348.2h0M604.2 344.7h0M615.2 346.4h0M605.0 345.2h0M611.2 346.3h0M610.1 343.0h0M618.0 341.4h0M616.5 343.0h0M619.4 343.9h0M607.0 347.1h0M610.3 345.4h0M604.4 345.0h0M623.1 342.8h0M616.0 344.1h0M614.2 343.9h0M614.1 344.6h0M611.9 343.9h0M611.7 345.5h0M609.6 345.2h0M613.2 346.5h0M609.3 346.2h0M612.4 346.6h0M623.6 345.6h0M616.7 344.3h0M619.4 337.4h0M609.7 343.1h0M602.2 345.3h0M621.9 339.8h0M614.4 346.8h0M606.5 346.7h0M611.8 342.9h0M605.7 346.7h0M614.6 347.6h0M611.5 344.3h0M611.5 341.1h0M616.8 347.1h0M608.8 344.0h0M607.2 342.8h0M616.4 343.3h0M601.0 345.5h0M614.3 342.2h0M608.5 341.7h0M611.8 346.5h0M611.2 345.3h0M610.7 343.7h0M608.9 347.0h0M612.8 345.1h0M607.7 345.8h0M605.5 342.6h0M613.1 341.4h0M614.1 345.1h0M612.7 346.9h0M611.7 342.6h0M609.0 343.1h0M610.3 346.8h0M611.1 343.0h0M617.6 341.7h0M617.4 343.4h0M609.6 344.3h0M616.3 346.2h0M612.1 346.9h0M611.1 345.2h0M613.3 345.1h0M620.0 340.3h0M612.5 344.1h0M607.7 343.1h0M611.8 345.3h0M617.1 345.2h0M615.5 342.7h0M602.1 346.8h0M596.4 346.4h0M606.6 343.6h0M614.0 345.2h0M612.9 342.1h0M612.0 343.8h0M609.5 343.5h0M608.7 347.0h0M602.4 347.0h0M610.2 343.4h0M613.8 347.6h0M604.6 347.9h0M612.1 343.3h0M609.8 344.4h0M612.6 343.0h0M612.2 342.3h0M615.1 350.3h0M614.3 345.1h0M610.7 344.4h0M615.2 346.7h0M615.9 342.9h0M606.7 345.3h0M617.8 346.7h0M608.4 344.5h0M615.2 342.9h0M605.3 345.7h0M607.0 345.1h0M619.4 345.9h0M611.4 343.9h0M616.4 342.2h0M606.1 346.7h0M611.5 344.2h0M613.3 348.3h0M610.0 343.8h0M614.6 345.7h0M607.9 347.7h0M608.6 345.7h0M607.4 344.2h0M610.5 345.9h0M616.5 344.1h0M608.1 344.2h0M611.3 348.7h0M605.7 343.1h0M610.1 341.4h0M608.3 343.7h0M617.8 343.3h0M618.5 343.2h0M607.7 345.3h0M615.5 345.4h0M615.5 341.3h0M604.9 347.7h0M609.4 345.7h0M608.6 344.0h0M607.9 347.5h0M609.5 345.5h0M616.9 345.3h0M605.3 346.8h0M611.1 342.4h0M611.2 343.9h0M605.2 346.7h0M603.5 344.4h0M617.3 342.4h0M618.7 344.8h0M608.6 344.9h0M617.3 343.5h0M615.6 344.6h0M610.5 347.9h0M612.8 346.3h0M608.8 346.1h0M616.8 341.7h0M603.0 347.9h0M606.4 346.3h0M609.2 345.3h0M611.8 345.6h0M610.2 347.5h0M613.6 343.7h0M609.3 342.8h0M625.4 337.6h0M604.0 347.0h0M619.0 343.1h0M614.1 344.7h0M611.2 345.7h0M608.3 345.9h0M603.3 347.5h0M609.9 344.7h0M608.5 341.9h0M612.5 345.9h0M603.4 344.9h0M606.6 345.9h0M606.7 347.0h0M618.9 341.4h0M610.1 344.2h0M610.2 341.4h0M614.8 344.3h0M606.1 342.7h0M612.2 347.0h0M618.1 342.7h0M613.2 340.9h0M605.9 344.7h0M609.8 342.2h0M612.5 344.0h0M610.2 343.2h0M615.4 342.7h0M607.1 346.4h0M615.9 341.6h0M612.2 346.5h0M613.9 343.1h0M617.4 343.8h0M613.4 345.0h0M618.7 343.7h0M601.7 347.9h0M608.5 347.3h0M612.0 345.3h0M608.4 340.9h0M607.0 345.3h0M607.0 343.5h0M609.1 346.9h0M614.6 341.9h0M613.0 341.6h0M607.6 345.8h0M611.6 341.8h0M605.6 346.0h0M606.6 347.1h0M614.1 342.4h0M608.8 344.0h0M613.1 341.8h0M611.1 341.9h0M609.9 345.1h0M609.9 344.4h0M613.9 341.9h0M606.5 348.1h0M611.1 345.0h0M612.6 340.5h0M610.0 343.6h0M611.8 344.3h0M615.4 343.4h0M614.8 342.7h0M613.5 345.6h0M612.7 348.0h0M611.2 341.7h0M608.4 344.4h0M605.5 343.5h0M609.9 342.6h0M612.3 344.1h0M611.6 344.6h0M617.4 341.3h0M613.1 344.5h0M611.2 342.0h0M603.0 348.6h0M615.3 343.1h0M612.9 346.9h0M625.2 339.0h0M615.4 342.7h0M616.6 344.7h0M608.0 342.9h0M616.6 347.6h0M613.1 342.1h0M609.4 346.3h0M609.3 347.7h0M607.9 345.6h0M618.0 342.2h0M608.9 340.8h0M600.2 343.6h0M615.8 344.3h0M616.7 342.9h0M621.1 343.6h0M613.3 346.7h0M609.6 340.7h0M606.7 347.3h0M613.9 345.0h0M603.5 343.5h0M616.4 343.3h0M619.2 339.6h0M623.5 342.7h0M612.1 346.3h0M614.6 344.1h0M612.6 343.9h0M608.4 344.5h0M614.8 344.7h0M613.7 342.6h0M610.9 339.9h0M613.4 342.3h0M614.5 343.8h0M606.8 344.7h0M613.8 343.6h0M611.7 345.4h0M613.7 342.5h0M606.6 341.9h0M613.7 347.7h0M612.5 345.4h0M618.3 340.1h0M610.1 342.8h0M607.1 344.5h0M615.5 345.1h0M609.9 343.8h0M610.7 342.4h0M615.8 341.3h0M607.0 345.7h0M607.9 346.4h0M604.3 347.6h0M605.4 339.8h0M615.6 339.2h0M608.6 344.9h0M609.9 343.9h0M605.9 347.1h0M615.6 346.3h0M613.6 347.4h0M611.7 345.3h0M610.0 340.7h0M614.0 343.1h0M612.7 340.4h0M606.9 343.3h0M617.2 346.1h0M612.3 345.8h0M603.0 345.2h0M608.2 342.6h0M616.1 344.7h0M618.2 344.4h0M611.6 341.8h0M610.5 346.6h0M612.0 346.3h0M611.6 343.5h0M624.0 342.2h0M605.4 345.5h0M615.2 342.7h0M617.1 341.5h0M617.7 341.9h0M615.6 346.6h0M615.0 343.3h0M621.4 341.5h0M613.7 342.3h0M615.6 342.4h0M599.8 344.6h0M610.1 342.8h0M607.5 345.4h0M609.0 342.9h0M610.0 346.8h0M610.4 342.4h0M602.4 346.9h0M613.1 345.0h0M611.9 342.4h0M616.0 340.5h0M609.9 342.1h0M609.8 347.3h0M610.7 341.7h0M580.6 376.3h0M588.4 352.7h0M565.9 366.4h0M574.6 365.3h0M570.4 377.5h0M589.3 374.3h0M570.6 371.3h0M582.0 378.3h0M574.9 364.8h0M577.9 353.7h0M574.3 365.5h0M581.2 360.6h0M567.1 350.2h0M566.8 371.4h0M581.4 356.9h0M588.4 350.8h0M569.5 372.1h0M564.7 374.9h0M564.9 353.3h0M582.4 371.0h0M570.3 379.4h0M581.3 359.8h0M571.3 380.4h0M575.1 360.6h0M571.9 341.1h0M572.8 362.5h0M569.0 372.7h0M576.9 373.6h0M585.0 361.8h0M558.3 377.8h0M560.3 377.9h0M591.8 356.4h0M576.2 355.5h0M575.3 367.1h0M560.2 362.0h0M559.7 361.9h0M571.7 352.5h0M578.1 371.2h0M569.5 369.2h0M564.8 351.8h0M579.1 357.7h0M581.3 353.9h0M562.3 371.4h0M571.2 358.4h0M587.0 358.4h0M580.5 347.5h0M571.0 376.3h0M596.9 355.8h0M566.7 354.5h0M549.6 377.6h0M578.8 356.3h0M574.3 355.6h0M551.4 382.8h0M570.1 357.1h0M584.8 370.0h0M581.8 354.5h0M561.8 368.4h0M572.5 348.3h0M585.7 342.0h0M573.5 357.6h0M582.3 342.5h0M577.6 365.9h0M578.3 367.0h0M576.8 344.3h0M576.6 358.0h0M571.2 351.8h0M580.2 361.7h0M576.3 368.9h0M574.2 359.8h0M575.8 355.8h0M565.2 363.6h0M566.6 365.5h0M582.5 357.2h0M588.7 363.0h0M577.9 361.8h0M573.6 377.0h0M565.0 350.2h0M559.2 370.4h0M579.1 362.7h0M582.3 357.6h0M561.7 363.3h0M566.8 353.3h0M563.2 373.1h0M573.3 358.2h0M604.3 353.3h0M572.4 372.7h0M566.3 350.8h0M579.4 355.6h0M566.9 359.3h0M588.8 364.4h0M573.9 352.2h0M571.8 372.2h0M573.3 346.5h0M576.7 352.9h0M574.0 369.5h0M579.7 354.5h0M580.1 362.1h0M584.0 354.7h0M581.5 334.9h0M575.8 354.4h0M576.9 359.9h0M573.6 363.8h0M570.3 367.3h0M569.2 359.1h0M567.8 376.2h0M585.7 352.1h0M560.8 359.7h0M581.0 362.0h0M572.3 366.4h0M569.3 382.6h0M569.0 361.3h0M566.7 375.3h0M588.0 353.4h0M576.9 366.7h0M581.3 350.1h0M569.8 373.3h0M567.7 352.8h0M571.0 365.8h0M592.2 358.9h0M594.8 356.4h0M568.9 364.0h0M582.8 357.0h0M572.7 367.4h0M576.8 354.1h0M565.7 357.8h0M574.1 372.8h0M585.9 363.7h0M570.7 356.5h0M564.9 370.2h0M558.4 380.7h0M559.7 391.9h0M567.2 387.7h0M560.9 384.5h0M569.5 367.5h0M568.4 374.0h0M566.5 381.2h0M571.0 373.2h0M578.2 376.0h0M577.3 381.6h0M565.4 379.5h0M567.1 382.0h0M572.8 381.5h0M576.4 373.7h0M565.4 380.2h0M554.7 390.7h0M573.2 381.9h0M570.7 380.9h0M569.6 377.3h0M554.3 380.7h0M568.8 373.5h0M553.2 381.3h0M562.8 373.5h0M560.9 383.6h0M569.4 382.8h0M558.4 387.5h0M575.1 380.4h0M566.2 379.7h0M562.9 380.3h0M576.3 387.7h0M570.2 376.9h0M567.8 383.2h0M562.1 383.1h0M566.2 380.5h0M568.9 379.1h0M568.6 376.5h0M570.7 366.7h0M567.6 375.3h0M579.2 383.3h0M572.7 370.5h0M568.1 378.5h0M553.8 384.6h0M558.0 372.5h0M562.4 381.0h0M571.2 376.8h0M569.0 377.9h0M570.2 368.5h0M568.6 375.0h0M581.4 365.6h0M568.8 394.0h0M565.0 380.6h0M564.7 372.9h0M570.9 386.5h0M567.1 383.7h0M562.3 385.4h0M570.0 379.6h0M564.5 382.2h0M564.5 376.0h0M571.2 376.7h0M555.1 387.5h0M567.0 369.9h0M567.4 379.4h0M566.2 386.5h0M561.6 382.6h0M573.5 386.3h0M568.7 369.2h0M571.0 372.4h0M557.9 381.6h0M569.8 383.2h0M556.4 386.5h0M572.6 372.6h0M574.6 371.6h0M574.6 384.6h0M561.1 394.4h0M558.8 378.7h0M566.8 373.1h0M564.1 381.4h0M571.1 378.0h0M575.0 379.5h0M569.5 362.1h0M565.4 375.0h0M572.8 382.4h0M565.6 388.9h0M570.2 384.1h0M577.1 370.3h0M564.7 379.4h0M569.2 384.9h0M566.3 383.6h0M574.7 375.0h0M558.8 380.3h0M560.4 382.3h0M565.8 368.2h0M578.2 373.6h0M567.1 384.7h0M566.6 377.4h0M559.4 375.9h0M557.8 376.6h0M562.7 375.2h0M568.6 385.9h0M570.2 373.5h0M569.0 390.6h0" stroke="#FF1A1A" stroke-width="0.55" stroke-linecap="round" fill="none" opacity="0.8"/>
<line x1="575.5" y1="323.7" x2="575.5" y2="409.7" stroke="#B8B8B8" stroke-width="1.1"/>
<line x1="535.5" y1="372.5" x2="632.7" y2="372.5" stroke="#444" stroke-width="0.7"/>
<rect x="535.5" y="323.7" width="97.2" height="86.0" fill="none" stroke="#8E8E8E" stroke-width="0.7"/>
<text x="426.6" y="334.7" font-size="8.7">2.3%</text>
<text x="514.6" y="334.7" font-size="8.7" text-anchor="end">23.3%</text>
<text x="426.6" y="406.3" font-size="8.7">70.1%</text>
<text x="514.6" y="406.3" font-size="8.7" text-anchor="end">4.3%</text>
<text x="544.4" y="334.7" font-size="8.7">0.9%</text>
<text x="629.3" y="334.7" font-size="8.7" text-anchor="end">18.4%</text>
<text x="539.7" y="406.3" font-size="8.7">78.7%</text>
<text x="629.4" y="406.3" font-size="8.7" text-anchor="end">2.0%</text>
<text x="456.0" y="364.5" font-size="3.7" text-anchor="middle">Q1</text>
<text x="469.8" y="364.5" font-size="3.7" text-anchor="middle">Q2</text>
<text x="456.0" y="379.7" font-size="3.7" text-anchor="middle">Q3</text>
<text x="469.8" y="379.7" font-size="3.7" text-anchor="middle">Q4</text>
<text x="570.4" y="364.5" font-size="3.7" text-anchor="middle">Q1</text>
<text x="584.3" y="364.5" font-size="3.7" text-anchor="middle">Q2</text>
<text x="570.4" y="379.7" font-size="3.7" text-anchor="middle">Q3</text>
<text x="584.3" y="379.7" font-size="3.7" text-anchor="middle">Q4</text>
<text x="412.3" y="369.2" font-size="5.4" text-anchor="middle" transform="rotate(-90 412.3 369.2)" textLength="58.5" lengthAdjust="spacing">(PI) PE-Texas Red-A</text>
<text x="525.4" y="370.2" font-size="5.4" text-anchor="middle" transform="rotate(-90 525.4 370.2)" textLength="58.5" lengthAdjust="spacing">(PI) PE-Texas Red-A</text>
<text x="435.1" y="415.4" font-size="3.5" text-anchor="middle">10<tspan font-size="2.2" dy="-1.3">2</tspan></text>
<text x="459.2" y="415.4" font-size="3.5" text-anchor="middle">10<tspan font-size="2.2" dy="-1.3">3</tspan></text>
<text x="484.1" y="415.4" font-size="3.5" text-anchor="middle">10<tspan font-size="2.2" dy="-1.3">4</tspan></text>
<text x="508.6" y="415.4" font-size="3.5" text-anchor="middle">10<tspan font-size="2.2" dy="-1.3">5</tspan></text>
<text x="420.2" y="332.2" font-size="3.5" text-anchor="middle" transform="rotate(-90 420.2 332.2)">10<tspan font-size="2.2" dy="-1.3">5</tspan></text>
<text x="420.2" y="354.0" font-size="3.5" text-anchor="middle" transform="rotate(-90 420.2 354.0)">10<tspan font-size="2.2" dy="-1.3">4</tspan></text>
<text x="420.2" y="375.9" font-size="3.5" text-anchor="middle" transform="rotate(-90 420.2 375.9)">10<tspan font-size="2.2" dy="-1.3">3</tspan></text>
<text x="420.2" y="396.8" font-size="3.5" text-anchor="middle" transform="rotate(-90 420.2 396.8)">10<tspan font-size="2.2" dy="-1.3">2</tspan></text>
<text x="548.8" y="415.4" font-size="3.5" text-anchor="middle">10<tspan font-size="2.2" dy="-1.3">2</tspan></text>
<text x="573.5" y="415.4" font-size="3.5" text-anchor="middle">10<tspan font-size="2.2" dy="-1.3">3</tspan></text>
<text x="598.1" y="415.4" font-size="3.5" text-anchor="middle">10<tspan font-size="2.2" dy="-1.3">4</tspan></text>
<text x="622.6" y="415.4" font-size="3.5" text-anchor="middle">10<tspan font-size="2.2" dy="-1.3">5</tspan></text>
<text x="533.3" y="332.2" font-size="3.5" text-anchor="middle" transform="rotate(-90 533.3 332.2)">10<tspan font-size="2.2" dy="-1.3">5</tspan></text>
<text x="533.3" y="354.0" font-size="3.5" text-anchor="middle" transform="rotate(-90 533.3 354.0)">10<tspan font-size="2.2" dy="-1.3">4</tspan></text>
<text x="533.3" y="375.9" font-size="3.5" text-anchor="middle" transform="rotate(-90 533.3 375.9)">10<tspan font-size="2.2" dy="-1.3">3</tspan></text>
<text x="533.3" y="396.8" font-size="3.5" text-anchor="middle" transform="rotate(-90 533.3 396.8)">10<tspan font-size="2.2" dy="-1.3">2</tspan></text>
<text x="472.1" y="421.8" font-size="4.3" text-anchor="middle">(Annexin-V) FITC-A</text>
<text x="586.2" y="421.8" font-size="4.3" text-anchor="middle">(Annexin-V) FITC-A</text>
<rect x="439.9" y="432.5" width="10.0" height="10.2" fill="#FFFFFF" stroke="#000" stroke-width="1"/>
<text x="453.4" y="441.4" font-size="10">shRNA control BMOL</text>
<rect x="439.9" y="447.2" width="10.0" height="10.2" fill="#8E8E8E" stroke="#000" stroke-width="1"/>
<text x="453.4" y="456.9" font-size="10">shRNA <tspan font-style="italic">Txnip</tspan> BMOL</text>
<line x1="440.5" y1="464.8" x2="440.5" y2="524.4" stroke="#000" stroke-width="1.0"/>
<line x1="440.2" y1="523.5" x2="514.8" y2="523.5" stroke="#000" stroke-width="1.0"/>
<line x1="438.1" y1="465.5" x2="440.7" y2="465.5" stroke="#000" stroke-width="1.0"/>
<text x="437.6" y="468.7" font-size="9.6" text-anchor="end">30</text>
<line x1="438.1" y1="484.5" x2="440.7" y2="484.5" stroke="#000" stroke-width="1.0"/>
<text x="437.6" y="487.8" font-size="9.6" text-anchor="end">20</text>
<line x1="438.1" y1="504.5" x2="440.7" y2="504.5" stroke="#000" stroke-width="1.0"/>
<text x="437.6" y="507.6" font-size="9.6" text-anchor="end">10</text>
<line x1="438.1" y1="523.5" x2="440.7" y2="523.5" stroke="#000" stroke-width="1.0"/>
<text x="437.6" y="527.1" font-size="9.6" text-anchor="end">0</text>
<rect x="450.4" y="484.3" width="18.2" height="39.6" fill="#FFFFFF" stroke="#000" stroke-width="1.0"/>
<rect x="487.0" y="478.4" width="18.5" height="45.5" fill="#8E8E8E" stroke="#000" stroke-width="1.0"/>
<text x="412.6" y="494.0" font-size="10" text-anchor="middle" transform="rotate(-90 412.6 494.0)">Cells in</text>
<text x="422.8" y="494.0" font-size="10" text-anchor="middle" transform="rotate(-90 422.8 494.0)">S phase  (%)</text>
<text x="476.3" y="468.8" font-size="8.3" text-anchor="middle"><tspan font-style="italic">P</tspan>=0.0005</text>
<line x1="452.0" y1="470.5" x2="501.6" y2="470.5" stroke="#000" stroke-width="1.0"/>
<circle cx="455.3" cy="483.4" r="1.2" fill="#FFFFFF" stroke="#000" stroke-width="1.15"/><circle cx="459.3" cy="484.7" r="1.2" fill="#FFFFFF" stroke="#000" stroke-width="1.15"/><circle cx="463.3" cy="484.2" r="1.2" fill="#FFFFFF" stroke="#000" stroke-width="1.15"/><circle cx="492.3" cy="478.0" r="1.2" fill="#FFFFFF" stroke="#000" stroke-width="1.15"/><circle cx="496.2" cy="478.1" r="1.2" fill="#FFFFFF" stroke="#000" stroke-width="1.15"/><circle cx="500.1" cy="478.2" r="1.2" fill="#FFFFFF" stroke="#000" stroke-width="1.15"/>
<line x1="552.5" y1="466.4" x2="552.5" y2="525.9" stroke="#000" stroke-width="1.0"/>
<line x1="552.4" y1="525.5" x2="624.5" y2="525.5" stroke="#000" stroke-width="1.0"/>
<line x1="550.3" y1="466.5" x2="552.9" y2="466.5" stroke="#000" stroke-width="1.0"/>
<text x="549.8" y="470.3" font-size="9.6" text-anchor="end">6</text>
<line x1="550.3" y1="485.5" x2="552.9" y2="485.5" stroke="#000" stroke-width="1.0"/>
<text x="549.8" y="489.1" font-size="9.6" text-anchor="end">4</text>
<line x1="550.3" y1="505.5" x2="552.9" y2="505.5" stroke="#000" stroke-width="1.0"/>
<text x="549.8" y="508.9" font-size="9.6" text-anchor="end">2</text>
<line x1="550.3" y1="525.5" x2="552.9" y2="525.5" stroke="#000" stroke-width="1.0"/>
<text x="549.8" y="528.8" font-size="9.6" text-anchor="end">0</text>
<rect x="561.4" y="482.7" width="18.4" height="42.7" fill="#FFFFFF" stroke="#000" stroke-width="1.0"/>
<rect x="597.3" y="506.3" width="18.4" height="19.1" fill="#8E8E8E" stroke="#000" stroke-width="1.0"/>
<text x="527.2" y="493.5" font-size="10" text-anchor="middle" transform="rotate(-90 527.2 493.5)">Apoptotic</text>
<text x="536.8" y="493.5" font-size="10" text-anchor="middle" transform="rotate(-90 536.8 493.5)">cells (%)</text>
<text x="586.4" y="472.5" font-size="8.4" text-anchor="middle"><tspan font-style="italic">P</tspan>&lt;0.0001</text>
<line x1="563.2" y1="474.5" x2="612.6" y2="474.5" stroke="#000" stroke-width="1.0"/>
<circle cx="566.6" cy="482.4" r="1.2" fill="#FFFFFF" stroke="#000" stroke-width="1.15"/><circle cx="570.6" cy="483.4" r="1.2" fill="#FFFFFF" stroke="#000" stroke-width="1.15"/><circle cx="574.6" cy="482.6" r="1.2" fill="#FFFFFF" stroke="#000" stroke-width="1.15"/><circle cx="602.5" cy="505.8" r="1.2" fill="#FFFFFF" stroke="#000" stroke-width="1.15"/><circle cx="606.5" cy="506.6" r="1.2" fill="#FFFFFF" stroke="#000" stroke-width="1.15"/><circle cx="610.5" cy="506.2" r="1.2" fill="#FFFFFF" stroke="#000" stroke-width="1.15"/>
<defs><filter id="bl0" x="-10%" y="-50%" width="120%" height="200%"><feGaussianBlur stdDeviation="0.95"/></filter><filter id="bl1" x="-20%" y="-100%" width="140%" height="300%"><feGaussianBlur stdDeviation="1.6"/></filter></defs>
<text x="1.5" y="527.2" font-size="10">F</text>
<text x="50.2" y="576.3" font-size="9.8" transform="rotate(-38.5 50.2 576.3)">shRNA control</text>
<text x="84.8" y="575.3" font-size="9.8" transform="rotate(-38.5 84.8 575.3)">shRNA <tspan font-style="italic">Txnip</tspan></text>
<text x="118.3" y="576.3" font-size="9.8" transform="rotate(-38.5 118.3 576.3)">shRNA control</text>
<text x="151.9" y="575.3" font-size="9.8" transform="rotate(-38.5 151.9 575.3)">shRNA <tspan font-style="italic">Txnip</tspan></text>
<text x="58.4" y="584.2" font-size="9.8" transform="rotate(-38.5 58.4 584.2)">BMOL</text>
<text x="91.0" y="584.2" font-size="9.8" transform="rotate(-38.5 91.0 584.2)">BMOL</text>
<text x="123.9" y="584.2" font-size="9.8" transform="rotate(-38.5 123.9 584.2)">BMOL</text>
<text x="157.5" y="584.2" font-size="9.8" transform="rotate(-38.5 157.5 584.2)">BMOL</text>
<text x="75.6" y="596.5" font-size="10" text-anchor="middle">Vehicle</text>
<line x1="49.7" y1="600.5" x2="102.4" y2="600.5" stroke="#000" stroke-width="1.1"/>
<text x="137.3" y="596.5" font-size="10" text-anchor="middle">1,25(OH)<tspan font-size="7" dy="1.6">2</tspan><tspan dy="-1.6">D</tspan><tspan font-size="7" dy="1.6">3</tspan></text>
<line x1="110.1" y1="600.5" x2="164.5" y2="600.5" stroke="#000" stroke-width="1.1"/>
<text x="175.6" y="593.8" font-size="10">kDa</text>
<rect x="44.1" y="606.2" width="122.9" height="14.1" fill="#D2D2D2"/>
<ellipse cx="60.1" cy="612.9" rx="16.4" ry="2.5" fill="#5A5A5A" opacity="0.45" filter="url(#bl1)"/>
<rect x="45.8" y="611.5" width="28.6" height="2.9" rx="1.4" fill="#5A5A5A" filter="url(#bl0)"/>
<ellipse cx="90.8" cy="612.9" rx="16.3" ry="2.5" fill="#4C4C4C" opacity="0.45" filter="url(#bl1)"/>
<rect x="76.6" y="611.5" width="28.4" height="2.9" rx="1.4" fill="#4C4C4C" filter="url(#bl0)"/>
<ellipse cx="121.1" cy="612.9" rx="15.8" ry="2.5" fill="#5A5A5A" opacity="0.45" filter="url(#bl1)"/>
<rect x="107.4" y="611.5" width="27.4" height="2.9" rx="1.4" fill="#5A5A5A" filter="url(#bl0)"/>
<ellipse cx="151.4" cy="612.9" rx="16.5" ry="2.5" fill="#383838" opacity="0.45" filter="url(#bl1)"/>
<rect x="137.0" y="611.5" width="28.8" height="2.9" rx="1.4" fill="#383838" filter="url(#bl0)" transform="rotate(-2 151.4 612.9)"/>
<rect x="44.1" y="606.2" width="122.9" height="14.1" fill="none" stroke="#000" stroke-width="1.1"/>
<rect x="44.1" y="623.5" width="122.9" height="14.2" fill="#D6D6D6"/>
<ellipse cx="60.1" cy="630.5" rx="16.4" ry="2.7" fill="#7A7A7A" opacity="0.45" filter="url(#bl1)"/>
<rect x="45.8" y="628.9" width="28.6" height="3.2" rx="1.6" fill="#7A7A7A" filter="url(#bl0)"/>
<ellipse cx="90.8" cy="630.5" rx="16.3" ry="2.7" fill="#4A4A4A" opacity="0.45" filter="url(#bl1)"/>
<rect x="76.6" y="628.9" width="28.4" height="3.2" rx="1.6" fill="#4A4A4A" filter="url(#bl0)"/>
<ellipse cx="121.1" cy="630.5" rx="15.8" ry="2.7" fill="#969696" opacity="0.45" filter="url(#bl1)"/>
<rect x="107.4" y="628.9" width="27.4" height="3.2" rx="1.6" fill="#969696" filter="url(#bl0)"/>
<ellipse cx="151.4" cy="630.5" rx="16.5" ry="2.7" fill="#404040" opacity="0.45" filter="url(#bl1)"/>
<rect x="137.0" y="628.9" width="28.8" height="3.2" rx="1.6" fill="#404040" filter="url(#bl0)"/>
<rect x="44.1" y="623.5" width="122.9" height="14.2" fill="none" stroke="#000" stroke-width="1.1"/>
<rect x="44.1" y="640.2" width="122.9" height="16.8" fill="#C4C4C4"/>
<ellipse cx="60.1" cy="648.6" rx="16.4" ry="3.0" fill="#2A2A2A" opacity="0.45" filter="url(#bl1)"/>
<rect x="45.8" y="646.7" width="28.6" height="3.8" rx="1.9" fill="#2A2A2A" filter="url(#bl0)"/>
<ellipse cx="90.8" cy="648.6" rx="16.3" ry="3.2" fill="#202020" opacity="0.45" filter="url(#bl1)"/>
<rect x="76.6" y="646.5" width="28.4" height="4.1" rx="2.1" fill="#202020" filter="url(#bl0)"/>
<ellipse cx="121.1" cy="648.6" rx="15.8" ry="3.7" fill="#050505" opacity="0.45" filter="url(#bl1)"/>
<rect x="107.4" y="646.1" width="27.4" height="5.0" rx="2.5" fill="#050505" filter="url(#bl0)"/>
<ellipse cx="151.4" cy="648.6" rx="16.5" ry="3.4" fill="#101010" opacity="0.45" filter="url(#bl1)"/>
<rect x="137.0" y="646.4" width="28.8" height="4.5" rx="2.2" fill="#101010" filter="url(#bl0)"/>
<rect x="44.1" y="640.2" width="122.9" height="16.8" fill="none" stroke="#000" stroke-width="1.1"/>
<rect x="44.1" y="660.0" width="122.9" height="14.9" fill="#DADADA"/>
<ellipse cx="60.1" cy="668.2" rx="16.4" ry="2.3" fill="#808080" opacity="0.45" filter="url(#bl1)"/>
<rect x="45.8" y="666.9" width="28.6" height="2.5" rx="1.3" fill="#808080" filter="url(#bl0)"/>
<ellipse cx="90.8" cy="668.2" rx="16.3" ry="2.3" fill="#959595" opacity="0.45" filter="url(#bl1)"/>
<rect x="76.6" y="666.9" width="28.4" height="2.5" rx="1.3" fill="#959595" filter="url(#bl0)"/>
<ellipse cx="121.1" cy="668.2" rx="15.8" ry="2.3" fill="#5E5E5E" opacity="0.45" filter="url(#bl1)"/>
<rect x="107.4" y="666.9" width="27.4" height="2.5" rx="1.3" fill="#5E5E5E" filter="url(#bl0)"/>
<ellipse cx="151.4" cy="668.2" rx="16.5" ry="2.3" fill="#959595" opacity="0.45" filter="url(#bl1)"/>
<rect x="137.0" y="666.9" width="28.8" height="2.5" rx="1.3" fill="#959595" filter="url(#bl0)"/>
<rect x="44.1" y="660.0" width="122.9" height="14.9" fill="none" stroke="#000" stroke-width="1.1"/>
<rect x="44.1" y="678.1" width="122.9" height="14.2" fill="#D0D0D0"/>
<ellipse cx="60.1" cy="685.6" rx="16.4" ry="2.6" fill="#383838" opacity="0.45" filter="url(#bl1)"/>
<rect x="45.8" y="684.1" width="28.6" height="3.1" rx="1.5" fill="#383838" filter="url(#bl0)"/>
<ellipse cx="90.8" cy="685.6" rx="16.3" ry="2.6" fill="#4A4A4A" opacity="0.45" filter="url(#bl1)"/>
<rect x="76.6" y="684.1" width="28.4" height="3.1" rx="1.5" fill="#4A4A4A" filter="url(#bl0)"/>
<ellipse cx="121.1" cy="685.6" rx="15.8" ry="2.6" fill="#525252" opacity="0.45" filter="url(#bl1)"/>
<rect x="107.4" y="684.1" width="27.4" height="3.1" rx="1.5" fill="#525252" filter="url(#bl0)"/>
<ellipse cx="151.4" cy="685.6" rx="16.5" ry="2.6" fill="#4A4A4A" opacity="0.45" filter="url(#bl1)"/>
<rect x="137.0" y="684.1" width="28.8" height="3.1" rx="1.5" fill="#4A4A4A" filter="url(#bl0)"/>
<rect x="44.1" y="678.1" width="122.9" height="14.2" fill="none" stroke="#000" stroke-width="1.1"/>
<line x1="167.0" y1="606.5" x2="175.2" y2="606.5" stroke="#000" stroke-width="1.0"/>
<text x="177.8" y="610.8" font-size="9.8">37</text>
<line x1="167.0" y1="626.5" x2="175.2" y2="626.5" stroke="#000" stroke-width="1.0"/>
<text x="177.8" y="630.6" font-size="9.8">37</text>
<line x1="167.0" y1="642.5" x2="175.2" y2="642.5" stroke="#000" stroke-width="1.0"/>
<text x="177.8" y="646.8" font-size="9.8">50</text>
<line x1="167.0" y1="662.5" x2="175.2" y2="662.5" stroke="#000" stroke-width="1.0"/>
<text x="177.8" y="666.1" font-size="9.8">37</text>
<line x1="167.0" y1="679.5" x2="175.2" y2="679.5" stroke="#000" stroke-width="1.0"/>
<text x="177.8" y="683.0" font-size="9.8">50</text>
<text x="40.4" y="616.2" font-size="10" text-anchor="end">PCNA</text>
<text x="40.4" y="634.2" font-size="10" text-anchor="end">Bcl-xL</text>
<text x="40.4" y="653.0" font-size="10" text-anchor="end">β-actin</text>
<text x="40.4" y="670.8" font-size="10" text-anchor="end">Bax</text>
<text x="40.4" y="690.8" font-size="10" text-anchor="end">β-actin</text>
<rect x="313.9" y="543.2" width="9.8" height="9.6" fill="#FFFFFF" stroke="#000" stroke-width="1"/>
<text x="326.4" y="552.0" font-size="11.6">shRNA control BMOL</text>
<rect x="313.9" y="557.0" width="9.8" height="9.8" fill="#8E8E8E" stroke="#000" stroke-width="1"/>
<text x="326.4" y="566.3" font-size="10.1">shRNA <tspan font-style="italic">Txnip</tspan> BMOL</text>
<line x1="228.9" y1="580.4" x2="228.9" y2="600.0" stroke="#777" stroke-width="0.7"/>
<line x1="227.4" y1="600.5" x2="307.7" y2="600.5" stroke="#777" stroke-width="1.0"/>
<line x1="248.2" y1="600.0" x2="248.2" y2="601.6" stroke="#777" stroke-width="0.7"/>
<line x1="289.7" y1="600.0" x2="289.7" y2="601.6" stroke="#777" stroke-width="0.7"/>
<text x="226.3" y="542.9" font-size="9.4" text-anchor="end">2</text>
<text x="226.3" y="572.0" font-size="9.4" text-anchor="end">1</text>
<text x="226.3" y="600.7" font-size="9.4" text-anchor="end">0</text>
<rect x="235.6" y="569.6" width="10.8" height="30.4" fill="#FFF" stroke="#333" stroke-width="0.8"/>
<rect x="250.5" y="565.2" width="11.2" height="34.8" fill="#8E8E8E" stroke="#333" stroke-width="0.8"/>
<rect x="276.6" y="575.7" width="11.0" height="24.3" fill="#FFF" stroke="#333" stroke-width="0.8"/>
<rect x="291.1" y="563.8" width="11.4" height="36.2" fill="#8E8E8E" stroke="#333" stroke-width="0.8"/>
<line x1="241.0" y1="567.0" x2="241.0" y2="571.5" stroke="#000" stroke-width="0.8"/>
<line x1="239.0" y1="567.0" x2="243.0" y2="567.0" stroke="#000" stroke-width="0.8"/>
<line x1="239.0" y1="571.5" x2="243.0" y2="571.5" stroke="#000" stroke-width="0.8"/>
<line x1="256.1" y1="563.2" x2="256.1" y2="566.4" stroke="#000" stroke-width="0.8"/>
<line x1="254.1" y1="563.2" x2="258.1" y2="563.2" stroke="#000" stroke-width="0.8"/>
<line x1="254.1" y1="566.4" x2="258.1" y2="566.4" stroke="#000" stroke-width="0.8"/>
<line x1="282.1" y1="573.5" x2="282.1" y2="577.0" stroke="#000" stroke-width="0.8"/>
<line x1="280.1" y1="573.5" x2="284.1" y2="573.5" stroke="#000" stroke-width="0.8"/>
<line x1="280.1" y1="577.0" x2="284.1" y2="577.0" stroke="#000" stroke-width="0.8"/>
<line x1="296.8" y1="561.2" x2="296.8" y2="565.6" stroke="#000" stroke-width="0.8"/>
<line x1="294.8" y1="561.2" x2="298.8" y2="561.2" stroke="#000" stroke-width="0.8"/>
<line x1="294.8" y1="565.6" x2="298.8" y2="565.6" stroke="#000" stroke-width="0.8"/>
<circle cx="237.1" cy="566.4" r="1.6" fill="#FFFFFF" stroke="#000" stroke-width="1.15"/><circle cx="237.1" cy="571.7" r="1.6" fill="#FFFFFF" stroke="#000" stroke-width="1.15"/><circle cx="244.7" cy="569.6" r="1.6" fill="#FFFFFF" stroke="#000" stroke-width="1.15"/><circle cx="252.2" cy="565.9" r="1.6" fill="#FFFFFF" stroke="#000" stroke-width="1.15"/><circle cx="256.1" cy="563.4" r="1.6" fill="#FFFFFF" stroke="#000" stroke-width="1.15"/><circle cx="259.9" cy="565.0" r="1.6" fill="#FFFFFF" stroke="#000" stroke-width="1.15"/><circle cx="278.0" cy="575.7" r="1.6" fill="#FFFFFF" stroke="#000" stroke-width="1.15"/><circle cx="281.8" cy="573.4" r="1.6" fill="#FFFFFF" stroke="#000" stroke-width="1.15"/><circle cx="285.8" cy="574.8" r="1.6" fill="#FFFFFF" stroke="#000" stroke-width="1.15"/><circle cx="292.9" cy="564.1" r="1.6" fill="#FFFFFF" stroke="#000" stroke-width="1.15"/><circle cx="296.7" cy="562.0" r="1.6" fill="#FFFFFF" stroke="#000" stroke-width="1.15"/><circle cx="300.6" cy="563.8" r="1.6" fill="#FFFFFF" stroke="#000" stroke-width="1.15"/>
<text x="215.8" y="566.5" font-size="10" text-anchor="middle" transform="rotate(-90 215.8 566.5)">PCNA (fold)</text>
<text x="275.3" y="532.3" font-size="7.3" text-anchor="middle">n.s</text>
<line x1="256.4" y1="534.5" x2="295.0" y2="534.5" stroke="#000" stroke-width="1.0"/>
<text x="260.4" y="544.0" font-size="7.2" text-anchor="middle"><tspan font-style="italic">P</tspan>=0.0186</text>
<line x1="240.3" y1="546.5" x2="280.6" y2="546.5" stroke="#000" stroke-width="1.0"/>
<text x="250.1" y="554.2" font-size="7.2" text-anchor="middle"><tspan font-style="italic">P</tspan>=0.0343</text>
<line x1="239.4" y1="556.5" x2="260.4" y2="556.5" stroke="#000" stroke-width="1.0"/>
<text x="288.5" y="554.2" font-size="7.2" text-anchor="middle"><tspan font-style="italic">P</tspan>=0.0003</text>
<line x1="278.0" y1="556.5" x2="302.5" y2="556.5" stroke="#000" stroke-width="1.0"/>
<line x1="228.6" y1="616.6" x2="228.6" y2="677.4" stroke="#777" stroke-width="0.7"/>
<line x1="227.1" y1="677.5" x2="307.2" y2="677.5" stroke="#777" stroke-width="1.0"/>
<line x1="227.0" y1="618.4" x2="228.6" y2="618.4" stroke="#777" stroke-width="0.7"/>
<text x="226.6" y="621.7" font-size="9.4" text-anchor="end">3</text>
<line x1="227.0" y1="637.7" x2="228.6" y2="637.7" stroke="#777" stroke-width="0.7"/>
<text x="226.6" y="641.0" font-size="9.4" text-anchor="end">2</text>
<line x1="227.0" y1="657.8" x2="228.6" y2="657.8" stroke="#777" stroke-width="0.7"/>
<text x="226.6" y="661.1" font-size="9.4" text-anchor="end">1</text>
<text x="226.6" y="682.3" font-size="9.4" text-anchor="end">0</text>
<rect x="234.5" y="657.5" width="11.4" height="19.9" fill="#FFF" stroke="#333" stroke-width="0.8"/>
<rect x="249.6" y="645.9" width="11.2" height="31.5" fill="#8E8E8E" stroke="#333" stroke-width="0.8"/>
<rect x="275.7" y="662.7" width="11.4" height="14.7" fill="#FFF" stroke="#333" stroke-width="0.8"/>
<rect x="290.8" y="639.4" width="11.2" height="38.0" fill="#8E8E8E" stroke="#333" stroke-width="0.8"/>
<line x1="240.2" y1="655.3" x2="240.2" y2="659.2" stroke="#000" stroke-width="0.8"/>
<line x1="238.2" y1="655.3" x2="242.2" y2="655.3" stroke="#000" stroke-width="0.8"/>
<line x1="238.2" y1="659.2" x2="242.2" y2="659.2" stroke="#000" stroke-width="0.8"/>
<line x1="255.2" y1="642.5" x2="255.2" y2="648.2" stroke="#000" stroke-width="0.8"/>
<line x1="253.2" y1="642.5" x2="257.2" y2="642.5" stroke="#000" stroke-width="0.8"/>
<line x1="253.2" y1="648.2" x2="257.2" y2="648.2" stroke="#000" stroke-width="0.8"/>
<line x1="281.4" y1="660.8" x2="281.4" y2="664.0" stroke="#000" stroke-width="0.8"/>
<line x1="279.4" y1="660.8" x2="283.4" y2="660.8" stroke="#000" stroke-width="0.8"/>
<line x1="279.4" y1="664.0" x2="283.4" y2="664.0" stroke="#000" stroke-width="0.8"/>
<line x1="296.4" y1="637.0" x2="296.4" y2="642.0" stroke="#000" stroke-width="0.8"/>
<line x1="294.4" y1="637.0" x2="298.4" y2="637.0" stroke="#000" stroke-width="0.8"/>
<line x1="294.4" y1="642.0" x2="298.4" y2="642.0" stroke="#000" stroke-width="0.8"/>
<circle cx="236.3" cy="659.2" r="1.6" fill="#FFFFFF" stroke="#000" stroke-width="1.15"/><circle cx="240.6" cy="656.4" r="1.6" fill="#FFFFFF" stroke="#000" stroke-width="1.15"/><circle cx="244.1" cy="656.9" r="1.6" fill="#FFFFFF" stroke="#000" stroke-width="1.15"/><circle cx="251.2" cy="646.4" r="1.6" fill="#FFFFFF" stroke="#000" stroke-width="1.15"/><circle cx="255.4" cy="642.0" r="1.6" fill="#FFFFFF" stroke="#000" stroke-width="1.15"/><circle cx="259.2" cy="645.9" r="1.6" fill="#FFFFFF" stroke="#000" stroke-width="1.15"/><circle cx="277.1" cy="663.1" r="1.6" fill="#FFFFFF" stroke="#000" stroke-width="1.15"/><circle cx="281.1" cy="661.3" r="1.6" fill="#FFFFFF" stroke="#000" stroke-width="1.15"/><circle cx="285.0" cy="662.7" r="1.6" fill="#FFFFFF" stroke="#000" stroke-width="1.15"/><circle cx="292.0" cy="637.1" r="1.6" fill="#FFFFFF" stroke="#000" stroke-width="1.15"/><circle cx="292.5" cy="641.7" r="1.6" fill="#FFFFFF" stroke="#000" stroke-width="1.15"/><circle cx="296.0" cy="639.4" r="1.6" fill="#FFFFFF" stroke="#000" stroke-width="1.15"/><circle cx="299.9" cy="639.4" r="1.6" fill="#FFFFFF" stroke="#000" stroke-width="1.15"/>
<text x="216.6" y="646.8" font-size="10" text-anchor="middle" transform="rotate(-90 216.6 646.8)">Bcl-xL (fold)</text>
<text x="274.5" y="608.8" font-size="7.3" text-anchor="middle">n.s</text>
<line x1="256.1" y1="611.5" x2="294.6" y2="611.5" stroke="#000" stroke-width="1.0"/>
<text x="259.6" y="620.1" font-size="7.2" text-anchor="middle"><tspan font-style="italic">P</tspan>=0.0165</text>
<line x1="238.9" y1="622.5" x2="279.7" y2="622.5" stroke="#000" stroke-width="1.0"/>
<text x="249.1" y="630.7" font-size="7.2" text-anchor="middle"><tspan font-style="italic">P</tspan>=0.0021</text>
<line x1="238.9" y1="632.5" x2="260.4" y2="632.5" stroke="#000" stroke-width="1.0"/>
<text x="287.6" y="630.7" font-size="7.2" text-anchor="middle"><tspan font-style="italic">P</tspan>=0.0002</text>
<line x1="277.1" y1="632.5" x2="297.2" y2="632.5" stroke="#000" stroke-width="1.0"/>
<text x="248.4" y="689.0" font-size="8.5" text-anchor="middle">Vehicle</text>
<text x="293.6" y="689.0" font-size="8.5" text-anchor="middle">1,25(OH)<tspan font-size="5.4" dy="1.6">2</tspan><tspan dy="-1.6">D</tspan><tspan font-size="5.4" dy="1.6">3</tspan></text>
<line x1="339.5" y1="616.4" x2="339.5" y2="677.3" stroke="#777" stroke-width="0.7"/>
<line x1="338.0" y1="677.5" x2="417.5" y2="677.5" stroke="#777" stroke-width="1.0"/>
<line x1="337.9" y1="619.5" x2="339.5" y2="619.5" stroke="#777" stroke-width="0.7"/>
<text x="337.4" y="622.8" font-size="9.4" text-anchor="end">2</text>
<line x1="337.9" y1="647.6" x2="339.5" y2="647.6" stroke="#777" stroke-width="0.7"/>
<text x="337.4" y="650.9" font-size="9.4" text-anchor="end">1</text>
<text x="337.4" y="681.0" font-size="9.4" text-anchor="end">0</text>
<rect x="345.1" y="647.6" width="11.6" height="29.7" fill="#FFF" stroke="#333" stroke-width="0.8"/>
<rect x="360.2" y="654.2" width="11.2" height="23.1" fill="#8E8E8E" stroke="#333" stroke-width="0.8"/>
<rect x="386.0" y="641.4" width="11.3" height="35.9" fill="#FFF" stroke="#333" stroke-width="0.8"/>
<rect x="400.8" y="656.7" width="11.1" height="20.6" fill="#8E8E8E" stroke="#333" stroke-width="0.8"/>
<line x1="350.9" y1="645.8" x2="350.9" y2="648.6" stroke="#000" stroke-width="0.8"/>
<line x1="348.9" y1="645.8" x2="352.9" y2="645.8" stroke="#000" stroke-width="0.8"/>
<line x1="348.9" y1="648.6" x2="352.9" y2="648.6" stroke="#000" stroke-width="0.8"/>
<line x1="365.8" y1="652.4" x2="365.8" y2="655.4" stroke="#000" stroke-width="0.8"/>
<line x1="363.8" y1="652.4" x2="367.8" y2="652.4" stroke="#000" stroke-width="0.8"/>
<line x1="363.8" y1="655.4" x2="367.8" y2="655.4" stroke="#000" stroke-width="0.8"/>
<line x1="391.6" y1="633.9" x2="391.6" y2="644.4" stroke="#000" stroke-width="0.8"/>
<line x1="389.6" y1="633.9" x2="393.6" y2="633.9" stroke="#000" stroke-width="0.8"/>
<line x1="389.6" y1="644.4" x2="393.6" y2="644.4" stroke="#000" stroke-width="0.8"/>
<line x1="406.4" y1="653.6" x2="406.4" y2="660.2" stroke="#000" stroke-width="0.8"/>
<line x1="404.4" y1="653.6" x2="408.4" y2="653.6" stroke="#000" stroke-width="0.8"/>
<line x1="404.4" y1="660.2" x2="408.4" y2="660.2" stroke="#000" stroke-width="0.8"/>
<circle cx="346.9" cy="647.9" r="1.6" fill="#FFFFFF" stroke="#000" stroke-width="1.15"/><circle cx="350.9" cy="646.3" r="1.6" fill="#FFFFFF" stroke="#000" stroke-width="1.15"/><circle cx="354.9" cy="647.2" r="1.6" fill="#FFFFFF" stroke="#000" stroke-width="1.15"/><circle cx="361.4" cy="654.9" r="1.6" fill="#FFFFFF" stroke="#000" stroke-width="1.15"/><circle cx="365.8" cy="653.2" r="1.6" fill="#FFFFFF" stroke="#000" stroke-width="1.15"/><circle cx="369.8" cy="653.7" r="1.6" fill="#FFFFFF" stroke="#000" stroke-width="1.15"/><circle cx="387.7" cy="642.3" r="1.6" fill="#FFFFFF" stroke="#000" stroke-width="1.15"/><circle cx="391.6" cy="633.9" r="1.6" fill="#FFFFFF" stroke="#000" stroke-width="1.15"/><circle cx="395.6" cy="640.9" r="1.6" fill="#FFFFFF" stroke="#000" stroke-width="1.15"/><circle cx="402.2" cy="655.4" r="1.6" fill="#FFFFFF" stroke="#000" stroke-width="1.15"/><circle cx="402.6" cy="659.5" r="1.6" fill="#FFFFFF" stroke="#000" stroke-width="1.15"/><circle cx="406.5" cy="656.7" r="1.6" fill="#FFFFFF" stroke="#000" stroke-width="1.15"/><circle cx="410.5" cy="656.3" r="1.6" fill="#FFFFFF" stroke="#000" stroke-width="1.15"/>
<text x="324.6" y="647.2" font-size="10" text-anchor="middle" transform="rotate(-90 324.6 647.2)">Bax (fold)</text>
<text x="386.0" y="604.1" font-size="7.3" text-anchor="middle">n.s</text>
<line x1="367.0" y1="606.5" x2="405.8" y2="606.5" stroke="#000" stroke-width="1.0"/>
<text x="370.7" y="615.7" font-size="7.2" text-anchor="middle"><tspan font-style="italic">P</tspan>=0.0420</text>
<line x1="350.0" y1="618.5" x2="391.2" y2="618.5" stroke="#000" stroke-width="1.0"/>
<text x="360.6" y="626.2" font-size="7.2" text-anchor="middle"><tspan font-style="italic">P</tspan>=0.0006</text>
<line x1="350.0" y1="628.5" x2="370.2" y2="628.5" stroke="#000" stroke-width="1.0"/>
<text x="399.1" y="626.2" font-size="7.2" text-anchor="middle"><tspan font-style="italic">P</tspan>=0.0045</text>
<line x1="388.2" y1="628.5" x2="408.7" y2="628.5" stroke="#000" stroke-width="1.0"/>
<text x="359.1" y="687.9" font-size="8.5" text-anchor="middle">Vehicle</text>
<text x="403.6" y="687.9" font-size="8.5" text-anchor="middle">1,25(OH)<tspan font-size="5.4" dy="1.6">2</tspan><tspan dy="-1.6">D</tspan><tspan font-size="5.4" dy="1.6">3</tspan></text>
<text x="459.2" y="542.6" font-size="10">H</text>
<rect x="492.6" y="541.3" width="8.8" height="9.4" fill="#FFFFFF" stroke="#000" stroke-width="1"/>
<text x="503.7" y="549.2" font-size="10"><tspan font-style="italic">Txnip<tspan font-size="7.0" dy="-3.6">fl/fl</tspan></tspan><tspan dy="3.6"> -cholangiocyte</tspan></text>
<rect x="492.6" y="555.6" width="8.8" height="9.4" fill="#8E8E8E" stroke="#000" stroke-width="1"/>
<text x="503.7" y="563.8" font-size="10"><tspan font-style="italic">Txnip<tspan font-size="6.6" dy="-3.6">ΔSOX9</tspan></tspan><tspan dy="3.6">-cholangiocyte</tspan></text>
<line x1="487.5" y1="582.8" x2="487.5" y2="660.7" stroke="#000" stroke-width="1.1"/>
<line x1="487.1" y1="660.5" x2="685.0" y2="660.5" stroke="#000" stroke-width="1.1"/>
<line x1="484.8" y1="660.5" x2="487.6" y2="660.5" stroke="#000" stroke-width="1.1"/>
<text x="482.4" y="663.4" font-size="9" text-anchor="end">0</text>
<line x1="484.8" y1="640.5" x2="487.6" y2="640.5" stroke="#000" stroke-width="1.1"/>
<text x="482.4" y="644.2" font-size="9" text-anchor="end">1</text>
<line x1="484.8" y1="621.5" x2="487.6" y2="621.5" stroke="#000" stroke-width="1.1"/>
<text x="482.4" y="625.0" font-size="9" text-anchor="end">2</text>
<line x1="484.8" y1="602.5" x2="487.6" y2="602.5" stroke="#000" stroke-width="1.1"/>
<text x="482.4" y="605.7" font-size="9" text-anchor="end">3</text>
<line x1="484.8" y1="583.5" x2="487.6" y2="583.5" stroke="#000" stroke-width="1.1"/>
<text x="482.4" y="586.5" font-size="9" text-anchor="end">4</text>
<line x1="508.5" y1="660.2" x2="508.5" y2="662.4" stroke="#000" stroke-width="1.0"/>
<line x1="547.5" y1="660.2" x2="547.5" y2="662.4" stroke="#000" stroke-width="1.0"/>
<line x1="587.5" y1="660.2" x2="587.5" y2="662.4" stroke="#000" stroke-width="1.0"/>
<line x1="626.5" y1="660.2" x2="626.5" y2="662.4" stroke="#000" stroke-width="1.0"/>
<line x1="665.5" y1="660.2" x2="665.5" y2="662.4" stroke="#000" stroke-width="1.0"/>
<rect x="496.2" y="641.2" width="11.3" height="19.0" fill="#FFF" stroke="#000" stroke-width="1.0"/>
<line x1="501.9" y1="640.0" x2="501.9" y2="642.3" stroke="#000" stroke-width="0.8"/>
<line x1="499.9" y1="640.0" x2="503.9" y2="640.0" stroke="#000" stroke-width="0.8"/>
<line x1="499.9" y1="642.3" x2="503.9" y2="642.3" stroke="#000" stroke-width="0.8"/>
<circle cx="498.5" cy="640.8" r="1.6" fill="#FFFFFF" stroke="#000" stroke-width="1.15"/><circle cx="500.8" cy="640.5" r="1.6" fill="#FFFFFF" stroke="#000" stroke-width="1.15"/><circle cx="503.0" cy="640.4" r="1.6" fill="#FFFFFF" stroke="#000" stroke-width="1.15"/><circle cx="505.2" cy="639.9" r="1.6" fill="#FFFFFF" stroke="#000" stroke-width="1.15"/>
<rect x="510.7" y="607.9" width="11.0" height="52.3" fill="#8E8E8E" stroke="#000" stroke-width="1.0"/>
<line x1="516.2" y1="605.6" x2="516.2" y2="610.2" stroke="#000" stroke-width="0.8"/>
<line x1="514.2" y1="605.6" x2="518.2" y2="605.6" stroke="#000" stroke-width="0.8"/>
<line x1="514.2" y1="610.2" x2="518.2" y2="610.2" stroke="#000" stroke-width="0.8"/>
<circle cx="512.8" cy="606.6" r="1.6" fill="#FFFFFF" stroke="#000" stroke-width="1.15"/><circle cx="515.1" cy="605.6" r="1.6" fill="#FFFFFF" stroke="#000" stroke-width="1.15"/><circle cx="517.3" cy="610.5" r="1.6" fill="#FFFFFF" stroke="#000" stroke-width="1.15"/><circle cx="519.6" cy="608.1" r="1.6" fill="#FFFFFF" stroke="#000" stroke-width="1.15"/>
<rect x="535.3" y="641.2" width="11.3" height="19.0" fill="#FFF" stroke="#000" stroke-width="1.0"/>
<line x1="540.9" y1="640.0" x2="540.9" y2="642.3" stroke="#000" stroke-width="0.8"/>
<line x1="538.9" y1="640.0" x2="542.9" y2="640.0" stroke="#000" stroke-width="0.8"/>
<line x1="538.9" y1="642.3" x2="542.9" y2="642.3" stroke="#000" stroke-width="0.8"/>
<circle cx="537.5" cy="639.9" r="1.6" fill="#FFFFFF" stroke="#000" stroke-width="1.15"/><circle cx="539.8" cy="640.8" r="1.6" fill="#FFFFFF" stroke="#000" stroke-width="1.15"/><circle cx="542.0" cy="640.1" r="1.6" fill="#FFFFFF" stroke="#000" stroke-width="1.15"/><circle cx="544.3" cy="642.2" r="1.6" fill="#FFFFFF" stroke="#000" stroke-width="1.15"/>
<rect x="549.8" y="590.0" width="11.0" height="70.2" fill="#8E8E8E" stroke="#000" stroke-width="1.0"/>
<line x1="555.3" y1="587.7" x2="555.3" y2="592.4" stroke="#000" stroke-width="0.8"/>
<line x1="553.3" y1="587.7" x2="557.3" y2="587.7" stroke="#000" stroke-width="0.8"/>
<line x1="553.3" y1="592.4" x2="557.3" y2="592.4" stroke="#000" stroke-width="0.8"/>
<circle cx="551.9" cy="590.2" r="1.6" fill="#FFFFFF" stroke="#000" stroke-width="1.15"/><circle cx="554.2" cy="591.4" r="1.6" fill="#FFFFFF" stroke="#000" stroke-width="1.15"/><circle cx="556.4" cy="589.8" r="1.6" fill="#FFFFFF" stroke="#000" stroke-width="1.15"/><circle cx="558.7" cy="589.6" r="1.6" fill="#FFFFFF" stroke="#000" stroke-width="1.15"/>
<rect x="574.4" y="641.2" width="11.3" height="19.0" fill="#FFF" stroke="#000" stroke-width="1.0"/>
<line x1="580.0" y1="640.0" x2="580.0" y2="642.3" stroke="#000" stroke-width="0.8"/>
<line x1="578.0" y1="640.0" x2="582.0" y2="640.0" stroke="#000" stroke-width="0.8"/>
<line x1="578.0" y1="642.3" x2="582.0" y2="642.3" stroke="#000" stroke-width="0.8"/>
<circle cx="576.6" cy="642.5" r="1.6" fill="#FFFFFF" stroke="#000" stroke-width="1.15"/><circle cx="578.9" cy="642.0" r="1.6" fill="#FFFFFF" stroke="#000" stroke-width="1.15"/><circle cx="581.1" cy="641.8" r="1.6" fill="#FFFFFF" stroke="#000" stroke-width="1.15"/><circle cx="583.4" cy="640.0" r="1.6" fill="#FFFFFF" stroke="#000" stroke-width="1.15"/>
<rect x="588.9" y="655.2" width="11.0" height="5.0" fill="#8E8E8E" stroke="#000" stroke-width="1.0"/>
<line x1="594.4" y1="654.0" x2="594.4" y2="656.4" stroke="#000" stroke-width="0.8"/>
<line x1="592.4" y1="654.0" x2="596.4" y2="654.0" stroke="#000" stroke-width="0.8"/>
<line x1="592.4" y1="656.4" x2="596.4" y2="656.4" stroke="#000" stroke-width="0.8"/>
<circle cx="591.0" cy="654.5" r="1.6" fill="#FFFFFF" stroke="#000" stroke-width="1.15"/><circle cx="593.3" cy="656.1" r="1.6" fill="#FFFFFF" stroke="#000" stroke-width="1.15"/><circle cx="595.5" cy="654.4" r="1.6" fill="#FFFFFF" stroke="#000" stroke-width="1.15"/><circle cx="597.8" cy="656.2" r="1.6" fill="#FFFFFF" stroke="#000" stroke-width="1.15"/>
<rect x="613.5" y="640.6" width="11.3" height="19.6" fill="#FFF" stroke="#000" stroke-width="1.0"/>
<line x1="619.1" y1="639.4" x2="619.1" y2="641.7" stroke="#000" stroke-width="0.8"/>
<line x1="617.1" y1="639.4" x2="621.1" y2="639.4" stroke="#000" stroke-width="0.8"/>
<line x1="617.1" y1="641.7" x2="621.1" y2="641.7" stroke="#000" stroke-width="0.8"/>
<circle cx="615.8" cy="640.3" r="1.6" fill="#FFFFFF" stroke="#000" stroke-width="1.15"/><circle cx="618.0" cy="641.6" r="1.6" fill="#FFFFFF" stroke="#000" stroke-width="1.15"/><circle cx="620.2" cy="642.0" r="1.6" fill="#FFFFFF" stroke="#000" stroke-width="1.15"/><circle cx="622.5" cy="639.6" r="1.6" fill="#FFFFFF" stroke="#000" stroke-width="1.15"/>
<rect x="628.0" y="656.4" width="11.0" height="3.8" fill="#8E8E8E" stroke="#000" stroke-width="1.0"/>
<line x1="633.5" y1="655.2" x2="633.5" y2="657.5" stroke="#000" stroke-width="0.8"/>
<line x1="631.5" y1="655.2" x2="635.5" y2="655.2" stroke="#000" stroke-width="0.8"/>
<line x1="631.5" y1="657.5" x2="635.5" y2="657.5" stroke="#000" stroke-width="0.8"/>
<circle cx="630.1" cy="657.2" r="1.6" fill="#FFFFFF" stroke="#000" stroke-width="1.15"/><circle cx="632.4" cy="657.1" r="1.6" fill="#FFFFFF" stroke="#000" stroke-width="1.15"/><circle cx="634.6" cy="655.0" r="1.6" fill="#FFFFFF" stroke="#000" stroke-width="1.15"/><circle cx="636.9" cy="655.3" r="1.6" fill="#FFFFFF" stroke="#000" stroke-width="1.15"/>
<rect x="652.6" y="641.2" width="11.3" height="19.0" fill="#FFF" stroke="#000" stroke-width="1.0"/>
<line x1="658.2" y1="640.0" x2="658.2" y2="642.3" stroke="#000" stroke-width="0.8"/>
<line x1="656.2" y1="640.0" x2="660.2" y2="640.0" stroke="#000" stroke-width="0.8"/>
<line x1="656.2" y1="642.3" x2="660.2" y2="642.3" stroke="#000" stroke-width="0.8"/>
<circle cx="654.9" cy="641.8" r="1.6" fill="#FFFFFF" stroke="#000" stroke-width="1.15"/><circle cx="657.1" cy="639.9" r="1.6" fill="#FFFFFF" stroke="#000" stroke-width="1.15"/><circle cx="659.4" cy="641.1" r="1.6" fill="#FFFFFF" stroke="#000" stroke-width="1.15"/><circle cx="661.6" cy="640.7" r="1.6" fill="#FFFFFF" stroke="#000" stroke-width="1.15"/>
<rect x="667.1" y="653.1" width="11.0" height="7.1" fill="#8E8E8E" stroke="#000" stroke-width="1.0"/>
<line x1="672.6" y1="651.9" x2="672.6" y2="654.2" stroke="#000" stroke-width="0.8"/>
<line x1="670.6" y1="651.9" x2="674.6" y2="651.9" stroke="#000" stroke-width="0.8"/>
<line x1="670.6" y1="654.2" x2="674.6" y2="654.2" stroke="#000" stroke-width="0.8"/>
<circle cx="669.2" cy="653.9" r="1.6" fill="#FFFFFF" stroke="#000" stroke-width="1.15"/><circle cx="671.5" cy="651.9" r="1.6" fill="#FFFFFF" stroke="#000" stroke-width="1.15"/><circle cx="673.7" cy="652.6" r="1.6" fill="#FFFFFF" stroke="#000" stroke-width="1.15"/><circle cx="676.0" cy="651.8" r="1.6" fill="#FFFFFF" stroke="#000" stroke-width="1.15"/>
<text x="508.6" y="592.8" font-size="7.0" text-anchor="middle"><tspan font-style="italic">P</tspan>&lt;0.0001</text>
<line x1="497.0" y1="595.5" x2="516.7" y2="595.5" stroke="#000" stroke-width="0.9"/>
<text x="548.2" y="578.8" font-size="7.0" text-anchor="middle"><tspan font-style="italic">P</tspan>&lt;0.0001</text>
<line x1="537.3" y1="581.5" x2="557.5" y2="581.5" stroke="#000" stroke-width="0.9"/>
<text x="587.7" y="629.4" font-size="7.0" text-anchor="middle"><tspan font-style="italic">P</tspan>&lt;0.0001</text>
<line x1="575.2" y1="631.5" x2="599.2" y2="631.5" stroke="#000" stroke-width="0.9"/>
<text x="626.7" y="628.7" font-size="7.0" text-anchor="middle"><tspan font-style="italic">P</tspan>&lt;0.0001</text>
<line x1="614.2" y1="630.5" x2="637.8" y2="630.5" stroke="#000" stroke-width="0.9"/>
<text x="664.4" y="628.7" font-size="7.0" text-anchor="middle"><tspan font-style="italic">P</tspan>&lt;0.0001</text>
<line x1="651.7" y1="630.5" x2="676.0" y2="630.5" stroke="#000" stroke-width="0.9"/>
<text x="514.6" y="670.6" font-size="10.4" text-anchor="end" font-style="italic" transform="rotate(-30 514.6 670.6)">Pcna</text>
<text x="553.7" y="670.6" font-size="10.4" text-anchor="end" font-style="italic" transform="rotate(-30 553.7 670.6)">Bcl2</text>
<text x="592.8" y="670.6" font-size="10.4" text-anchor="end" font-style="italic" transform="rotate(-30 592.8 670.6)">Bax</text>
<text x="631.9" y="670.6" font-size="10.4" text-anchor="end" font-style="italic" transform="rotate(-30 631.9 670.6)">Casp3</text>
<text x="671.0" y="670.6" font-size="10.4" text-anchor="end" font-style="italic" transform="rotate(-30 671.0 670.6)">Casp9</text>
<text x="469.0" y="621.5" font-size="10" text-anchor="middle" transform="rotate(-90 469.0 621.5)">Fold change</text>
<defs><filter id="gb1" x="-5%" y="-5%" width="110%" height="110%"><feGaussianBlur stdDeviation="5"/></filter><filter id="gb2" x="-5%" y="-5%" width="110%" height="110%"><feGaussianBlur stdDeviation="2.2"/></filter><filter id="wp" x="-5%" y="-5%" width="110%" height="110%"><feTurbulence type="fractalNoise" baseFrequency="0.02" numOctaves="1" seed="4" result="n"/><feDisplacementMap in="SourceGraphic" in2="n" scale="34" xChannelSelector="R" yChannelSelector="G"/><feGaussianBlur stdDeviation="1.8"/></filter><filter id="wp2" x="-5%" y="-5%" width="110%" height="110%"><feTurbulence type="fractalNoise" baseFrequency="0.018" numOctaves="1" seed="9" result="n"/><feDisplacementMap in="SourceGraphic" in2="n" scale="36" xChannelSelector="R" yChannelSelector="G"/><feGaussianBlur stdDeviation="2.6"/></filter><filter id="nzA" x="0" y="0" width="100%" height="100%"><feTurbulence type="fractalNoise" baseFrequency="0.22" numOctaves="2" seed="7"/><feColorMatrix values="0 0 0 0 0.15  0 0 0 0 0.05  0 0 0 0 0  2.6 0 0 0 -0.95"/></filter><filter id="nzB" x="0" y="0" width="100%" height="100%"><feTurbulence type="fractalNoise" baseFrequency="0.22" numOctaves="2" seed="11"/><feColorMatrix values="0 0 0 0 0.02  0 0 0 0 0.02  0 0 0 0 0.08  2.6 0 0 0 -0.95"/></filter><filter id="gb4" x="-5%" y="-5%" width="110%" height="110%"><feGaussianBlur stdDeviation="3"/></filter><filter id="gb3" x="-5%" y="-5%" width="110%" height="110%"><feGaussianBlur stdDeviation="9"/></filter></defs>
<text x="1.0" y="708.2" font-size="10">G</text>
<text x="128.4" y="715.2" font-size="9.8" text-anchor="middle">DDC</text>
<line x1="19.7" y1="718.5" x2="238.3" y2="718.5" stroke="#000" stroke-width="1.2"/>
<text x="370.4" y="705.4" font-size="9.8" text-anchor="middle">DDC</text>
<line x1="284.8" y1="709.5" x2="451.8" y2="709.5" stroke="#000" stroke-width="1.2"/>
<text x="73.3" y="733.2" font-size="9.4" text-anchor="middle"><tspan font-style="italic">Txnip<tspan font-size="7.2" dy="-3.4">fl/fl</tspan></tspan></text>
<text x="187.4" y="733.2" font-size="9.4" text-anchor="middle"><tspan font-style="italic">Txnip<tspan font-size="6.6" dy="-3.4">ΔSOX9</tspan></tspan></text>
<text x="321.0" y="725.3" font-size="9.4" text-anchor="middle"><tspan font-style="italic">Txnip<tspan font-size="7.2" dy="-3.4">fl/fl</tspan></tspan></text>
<text x="419.8" y="725.3" font-size="9.4" text-anchor="middle"><tspan font-style="italic">Txnip<tspan font-size="6.6" dy="-3.4">ΔSOX9</tspan></tspan></text>
<text x="8.6" y="810.8" font-size="10" transform="rotate(-90 8.6 810.8)"><tspan fill="#00B050">Pan-CK</tspan>/<tspan fill="#FF0000">BrdU</tspan></text>
<text x="255.8" y="819.5" font-size="10" transform="rotate(-90 255.8 819.5)"><tspan fill="#00B050">Pan-CK</tspan>/<tspan fill="#FF0000">Caspase-3</tspan></text>
<text x="268.0" y="789.6" font-size="10" transform="rotate(-90 268.0 789.6)">/<tspan fill="#0070C0">DAPI</tspan></text>
<clipPath id="mc1"><rect x="12.1" y="737.9" width="115.2" height="81.10000000000002"/></clipPath>
<g clip-path="url(#mc1)">
<rect x="11.1" y="736.9" width="117.2" height="83.1" fill="#6A340C"/>
<g transform="translate(10 735) scale(0.1752)">
<g filter="url(#gb3)">
<ellipse cx="110" cy="190" rx="140" ry="150" fill="#7A3C0E"/><ellipse cx="560" cy="80" rx="130" ry="80" fill="#7E400E"/><ellipse cx="370" cy="230" rx="95" ry="160" fill="#3E1606" transform="rotate(20 370 230)"/><ellipse cx="330" cy="430" rx="220" ry="60" fill="#4A2008"/>
</g>
<g filter="url(#wp2)">
<g fill="#AC4A14" opacity="0.92"><ellipse cx="67" cy="21" rx="25" ry="22"/><ellipse cx="435" cy="9" rx="25" ry="24"/><ellipse cx="596" cy="21" rx="26" ry="26"/><ellipse cx="59" cy="123" rx="29" ry="27"/><ellipse cx="112" cy="162" rx="29" ry="27"/><ellipse cx="64" cy="210" rx="26" ry="20"/><ellipse cx="163" cy="272" rx="30" ry="24"/><ellipse cx="206" cy="277" rx="26" ry="24"/><ellipse cx="266" cy="278" rx="25" ry="22"/><ellipse cx="441" cy="434" rx="28" ry="23"/><ellipse cx="236" cy="542" rx="24" ry="21"/><ellipse cx="304" cy="539" rx="28" ry="22"/><ellipse cx="561" cy="545" rx="28" ry="25"/></g><g fill="#C05218" opacity="0.92"><ellipse cx="116" cy="2" rx="26" ry="23"/><ellipse cx="325" cy="1" rx="29" ry="27"/><ellipse cx="287" cy="66" rx="29" ry="24"/><ellipse cx="658" cy="330" rx="31" ry="28"/><ellipse cx="588" cy="380" rx="24" ry="18"/><ellipse cx="20" cy="531" rx="30" ry="30"/></g><g fill="#A04212" opacity="0.92"><ellipse cx="198" cy="27" rx="26" ry="22"/><ellipse cx="491" cy="20" rx="25" ry="19"/><ellipse cx="555" cy="9" rx="26" ry="20"/><ellipse cx="517" cy="77" rx="27" ry="22"/><ellipse cx="182" cy="117" rx="30" ry="29"/><ellipse cx="487" cy="130" rx="28" ry="24"/><ellipse cx="575" cy="172" rx="29" ry="27"/><ellipse cx="264" cy="230" rx="28" ry="28"/><ellipse cx="314" cy="212" rx="30" ry="27"/><ellipse cx="18" cy="317" rx="25" ry="23"/><ellipse cx="203" cy="333" rx="29" ry="26"/><ellipse cx="374" cy="338" rx="28" ry="28"/><ellipse cx="629" cy="368" rx="31" ry="23"/><ellipse cx="6" cy="441" rx="30" ry="24"/><ellipse cx="661" cy="425" rx="26" ry="19"/><ellipse cx="331" cy="495" rx="28" ry="22"/><ellipse cx="193" cy="551" rx="25" ry="24"/><ellipse cx="370" cy="537" rx="24" ry="24"/></g><g fill="#C05618" opacity="0.92"><ellipse cx="242" cy="18" rx="28" ry="27"/><ellipse cx="361" cy="19" rx="26" ry="21"/><ellipse cx="108" cy="82" rx="26" ry="20"/><ellipse cx="299" cy="106" rx="26" ry="26"/><ellipse cx="694" cy="162" rx="25" ry="24"/><ellipse cx="428" cy="226" rx="31" ry="23"/><ellipse cx="472" cy="278" rx="29" ry="27"/><ellipse cx="523" cy="268" rx="26" ry="22"/><ellipse cx="98" cy="376" rx="29" ry="25"/><ellipse cx="186" cy="435" rx="30" ry="26"/><ellipse cx="265" cy="447" rx="27" ry="25"/><ellipse cx="576" cy="497" rx="30" ry="29"/><ellipse cx="419" cy="523" rx="29" ry="25"/></g><g fill="#CC4E1A" opacity="0.92"><ellipse cx="660" cy="2" rx="28" ry="23"/><ellipse cx="226" cy="69" rx="28" ry="25"/><ellipse cx="262" cy="113" rx="25" ry="19"/><ellipse cx="151" cy="172" rx="26" ry="25"/><ellipse cx="283" cy="182" rx="30" ry="26"/><ellipse cx="449" cy="186" rx="27" ry="25"/><ellipse cx="551" cy="225" rx="24" ry="22"/><ellipse cx="662" cy="227" rx="29" ry="24"/><ellipse cx="386" cy="266" rx="27" ry="27"/><ellipse cx="208" cy="486" rx="26" ry="26"/><ellipse cx="403" cy="472" rx="25" ry="19"/></g><g fill="#B85C18" opacity="0.92"><ellipse cx="26" cy="56" rx="25" ry="23"/><ellipse cx="149" cy="69" rx="28" ry="27"/><ellipse cx="568" cy="59" rx="31" ry="28"/><ellipse cx="18" cy="113" rx="30" ry="25"/><ellipse cx="534" cy="162" rx="28" ry="23"/><ellipse cx="500" cy="221" rx="28" ry="27"/><ellipse cx="545" cy="335" rx="25" ry="24"/><ellipse cx="342" cy="391" rx="28" ry="23"/><ellipse cx="373" cy="422" rx="25" ry="20"/><ellipse cx="502" cy="446" rx="26" ry="22"/><ellipse cx="562" cy="447" rx="27" ry="24"/><ellipse cx="446" cy="476" rx="28" ry="28"/><ellipse cx="523" cy="490" rx="27" ry="20"/><ellipse cx="76" cy="529" rx="30" ry="23"/></g><g fill="#CC621C" opacity="0.92"><ellipse cx="331" cy="61" rx="27" ry="20"/><ellipse cx="645" cy="65" rx="24" ry="20"/><ellipse cx="440" cy="126" rx="26" ry="26"/><ellipse cx="628" cy="170" rx="27" ry="26"/><ellipse cx="624" cy="217" rx="27" ry="23"/><ellipse cx="48" cy="488" rx="30" ry="26"/><ellipse cx="118" cy="548" rx="27" ry="23"/><ellipse cx="676" cy="537" rx="29" ry="22"/></g><g fill="#B84E16" opacity="0.92"><ellipse cx="392" cy="79" rx="25" ry="23"/><ellipse cx="470" cy="53" rx="28" ry="23"/><ellipse cx="130" cy="114" rx="27" ry="23"/><ellipse cx="357" cy="119" rx="27" ry="24"/><ellipse cx="610" cy="114" rx="26" ry="24"/><ellipse cx="210" cy="164" rx="26" ry="23"/><ellipse cx="116" cy="211" rx="25" ry="24"/><ellipse cx="366" cy="216" rx="29" ry="28"/><ellipse cx="100" cy="280" rx="27" ry="26"/><ellipse cx="65" cy="338" rx="26" ry="22"/><ellipse cx="306" cy="335" rx="26" ry="21"/><ellipse cx="475" cy="316" rx="28" ry="23"/><ellipse cx="455" cy="375" rx="30" ry="26"/><ellipse cx="705" cy="390" rx="31" ry="26"/><ellipse cx="64" cy="445" rx="26" ry="23"/><ellipse cx="655" cy="475" rx="29" ry="28"/></g><g fill="#AC3E14" opacity="0.92"><ellipse cx="536" cy="126" rx="27" ry="21"/><ellipse cx="681" cy="131" rx="25" ry="22"/><ellipse cx="48" cy="182" rx="28" ry="24"/><ellipse cx="44" cy="264" rx="30" ry="23"/><ellipse cx="121" cy="323" rx="25" ry="22"/><ellipse cx="435" cy="340" rx="26" ry="26"/><ellipse cx="215" cy="387" rx="30" ry="27"/><ellipse cx="284" cy="388" rx="28" ry="26"/><ellipse cx="86" cy="478" rx="25" ry="24"/><ellipse cx="171" cy="488" rx="27" ry="23"/></g><g fill="#D46A1E" opacity="0.92"><ellipse cx="334" cy="168" rx="27" ry="26"/><ellipse cx="182" cy="235" rx="28" ry="25"/><ellipse cx="335" cy="284" rx="31" ry="24"/><ellipse cx="568" cy="277" rx="28" ry="22"/><ellipse cx="645" cy="279" rx="27" ry="21"/><ellipse cx="314" cy="441" rx="28" ry="22"/><ellipse cx="614" cy="445" rx="31" ry="30"/><ellipse cx="698" cy="481" rx="26" ry="22"/><ellipse cx="480" cy="528" rx="26" ry="25"/></g><g fill="#7A3A0C" opacity="0.8"><circle cx="68" cy="18" r="7"/><circle cx="114" cy="3" r="8"/><circle cx="197" cy="30" r="8"/><circle cx="240" cy="15" r="8"/><circle cx="322" cy="3" r="9"/><circle cx="359" cy="20" r="8"/><circle cx="433" cy="7" r="8"/><circle cx="494" cy="19" r="7"/><circle cx="553" cy="7" r="8"/><circle cx="594" cy="19" r="8"/><circle cx="659" cy="3" r="8"/><circle cx="30" cy="58" r="7"/><circle cx="109" cy="81" r="8"/><circle cx="151" cy="73" r="8"/><circle cx="229" cy="68" r="8"/><circle cx="285" cy="66" r="9"/><circle cx="332" cy="63" r="8"/><circle cx="390" cy="81" r="8"/><circle cx="467" cy="56" r="8"/><circle cx="516" cy="75" r="8"/><circle cx="571" cy="58" r="9"/><circle cx="645" cy="61" r="7"/><circle cx="21" cy="117" r="9"/><circle cx="61" cy="120" r="9"/><circle cx="129" cy="115" r="8"/><circle cx="180" cy="120" r="9"/><circle cx="260" cy="113" r="7"/><circle cx="297" cy="109" r="8"/><circle cx="357" cy="121" r="8"/><circle cx="440" cy="125" r="8"/><circle cx="490" cy="132" r="8"/><circle cx="540" cy="129" r="8"/><circle cx="610" cy="111" r="8"/><circle cx="679" cy="129" r="7"/><circle cx="46" cy="179" r="8"/><circle cx="111" cy="163" r="9"/><circle cx="151" cy="169" r="8"/><circle cx="212" cy="161" r="8"/><circle cx="284" cy="180" r="9"/><circle cx="338" cy="166" r="8"/><circle cx="451" cy="188" r="8"/><circle cx="533" cy="165" r="8"/><circle cx="575" cy="170" r="9"/><circle cx="624" cy="174" r="8"/><circle cx="692" cy="159" r="7"/><circle cx="63" cy="210" r="8"/><circle cx="118" cy="214" r="8"/><circle cx="182" cy="239" r="8"/><circle cx="265" cy="227" r="9"/><circle cx="313" cy="209" r="9"/><circle cx="366" cy="218" r="9"/><circle cx="428" cy="226" r="9"/><circle cx="503" cy="224" r="8"/><circle cx="555" cy="229" r="7"/><circle cx="622" cy="215" r="8"/><circle cx="658" cy="230" r="9"/><circle cx="45" cy="261" r="9"/><circle cx="98" cy="279" r="8"/><circle cx="164" cy="269" r="9"/><circle cx="208" cy="276" r="8"/><circle cx="263" cy="274" r="8"/><circle cx="337" cy="287" r="9"/><circle cx="386" cy="267" r="8"/><circle cx="473" cy="281" r="9"/><circle cx="520" cy="269" r="8"/><circle cx="566" cy="276" r="9"/><circle cx="645" cy="276" r="8"/><circle cx="20" cy="319" r="7"/><circle cx="64" cy="341" r="8"/><circle cx="124" cy="324" r="7"/><circle cx="205" cy="336" r="9"/><circle cx="309" cy="335" r="8"/><circle cx="377" cy="336" r="8"/><circle cx="436" cy="339" r="8"/><circle cx="474" cy="319" r="8"/><circle cx="547" cy="333" r="8"/><circle cx="658" cy="332" r="9"/><circle cx="96" cy="374" r="9"/><circle cx="218" cy="384" r="9"/><circle cx="286" cy="387" r="9"/><circle cx="341" cy="391" r="8"/><circle cx="452" cy="372" r="9"/><circle cx="592" cy="381" r="7"/><circle cx="629" cy="372" r="9"/><circle cx="702" cy="389" r="9"/><circle cx="7" cy="443" r="9"/><circle cx="60" cy="443" r="8"/><circle cx="182" cy="438" r="9"/><circle cx="268" cy="446" r="8"/><circle cx="311" cy="445" r="8"/><circle cx="373" cy="421" r="7"/><circle cx="441" cy="430" r="8"/><circle cx="505" cy="444" r="8"/><circle cx="558" cy="448" r="8"/><circle cx="612" cy="449" r="9"/><circle cx="660" cy="425" r="8"/><circle cx="50" cy="489" r="9"/><circle cx="86" cy="481" r="8"/><circle cx="175" cy="489" r="8"/><circle cx="211" cy="485" r="8"/><circle cx="328" cy="491" r="8"/><circle cx="403" cy="473" r="7"/><circle cx="443" cy="478" r="9"/><circle cx="519" cy="490" r="8"/><circle cx="575" cy="498" r="9"/><circle cx="654" cy="479" r="9"/><circle cx="694" cy="482" r="8"/><circle cx="21" cy="533" r="9"/><circle cx="76" cy="530" r="9"/><circle cx="117" cy="552" r="8"/><circle cx="190" cy="552" r="8"/><circle cx="239" cy="542" r="7"/><circle cx="302" cy="535" r="9"/><circle cx="366" cy="541" r="7"/><circle cx="421" cy="519" r="9"/><circle cx="479" cy="529" r="8"/><circle cx="564" cy="548" r="8"/><circle cx="677" cy="535" r="9"/></g>
</g>
<g filter="url(#gb3)">
<ellipse cx="370" cy="235" rx="80" ry="140" fill="#48190A" transform="rotate(20 370 235)" opacity="0.8"/><ellipse cx="300" cy="120" rx="50" ry="45" fill="#45200A" opacity="0.7"/><ellipse cx="480" cy="300" rx="70" ry="45" fill="#501F0A" opacity="0.7"/><ellipse cx="330" cy="440" rx="160" ry="40" fill="#552408" opacity="0.55"/><ellipse cx="600" cy="250" rx="70" ry="50" fill="#E07C22" opacity="0.5"/>
</g>
<g filter="url(#wp)">
<path d="M235 60 L255 25 L300 22 L335 45 L330 85 L295 105 L250 95 L235 60" fill="none" stroke="#2AA024" stroke-width="12" stroke-linecap="round" stroke-linejoin="round" opacity="0.55"/><g fill="none" stroke="#48E838" stroke-width="3.6"><ellipse cx="237" cy="48" rx="12" ry="11"/><ellipse cx="251" cy="36" rx="14" ry="10"/><ellipse cx="257" cy="32" rx="18" ry="16"/><ellipse cx="267" cy="18" rx="15" ry="9"/><ellipse cx="294" cy="20" rx="18" ry="12"/><ellipse cx="308" cy="26" rx="13" ry="9"/><ellipse cx="319" cy="32" rx="14" ry="11"/><ellipse cx="330" cy="49" rx="15" ry="10"/><ellipse cx="337" cy="64" rx="18" ry="11"/><ellipse cx="326" cy="76" rx="16" ry="12"/><ellipse cx="328" cy="91" rx="18" ry="11"/><ellipse cx="303" cy="105" rx="17" ry="11"/><ellipse cx="294" cy="108" rx="19" ry="12"/><ellipse cx="273" cy="95" rx="17" ry="10"/><ellipse cx="252" cy="98" rx="12" ry="8"/><ellipse cx="248" cy="89" rx="17" ry="17"/><ellipse cx="237" cy="66" rx="19" ry="13"/></g><path d="M205 115 L250 150 L300 175" fill="none" stroke="#2AA024" stroke-width="20" stroke-linecap="round" stroke-linejoin="round" opacity="0.55"/><g fill="none" stroke="#30C82A" stroke-width="3.2"><ellipse cx="209" cy="131" rx="14" ry="13"/><ellipse cx="221" cy="132" rx="16" ry="14"/><ellipse cx="235" cy="138" rx="11" ry="8"/><ellipse cx="240" cy="147" rx="11" ry="10"/><ellipse cx="252" cy="160" rx="13" ry="12"/><ellipse cx="267" cy="151" rx="17" ry="16"/><ellipse cx="279" cy="163" rx="16" ry="10"/><ellipse cx="294" cy="176" rx="18" ry="18"/></g><path d="M420 125 L460 150 L480 200 L465 235" fill="none" stroke="#2AA024" stroke-width="50" stroke-linecap="round" stroke-linejoin="round" opacity="0.55"/><g fill="none" stroke="#48E838" stroke-width="3.2"><ellipse cx="434" cy="111" rx="18" ry="12"/><ellipse cx="418" cy="143" rx="15" ry="12"/><ellipse cx="426" cy="149" rx="13" ry="12"/><ellipse cx="437" cy="146" rx="12" ry="10"/><ellipse cx="450" cy="131" rx="17" ry="11"/><ellipse cx="436" cy="161" rx="14" ry="9"/><ellipse cx="448" cy="161" rx="14" ry="12"/><ellipse cx="470" cy="128" rx="19" ry="18"/><ellipse cx="454" cy="161" rx="14" ry="10"/><ellipse cx="452" cy="169" rx="11" ry="7"/><ellipse cx="457" cy="169" rx="15" ry="9"/><ellipse cx="449" cy="182" rx="17" ry="16"/><ellipse cx="486" cy="175" rx="15" ry="12"/><ellipse cx="497" cy="179" rx="11" ry="7"/><ellipse cx="484" cy="185" rx="16" ry="15"/><ellipse cx="499" cy="191" rx="14" ry="12"/><ellipse cx="490" cy="207" rx="12" ry="9"/><ellipse cx="454" cy="197" rx="17" ry="17"/><ellipse cx="493" cy="220" rx="16" ry="16"/><ellipse cx="480" cy="224" rx="14" ry="8"/><ellipse cx="486" cy="231" rx="12" ry="12"/><ellipse cx="451" cy="226" rx="14" ry="12"/></g><path d="M15 350 L90 360 L160 395 L235 440" fill="none" stroke="#2AA024" stroke-width="38" stroke-linecap="round" stroke-linejoin="round" opacity="0.55"/><g fill="none" stroke="#48E838" stroke-width="3.6"><ellipse cx="18" cy="349" rx="19" ry="16"/><ellipse cx="26" cy="343" rx="17" ry="14"/><ellipse cx="40" cy="336" rx="14" ry="11"/><ellipse cx="47" cy="372" rx="12" ry="9"/><ellipse cx="53" cy="352" rx="17" ry="15"/><ellipse cx="64" cy="361" rx="17" ry="11"/><ellipse cx="70" cy="357" rx="12" ry="9"/><ellipse cx="81" cy="373" rx="21" ry="17"/><ellipse cx="87" cy="362" rx="18" ry="12"/><ellipse cx="106" cy="355" rx="17" ry="17"/><ellipse cx="105" cy="378" rx="14" ry="11"/><ellipse cx="118" cy="373" rx="13" ry="10"/><ellipse cx="111" cy="390" rx="15" ry="12"/><ellipse cx="125" cy="383" rx="13" ry="9"/><ellipse cx="141" cy="385" rx="17" ry="12"/><ellipse cx="146" cy="381" rx="15" ry="14"/><ellipse cx="157" cy="392" rx="16" ry="15"/><ellipse cx="159" cy="406" rx="14" ry="11"/><ellipse cx="171" cy="396" rx="19" ry="15"/><ellipse cx="169" cy="411" rx="14" ry="13"/><ellipse cx="180" cy="425" rx="17" ry="10"/><ellipse cx="205" cy="402" rx="16" ry="10"/><ellipse cx="190" cy="429" rx="18" ry="15"/><ellipse cx="211" cy="414" rx="14" ry="13"/><ellipse cx="212" cy="430" rx="19" ry="12"/><ellipse cx="228" cy="424" rx="17" ry="12"/><ellipse cx="238" cy="434" rx="19" ry="15"/></g><path d="M15 410 L100 430 L200 450" fill="none" stroke="#2AA024" stroke-width="32" stroke-linecap="round" stroke-linejoin="round" opacity="0.55"/><g fill="none" stroke="#48E838" stroke-width="3.6"><ellipse cx="19" cy="419" rx="17" ry="15"/><ellipse cx="29" cy="412" rx="11" ry="8"/><ellipse cx="39" cy="428" rx="18" ry="13"/><ellipse cx="52" cy="435" rx="17" ry="16"/><ellipse cx="61" cy="431" rx="16" ry="13"/><ellipse cx="74" cy="427" rx="15" ry="12"/><ellipse cx="79" cy="432" rx="12" ry="8"/><ellipse cx="99" cy="440" rx="18" ry="14"/><ellipse cx="104" cy="427" rx="12" ry="9"/><ellipse cx="116" cy="431" rx="19" ry="18"/><ellipse cx="125" cy="438" rx="18" ry="18"/><ellipse cx="139" cy="446" rx="12" ry="8"/><ellipse cx="151" cy="453" rx="12" ry="11"/><ellipse cx="168" cy="430" rx="16" ry="12"/><ellipse cx="177" cy="442" rx="19" ry="16"/><ellipse cx="181" cy="446" rx="16" ry="12"/><ellipse cx="201" cy="438" rx="18" ry="18"/></g><path d="M275 430 L320 400 L355 360" fill="none" stroke="#2AA024" stroke-width="22" stroke-linecap="round" stroke-linejoin="round" opacity="0.55"/><g fill="none" stroke="#30C82A" stroke-width="3.2"><ellipse cx="280" cy="431" rx="15" ry="15"/><ellipse cx="290" cy="430" rx="16" ry="14"/><ellipse cx="298" cy="416" rx="10" ry="6"/><ellipse cx="313" cy="415" rx="16" ry="11"/><ellipse cx="314" cy="406" rx="14" ry="13"/><ellipse cx="331" cy="401" rx="17" ry="16"/><ellipse cx="340" cy="392" rx="12" ry="9"/><ellipse cx="337" cy="374" rx="13" ry="8"/><ellipse cx="352" cy="376" rx="11" ry="8"/><ellipse cx="355" cy="372" rx="12" ry="11"/></g><path d="M285 475 L300 440 L335 410" fill="none" stroke="#2AA024" stroke-width="18" stroke-linecap="round" stroke-linejoin="round" opacity="0.55"/><g fill="none" stroke="#30C82A" stroke-width="3.2"><ellipse cx="292" cy="466" rx="16" ry="16"/><ellipse cx="294" cy="459" rx="10" ry="10"/><ellipse cx="292" cy="440" rx="11" ry="7"/><ellipse cx="302" cy="432" rx="9" ry="9"/><ellipse cx="310" cy="432" rx="15" ry="14"/><ellipse cx="312" cy="420" rx="12" ry="10"/><ellipse cx="338" cy="417" rx="16" ry="14"/></g><path d="M445 358 L510 335 L590 340 L640 380 L668 420" fill="none" stroke="#2AA024" stroke-width="30" stroke-linecap="round" stroke-linejoin="round" opacity="0.55"/><g fill="none" stroke="#48E838" stroke-width="3.6"><ellipse cx="451" cy="368" rx="17" ry="14"/><ellipse cx="455" cy="347" rx="19" ry="15"/><ellipse cx="467" cy="342" rx="13" ry="8"/><ellipse cx="483" cy="348" rx="14" ry="10"/><ellipse cx="488" cy="337" rx="18" ry="18"/><ellipse cx="501" cy="347" rx="14" ry="14"/><ellipse cx="510" cy="342" rx="16" ry="16"/><ellipse cx="517" cy="328" rx="15" ry="14"/><ellipse cx="532" cy="328" rx="15" ry="14"/><ellipse cx="544" cy="340" rx="15" ry="11"/><ellipse cx="552" cy="333" rx="17" ry="17"/><ellipse cx="565" cy="327" rx="19" ry="11"/><ellipse cx="576" cy="332" rx="12" ry="8"/><ellipse cx="581" cy="344" rx="11" ry="7"/><ellipse cx="589" cy="342" rx="13" ry="9"/><ellipse cx="603" cy="338" rx="19" ry="16"/><ellipse cx="599" cy="359" rx="14" ry="12"/><ellipse cx="624" cy="353" rx="15" ry="11"/><ellipse cx="630" cy="368" rx="13" ry="9"/><ellipse cx="639" cy="361" rx="16" ry="15"/><ellipse cx="646" cy="380" rx="11" ry="7"/><ellipse cx="645" cy="395" rx="15" ry="13"/><ellipse cx="653" cy="396" rx="12" ry="8"/><ellipse cx="650" cy="415" rx="12" ry="10"/><ellipse cx="656" cy="422" rx="16" ry="13"/></g><path d="M395 255 L420 265 L412 298" fill="none" stroke="#2AA024" stroke-width="15" stroke-linecap="round" stroke-linejoin="round" opacity="0.55"/><g fill="none" stroke="#48E838" stroke-width="3.2"><ellipse cx="393" cy="261" rx="10" ry="9"/><ellipse cx="410" cy="268" rx="13" ry="11"/><ellipse cx="418" cy="266" rx="9" ry="9"/><ellipse cx="413" cy="268" rx="15" ry="10"/><ellipse cx="411" cy="279" rx="9" ry="8"/><ellipse cx="409" cy="292" rx="13" ry="12"/></g><path d="M190 218 L210 195 L240 205 L245 240" fill="none" stroke="#2AA024" stroke-width="15" stroke-linecap="round" stroke-linejoin="round" opacity="0.55"/><g fill="none" stroke="#30C82A" stroke-width="3.0"><ellipse cx="194" cy="217" rx="10" ry="8"/><ellipse cx="204" cy="211" rx="14" ry="10"/><ellipse cx="211" cy="199" rx="9" ry="8"/><ellipse cx="223" cy="203" rx="15" ry="15"/><ellipse cx="242" cy="209" rx="12" ry="8"/><ellipse cx="241" cy="217" rx="11" ry="11"/><ellipse cx="240" cy="231" rx="15" ry="14"/></g>
</g>
<g filter="url(#gb2)">
<ellipse cx="340" cy="250" rx="18" ry="30" fill="#F0D020" transform="rotate(10 340 250)"/><ellipse cx="330" cy="262" rx="14" ry="14" fill="#F8E030"/><ellipse cx="352" cy="232" rx="9" ry="12" fill="#F0C020"/><ellipse cx="285" cy="52" rx="20" ry="18" fill="#050300"/><ellipse cx="210" cy="330" rx="19" ry="27" fill="#080300"/><ellipse cx="500" cy="210" rx="12" ry="12" fill="#0A0400"/><ellipse cx="375" cy="135" rx="11" ry="10" fill="#0A0400"/><ellipse cx="275" cy="342" rx="10" ry="12" fill="#1A0800"/><ellipse cx="345" cy="185" rx="8" ry="14" fill="#140600"/><ellipse cx="325" cy="20" rx="12" ry="8" fill="#50E848"/><ellipse cx="545" cy="130" rx="12" ry="9" fill="#F03020"/><ellipse cx="530" cy="165" rx="8" ry="8" fill="#48E040"/><ellipse cx="70" cy="180" rx="18" ry="16" fill="#E84818"/><ellipse cx="125" cy="312" rx="10" ry="8" fill="#401404"/><ellipse cx="215" cy="240" rx="10" ry="12" fill="#3A1404"/><ellipse cx="550" cy="355" rx="9" ry="8" fill="#F04020"/><ellipse cx="115" cy="380" rx="10" ry="9" fill="#E84018"/><ellipse cx="190" cy="215" rx="8" ry="7" fill="#F03820"/><ellipse cx="300" cy="295" rx="6" ry="6" fill="#60E040"/><ellipse cx="210" cy="330" rx="32" ry="40" fill="none" stroke="#C83C12" stroke-width="11"/><ellipse cx="125" cy="312" rx="26" ry="20" fill="none" stroke="#C03410" stroke-width="9"/><ellipse cx="215" cy="240" rx="22" ry="24" fill="none" stroke="#C84814" stroke-width="8"/><ellipse cx="60" cy="275" rx="20" ry="18" fill="none" stroke="#C04012" stroke-width="7"/><ellipse cx="380" cy="120" rx="20" ry="18" fill="none" stroke="#A83410" stroke-width="7"/>
</g>
</g>
<rect x="12.1" y="737.9" width="115.2" height="81.10000000000002" filter="url(#nzA)" opacity="0.55"/>
</g>
<line x1="94.0" y1="810.2" x2="116.5" y2="810.2" stroke="#1A0A00" stroke-width="0.7"/>
<clipPath id="mc2"><rect x="130.0" y="737.9" width="113.80000000000001" height="81.10000000000002"/></clipPath>
<g clip-path="url(#mc2)">
<rect x="129.0" y="736.9" width="115.8" height="83.1" fill="#5E2C0A"/>
<g transform="translate(128 735) scale(0.1752)">
<g filter="url(#gb3)">
<ellipse cx="330" cy="250" rx="340" ry="240" fill="#501E08"/><ellipse cx="560" cy="60" rx="120" ry="65" fill="#6A300C"/><ellipse cx="230" cy="410" rx="130" ry="80" fill="#64300C"/>
</g>
<g filter="url(#wp2)">
<g fill="#C05618" opacity="0.92"><ellipse cx="64" cy="27" rx="27" ry="21"/><ellipse cx="143" cy="26" rx="27" ry="24"/><ellipse cx="257" cy="13" rx="27" ry="24"/><ellipse cx="270" cy="71" rx="24" ry="18"/><ellipse cx="95" cy="270" rx="29" ry="25"/><ellipse cx="230" cy="269" rx="28" ry="23"/><ellipse cx="488" cy="315" rx="28" ry="25"/><ellipse cx="389" cy="387" rx="27" ry="26"/><ellipse cx="529" cy="392" rx="25" ry="24"/><ellipse cx="143" cy="437" rx="27" ry="23"/><ellipse cx="356" cy="429" rx="30" ry="24"/><ellipse cx="292" cy="495" rx="25" ry="20"/><ellipse cx="393" cy="498" rx="30" ry="28"/><ellipse cx="184" cy="530" rx="27" ry="23"/></g><g fill="#A04212" opacity="0.92"><ellipse cx="198" cy="6" rx="26" ry="22"/><ellipse cx="94" cy="80" rx="28" ry="22"/><ellipse cx="648" cy="58" rx="25" ry="21"/><ellipse cx="689" cy="60" rx="25" ry="21"/><ellipse cx="38" cy="288" rx="29" ry="22"/><ellipse cx="349" cy="282" rx="28" ry="26"/><ellipse cx="74" cy="334" rx="26" ry="25"/><ellipse cx="258" cy="336" rx="29" ry="27"/><ellipse cx="311" cy="325" rx="28" ry="25"/><ellipse cx="91" cy="496" rx="30" ry="29"/><ellipse cx="565" cy="478" rx="25" ry="23"/></g><g fill="#B84E16" opacity="0.92"><ellipse cx="310" cy="16" rx="30" ry="26"/><ellipse cx="-4" cy="118" rx="28" ry="25"/><ellipse cx="648" cy="182" rx="26" ry="26"/><ellipse cx="287" cy="270" rx="29" ry="28"/><ellipse cx="313" cy="436" rx="25" ry="21"/><ellipse cx="540" cy="426" rx="27" ry="24"/><ellipse cx="17" cy="528" rx="27" ry="27"/><ellipse cx="262" cy="544" rx="29" ry="28"/></g><g fill="#AC3E14" opacity="0.92"><ellipse cx="362" cy="10" rx="26" ry="25"/><ellipse cx="227" cy="72" rx="29" ry="24"/><ellipse cx="90" cy="169" rx="28" ry="28"/><ellipse cx="535" cy="158" rx="27" ry="26"/><ellipse cx="167" cy="278" rx="30" ry="26"/><ellipse cx="509" cy="278" rx="30" ry="25"/><ellipse cx="663" cy="326" rx="27" ry="25"/><ellipse cx="472" cy="483" rx="25" ry="23"/></g><g fill="#AC4A14" opacity="0.92"><ellipse cx="415" cy="5" rx="25" ry="24"/><ellipse cx="674" cy="29" rx="27" ry="27"/><ellipse cx="394" cy="58" rx="26" ry="20"/><ellipse cx="259" cy="123" rx="28" ry="23"/><ellipse cx="548" cy="117" rx="24" ry="22"/><ellipse cx="41" cy="161" rx="30" ry="27"/><ellipse cx="448" cy="186" rx="26" ry="25"/><ellipse cx="418" cy="339" rx="28" ry="26"/><ellipse cx="648" cy="369" rx="26" ry="22"/><ellipse cx="191" cy="445" rx="25" ry="22"/><ellipse cx="340" cy="482" rx="29" ry="22"/><ellipse cx="542" cy="545" rx="26" ry="23"/><ellipse cx="666" cy="526" rx="27" ry="20"/></g><g fill="#C05218" opacity="0.92"><ellipse cx="479" cy="2" rx="28" ry="21"/><ellipse cx="34" cy="81" rx="30" ry="26"/><ellipse cx="83" cy="105" rx="27" ry="21"/><ellipse cx="306" cy="121" rx="28" ry="27"/><ellipse cx="272" cy="171" rx="29" ry="22"/><ellipse cx="23" cy="228" rx="26" ry="22"/><ellipse cx="203" cy="229" rx="31" ry="31"/><ellipse cx="241" cy="222" rx="27" ry="22"/><ellipse cx="608" cy="227" rx="28" ry="28"/><ellipse cx="117" cy="318" rx="29" ry="25"/><ellipse cx="189" cy="322" rx="28" ry="23"/><ellipse cx="111" cy="387" rx="26" ry="25"/><ellipse cx="6" cy="434" rx="25" ry="25"/><ellipse cx="491" cy="444" rx="24" ry="19"/><ellipse cx="666" cy="438" rx="30" ry="24"/><ellipse cx="632" cy="500" rx="24" ry="23"/><ellipse cx="692" cy="478" rx="30" ry="26"/><ellipse cx="425" cy="541" rx="30" ry="24"/></g><g fill="#B85C18" opacity="0.92"><ellipse cx="550" cy="29" rx="30" ry="25"/><ellipse cx="156" cy="55" rx="29" ry="29"/><ellipse cx="516" cy="72" rx="26" ry="26"/><ellipse cx="373" cy="218" rx="28" ry="22"/><ellipse cx="563" cy="337" rx="25" ry="24"/><ellipse cx="600" cy="335" rx="27" ry="21"/><ellipse cx="151" cy="385" rx="29" ry="22"/><ellipse cx="171" cy="477" rx="30" ry="27"/><ellipse cx="85" cy="544" rx="25" ry="22"/><ellipse cx="119" cy="547" rx="28" ry="26"/><ellipse cx="367" cy="545" rx="26" ry="22"/></g><g fill="#CC4E1A" opacity="0.92"><ellipse cx="612" cy="11" rx="30" ry="23"/><ellipse cx="329" cy="55" rx="30" ry="24"/><ellipse cx="476" cy="115" rx="28" ry="25"/><ellipse cx="231" cy="167" rx="25" ry="21"/><ellipse cx="332" cy="179" rx="26" ry="21"/><ellipse cx="313" cy="210" rx="25" ry="24"/><ellipse cx="391" cy="263" rx="27" ry="23"/><ellipse cx="463" cy="269" rx="26" ry="23"/><ellipse cx="579" cy="285" rx="29" ry="28"/><ellipse cx="654" cy="287" rx="30" ry="25"/><ellipse cx="689" cy="281" rx="31" ry="24"/><ellipse cx="378" cy="340" rx="29" ry="23"/><ellipse cx="574" cy="392" rx="28" ry="22"/><ellipse cx="689" cy="370" rx="26" ry="25"/><ellipse cx="59" cy="419" rx="28" ry="24"/><ellipse cx="621" cy="531" rx="27" ry="24"/></g><g fill="#CC621C" opacity="0.92"><ellipse cx="136" cy="112" rx="29" ry="23"/><ellipse cx="665" cy="117" rx="29" ry="22"/><ellipse cx="162" cy="185" rx="25" ry="23"/><ellipse cx="117" cy="217" rx="25" ry="21"/><ellipse cx="557" cy="209" rx="27" ry="23"/><ellipse cx="287" cy="369" rx="26" ry="23"/><ellipse cx="427" cy="429" rx="30" ry="23"/><ellipse cx="43" cy="474" rx="29" ry="26"/></g><g fill="#D46A1E" opacity="0.92"><ellipse cx="359" cy="115" rx="28" ry="23"/><ellipse cx="588" cy="185" rx="29" ry="25"/><ellipse cx="16" cy="323" rx="25" ry="22"/><ellipse cx="243" cy="446" rx="26" ry="24"/><ellipse cx="605" cy="429" rx="26" ry="25"/><ellipse cx="221" cy="483" rx="27" ry="26"/><ellipse cx="510" cy="478" rx="31" ry="30"/></g><g fill="#7A3A0C" opacity="0.8"><circle cx="64" cy="30" r="8"/><circle cx="146" cy="27" r="8"/><circle cx="197" cy="2" r="8"/><circle cx="255" cy="13" r="8"/><circle cx="310" cy="18" r="9"/><circle cx="360" cy="11" r="8"/><circle cx="412" cy="3" r="8"/><circle cx="483" cy="3" r="8"/><circle cx="550" cy="26" r="9"/><circle cx="614" cy="10" r="9"/><circle cx="674" cy="33" r="8"/><circle cx="38" cy="81" r="9"/><circle cx="96" cy="78" r="8"/><circle cx="153" cy="51" r="9"/><circle cx="226" cy="70" r="9"/><circle cx="272" cy="69" r="7"/><circle cx="330" cy="53" r="9"/><circle cx="398" cy="54" r="8"/><circle cx="517" cy="71" r="8"/><circle cx="647" cy="59" r="7"/><circle cx="690" cy="63" r="8"/><circle cx="-1" cy="115" r="8"/><circle cx="87" cy="104" r="8"/><circle cx="138" cy="111" r="9"/><circle cx="256" cy="122" r="8"/><circle cx="304" cy="123" r="8"/><circle cx="357" cy="116" r="8"/><circle cx="474" cy="113" r="8"/><circle cx="551" cy="119" r="7"/><circle cx="667" cy="120" r="9"/><circle cx="44" cy="162" r="9"/><circle cx="88" cy="170" r="8"/><circle cx="160" cy="182" r="7"/><circle cx="227" cy="171" r="7"/><circle cx="269" cy="170" r="9"/><circle cx="335" cy="178" r="8"/><circle cx="451" cy="183" r="8"/><circle cx="538" cy="162" r="8"/><circle cx="591" cy="184" r="9"/><circle cx="650" cy="182" r="8"/><circle cx="19" cy="229" r="8"/><circle cx="120" cy="217" r="7"/><circle cx="205" cy="228" r="9"/><circle cx="242" cy="224" r="8"/><circle cx="310" cy="213" r="8"/><circle cx="374" cy="221" r="8"/><circle cx="553" cy="210" r="8"/><circle cx="605" cy="225" r="8"/><circle cx="40" cy="284" r="9"/><circle cx="91" cy="270" r="9"/><circle cx="164" cy="277" r="9"/><circle cx="232" cy="271" r="9"/><circle cx="284" cy="268" r="9"/><circle cx="350" cy="279" r="8"/><circle cx="389" cy="262" r="8"/><circle cx="465" cy="266" r="8"/><circle cx="508" cy="280" r="9"/><circle cx="578" cy="288" r="9"/><circle cx="657" cy="283" r="9"/><circle cx="688" cy="282" r="9"/><circle cx="12" cy="325" r="7"/><circle cx="76" cy="334" r="8"/><circle cx="118" cy="322" r="9"/><circle cx="193" cy="318" r="8"/><circle cx="260" cy="338" r="9"/><circle cx="313" cy="323" r="8"/><circle cx="377" cy="339" r="9"/><circle cx="416" cy="336" r="9"/><circle cx="486" cy="315" r="8"/><circle cx="566" cy="334" r="8"/><circle cx="597" cy="333" r="8"/><circle cx="663" cy="323" r="8"/><circle cx="109" cy="387" r="8"/><circle cx="150" cy="384" r="9"/><circle cx="290" cy="369" r="8"/><circle cx="390" cy="385" r="8"/><circle cx="530" cy="390" r="7"/><circle cx="578" cy="388" r="8"/><circle cx="645" cy="365" r="8"/><circle cx="692" cy="370" r="8"/><circle cx="10" cy="432" r="8"/><circle cx="58" cy="420" r="9"/><circle cx="144" cy="434" r="8"/><circle cx="187" cy="444" r="8"/><circle cx="242" cy="449" r="8"/><circle cx="311" cy="434" r="7"/><circle cx="356" cy="432" r="9"/><circle cx="424" cy="432" r="9"/><circle cx="494" cy="447" r="7"/><circle cx="541" cy="428" r="8"/><circle cx="603" cy="427" r="8"/><circle cx="663" cy="437" r="9"/><circle cx="47" cy="472" r="9"/><circle cx="93" cy="499" r="9"/><circle cx="169" cy="476" r="9"/><circle cx="223" cy="479" r="8"/><circle cx="290" cy="496" r="8"/><circle cx="343" cy="480" r="9"/><circle cx="395" cy="495" r="9"/><circle cx="470" cy="484" r="8"/><circle cx="506" cy="475" r="9"/><circle cx="565" cy="480" r="7"/><circle cx="634" cy="496" r="7"/><circle cx="690" cy="477" r="9"/><circle cx="15" cy="527" r="8"/><circle cx="84" cy="548" r="7"/><circle cx="122" cy="549" r="8"/><circle cx="184" cy="527" r="8"/><circle cx="263" cy="543" r="9"/><circle cx="368" cy="545" r="8"/><circle cx="427" cy="538" r="9"/><circle cx="544" cy="544" r="8"/><circle cx="620" cy="527" r="8"/><circle cx="669" cy="524" r="8"/></g>
</g>
<g filter="url(#gb3)">
<ellipse cx="250" cy="230" rx="150" ry="120" fill="#45180A" opacity="0.75"/><ellipse cx="60" cy="250" rx="60" ry="120" fill="#30100A" opacity="0.8"/><ellipse cx="470" cy="300" rx="60" ry="70" fill="#45180A" opacity="0.7"/><ellipse cx="150" cy="330" rx="70" ry="40" fill="#40160A" opacity="0.7"/><ellipse cx="380" cy="180" rx="50" ry="70" fill="#45180A" opacity="0.6"/>
</g>
<g filter="url(#wp)">
<path d="M50 25 L110 18 L175 38" fill="none" stroke="#2AA024" stroke-width="18" stroke-linecap="round" stroke-linejoin="round" opacity="0.55"/><g fill="none" stroke="#48E838" stroke-width="3.2"><ellipse cx="61" cy="30" rx="11" ry="9"/><ellipse cx="73" cy="20" rx="11" ry="8"/><ellipse cx="78" cy="20" rx="12" ry="10"/><ellipse cx="94" cy="26" rx="13" ry="10"/><ellipse cx="113" cy="11" rx="12" ry="9"/><ellipse cx="116" cy="12" rx="11" ry="8"/><ellipse cx="137" cy="21" rx="18" ry="12"/><ellipse cx="144" cy="20" rx="17" ry="17"/><ellipse cx="155" cy="24" rx="16" ry="16"/><ellipse cx="169" cy="45" rx="14" ry="10"/></g><path d="M105 105 L150 160 L200 175 L240 205 L265 250" fill="none" stroke="#2AA024" stroke-width="38" stroke-linecap="round" stroke-linejoin="round" opacity="0.55"/><g fill="none" stroke="#48E838" stroke-width="3.6"><ellipse cx="100" cy="117" rx="18" ry="11"/><ellipse cx="124" cy="105" rx="16" ry="13"/><ellipse cx="123" cy="117" rx="18" ry="11"/><ellipse cx="133" cy="120" rx="14" ry="12"/><ellipse cx="137" cy="127" rx="12" ry="10"/><ellipse cx="125" cy="144" rx="17" ry="12"/><ellipse cx="138" cy="147" rx="17" ry="15"/><ellipse cx="146" cy="148" rx="16" ry="11"/><ellipse cx="154" cy="146" rx="17" ry="14"/><ellipse cx="158" cy="147" rx="13" ry="12"/><ellipse cx="167" cy="157" rx="11" ry="11"/><ellipse cx="167" cy="178" rx="12" ry="10"/><ellipse cx="178" cy="172" rx="17" ry="17"/><ellipse cx="188" cy="172" rx="11" ry="11"/><ellipse cx="196" cy="181" rx="16" ry="12"/><ellipse cx="200" cy="182" rx="12" ry="10"/><ellipse cx="211" cy="185" rx="13" ry="10"/><ellipse cx="226" cy="184" rx="17" ry="11"/><ellipse cx="231" cy="187" rx="12" ry="12"/><ellipse cx="219" cy="210" rx="11" ry="11"/><ellipse cx="235" cy="203" rx="17" ry="11"/><ellipse cx="252" cy="209" rx="16" ry="16"/><ellipse cx="238" cy="224" rx="14" ry="9"/><ellipse cx="245" cy="226" rx="15" ry="11"/><ellipse cx="271" cy="227" rx="19" ry="13"/><ellipse cx="242" cy="246" rx="13" ry="13"/><ellipse cx="271" cy="240" rx="13" ry="11"/></g><path d="M120 185 L160 230 L200 250" fill="none" stroke="#2AA024" stroke-width="20" stroke-linecap="round" stroke-linejoin="round" opacity="0.55"/><g fill="none" stroke="#30C82A" stroke-width="3.2"><ellipse cx="128" cy="186" rx="13" ry="12"/><ellipse cx="140" cy="202" rx="15" ry="15"/><ellipse cx="147" cy="210" rx="16" ry="14"/><ellipse cx="146" cy="219" rx="17" ry="12"/><ellipse cx="160" cy="232" rx="11" ry="7"/><ellipse cx="177" cy="231" rx="13" ry="13"/><ellipse cx="184" cy="238" rx="9" ry="8"/><ellipse cx="195" cy="258" rx="13" ry="8"/></g><path d="M282 62 L300 32 L335 40 L352 70 L335 100 L300 105 L282 62" fill="none" stroke="#2AA024" stroke-width="10" stroke-linecap="round" stroke-linejoin="round" opacity="0.55"/><g fill="none" stroke="#48E838" stroke-width="3.2"><ellipse cx="286" cy="55" rx="10" ry="8"/><ellipse cx="292" cy="46" rx="16" ry="16"/><ellipse cx="305" cy="35" rx="15" ry="9"/><ellipse cx="323" cy="40" rx="15" ry="9"/><ellipse cx="324" cy="42" rx="10" ry="7"/><ellipse cx="342" cy="52" rx="13" ry="13"/><ellipse cx="352" cy="62" rx="13" ry="9"/><ellipse cx="349" cy="71" rx="15" ry="11"/><ellipse cx="337" cy="89" rx="16" ry="15"/><ellipse cx="332" cy="96" rx="11" ry="8"/><ellipse cx="316" cy="106" rx="14" ry="10"/><ellipse cx="304" cy="106" rx="10" ry="7"/><ellipse cx="294" cy="102" rx="10" ry="8"/><ellipse cx="291" cy="76" rx="12" ry="8"/><ellipse cx="281" cy="66" rx="9" ry="9"/></g><path d="M350 60 L390 42 L425 65 L440 120 L470 150 L470 200 L440 230" fill="none" stroke="#2AA024" stroke-width="28" stroke-linecap="round" stroke-linejoin="round" opacity="0.55"/><g fill="none" stroke="#48E838" stroke-width="3.2"><ellipse cx="357" cy="60" rx="16" ry="12"/><ellipse cx="366" cy="59" rx="11" ry="9"/><ellipse cx="379" cy="56" rx="13" ry="9"/><ellipse cx="378" cy="36" rx="10" ry="8"/><ellipse cx="386" cy="54" rx="11" ry="11"/><ellipse cx="399" cy="60" rx="15" ry="13"/><ellipse cx="414" cy="46" rx="16" ry="15"/><ellipse cx="428" cy="52" rx="16" ry="10"/><ellipse cx="433" cy="64" rx="14" ry="9"/><ellipse cx="439" cy="70" rx="15" ry="15"/><ellipse cx="426" cy="90" rx="17" ry="13"/><ellipse cx="445" cy="94" rx="14" ry="13"/><ellipse cx="447" cy="106" rx="15" ry="10"/><ellipse cx="443" cy="118" rx="18" ry="17"/><ellipse cx="442" cy="122" rx="17" ry="16"/><ellipse cx="452" cy="126" rx="12" ry="11"/><ellipse cx="448" cy="145" rx="10" ry="10"/><ellipse cx="462" cy="154" rx="13" ry="12"/><ellipse cx="456" cy="159" rx="10" ry="8"/><ellipse cx="459" cy="169" rx="17" ry="16"/><ellipse cx="476" cy="177" rx="10" ry="10"/><ellipse cx="468" cy="182" rx="12" ry="9"/><ellipse cx="482" cy="192" rx="10" ry="10"/><ellipse cx="460" cy="205" rx="16" ry="10"/><ellipse cx="451" cy="202" rx="15" ry="11"/><ellipse cx="447" cy="221" rx="16" ry="13"/><ellipse cx="453" cy="234" rx="13" ry="9"/></g><path d="M345 150 L370 200 L395 250 L450 262" fill="none" stroke="#2AA024" stroke-width="22" stroke-linecap="round" stroke-linejoin="round" opacity="0.55"/><g fill="none" stroke="#48E838" stroke-width="3.2"><ellipse cx="345" cy="156" rx="14" ry="12"/><ellipse cx="352" cy="159" rx="15" ry="13"/><ellipse cx="362" cy="177" rx="13" ry="11"/><ellipse cx="355" cy="194" rx="14" ry="13"/><ellipse cx="358" cy="196" rx="10" ry="10"/><ellipse cx="371" cy="207" rx="16" ry="12"/><ellipse cx="384" cy="218" rx="9" ry="7"/><ellipse cx="382" cy="226" rx="11" ry="10"/><ellipse cx="388" cy="240" rx="13" ry="8"/><ellipse cx="383" cy="249" rx="14" ry="11"/><ellipse cx="407" cy="244" rx="11" ry="9"/><ellipse cx="412" cy="260" rx="16" ry="10"/><ellipse cx="425" cy="257" rx="11" ry="10"/><ellipse cx="429" cy="256" rx="16" ry="10"/><ellipse cx="448" cy="267" rx="12" ry="8"/></g><path d="M300 290 L285 380 L300 470" fill="none" stroke="#2AA024" stroke-width="28" stroke-linecap="round" stroke-linejoin="round" opacity="0.55"/><g fill="none" stroke="#48E838" stroke-width="3.6"><ellipse cx="301" cy="300" rx="14" ry="10"/><ellipse cx="285" cy="301" rx="13" ry="10"/><ellipse cx="301" cy="322" rx="19" ry="13"/><ellipse cx="295" cy="330" rx="15" ry="13"/><ellipse cx="290" cy="339" rx="18" ry="16"/><ellipse cx="287" cy="352" rx="19" ry="17"/><ellipse cx="295" cy="356" rx="18" ry="11"/><ellipse cx="298" cy="367" rx="11" ry="8"/><ellipse cx="272" cy="382" rx="14" ry="11"/><ellipse cx="296" cy="393" rx="19" ry="18"/><ellipse cx="282" cy="401" rx="19" ry="19"/><ellipse cx="300" cy="412" rx="18" ry="17"/><ellipse cx="284" cy="424" rx="13" ry="12"/><ellipse cx="280" cy="431" rx="13" ry="12"/><ellipse cx="306" cy="440" rx="14" ry="10"/><ellipse cx="290" cy="457" rx="12" ry="11"/><ellipse cx="305" cy="466" rx="15" ry="14"/></g><path d="M300 290 L360 300 L410 340 L418 400 L400 460" fill="none" stroke="#2AA024" stroke-width="28" stroke-linecap="round" stroke-linejoin="round" opacity="0.55"/><g fill="none" stroke="#48E838" stroke-width="3.6"><ellipse cx="306" cy="297" rx="16" ry="14"/><ellipse cx="317" cy="290" rx="12" ry="7"/><ellipse cx="331" cy="291" rx="18" ry="13"/><ellipse cx="338" cy="285" rx="17" ry="13"/><ellipse cx="345" cy="310" rx="13" ry="12"/><ellipse cx="355" cy="303" rx="12" ry="11"/><ellipse cx="367" cy="303" rx="18" ry="15"/><ellipse cx="381" cy="312" rx="12" ry="7"/><ellipse cx="386" cy="319" rx="11" ry="8"/><ellipse cx="403" cy="318" rx="19" ry="18"/><ellipse cx="406" cy="327" rx="13" ry="10"/><ellipse cx="412" cy="350" rx="19" ry="17"/><ellipse cx="404" cy="353" rx="12" ry="10"/><ellipse cx="426" cy="367" rx="15" ry="13"/><ellipse cx="413" cy="383" rx="17" ry="11"/><ellipse cx="416" cy="389" rx="13" ry="12"/><ellipse cx="417" cy="400" rx="16" ry="10"/><ellipse cx="415" cy="407" rx="18" ry="14"/><ellipse cx="403" cy="423" rx="14" ry="10"/><ellipse cx="397" cy="433" rx="15" ry="14"/><ellipse cx="407" cy="450" rx="18" ry="16"/><ellipse cx="413" cy="453" rx="11" ry="8"/></g><g fill="none" stroke="#30C82A" stroke-width="3.2"><ellipse cx="328" cy="337" rx="10" ry="7"/><ellipse cx="336" cy="350" rx="13" ry="8"/><ellipse cx="348" cy="360" rx="14" ry="14"/><ellipse cx="338" cy="379" rx="12" ry="11"/><ellipse cx="342" cy="393" rx="11" ry="9"/><ellipse cx="340" cy="411" rx="13" ry="9"/><ellipse cx="351" cy="435" rx="11" ry="11"/><ellipse cx="347" cy="448" rx="14" ry="11"/></g><path d="M500 150 L560 118 L650 130" fill="none" stroke="#2AA024" stroke-width="28" stroke-linecap="round" stroke-linejoin="round" opacity="0.55"/><g fill="none" stroke="#48E838" stroke-width="3.2"><ellipse cx="503" cy="152" rx="12" ry="7"/><ellipse cx="511" cy="142" rx="15" ry="14"/><ellipse cx="519" cy="126" rx="10" ry="9"/><ellipse cx="536" cy="132" rx="14" ry="10"/><ellipse cx="544" cy="125" rx="15" ry="15"/><ellipse cx="553" cy="117" rx="16" ry="13"/><ellipse cx="562" cy="129" rx="17" ry="13"/><ellipse cx="576" cy="121" rx="18" ry="12"/><ellipse cx="586" cy="116" rx="13" ry="12"/><ellipse cx="588" cy="122" rx="13" ry="9"/><ellipse cx="605" cy="119" rx="16" ry="14"/><ellipse cx="615" cy="129" rx="11" ry="10"/><ellipse cx="629" cy="114" rx="13" ry="8"/><ellipse cx="633" cy="118" rx="16" ry="16"/><ellipse cx="644" cy="128" rx="13" ry="9"/></g><path d="M510 205 L580 165 L655 172" fill="none" stroke="#2AA024" stroke-width="30" stroke-linecap="round" stroke-linejoin="round" opacity="0.55"/><g fill="none" stroke="#48E838" stroke-width="3.2"><ellipse cx="515" cy="203" rx="18" ry="16"/><ellipse cx="520" cy="190" rx="14" ry="11"/><ellipse cx="530" cy="182" rx="16" ry="13"/><ellipse cx="542" cy="191" rx="12" ry="9"/><ellipse cx="541" cy="178" rx="13" ry="10"/><ellipse cx="554" cy="183" rx="11" ry="10"/><ellipse cx="570" cy="184" rx="10" ry="7"/><ellipse cx="578" cy="168" rx="11" ry="11"/><ellipse cx="583" cy="154" rx="13" ry="11"/><ellipse cx="597" cy="164" rx="15" ry="14"/><ellipse cx="604" cy="172" rx="16" ry="13"/><ellipse cx="607" cy="166" rx="11" ry="8"/><ellipse cx="623" cy="168" rx="15" ry="9"/><ellipse cx="632" cy="167" rx="17" ry="11"/><ellipse cx="643" cy="184" rx="13" ry="12"/><ellipse cx="650" cy="157" rx="15" ry="14"/></g><path d="M478 400 L510 380 L545 402 L555 440 L528 466 L490 462 L478 400" fill="none" stroke="#2AA024" stroke-width="12" stroke-linecap="round" stroke-linejoin="round" opacity="0.55"/><g fill="none" stroke="#48E838" stroke-width="3.2"><ellipse cx="486" cy="397" rx="11" ry="7"/><ellipse cx="503" cy="388" rx="13" ry="11"/><ellipse cx="514" cy="376" rx="16" ry="13"/><ellipse cx="526" cy="390" rx="10" ry="7"/><ellipse cx="540" cy="397" rx="13" ry="9"/><ellipse cx="550" cy="401" rx="14" ry="9"/><ellipse cx="549" cy="427" rx="16" ry="10"/><ellipse cx="550" cy="438" rx="13" ry="9"/><ellipse cx="549" cy="440" rx="17" ry="12"/><ellipse cx="530" cy="458" rx="13" ry="12"/><ellipse cx="526" cy="463" rx="16" ry="10"/><ellipse cx="507" cy="458" rx="15" ry="11"/><ellipse cx="501" cy="458" rx="16" ry="12"/><ellipse cx="483" cy="446" rx="17" ry="12"/><ellipse cx="478" cy="433" rx="15" ry="14"/><ellipse cx="481" cy="420" rx="15" ry="11"/><ellipse cx="474" cy="408" rx="16" ry="15"/></g><path d="M512 320 L530 350 L520 385" fill="none" stroke="#2AA024" stroke-width="18" stroke-linecap="round" stroke-linejoin="round" opacity="0.55"/><g fill="none" stroke="#30C82A" stroke-width="3.2"><ellipse cx="524" cy="325" rx="15" ry="11"/><ellipse cx="514" cy="333" rx="9" ry="9"/><ellipse cx="529" cy="335" rx="17" ry="16"/><ellipse cx="524" cy="349" rx="12" ry="11"/><ellipse cx="529" cy="364" rx="11" ry="8"/><ellipse cx="522" cy="365" rx="16" ry="14"/><ellipse cx="529" cy="383" rx="14" ry="9"/></g><path d="M40 410 L80 398 L110 422 L95 448 L58 444" fill="none" stroke="#2AA024" stroke-width="12" stroke-linecap="round" stroke-linejoin="round" opacity="0.55"/><g fill="none" stroke="#30C82A" stroke-width="3.0"><ellipse cx="43" cy="412" rx="11" ry="11"/><ellipse cx="56" cy="404" rx="12" ry="8"/><ellipse cx="79" cy="399" rx="12" ry="11"/><ellipse cx="89" cy="407" rx="12" ry="8"/><ellipse cx="103" cy="418" rx="13" ry="10"/><ellipse cx="103" cy="423" rx="11" ry="11"/><ellipse cx="99" cy="436" rx="15" ry="12"/><ellipse cx="90" cy="446" rx="11" ry="10"/><ellipse cx="87" cy="442" rx="14" ry="11"/><ellipse cx="59" cy="440" rx="14" ry="12"/></g><g fill="none" stroke="#48E838" stroke-width="3.2"><ellipse cx="12" cy="101" rx="10" ry="9"/><ellipse cx="21" cy="117" rx="13" ry="9"/><ellipse cx="21" cy="127" rx="10" ry="10"/><ellipse cx="17" cy="137" rx="10" ry="9"/><ellipse cx="16" cy="155" rx="11" ry="7"/></g>
</g>
<g filter="url(#wp)">
<ellipse cx="340" cy="232" rx="24" ry="32" fill="#F04C18" transform="rotate(-15 340 232)"/><ellipse cx="275" cy="210" rx="20" ry="14" fill="#F03818"/><ellipse cx="395" cy="280" rx="16" ry="16" fill="#F03010"/><ellipse cx="415" cy="95" rx="14" ry="12" fill="#F03010"/><ellipse cx="145" cy="135" rx="12" ry="14" fill="#F03010"/><ellipse cx="70" cy="60" rx="14" ry="10" fill="#E83010"/><ellipse cx="455" cy="115" rx="10" ry="12" fill="#E83010"/><ellipse cx="215" cy="155" rx="12" ry="10" fill="#E84818"/><ellipse cx="325" cy="135" rx="10" ry="10" fill="#F03818"/><ellipse cx="435" cy="272" rx="12" ry="10" fill="#F03818"/><ellipse cx="490" cy="345" rx="10" ry="12" fill="#E83010"/><ellipse cx="45" cy="425" rx="16" ry="12" fill="#E83010"/><ellipse cx="120" cy="300" rx="10" ry="10" fill="#E03010"/><ellipse cx="20" cy="275" rx="10" ry="10" fill="#E03010"/><ellipse cx="590" cy="365" rx="8" ry="8" fill="#3A1404"/><ellipse cx="585" cy="220" rx="8" ry="8" fill="#3A1404"/><ellipse cx="585" cy="220" rx="22" ry="22" fill="none" stroke="#E85018" stroke-width="10"/><ellipse cx="590" cy="365" rx="24" ry="24" fill="none" stroke="#E85018" stroke-width="10"/><ellipse cx="240" cy="350" rx="22" ry="24" fill="none" stroke="#D85018" stroke-width="9"/><ellipse cx="430" cy="420" rx="22" ry="24" fill="none" stroke="#E05018" stroke-width="9"/><ellipse cx="225" cy="430" rx="20" ry="16" fill="none" stroke="#D05018" stroke-width="8"/><ellipse cx="600" cy="455" rx="24" ry="22" fill="none" stroke="#E04818" stroke-width="10"/><ellipse cx="385" cy="425" rx="18" ry="18" fill="none" stroke="#D85018" stroke-width="8"/><ellipse cx="560" cy="50" rx="18" ry="14" fill="none" stroke="#C85818" stroke-width="7"/><ellipse cx="350" cy="120" rx="24" ry="20" fill="none" stroke="#D86018" stroke-width="8"/><ellipse cx="235" cy="265" rx="16" ry="14" fill="#080300"/><ellipse cx="510" cy="430" rx="10" ry="10" fill="#080300"/><ellipse cx="318" cy="52" rx="7" ry="7" fill="#100800"/><ellipse cx="100" cy="270" rx="12" ry="10" fill="#1A0800"/><ellipse cx="160" cy="410" rx="8" ry="8" fill="#60E840"/><ellipse cx="315" cy="100" rx="8" ry="10" fill="#90F080"/>
</g>
</g>
<rect x="130.0" y="737.9" width="113.80000000000001" height="81.10000000000002" filter="url(#nzA)" opacity="0.55"/>
</g>
<line x1="222.0" y1="810.5" x2="240.5" y2="810.5" stroke="#1A0A00" stroke-width="0.6"/>
<clipPath id="mc3"><rect x="269.8" y="729.3" width="98.39999999999998" height="88.5"/></clipPath>
<g clip-path="url(#mc3)">
<rect x="268.8" y="728.3" width="100.4" height="90.5" fill="#0E1228"/>
<g transform="translate(266 726) scale(0.1548)">
<g filter="url(#gb3)">
<ellipse cx="120" cy="200" rx="120" ry="130" fill="#1C2C32"/><ellipse cx="520" cy="300" rx="90" ry="110" fill="#0C1024"/><ellipse cx="330" cy="530" rx="220" ry="70" fill="#0A1034"/><ellipse cx="200" cy="400" rx="170" ry="110" fill="#48103C"/><ellipse cx="600" cy="150" rx="70" ry="120" fill="#141C3C"/><ellipse cx="90" cy="80" rx="60" ry="50" fill="#080A14"/><ellipse cx="420" cy="470" rx="110" ry="50" fill="#060814"/><ellipse cx="330" cy="280" rx="230" ry="120" fill="#343820" transform="rotate(-42 330 280)"/>
</g>
<g filter="url(#wp2)">
<g fill="#1414B8" opacity="0.9"><ellipse cx="385" cy="380" rx="18" ry="14"/><ellipse cx="525" cy="356" rx="15" ry="12"/><ellipse cx="329" cy="414" rx="18" ry="14"/><ellipse cx="139" cy="426" rx="16" ry="15"/><ellipse cx="77" cy="529" rx="15" ry="15"/><ellipse cx="35" cy="105" rx="12" ry="9"/><ellipse cx="633" cy="173" rx="17" ry="11"/><ellipse cx="544" cy="509" rx="17" ry="15"/><ellipse cx="313" cy="542" rx="13" ry="8"/><ellipse cx="96" cy="38" rx="14" ry="12"/><ellipse cx="603" cy="415" rx="15" ry="15"/><ellipse cx="294" cy="454" rx="15" ry="13"/><ellipse cx="252" cy="459" rx="18" ry="15"/><ellipse cx="367" cy="507" rx="15" ry="13"/><ellipse cx="444" cy="131" rx="14" ry="14"/><ellipse cx="87" cy="73" rx="14" ry="12"/><ellipse cx="112" cy="505" rx="18" ry="18"/><ellipse cx="400" cy="495" rx="14" ry="10"/><ellipse cx="318" cy="276" rx="18" ry="13"/><ellipse cx="118" cy="348" rx="15" ry="13"/><ellipse cx="581" cy="319" rx="13" ry="12"/><ellipse cx="479" cy="581" rx="15" ry="12"/><ellipse cx="89" cy="234" rx="11" ry="10"/><ellipse cx="260" cy="236" rx="15" ry="11"/></g><g fill="#0E0E98" opacity="0.9"><ellipse cx="583" cy="324" rx="15" ry="15"/><ellipse cx="26" cy="236" rx="17" ry="11"/><ellipse cx="206" cy="208" rx="15" ry="10"/><ellipse cx="635" cy="164" rx="14" ry="11"/><ellipse cx="651" cy="446" rx="19" ry="17"/><ellipse cx="352" cy="203" rx="12" ry="11"/><ellipse cx="104" cy="121" rx="17" ry="13"/><ellipse cx="399" cy="56" rx="15" ry="10"/><ellipse cx="146" cy="159" rx="19" ry="14"/><ellipse cx="388" cy="97" rx="14" ry="9"/><ellipse cx="653" cy="465" rx="12" ry="11"/><ellipse cx="71" cy="293" rx="17" ry="12"/><ellipse cx="318" cy="342" rx="19" ry="15"/><ellipse cx="470" cy="239" rx="15" ry="13"/><ellipse cx="274" cy="456" rx="11" ry="9"/><ellipse cx="470" cy="443" rx="13" ry="9"/><ellipse cx="499" cy="481" rx="12" ry="11"/><ellipse cx="364" cy="233" rx="16" ry="10"/><ellipse cx="152" cy="299" rx="15" ry="12"/><ellipse cx="144" cy="374" rx="16" ry="9"/><ellipse cx="172" cy="316" rx="15" ry="11"/><ellipse cx="572" cy="406" rx="14" ry="13"/><ellipse cx="614" cy="416" rx="16" ry="10"/><ellipse cx="496" cy="90" rx="16" ry="14"/><ellipse cx="323" cy="112" rx="14" ry="12"/></g><g fill="#2020D8" opacity="0.9"><ellipse cx="358" cy="274" rx="19" ry="13"/><ellipse cx="460" cy="521" rx="14" ry="9"/><ellipse cx="420" cy="431" rx="13" ry="12"/><ellipse cx="396" cy="140" rx="15" ry="11"/><ellipse cx="268" cy="448" rx="13" ry="11"/><ellipse cx="107" cy="318" rx="18" ry="17"/><ellipse cx="449" cy="168" rx="19" ry="14"/><ellipse cx="242" cy="556" rx="12" ry="8"/><ellipse cx="534" cy="228" rx="18" ry="17"/><ellipse cx="521" cy="428" rx="18" ry="11"/><ellipse cx="238" cy="235" rx="16" ry="12"/><ellipse cx="273" cy="314" rx="13" ry="12"/><ellipse cx="327" cy="37" rx="17" ry="16"/><ellipse cx="171" cy="448" rx="12" ry="11"/><ellipse cx="56" cy="167" rx="19" ry="18"/><ellipse cx="616" cy="408" rx="18" ry="17"/><ellipse cx="262" cy="259" rx="13" ry="8"/><ellipse cx="296" cy="403" rx="15" ry="10"/><ellipse cx="242" cy="288" rx="11" ry="8"/><ellipse cx="594" cy="390" rx="16" ry="13"/><ellipse cx="122" cy="167" rx="13" ry="10"/><ellipse cx="437" cy="568" rx="15" ry="13"/></g><g fill="#3A20B0" opacity="0.9"><ellipse cx="218" cy="303" rx="11" ry="11"/><ellipse cx="225" cy="222" rx="16" ry="12"/><ellipse cx="80" cy="481" rx="11" ry="8"/><ellipse cx="130" cy="433" rx="14" ry="11"/><ellipse cx="413" cy="485" rx="15" ry="12"/><ellipse cx="450" cy="94" rx="12" ry="10"/><ellipse cx="601" cy="377" rx="13" ry="12"/><ellipse cx="160" cy="39" rx="12" ry="9"/><ellipse cx="565" cy="123" rx="19" ry="13"/><ellipse cx="497" cy="554" rx="16" ry="12"/><ellipse cx="105" cy="78" rx="13" ry="12"/><ellipse cx="336" cy="412" rx="14" ry="10"/><ellipse cx="371" cy="214" rx="18" ry="17"/><ellipse cx="335" cy="66" rx="14" ry="11"/><ellipse cx="643" cy="32" rx="19" ry="18"/><ellipse cx="538" cy="250" rx="12" ry="12"/><ellipse cx="379" cy="578" rx="12" ry="11"/><ellipse cx="416" cy="98" rx="18" ry="17"/><ellipse cx="452" cy="76" rx="12" ry="9"/><ellipse cx="619" cy="85" rx="12" ry="8"/><ellipse cx="219" cy="192" rx="16" ry="14"/><ellipse cx="42" cy="436" rx="18" ry="18"/><ellipse cx="89" cy="159" rx="16" ry="14"/><ellipse cx="378" cy="458" rx="18" ry="13"/><ellipse cx="130" cy="189" rx="15" ry="12"/><ellipse cx="472" cy="585" rx="12" ry="9"/><ellipse cx="340" cy="378" rx="14" ry="11"/><ellipse cx="468" cy="455" rx="15" ry="12"/><ellipse cx="22" cy="568" rx="14" ry="8"/></g><g fill="#2626DC" opacity="0.9"><ellipse cx="200" cy="202" rx="17" ry="11"/><ellipse cx="56" cy="579" rx="13" ry="13"/><ellipse cx="62" cy="229" rx="16" ry="13"/><ellipse cx="563" cy="65" rx="12" ry="8"/><ellipse cx="328" cy="284" rx="14" ry="8"/><ellipse cx="646" cy="217" rx="12" ry="10"/><ellipse cx="501" cy="502" rx="15" ry="14"/><ellipse cx="603" cy="496" rx="12" ry="8"/><ellipse cx="116" cy="302" rx="12" ry="8"/><ellipse cx="420" cy="185" rx="12" ry="11"/><ellipse cx="334" cy="90" rx="16" ry="11"/><ellipse cx="276" cy="379" rx="16" ry="14"/><ellipse cx="109" cy="84" rx="15" ry="15"/><ellipse cx="503" cy="519" rx="16" ry="14"/><ellipse cx="467" cy="564" rx="14" ry="9"/><ellipse cx="186" cy="453" rx="12" ry="7"/><ellipse cx="643" cy="134" rx="16" ry="14"/><ellipse cx="449" cy="64" rx="17" ry="15"/><ellipse cx="57" cy="54" rx="15" ry="13"/><ellipse cx="164" cy="539" rx="17" ry="11"/><ellipse cx="597" cy="479" rx="15" ry="10"/><ellipse cx="124" cy="30" rx="17" ry="10"/><ellipse cx="556" cy="396" rx="13" ry="11"/><ellipse cx="238" cy="562" rx="17" ry="15"/><ellipse cx="92" cy="378" rx="17" ry="12"/><ellipse cx="530" cy="177" rx="16" ry="16"/><ellipse cx="30" cy="141" rx="13" ry="12"/><ellipse cx="334" cy="321" rx="11" ry="7"/></g><g fill="#1C1CD0" opacity="0.9"><ellipse cx="150" cy="130" rx="16" ry="14"/><ellipse cx="579" cy="28" rx="15" ry="14"/><ellipse cx="578" cy="501" rx="18" ry="16"/><ellipse cx="290" cy="309" rx="13" ry="10"/><ellipse cx="304" cy="248" rx="12" ry="8"/><ellipse cx="275" cy="74" rx="16" ry="12"/><ellipse cx="396" cy="471" rx="19" ry="13"/><ellipse cx="580" cy="478" rx="13" ry="8"/><ellipse cx="245" cy="568" rx="16" ry="14"/><ellipse cx="372" cy="178" rx="16" ry="14"/><ellipse cx="544" cy="233" rx="16" ry="16"/><ellipse cx="618" cy="116" rx="12" ry="8"/><ellipse cx="578" cy="571" rx="17" ry="11"/><ellipse cx="196" cy="124" rx="17" ry="11"/><ellipse cx="123" cy="348" rx="17" ry="15"/><ellipse cx="251" cy="481" rx="15" ry="11"/><ellipse cx="369" cy="23" rx="13" ry="12"/><ellipse cx="414" cy="523" rx="12" ry="7"/><ellipse cx="554" cy="116" rx="14" ry="14"/><ellipse cx="73" cy="510" rx="16" ry="12"/><ellipse cx="652" cy="190" rx="15" ry="12"/><ellipse cx="190" cy="107" rx="17" ry="17"/><ellipse cx="579" cy="466" rx="12" ry="8"/><ellipse cx="350" cy="523" rx="12" ry="8"/><ellipse cx="39" cy="218" rx="15" ry="13"/><ellipse cx="79" cy="550" rx="12" ry="7"/></g><g fill="#1010A8" opacity="0.9"><ellipse cx="506" cy="201" rx="19" ry="12"/><ellipse cx="657" cy="407" rx="11" ry="8"/><ellipse cx="556" cy="167" rx="12" ry="8"/><ellipse cx="188" cy="36" rx="17" ry="16"/><ellipse cx="410" cy="431" rx="14" ry="12"/><ellipse cx="64" cy="36" rx="12" ry="10"/><ellipse cx="225" cy="494" rx="17" ry="12"/><ellipse cx="344" cy="56" rx="18" ry="15"/><ellipse cx="162" cy="85" rx="14" ry="9"/><ellipse cx="469" cy="196" rx="13" ry="11"/><ellipse cx="470" cy="486" rx="18" ry="17"/><ellipse cx="608" cy="209" rx="13" ry="9"/><ellipse cx="575" cy="585" rx="18" ry="12"/><ellipse cx="294" cy="357" rx="15" ry="13"/><ellipse cx="64" cy="57" rx="11" ry="9"/><ellipse cx="543" cy="262" rx="18" ry="14"/><ellipse cx="616" cy="297" rx="11" ry="11"/><ellipse cx="224" cy="507" rx="15" ry="13"/><ellipse cx="28" cy="262" rx="16" ry="14"/><ellipse cx="241" cy="216" rx="13" ry="9"/><ellipse cx="511" cy="433" rx="12" ry="9"/><ellipse cx="99" cy="182" rx="17" ry="16"/><ellipse cx="131" cy="559" rx="16" ry="12"/><ellipse cx="30" cy="395" rx="15" ry="12"/></g><g fill="#1818C8" opacity="0.9"><ellipse cx="538" cy="547" rx="18" ry="17"/><ellipse cx="410" cy="57" rx="16" ry="14"/><ellipse cx="607" cy="484" rx="12" ry="11"/><ellipse cx="503" cy="496" rx="11" ry="9"/><ellipse cx="632" cy="209" rx="17" ry="16"/><ellipse cx="128" cy="296" rx="19" ry="18"/><ellipse cx="596" cy="38" rx="17" ry="16"/><ellipse cx="500" cy="184" rx="16" ry="12"/><ellipse cx="515" cy="271" rx="14" ry="12"/><ellipse cx="460" cy="51" rx="15" ry="11"/><ellipse cx="231" cy="279" rx="15" ry="9"/><ellipse cx="234" cy="580" rx="14" ry="9"/><ellipse cx="607" cy="179" rx="14" ry="13"/><ellipse cx="506" cy="451" rx="17" ry="13"/><ellipse cx="296" cy="211" rx="16" ry="12"/><ellipse cx="84" cy="529" rx="14" ry="11"/><ellipse cx="468" cy="166" rx="11" ry="9"/><ellipse cx="456" cy="225" rx="13" ry="8"/><ellipse cx="351" cy="383" rx="14" ry="11"/><ellipse cx="654" cy="171" rx="18" ry="17"/><ellipse cx="596" cy="233" rx="12" ry="10"/><ellipse cx="619" cy="43" rx="17" ry="13"/></g><g fill="#4818B0" opacity="0.9"><ellipse cx="77" cy="379" rx="13" ry="10"/><ellipse cx="130" cy="305" rx="16" ry="13"/><ellipse cx="318" cy="405" rx="14" ry="14"/><ellipse cx="226" cy="366" rx="11" ry="9"/><ellipse cx="305" cy="305" rx="17" ry="16"/><ellipse cx="211" cy="484" rx="13" ry="9"/></g><g fill="#5020A0" opacity="0.9"><ellipse cx="66" cy="313" rx="16" ry="11"/><ellipse cx="269" cy="439" rx="12" ry="8"/><ellipse cx="127" cy="431" rx="12" ry="12"/><ellipse cx="215" cy="372" rx="12" ry="9"/><ellipse cx="279" cy="494" rx="15" ry="11"/><ellipse cx="180" cy="364" rx="13" ry="10"/><ellipse cx="181" cy="413" rx="15" ry="14"/><ellipse cx="224" cy="490" rx="13" ry="8"/><ellipse cx="191" cy="396" rx="13" ry="13"/><ellipse cx="98" cy="325" rx="14" ry="9"/><ellipse cx="184" cy="355" rx="14" ry="12"/><ellipse cx="151" cy="348" rx="12" ry="11"/><ellipse cx="278" cy="475" rx="13" ry="11"/><ellipse cx="102" cy="436" rx="15" ry="12"/><ellipse cx="146" cy="450" rx="15" ry="12"/></g><g fill="#6028A8" opacity="0.9"><ellipse cx="291" cy="448" rx="14" ry="10"/><ellipse cx="311" cy="441" rx="13" ry="12"/><ellipse cx="130" cy="484" rx="11" ry="9"/><ellipse cx="212" cy="355" rx="12" ry="11"/><ellipse cx="215" cy="286" rx="17" ry="14"/><ellipse cx="171" cy="498" rx="16" ry="11"/><ellipse cx="150" cy="418" rx="15" ry="15"/><ellipse cx="167" cy="370" rx="13" ry="9"/><ellipse cx="116" cy="304" rx="17" ry="13"/></g>
</g>
<g filter="url(#wp)">
<g fill="none" stroke="#D01828" stroke-width="5" opacity="0.9"><ellipse cx="48" cy="427" rx="16" ry="14"/><ellipse cx="76" cy="432" rx="17" ry="16"/><ellipse cx="59" cy="409" rx="18" ry="11"/><ellipse cx="108" cy="426" rx="18" ry="13"/><ellipse cx="66" cy="393" rx="16" ry="12"/><ellipse cx="94" cy="388" rx="16" ry="13"/><ellipse cx="97" cy="386" rx="16" ry="11"/><ellipse cx="119" cy="386" rx="13" ry="11"/><ellipse cx="114" cy="366" rx="17" ry="16"/><ellipse cx="101" cy="352" rx="12" ry="12"/><ellipse cx="103" cy="345" rx="12" ry="8"/><ellipse cx="124" cy="346" rx="13" ry="12"/><ellipse cx="115" cy="310" rx="18" ry="13"/><ellipse cx="127" cy="319" rx="17" ry="11"/><ellipse cx="135" cy="303" rx="22" ry="13"/><ellipse cx="143" cy="309" rx="22" ry="16"/><ellipse cx="160" cy="308" rx="13" ry="10"/><ellipse cx="164" cy="314" rx="14" ry="9"/><ellipse cx="168" cy="299" rx="22" ry="18"/><ellipse cx="197" cy="323" rx="16" ry="14"/><ellipse cx="190" cy="303" rx="20" ry="15"/><ellipse cx="213" cy="322" rx="20" ry="14"/><ellipse cx="203" cy="284" rx="17" ry="12"/><ellipse cx="223" cy="294" rx="20" ry="16"/><ellipse cx="234" cy="298" rx="17" ry="14"/><ellipse cx="243" cy="297" rx="18" ry="12"/><ellipse cx="253" cy="300" rx="22" ry="17"/><ellipse cx="254" cy="257" rx="15" ry="12"/><ellipse cx="266" cy="303" rx="14" ry="13"/><ellipse cx="273" cy="265" rx="13" ry="12"/><ellipse cx="291" cy="300" rx="14" ry="13"/><ellipse cx="297" cy="269" rx="21" ry="19"/><ellipse cx="304" cy="288" rx="12" ry="8"/><ellipse cx="312" cy="308" rx="17" ry="14"/></g><g fill="none" stroke="#C01830" stroke-width="5" opacity="0.85"><ellipse cx="103" cy="477" rx="13" ry="9"/><ellipse cx="117" cy="479" rx="12" ry="7"/><ellipse cx="122" cy="502" rx="13" ry="12"/><ellipse cx="135" cy="507" rx="17" ry="12"/><ellipse cx="149" cy="490" rx="15" ry="12"/><ellipse cx="172" cy="471" rx="15" ry="13"/><ellipse cx="190" cy="502" rx="15" ry="11"/><ellipse cx="197" cy="485" rx="20" ry="13"/><ellipse cx="210" cy="485" rx="21" ry="15"/><ellipse cx="223" cy="484" rx="16" ry="10"/><ellipse cx="224" cy="453" rx="13" ry="13"/><ellipse cx="247" cy="477" rx="20" ry="13"/><ellipse cx="253" cy="465" rx="13" ry="8"/><ellipse cx="266" cy="464" rx="20" ry="19"/></g><g fill="none" stroke="#C81828" stroke-width="5" opacity="0.85"><ellipse cx="445" cy="206" rx="15" ry="9"/><ellipse cx="470" cy="207" rx="19" ry="15"/><ellipse cx="468" cy="190" rx="19" ry="15"/><ellipse cx="478" cy="174" rx="17" ry="12"/><ellipse cx="478" cy="162" rx="15" ry="15"/><ellipse cx="470" cy="144" rx="15" ry="15"/><ellipse cx="483" cy="125" rx="19" ry="19"/><ellipse cx="487" cy="122" rx="12" ry="10"/><ellipse cx="493" cy="105" rx="15" ry="12"/><ellipse cx="510" cy="103" rx="12" ry="9"/></g><g fill="none" stroke="#B01030" stroke-width="5" opacity="0.8"><ellipse cx="479" cy="391" rx="16" ry="14"/><ellipse cx="493" cy="405" rx="12" ry="11"/><ellipse cx="502" cy="418" rx="14" ry="9"/><ellipse cx="516" cy="438" rx="18" ry="12"/><ellipse cx="489" cy="443" rx="11" ry="8"/><ellipse cx="492" cy="464" rx="18" ry="17"/><ellipse cx="485" cy="475" rx="13" ry="12"/></g><g fill="none" stroke="#A01038" stroke-width="5" opacity="0.7"><ellipse cx="51" cy="543" rx="16" ry="12"/><ellipse cx="56" cy="546" rx="12" ry="11"/><ellipse cx="87" cy="555" rx="13" ry="9"/><ellipse cx="90" cy="538" rx="14" ry="12"/><ellipse cx="119" cy="553" rx="17" ry="14"/><ellipse cx="132" cy="553" rx="15" ry="14"/><ellipse cx="143" cy="537" rx="12" ry="9"/><ellipse cx="164" cy="545" rx="15" ry="13"/><ellipse cx="170" cy="573" rx="12" ry="9"/><ellipse cx="202" cy="563" rx="11" ry="7"/></g><g fill="none" stroke="#B01030" stroke-width="5" opacity="0.8"><ellipse cx="326" cy="183" rx="13" ry="11"/><ellipse cx="343" cy="169" rx="18" ry="16"/><ellipse cx="354" cy="171" rx="16" ry="14"/><ellipse cx="372" cy="160" rx="12" ry="9"/><ellipse cx="387" cy="155" rx="16" ry="13"/><ellipse cx="406" cy="156" rx="13" ry="11"/></g>
</g>
<g filter="url(#wp)">
<path d="M125 455 L185 410 L250 355 L320 305 L380 255 L430 200 L455 135 L505 85 L575 45" fill="none" stroke="#2A6A20" stroke-width="66" stroke-linecap="round" stroke-linejoin="round" opacity="0.55"/><g fill="none" stroke="#40D034" stroke-width="5" opacity="0.92"><ellipse cx="123" cy="445" rx="16" ry="13"/><ellipse cx="130" cy="426" rx="17" ry="13"/><ellipse cx="145" cy="426" rx="17" ry="11"/><ellipse cx="167" cy="434" rx="17" ry="17"/><ellipse cx="164" cy="401" rx="14" ry="12"/><ellipse cx="175" cy="396" rx="15" ry="12"/><ellipse cx="191" cy="404" rx="12" ry="10"/><ellipse cx="178" cy="380" rx="16" ry="15"/><ellipse cx="224" cy="397" rx="22" ry="21"/><ellipse cx="235" cy="387" rx="21" ry="18"/><ellipse cx="225" cy="363" rx="17" ry="16"/><ellipse cx="248" cy="329" rx="22" ry="14"/><ellipse cx="267" cy="323" rx="18" ry="16"/><ellipse cx="292" cy="348" rx="14" ry="13"/><ellipse cx="315" cy="343" rx="12" ry="9"/><ellipse cx="298" cy="301" rx="18" ry="12"/><ellipse cx="297" cy="285" rx="14" ry="12"/><ellipse cx="362" cy="265" rx="20" ry="12"/><ellipse cx="357" cy="240" rx="19" ry="13"/><ellipse cx="403" cy="266" rx="16" ry="14"/><ellipse cx="415" cy="235" rx="20" ry="18"/><ellipse cx="461" cy="195" rx="20" ry="19"/><ellipse cx="423" cy="173" rx="21" ry="15"/><ellipse cx="437" cy="155" rx="15" ry="13"/><ellipse cx="445" cy="148" rx="21" ry="14"/><ellipse cx="475" cy="151" rx="20" ry="12"/><ellipse cx="479" cy="132" rx="21" ry="14"/><ellipse cx="507" cy="68" rx="12" ry="10"/><ellipse cx="558" cy="79" rx="18" ry="17"/><ellipse cx="569" cy="48" rx="16" ry="12"/></g><g fill="#2020C8" stroke="#40D034" stroke-width="5" opacity="0.92"><ellipse cx="141" cy="450" rx="21" ry="16"/><ellipse cx="227" cy="414" rx="19" ry="14"/><ellipse cx="326" cy="294" rx="16" ry="13"/><ellipse cx="337" cy="253" rx="15" ry="12"/><ellipse cx="407" cy="259" rx="15" ry="11"/><ellipse cx="407" cy="236" rx="16" ry="11"/><ellipse cx="412" cy="213" rx="21" ry="13"/><ellipse cx="404" cy="193" rx="17" ry="13"/><ellipse cx="407" cy="182" rx="17" ry="15"/><ellipse cx="450" cy="168" rx="21" ry="20"/><ellipse cx="458" cy="92" rx="17" ry="15"/><ellipse cx="517" cy="106" rx="15" ry="9"/><ellipse cx="496" cy="70" rx="20" ry="15"/><ellipse cx="544" cy="75" rx="18" ry="12"/><ellipse cx="563" cy="73" rx="15" ry="9"/><ellipse cx="575" cy="73" rx="21" ry="16"/></g><g fill="#1414B0" stroke="#40D034" stroke-width="5" opacity="0.92"><ellipse cx="155" cy="398" rx="16" ry="12"/><ellipse cx="204" cy="367" rx="14" ry="10"/><ellipse cx="235" cy="347" rx="20" ry="19"/><ellipse cx="245" cy="344" rx="14" ry="12"/><ellipse cx="282" cy="359" rx="16" ry="10"/><ellipse cx="296" cy="333" rx="18" ry="14"/><ellipse cx="308" cy="287" rx="13" ry="12"/><ellipse cx="319" cy="271" rx="15" ry="13"/><ellipse cx="342" cy="289" rx="16" ry="15"/><ellipse cx="344" cy="272" rx="12" ry="9"/><ellipse cx="398" cy="281" rx="19" ry="16"/><ellipse cx="445" cy="215" rx="15" ry="13"/><ellipse cx="423" cy="130" rx="14" ry="14"/><ellipse cx="473" cy="132" rx="13" ry="9"/><ellipse cx="472" cy="97" rx="13" ry="12"/><ellipse cx="472" cy="85" rx="21" ry="20"/><ellipse cx="517" cy="76" rx="20" ry="16"/><ellipse cx="534" cy="81" rx="17" ry="15"/></g><g fill="none" stroke="#C4D828" stroke-width="6"><ellipse cx="205" cy="453" rx="15" ry="12"/><ellipse cx="221" cy="414" rx="12" ry="9"/><ellipse cx="250" cy="433" rx="16" ry="15"/><ellipse cx="257" cy="429" rx="14" ry="13"/><ellipse cx="259" cy="420" rx="12" ry="11"/><ellipse cx="288" cy="439" rx="12" ry="12"/><ellipse cx="297" cy="423" rx="13" ry="12"/><ellipse cx="321" cy="419" rx="15" ry="15"/><ellipse cx="322" cy="386" rx="15" ry="11"/><ellipse cx="346" cy="383" rx="18" ry="13"/><ellipse cx="337" cy="367" rx="13" ry="10"/><ellipse cx="361" cy="368" rx="18" ry="16"/><ellipse cx="353" cy="335" rx="18" ry="11"/><ellipse cx="373" cy="342" rx="15" ry="14"/><ellipse cx="369" cy="325" rx="12" ry="9"/><ellipse cx="394" cy="331" rx="20" ry="16"/><ellipse cx="403" cy="308" rx="12" ry="9"/></g><g fill="#1818B8" stroke="#C4D828" stroke-width="6"><ellipse cx="218" cy="456" rx="15" ry="12"/><ellipse cx="238" cy="462" rx="14" ry="10"/><ellipse cx="293" cy="402" rx="14" ry="11"/><ellipse cx="305" cy="378" rx="20" ry="16"/><ellipse cx="388" cy="303" rx="19" ry="18"/></g><g fill="none" stroke="#30C82A" stroke-width="6"><ellipse cx="308" cy="134" rx="17" ry="11"/><ellipse cx="322" cy="117" rx="14" ry="11"/><ellipse cx="328" cy="112" rx="15" ry="12"/><ellipse cx="352" cy="121" rx="18" ry="12"/><ellipse cx="358" cy="120" rx="14" ry="10"/><ellipse cx="377" cy="118" rx="10" ry="7"/></g><path d="M190 115 L150 150 L135 190" fill="none" stroke="#206020" stroke-width="26" stroke-linecap="round" stroke-linejoin="round" opacity="0.55"/><g fill="none" stroke="#30C82A" stroke-width="6"><ellipse cx="187" cy="124" rx="16" ry="13"/><ellipse cx="176" cy="123" rx="13" ry="11"/><ellipse cx="174" cy="135" rx="12" ry="8"/><ellipse cx="165" cy="149" rx="13" ry="11"/><ellipse cx="154" cy="159" rx="15" ry="10"/><ellipse cx="156" cy="167" rx="16" ry="16"/><ellipse cx="146" cy="169" rx="12" ry="8"/><ellipse cx="128" cy="184" rx="10" ry="10"/></g><path d="M570 340 L620 335 L655 355 L650 420 L640 480 L620 540" fill="none" stroke="#2A6A20" stroke-width="44" stroke-linecap="round" stroke-linejoin="round" opacity="0.55"/><g fill="#1414B0" stroke="#48E838" stroke-width="7"><ellipse cx="574" cy="319" rx="15" ry="12"/><ellipse cx="578" cy="321" rx="18" ry="18"/><ellipse cx="607" cy="338" rx="20" ry="19"/><ellipse cx="617" cy="359" rx="15" ry="13"/><ellipse cx="634" cy="354" rx="21" ry="20"/><ellipse cx="642" cy="361" rx="19" ry="18"/><ellipse cx="652" cy="354" rx="12" ry="10"/><ellipse cx="646" cy="364" rx="17" ry="16"/><ellipse cx="645" cy="371" rx="20" ry="18"/><ellipse cx="657" cy="405" rx="20" ry="20"/><ellipse cx="624" cy="441" rx="17" ry="15"/><ellipse cx="654" cy="457" rx="14" ry="13"/><ellipse cx="649" cy="473" rx="19" ry="16"/><ellipse cx="633" cy="497" rx="12" ry="9"/><ellipse cx="640" cy="515" rx="18" ry="17"/><ellipse cx="627" cy="518" rx="20" ry="19"/><ellipse cx="616" cy="526" rx="18" ry="17"/></g><g fill="none" stroke="#48E838" stroke-width="7"><ellipse cx="596" cy="338" rx="18" ry="15"/><ellipse cx="605" cy="356" rx="14" ry="13"/><ellipse cx="620" cy="356" rx="13" ry="11"/><ellipse cx="663" cy="381" rx="14" ry="9"/><ellipse cx="668" cy="394" rx="17" ry="15"/><ellipse cx="666" cy="399" rx="15" ry="10"/><ellipse cx="663" cy="415" rx="19" ry="16"/><ellipse cx="641" cy="429" rx="19" ry="16"/><ellipse cx="652" cy="436" rx="18" ry="12"/><ellipse cx="661" cy="465" rx="15" ry="11"/><ellipse cx="639" cy="483" rx="19" ry="16"/><ellipse cx="643" cy="494" rx="20" ry="17"/><ellipse cx="601" cy="531" rx="14" ry="9"/></g><path d="M480 560 L520 540 L560 505 L600 560 L580 592" fill="none" stroke="#2A6A20" stroke-width="36" stroke-linecap="round" stroke-linejoin="round" opacity="0.55"/><g fill="none" stroke="#48E838" stroke-width="6"><ellipse cx="488" cy="550" rx="13" ry="10"/><ellipse cx="488" cy="540" rx="12" ry="11"/><ellipse cx="506" cy="547" rx="14" ry="9"/><ellipse cx="521" cy="545" rx="16" ry="13"/><ellipse cx="519" cy="534" rx="11" ry="9"/><ellipse cx="528" cy="515" rx="17" ry="13"/><ellipse cx="539" cy="520" rx="19" ry="17"/><ellipse cx="556" cy="529" rx="11" ry="10"/><ellipse cx="566" cy="513" rx="16" ry="14"/><ellipse cx="553" cy="521" rx="14" ry="8"/><ellipse cx="592" cy="528" rx="15" ry="12"/><ellipse cx="603" cy="549" rx="11" ry="9"/><ellipse cx="609" cy="572" rx="12" ry="12"/><ellipse cx="600" cy="589" rx="15" ry="12"/><ellipse cx="591" cy="586" rx="12" ry="9"/></g><g fill="#1818B8" stroke="#48E838" stroke-width="6"><ellipse cx="572" cy="519" rx="12" ry="9"/><ellipse cx="592" cy="533" rx="12" ry="11"/><ellipse cx="582" cy="559" rx="13" ry="10"/></g><g fill="none" stroke="#48E838" stroke-width="6"><ellipse cx="518" cy="43" rx="15" ry="14"/><ellipse cx="540" cy="40" rx="13" ry="8"/><ellipse cx="553" cy="42" rx="13" ry="12"/><ellipse cx="565" cy="59" rx="13" ry="13"/><ellipse cx="579" cy="63" rx="15" ry="14"/><ellipse cx="591" cy="59" rx="13" ry="12"/><ellipse cx="609" cy="49" rx="15" ry="13"/><ellipse cx="621" cy="50" rx="12" ry="11"/><ellipse cx="629" cy="55" rx="17" ry="11"/><ellipse cx="649" cy="60" rx="17" ry="12"/></g><g fill="none" stroke="#30C82A" stroke-width="6"><ellipse cx="228" cy="581" rx="15" ry="14"/><ellipse cx="247" cy="569" rx="9" ry="7"/><ellipse cx="274" cy="574" rx="9" ry="6"/><ellipse cx="289" cy="577" rx="9" ry="6"/></g><g fill="none" stroke="#2AA024" stroke-width="6"><ellipse cx="49" cy="94" rx="11" ry="7"/><ellipse cx="50" cy="71" rx="16" ry="10"/><ellipse cx="72" cy="55" rx="12" ry="8"/><ellipse cx="95" cy="43" rx="11" ry="9"/></g><g fill="none" stroke="#2AA024" stroke-width="6"><ellipse cx="36" cy="494" rx="15" ry="9"/><ellipse cx="44" cy="507" rx="15" ry="11"/><ellipse cx="47" cy="540" rx="13" ry="9"/><ellipse cx="38" cy="549" rx="15" ry="13"/></g><ellipse cx="180" cy="265" rx="7" ry="7" fill="#80F0E0"/>
</g>
</g>
<rect x="269.8" y="729.3" width="98.39999999999998" height="88.5" filter="url(#nzB)" opacity="0.55"/>
</g>
<clipPath id="mc4"><rect x="370.4" y="729.3" width="98.20000000000005" height="88.5"/></clipPath>
<g clip-path="url(#mc4)">
<rect x="369.4" y="728.3" width="100.2" height="90.5" fill="#20203A"/>
<g transform="translate(366 726) scale(0.1548)">
<g filter="url(#gb3)">
<ellipse cx="340" cy="300" rx="330" ry="290" fill="#34344C"/><ellipse cx="120" cy="120" rx="95" ry="85" fill="#50183A"/><ellipse cx="560" cy="110" rx="100" ry="70" fill="#3E1844"/><ellipse cx="560" cy="560" rx="100" ry="50" fill="#101044"/><ellipse cx="230" cy="330" rx="70" ry="110" fill="#3A3A3A"/><ellipse cx="330" cy="200" rx="80" ry="60" fill="#1C1C38"/>
</g>
<g filter="url(#wp2)">
<g fill="#2424CC" opacity="0.9"><ellipse cx="359" cy="354" rx="18" ry="17"/><ellipse cx="517" cy="449" rx="12" ry="9"/><ellipse cx="466" cy="472" rx="18" ry="11"/><ellipse cx="212" cy="296" rx="15" ry="14"/><ellipse cx="601" cy="416" rx="18" ry="14"/><ellipse cx="621" cy="369" rx="12" ry="11"/><ellipse cx="338" cy="213" rx="15" ry="11"/><ellipse cx="402" cy="465" rx="19" ry="14"/><ellipse cx="466" cy="578" rx="14" ry="12"/><ellipse cx="122" cy="55" rx="16" ry="10"/><ellipse cx="60" cy="481" rx="12" ry="11"/><ellipse cx="133" cy="419" rx="13" ry="10"/><ellipse cx="381" cy="246" rx="15" ry="14"/><ellipse cx="591" cy="340" rx="16" ry="11"/><ellipse cx="113" cy="143" rx="19" ry="14"/><ellipse cx="220" cy="175" rx="19" ry="17"/><ellipse cx="256" cy="570" rx="17" ry="13"/><ellipse cx="91" cy="519" rx="15" ry="15"/><ellipse cx="93" cy="301" rx="16" ry="10"/><ellipse cx="107" cy="171" rx="11" ry="7"/><ellipse cx="540" cy="34" rx="19" ry="11"/><ellipse cx="596" cy="458" rx="18" ry="14"/></g><g fill="#1C1CAC" opacity="0.9"><ellipse cx="253" cy="561" rx="14" ry="11"/><ellipse cx="394" cy="489" rx="12" ry="10"/><ellipse cx="397" cy="383" rx="13" ry="9"/><ellipse cx="289" cy="283" rx="12" ry="8"/><ellipse cx="577" cy="57" rx="17" ry="13"/><ellipse cx="198" cy="552" rx="16" ry="13"/><ellipse cx="524" cy="112" rx="12" ry="12"/><ellipse cx="569" cy="332" rx="17" ry="15"/><ellipse cx="159" cy="521" rx="19" ry="14"/><ellipse cx="482" cy="382" rx="16" ry="10"/><ellipse cx="361" cy="317" rx="19" ry="14"/><ellipse cx="519" cy="190" rx="18" ry="16"/><ellipse cx="162" cy="411" rx="11" ry="8"/><ellipse cx="593" cy="444" rx="17" ry="14"/><ellipse cx="70" cy="414" rx="12" ry="9"/><ellipse cx="94" cy="385" rx="15" ry="13"/><ellipse cx="205" cy="567" rx="14" ry="13"/><ellipse cx="607" cy="177" rx="14" ry="10"/><ellipse cx="422" cy="439" rx="19" ry="11"/><ellipse cx="166" cy="406" rx="14" ry="11"/><ellipse cx="224" cy="122" rx="16" ry="15"/><ellipse cx="610" cy="486" rx="17" ry="12"/><ellipse cx="81" cy="147" rx="11" ry="9"/><ellipse cx="26" cy="521" rx="15" ry="10"/><ellipse cx="99" cy="393" rx="12" ry="12"/><ellipse cx="92" cy="41" rx="13" ry="8"/><ellipse cx="334" cy="289" rx="13" ry="10"/><ellipse cx="319" cy="48" rx="16" ry="13"/><ellipse cx="475" cy="65" rx="15" ry="10"/><ellipse cx="513" cy="141" rx="11" ry="9"/><ellipse cx="369" cy="228" rx="15" ry="13"/><ellipse cx="168" cy="413" rx="14" ry="11"/><ellipse cx="444" cy="23" rx="19" ry="16"/><ellipse cx="345" cy="94" rx="12" ry="11"/></g><g fill="#3030E0" opacity="0.9"><ellipse cx="493" cy="422" rx="11" ry="11"/><ellipse cx="131" cy="126" rx="14" ry="11"/><ellipse cx="336" cy="243" rx="12" ry="9"/><ellipse cx="560" cy="41" rx="17" ry="11"/><ellipse cx="516" cy="199" rx="12" ry="9"/><ellipse cx="347" cy="231" rx="18" ry="16"/><ellipse cx="151" cy="518" rx="15" ry="15"/><ellipse cx="85" cy="516" rx="15" ry="12"/><ellipse cx="271" cy="255" rx="14" ry="9"/><ellipse cx="654" cy="26" rx="19" ry="14"/><ellipse cx="547" cy="182" rx="19" ry="11"/><ellipse cx="282" cy="545" rx="15" ry="14"/><ellipse cx="480" cy="63" rx="19" ry="15"/><ellipse cx="364" cy="349" rx="12" ry="11"/><ellipse cx="519" cy="451" rx="17" ry="11"/><ellipse cx="269" cy="334" rx="19" ry="13"/><ellipse cx="588" cy="135" rx="15" ry="11"/><ellipse cx="617" cy="505" rx="16" ry="15"/><ellipse cx="135" cy="271" rx="17" ry="14"/><ellipse cx="425" cy="539" rx="17" ry="14"/><ellipse cx="505" cy="212" rx="16" ry="12"/><ellipse cx="299" cy="150" rx="16" ry="12"/></g><g fill="#2828A4" opacity="0.9"><ellipse cx="310" cy="122" rx="12" ry="9"/><ellipse cx="360" cy="530" rx="17" ry="14"/><ellipse cx="228" cy="118" rx="12" ry="11"/><ellipse cx="190" cy="336" rx="17" ry="12"/><ellipse cx="316" cy="569" rx="19" ry="13"/><ellipse cx="173" cy="543" rx="18" ry="14"/><ellipse cx="23" cy="425" rx="16" ry="12"/><ellipse cx="437" cy="199" rx="13" ry="9"/><ellipse cx="86" cy="505" rx="19" ry="14"/><ellipse cx="528" cy="164" rx="18" ry="16"/><ellipse cx="655" cy="239" rx="18" ry="16"/><ellipse cx="191" cy="242" rx="13" ry="13"/><ellipse cx="602" cy="262" rx="12" ry="10"/><ellipse cx="115" cy="430" rx="19" ry="15"/><ellipse cx="427" cy="389" rx="18" ry="16"/><ellipse cx="361" cy="411" rx="12" ry="12"/><ellipse cx="404" cy="280" rx="13" ry="10"/><ellipse cx="556" cy="215" rx="16" ry="11"/><ellipse cx="593" cy="515" rx="14" ry="14"/><ellipse cx="168" cy="84" rx="15" ry="12"/><ellipse cx="219" cy="360" rx="12" ry="11"/><ellipse cx="260" cy="398" rx="17" ry="16"/><ellipse cx="96" cy="577" rx="15" ry="10"/><ellipse cx="109" cy="475" rx="19" ry="16"/><ellipse cx="435" cy="62" rx="18" ry="14"/><ellipse cx="355" cy="405" rx="13" ry="12"/><ellipse cx="174" cy="373" rx="17" ry="16"/></g><g fill="#2020BC" opacity="0.9"><ellipse cx="291" cy="162" rx="18" ry="15"/><ellipse cx="68" cy="273" rx="14" ry="10"/><ellipse cx="120" cy="197" rx="18" ry="12"/><ellipse cx="353" cy="519" rx="12" ry="10"/><ellipse cx="97" cy="277" rx="15" ry="11"/><ellipse cx="43" cy="194" rx="12" ry="10"/><ellipse cx="25" cy="439" rx="16" ry="13"/><ellipse cx="607" cy="425" rx="12" ry="10"/><ellipse cx="380" cy="193" rx="15" ry="13"/><ellipse cx="534" cy="84" rx="18" ry="15"/><ellipse cx="389" cy="492" rx="12" ry="11"/><ellipse cx="361" cy="374" rx="15" ry="10"/><ellipse cx="192" cy="568" rx="12" ry="11"/><ellipse cx="55" cy="223" rx="17" ry="15"/><ellipse cx="577" cy="184" rx="12" ry="10"/><ellipse cx="533" cy="475" rx="14" ry="12"/><ellipse cx="502" cy="482" rx="17" ry="13"/><ellipse cx="550" cy="52" rx="18" ry="13"/><ellipse cx="53" cy="292" rx="18" ry="15"/><ellipse cx="422" cy="473" rx="16" ry="11"/><ellipse cx="618" cy="215" rx="17" ry="16"/><ellipse cx="380" cy="153" rx="17" ry="14"/><ellipse cx="488" cy="475" rx="12" ry="11"/><ellipse cx="527" cy="571" rx="18" ry="17"/><ellipse cx="226" cy="386" rx="15" ry="12"/><ellipse cx="567" cy="201" rx="19" ry="19"/><ellipse cx="325" cy="317" rx="18" ry="15"/><ellipse cx="574" cy="202" rx="13" ry="11"/><ellipse cx="46" cy="86" rx="13" ry="10"/><ellipse cx="511" cy="155" rx="16" ry="11"/><ellipse cx="378" cy="453" rx="15" ry="10"/><ellipse cx="140" cy="512" rx="15" ry="9"/><ellipse cx="278" cy="69" rx="14" ry="10"/><ellipse cx="145" cy="194" rx="12" ry="7"/><ellipse cx="551" cy="437" rx="14" ry="14"/><ellipse cx="393" cy="438" rx="17" ry="12"/><ellipse cx="232" cy="244" rx="11" ry="11"/><ellipse cx="452" cy="327" rx="17" ry="14"/></g><g fill="#40289C" opacity="0.9"><ellipse cx="601" cy="471" rx="14" ry="14"/><ellipse cx="309" cy="537" rx="15" ry="15"/><ellipse cx="356" cy="252" rx="13" ry="9"/><ellipse cx="471" cy="509" rx="17" ry="17"/><ellipse cx="384" cy="571" rx="11" ry="9"/><ellipse cx="575" cy="558" rx="16" ry="16"/><ellipse cx="533" cy="163" rx="12" ry="10"/><ellipse cx="475" cy="175" rx="14" ry="12"/><ellipse cx="611" cy="238" rx="14" ry="11"/><ellipse cx="196" cy="73" rx="12" ry="8"/><ellipse cx="467" cy="555" rx="18" ry="15"/><ellipse cx="41" cy="178" rx="17" ry="10"/><ellipse cx="415" cy="559" rx="14" ry="13"/><ellipse cx="497" cy="397" rx="19" ry="15"/><ellipse cx="439" cy="208" rx="14" ry="12"/><ellipse cx="218" cy="489" rx="19" ry="14"/><ellipse cx="243" cy="341" rx="16" ry="11"/><ellipse cx="251" cy="581" rx="17" ry="16"/><ellipse cx="338" cy="440" rx="12" ry="8"/><ellipse cx="332" cy="129" rx="13" ry="9"/><ellipse cx="549" cy="331" rx="16" ry="14"/><ellipse cx="368" cy="67" rx="14" ry="13"/><ellipse cx="638" cy="90" rx="17" ry="14"/><ellipse cx="80" cy="396" rx="15" ry="12"/><ellipse cx="432" cy="397" rx="18" ry="13"/><ellipse cx="349" cy="183" rx="13" ry="8"/><ellipse cx="24" cy="45" rx="16" ry="14"/><ellipse cx="214" cy="202" rx="12" ry="7"/><ellipse cx="87" cy="249" rx="17" ry="11"/><ellipse cx="370" cy="156" rx="17" ry="11"/><ellipse cx="194" cy="543" rx="15" ry="11"/><ellipse cx="363" cy="153" rx="15" ry="12"/><ellipse cx="35" cy="177" rx="15" ry="10"/></g><g fill="#2C2CDC" opacity="0.9"><ellipse cx="593" cy="462" rx="15" ry="15"/><ellipse cx="256" cy="484" rx="19" ry="12"/><ellipse cx="481" cy="393" rx="18" ry="16"/><ellipse cx="555" cy="163" rx="13" ry="13"/><ellipse cx="582" cy="407" rx="17" ry="16"/><ellipse cx="120" cy="538" rx="17" ry="14"/><ellipse cx="21" cy="395" rx="17" ry="15"/><ellipse cx="54" cy="324" rx="19" ry="14"/><ellipse cx="558" cy="239" rx="15" ry="12"/><ellipse cx="159" cy="311" rx="14" ry="14"/><ellipse cx="85" cy="481" rx="14" ry="13"/><ellipse cx="71" cy="330" rx="18" ry="17"/><ellipse cx="335" cy="504" rx="16" ry="14"/><ellipse cx="187" cy="92" rx="16" ry="11"/></g>
</g>
<g filter="url(#gb1)">
<ellipse cx="480" cy="470" rx="58" ry="55" fill="#1A0404"/><ellipse cx="430" cy="322" rx="28" ry="20" fill="#200808"/><ellipse cx="635" cy="50" rx="42" ry="40" fill="#000000"/><ellipse cx="45" cy="160" rx="28" ry="35" fill="#000000"/><ellipse cx="160" cy="470" rx="22" ry="50" fill="#380808"/><ellipse cx="300" cy="345" rx="14" ry="30" fill="#0A0A14"/>
</g>
<g filter="url(#wp)">
<g fill="none" stroke="#C01838" stroke-width="5" opacity="0.85"><ellipse cx="41" cy="99" rx="17" ry="11"/><ellipse cx="53" cy="88" rx="15" ry="11"/><ellipse cx="81" cy="89" rx="19" ry="19"/><ellipse cx="84" cy="72" rx="16" ry="15"/><ellipse cx="97" cy="71" rx="18" ry="14"/><ellipse cx="108" cy="54" rx="20" ry="14"/><ellipse cx="116" cy="76" rx="15" ry="15"/><ellipse cx="142" cy="78" rx="19" ry="13"/><ellipse cx="150" cy="86" rx="11" ry="8"/></g><g fill="none" stroke="#C81838" stroke-width="5" opacity="0.85"><ellipse cx="57" cy="192" rx="14" ry="13"/><ellipse cx="88" cy="188" rx="18" ry="11"/><ellipse cx="104" cy="186" rx="18" ry="16"/><ellipse cx="111" cy="170" rx="17" ry="17"/><ellipse cx="111" cy="167" rx="19" ry="17"/><ellipse cx="139" cy="164" rx="14" ry="10"/><ellipse cx="152" cy="144" rx="11" ry="8"/></g><g fill="none" stroke="#B81838" stroke-width="5" opacity="0.85"><ellipse cx="452" cy="87" rx="18" ry="15"/><ellipse cx="463" cy="102" rx="15" ry="12"/><ellipse cx="481" cy="85" rx="18" ry="16"/><ellipse cx="493" cy="80" rx="14" ry="10"/><ellipse cx="506" cy="59" rx="14" ry="14"/><ellipse cx="526" cy="81" rx="12" ry="10"/><ellipse cx="541" cy="67" rx="17" ry="17"/><ellipse cx="563" cy="77" rx="19" ry="12"/><ellipse cx="574" cy="78" rx="13" ry="11"/><ellipse cx="589" cy="106" rx="19" ry="15"/><ellipse cx="604" cy="95" rx="18" ry="13"/><ellipse cx="608" cy="112" rx="19" ry="18"/><ellipse cx="633" cy="124" rx="18" ry="18"/><ellipse cx="647" cy="99" rx="15" ry="11"/></g><g fill="none" stroke="#B01838" stroke-width="6" opacity="0.8"><ellipse cx="211" cy="152" rx="16" ry="15"/><ellipse cx="246" cy="141" rx="17" ry="12"/><ellipse cx="257" cy="153" rx="16" ry="15"/></g><g fill="none" stroke="#A01030" stroke-width="5" opacity="0.7"><ellipse cx="606" cy="349" rx="19" ry="18"/><ellipse cx="621" cy="364" rx="11" ry="11"/><ellipse cx="637" cy="368" rx="12" ry="12"/><ellipse cx="637" cy="372" rx="15" ry="9"/><ellipse cx="642" cy="398" rx="16" ry="14"/><ellipse cx="657" cy="417" rx="16" ry="16"/></g><ellipse cx="530" cy="385" rx="20" ry="24" fill="#E01888"/><ellipse cx="530" cy="385" rx="10" ry="13" fill="#F060B0"/><ellipse cx="130" cy="165" rx="14" ry="14" fill="#D01840"/><ellipse cx="650" cy="585" rx="12" ry="12" fill="#E02010"/>
</g>
<g filter="url(#wp)">
<path d="M105 385 L160 358 L212 400 L236 470 L200 540 L150 566 L112 520 L88 450 L105 385" fill="none" stroke="#2A7A20" stroke-width="22" stroke-linecap="round" stroke-linejoin="round" opacity="0.55"/><g fill="#1C1CC8" stroke="#48E838" stroke-width="6"><ellipse cx="106" cy="383" rx="18" ry="16"/><ellipse cx="122" cy="372" rx="18" ry="16"/><ellipse cx="140" cy="378" rx="14" ry="11"/><ellipse cx="159" cy="370" rx="15" ry="14"/><ellipse cx="200" cy="386" rx="14" ry="11"/><ellipse cx="230" cy="435" rx="15" ry="10"/><ellipse cx="241" cy="477" rx="15" ry="9"/><ellipse cx="228" cy="501" rx="14" ry="12"/><ellipse cx="198" cy="522" rx="12" ry="9"/><ellipse cx="202" cy="541" rx="12" ry="11"/><ellipse cx="188" cy="550" rx="12" ry="11"/><ellipse cx="163" cy="568" rx="15" ry="14"/><ellipse cx="140" cy="552" rx="18" ry="16"/><ellipse cx="128" cy="541" rx="11" ry="10"/><ellipse cx="115" cy="499" rx="17" ry="13"/><ellipse cx="108" cy="479" rx="13" ry="9"/><ellipse cx="99" cy="471" rx="18" ry="18"/><ellipse cx="88" cy="423" rx="16" ry="11"/><ellipse cx="110" cy="391" rx="14" ry="13"/></g><g fill="none" stroke="#48E838" stroke-width="6"><ellipse cx="145" cy="357" rx="11" ry="11"/><ellipse cx="176" cy="373" rx="18" ry="13"/><ellipse cx="200" cy="393" rx="19" ry="12"/><ellipse cx="224" cy="402" rx="16" ry="16"/><ellipse cx="226" cy="425" rx="15" ry="11"/><ellipse cx="225" cy="456" rx="16" ry="16"/><ellipse cx="235" cy="471" rx="18" ry="15"/><ellipse cx="218" cy="501" rx="15" ry="12"/><ellipse cx="174" cy="550" rx="19" ry="14"/><ellipse cx="149" cy="559" rx="19" ry="17"/><ellipse cx="122" cy="529" rx="17" ry="12"/><ellipse cx="108" cy="512" rx="14" ry="14"/><ellipse cx="88" cy="458" rx="16" ry="10"/><ellipse cx="95" cy="440" rx="11" ry="10"/><ellipse cx="97" cy="409" rx="18" ry="14"/></g><path d="M295 372 Q276 440 280 520 Q285 548 292 556" fill="none" stroke="#48E838" stroke-width="15" stroke-linecap="round" stroke-linejoin="round"/><path d="M388 302 L425 282 L472 300 L520 322 L546 372 L548 430 L520 462" fill="none" stroke="#2A7A20" stroke-width="22" stroke-linecap="round" stroke-linejoin="round" opacity="0.55"/><g fill="#1C1CC8" stroke="#48E838" stroke-width="6"><ellipse cx="392" cy="301" rx="15" ry="11"/><ellipse cx="405" cy="288" rx="13" ry="10"/><ellipse cx="448" cy="294" rx="12" ry="9"/><ellipse cx="456" cy="294" rx="11" ry="9"/><ellipse cx="468" cy="304" rx="15" ry="12"/><ellipse cx="484" cy="312" rx="18" ry="16"/><ellipse cx="524" cy="348" rx="17" ry="13"/><ellipse cx="535" cy="353" rx="18" ry="12"/><ellipse cx="545" cy="360" rx="15" ry="15"/><ellipse cx="537" cy="374" rx="11" ry="7"/><ellipse cx="539" cy="392" rx="10" ry="9"/><ellipse cx="532" cy="450" rx="12" ry="11"/></g><g fill="none" stroke="#48E838" stroke-width="6"><ellipse cx="420" cy="294" rx="10" ry="8"/><ellipse cx="424" cy="294" rx="13" ry="13"/><ellipse cx="428" cy="290" rx="11" ry="11"/><ellipse cx="472" cy="301" rx="11" ry="10"/><ellipse cx="502" cy="309" rx="12" ry="11"/><ellipse cx="508" cy="308" rx="10" ry="9"/><ellipse cx="517" cy="324" rx="14" ry="14"/><ellipse cx="515" cy="331" rx="14" ry="10"/><ellipse cx="542" cy="391" rx="15" ry="14"/><ellipse cx="551" cy="414" rx="14" ry="13"/><ellipse cx="558" cy="417" rx="18" ry="16"/><ellipse cx="546" cy="429" rx="13" ry="9"/><ellipse cx="535" cy="439" rx="10" ry="10"/><ellipse cx="532" cy="460" rx="12" ry="11"/></g><path d="M392 312 L372 360 L400 410 L440 438 L470 400" fill="none" stroke="#2A7A20" stroke-width="18" stroke-linecap="round" stroke-linejoin="round" opacity="0.55"/><g fill="none" stroke="#48E838" stroke-width="6"><ellipse cx="393" cy="316" rx="15" ry="15"/><ellipse cx="376" cy="332" rx="16" ry="16"/><ellipse cx="383" cy="351" rx="11" ry="9"/><ellipse cx="376" cy="358" rx="15" ry="14"/><ellipse cx="378" cy="365" rx="14" ry="14"/><ellipse cx="388" cy="378" rx="10" ry="9"/><ellipse cx="400" cy="393" rx="13" ry="8"/><ellipse cx="402" cy="417" rx="12" ry="9"/><ellipse cx="417" cy="425" rx="14" ry="11"/><ellipse cx="424" cy="432" rx="12" ry="8"/><ellipse cx="436" cy="432" rx="13" ry="12"/><ellipse cx="445" cy="420" rx="9" ry="7"/><ellipse cx="461" cy="426" rx="13" ry="12"/><ellipse cx="474" cy="404" rx="12" ry="10"/></g><path d="M440 362 L470 420 M470 400 Q480 362 520 382" fill="none" stroke="#48E838" stroke-width="10" stroke-linecap="round" stroke-linejoin="round"/><g fill="none" stroke="#30C82A" stroke-width="5" opacity="0.8"><ellipse cx="152" cy="63" rx="18" ry="17"/><ellipse cx="165" cy="79" rx="16" ry="11"/><ellipse cx="173" cy="82" rx="12" ry="12"/><ellipse cx="182" cy="90" rx="14" ry="11"/><ellipse cx="163" cy="120" rx="12" ry="11"/><ellipse cx="169" cy="127" rx="18" ry="15"/><ellipse cx="154" cy="144" rx="10" ry="6"/><ellipse cx="139" cy="149" rx="12" ry="8"/><ellipse cx="130" cy="165" rx="12" ry="8"/><ellipse cx="120" cy="163" rx="16" ry="14"/><ellipse cx="101" cy="158" rx="14" ry="9"/><ellipse cx="79" cy="147" rx="11" ry="10"/></g><path d="M395 100 Q390 170 405 230" fill="none" stroke="#30C82A" stroke-width="8" stroke-linecap="round" stroke-linejoin="round" opacity="0.9"/><g fill="none" stroke="#C4D828" stroke-width="5" opacity="0.8"><ellipse cx="463" cy="139" rx="17" ry="16"/><ellipse cx="466" cy="151" rx="12" ry="8"/><ellipse cx="498" cy="149" rx="18" ry="11"/><ellipse cx="507" cy="166" rx="15" ry="10"/><ellipse cx="520" cy="152" rx="15" ry="11"/><ellipse cx="533" cy="138" rx="11" ry="7"/><ellipse cx="551" cy="127" rx="19" ry="18"/><ellipse cx="577" cy="126" rx="19" ry="15"/><ellipse cx="588" cy="109" rx="19" ry="17"/><ellipse cx="600" cy="105" rx="19" ry="16"/><ellipse cx="619" cy="108" rx="17" ry="12"/><ellipse cx="627" cy="102" rx="18" ry="11"/></g><path d="M560 512 L600 492 L640 520 L650 560 L630 592" fill="none" stroke="#2A7A20" stroke-width="22" stroke-linecap="round" stroke-linejoin="round" opacity="0.55"/><g fill="none" stroke="#48E838" stroke-width="6"><ellipse cx="564" cy="509" rx="14" ry="12"/><ellipse cx="578" cy="511" rx="10" ry="10"/><ellipse cx="594" cy="484" rx="11" ry="9"/><ellipse cx="601" cy="497" rx="17" ry="13"/><ellipse cx="618" cy="504" rx="18" ry="17"/><ellipse cx="638" cy="510" rx="14" ry="12"/><ellipse cx="640" cy="525" rx="10" ry="10"/><ellipse cx="650" cy="538" rx="13" ry="8"/><ellipse cx="637" cy="549" rx="17" ry="15"/><ellipse cx="643" cy="560" rx="11" ry="8"/><ellipse cx="643" cy="574" rx="14" ry="9"/><ellipse cx="633" cy="583" rx="14" ry="10"/></g><path d="M390 55 Q420 40 445 50" fill="none" stroke="#70C890" stroke-width="14" stroke-linecap="round" stroke-linejoin="round" opacity="0.8"/><ellipse cx="480" cy="130" rx="14" ry="10" fill="#48E040"/><ellipse cx="90" cy="348" rx="6" ry="6" fill="#C0E0E0"/>
</g>
</g>
<rect x="370.4" y="729.3" width="98.20000000000005" height="88.5" filter="url(#nzB)" opacity="0.55"/>
</g>
<rect x="508.9" y="710.0" width="10.0" height="10.0" fill="#FFFFFF" stroke="#000" stroke-width="1"/>
<text x="522.5" y="718.6" font-size="10"><tspan font-style="italic">Txnip<tspan font-size="7.2" dy="-3.6">fl/fl</tspan></tspan></text>
<rect x="508.9" y="724.0" width="10.0" height="10.0" fill="#8E8E8E" stroke="#000" stroke-width="1"/>
<text x="522.5" y="732.4" font-size="10"><tspan font-style="italic">Txnip<tspan font-size="6.8" dy="-3.6">ΔSOX9</tspan></tspan></text>
<line x1="506.5" y1="740.4" x2="506.5" y2="798.2" stroke="#000" stroke-width="1.1"/>
<line x1="506.4" y1="797.5" x2="569.8" y2="797.5" stroke="#000" stroke-width="1.1"/>
<line x1="504.1" y1="797.5" x2="506.9" y2="797.5" stroke="#000" stroke-width="1.1"/>
<text x="503.6" y="800.7" font-size="8.4" text-anchor="end">0</text>
<line x1="504.1" y1="778.5" x2="506.9" y2="778.5" stroke="#000" stroke-width="1.1"/>
<text x="503.6" y="781.8" font-size="8.4" text-anchor="end">10</text>
<line x1="504.1" y1="759.5" x2="506.9" y2="759.5" stroke="#000" stroke-width="1.1"/>
<text x="503.6" y="762.8" font-size="8.4" text-anchor="end">20</text>
<line x1="504.1" y1="740.5" x2="506.9" y2="740.5" stroke="#000" stroke-width="1.1"/>
<text x="503.6" y="743.9" font-size="8.4" text-anchor="end">30</text>
<rect x="513.5" y="782.7" width="17.4" height="15.0" fill="#FFF" stroke="#000" stroke-width="1.0"/>
<rect x="545.8" y="772.5" width="17.4" height="25.2" fill="#8E8E8E" stroke="#000" stroke-width="1.0"/>
<line x1="522.2" y1="777.8" x2="522.2" y2="787.3" stroke="#000" stroke-width="0.8"/>
<line x1="519.8" y1="777.8" x2="524.6" y2="777.8" stroke="#000" stroke-width="0.8"/>
<line x1="519.8" y1="787.3" x2="524.6" y2="787.3" stroke="#000" stroke-width="0.8"/>
<line x1="554.5" y1="767.0" x2="554.5" y2="777.3" stroke="#000" stroke-width="0.8"/>
<line x1="552.1" y1="767.0" x2="556.9" y2="767.0" stroke="#000" stroke-width="0.8"/>
<line x1="552.1" y1="777.3" x2="556.9" y2="777.3" stroke="#000" stroke-width="0.8"/>
<circle cx="519.5" cy="779.5" r="1.8" fill="#FFFFFF" stroke="#000" stroke-width="1.15"/><circle cx="524.8" cy="779.0" r="1.8" fill="#FFFFFF" stroke="#000" stroke-width="1.15"/><circle cx="519.8" cy="785.6" r="1.8" fill="#FFFFFF" stroke="#000" stroke-width="1.15"/><circle cx="524.2" cy="787.1" r="1.8" fill="#FFFFFF" stroke="#000" stroke-width="1.15"/><circle cx="551.6" cy="768.7" r="1.8" fill="#FFFFFF" stroke="#000" stroke-width="1.15"/><circle cx="556.4" cy="769.1" r="1.8" fill="#FFFFFF" stroke="#000" stroke-width="1.15"/><circle cx="553.0" cy="775.7" r="1.8" fill="#FFFFFF" stroke="#000" stroke-width="1.15"/><circle cx="557.0" cy="776.1" r="1.8" fill="#FFFFFF" stroke="#000" stroke-width="1.15"/>
<text x="535.4" y="755.2" font-size="8.4" text-anchor="middle"><tspan font-style="italic">P</tspan>=0.0240</text>
<line x1="513.5" y1="758.5" x2="563.2" y2="758.5" stroke="#000" stroke-width="1.1"/>
<text x="478.8" y="768.5" font-size="8.7" text-anchor="middle" transform="rotate(-90 478.8 768.5)">% Pan-CK<tspan font-size="6" dy="-3">+</tspan></text>
<text x="489.4" y="768.5" font-size="8.7" text-anchor="middle" transform="rotate(-90 489.4 768.5)">BrdU<tspan font-size="6" dy="-3">+</tspan><tspan dy="3"> cells</tspan></text>
<line x1="609.5" y1="740.4" x2="609.5" y2="798.2" stroke="#000" stroke-width="1.1"/>
<line x1="608.8" y1="797.5" x2="671.6" y2="797.5" stroke="#000" stroke-width="1.1"/>
<line x1="606.5" y1="797.5" x2="609.3" y2="797.5" stroke="#000" stroke-width="1.1"/>
<text x="606.0" y="800.7" font-size="8.4" text-anchor="end">0</text>
<line x1="606.5" y1="786.5" x2="609.3" y2="786.5" stroke="#000" stroke-width="1.1"/>
<text x="606.0" y="789.3" font-size="8.4" text-anchor="end">20</text>
<line x1="606.5" y1="774.5" x2="609.3" y2="774.5" stroke="#000" stroke-width="1.1"/>
<text x="606.0" y="778.0" font-size="8.4" text-anchor="end">40</text>
<line x1="606.5" y1="763.5" x2="609.3" y2="763.5" stroke="#000" stroke-width="1.1"/>
<text x="606.0" y="766.6" font-size="8.4" text-anchor="end">60</text>
<line x1="606.5" y1="752.5" x2="609.3" y2="752.5" stroke="#000" stroke-width="1.1"/>
<text x="606.0" y="755.3" font-size="8.4" text-anchor="end">80</text>
<line x1="606.5" y1="740.5" x2="609.3" y2="740.5" stroke="#000" stroke-width="1.1"/>
<text x="606.0" y="743.9" font-size="8.4" text-anchor="end">100</text>
<rect x="616.2" y="752.3" width="17.0" height="45.4" fill="#FFF" stroke="#000" stroke-width="1.0"/>
<rect x="649.1" y="769.6" width="17.1" height="28.1" fill="#8E8E8E" stroke="#000" stroke-width="1.0"/>
<line x1="624.7" y1="747.1" x2="624.7" y2="757.4" stroke="#000" stroke-width="0.8"/>
<line x1="622.3" y1="747.1" x2="627.1" y2="747.1" stroke="#000" stroke-width="0.8"/>
<line x1="622.3" y1="757.4" x2="627.1" y2="757.4" stroke="#000" stroke-width="0.8"/>
<line x1="657.6" y1="760.2" x2="657.6" y2="779.0" stroke="#000" stroke-width="0.8"/>
<line x1="655.2" y1="760.2" x2="660.0" y2="760.2" stroke="#000" stroke-width="0.8"/>
<line x1="655.2" y1="779.0" x2="660.0" y2="779.0" stroke="#000" stroke-width="0.8"/>
<circle cx="624.5" cy="746.6" r="1.8" fill="#FFFFFF" stroke="#000" stroke-width="1.15"/><circle cx="623.2" cy="750.6" r="1.8" fill="#FFFFFF" stroke="#000" stroke-width="1.15"/><circle cx="626.6" cy="752.8" r="1.8" fill="#FFFFFF" stroke="#000" stroke-width="1.15"/><circle cx="624.9" cy="759.1" r="1.8" fill="#FFFFFF" stroke="#000" stroke-width="1.15"/><circle cx="657.4" cy="758.5" r="1.8" fill="#FFFFFF" stroke="#000" stroke-width="1.15"/><circle cx="659.6" cy="776.1" r="1.8" fill="#FFFFFF" stroke="#000" stroke-width="1.15"/><circle cx="655.6" cy="777.8" r="1.8" fill="#FFFFFF" stroke="#000" stroke-width="1.15"/><circle cx="657.8" cy="778.4" r="1.8" fill="#FFFFFF" stroke="#000" stroke-width="1.15"/>
<text x="641.6" y="737.3" font-size="8.4" text-anchor="middle"><tspan font-style="italic">P</tspan>=0.0153</text>
<line x1="620.7" y1="740.5" x2="662.6" y2="740.5" stroke="#000" stroke-width="1.1"/>
<text x="582.0" y="768.5" font-size="8.7" text-anchor="middle" transform="rotate(-90 582.0 768.5)">% Pan-CK<tspan font-size="6" dy="-3">+</tspan></text>
<text x="590.6" y="768.5" font-size="8.7" text-anchor="middle" transform="rotate(-90 590.6 768.5)">casp-3<tspan font-size="6" dy="-3">+</tspan><tspan dy="3"> cells</tspan></text>
</svg>
</body></html>
